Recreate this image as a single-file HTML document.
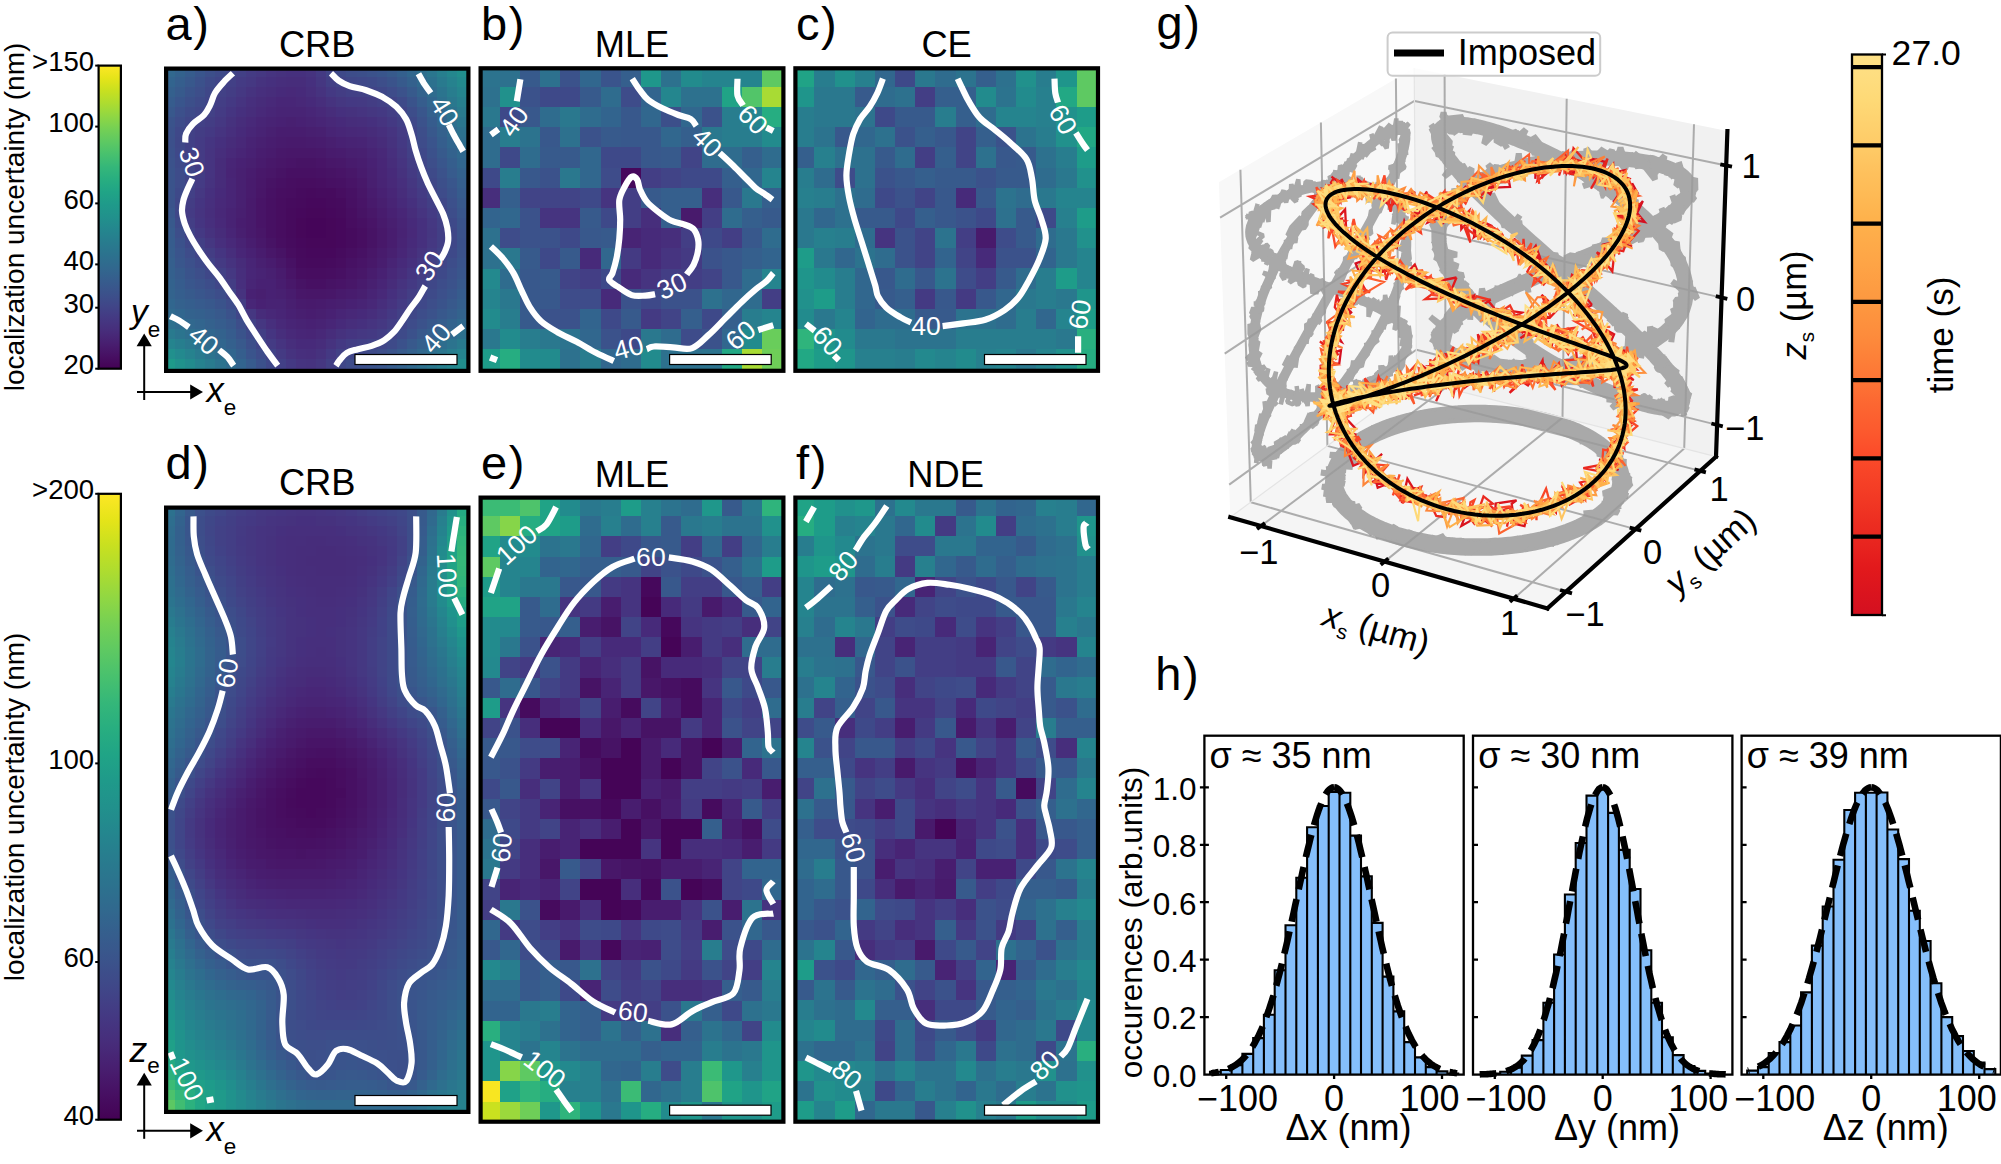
<!DOCTYPE html>
<html><head><meta charset="utf-8"><title>figure</title>
<style>
html,body{margin:0;padding:0;background:#fff;}
svg{display:block;font-family:"Liberation Sans", sans-serif;}
</style></head><body>
<svg width="2001" height="1164" viewBox="0 0 2001 1164">
<rect width="2001" height="1164" fill="#fff"/>
<defs>
<linearGradient id="gv" x1="0" y1="0" x2="0" y2="1"><stop offset="0%" stop-color="#fde725"/><stop offset="4.2%" stop-color="#e5e419"/><stop offset="8.3%" stop-color="#c8e020"/><stop offset="12.5%" stop-color="#addc30"/><stop offset="16.7%" stop-color="#90d743"/><stop offset="20.8%" stop-color="#75d054"/><stop offset="25%" stop-color="#5ec962"/><stop offset="29.2%" stop-color="#48c16e"/><stop offset="33.3%" stop-color="#35b779"/><stop offset="37.5%" stop-color="#28ae80"/><stop offset="41.7%" stop-color="#20a486"/><stop offset="45.8%" stop-color="#1f9a8a"/><stop offset="50%" stop-color="#21918c"/><stop offset="54.2%" stop-color="#24868e"/><stop offset="58.3%" stop-color="#287c8e"/><stop offset="62.5%" stop-color="#2c728e"/><stop offset="66.7%" stop-color="#31688e"/><stop offset="70.8%" stop-color="#365d8d"/><stop offset="75%" stop-color="#3b528b"/><stop offset="79.2%" stop-color="#404688"/><stop offset="83.3%" stop-color="#443983"/><stop offset="87.5%" stop-color="#472d7b"/><stop offset="91.7%" stop-color="#481f70"/><stop offset="95.8%" stop-color="#471063"/><stop offset="100%" stop-color="#440154"/></linearGradient>
<linearGradient id="gy" x1="0" y1="0" x2="0" y2="1"><stop offset="0%" stop-color="#fee187"/><stop offset="4.2%" stop-color="#fedd7f"/><stop offset="8.3%" stop-color="#fed976"/><stop offset="12.5%" stop-color="#fed16e"/><stop offset="16.7%" stop-color="#feca66"/><stop offset="20.8%" stop-color="#fec15d"/><stop offset="25%" stop-color="#feba55"/><stop offset="29.2%" stop-color="#feb24c"/><stop offset="33.3%" stop-color="#feab49"/><stop offset="37.5%" stop-color="#fea446"/><stop offset="41.7%" stop-color="#fd9c42"/><stop offset="45.8%" stop-color="#fd953f"/><stop offset="50%" stop-color="#fd8c3c"/><stop offset="54.2%" stop-color="#fd8038"/><stop offset="58.3%" stop-color="#fd7435"/><stop offset="62.5%" stop-color="#fc6631"/><stop offset="66.7%" stop-color="#fc5b2e"/><stop offset="70.8%" stop-color="#fc4d2a"/><stop offset="75%" stop-color="#f74327"/><stop offset="79.2%" stop-color="#f23924"/><stop offset="83.3%" stop-color="#ed2e21"/><stop offset="87.5%" stop-color="#e8241f"/><stop offset="91.7%" stop-color="#e2191c"/><stop offset="95.8%" stop-color="#db141e"/><stop offset="100%" stop-color="#d41020"/></linearGradient>
</defs>
<rect x="98.6" y="65.6" width="22.3" height="303.1" fill="url(#gv)" stroke="#000" stroke-width="2.2"/>
<path d="M95.2,368.7H98.6" stroke="#000" stroke-width="2"/>
<text x="94.2" y="374.1" font-size="27.6" text-anchor="end" fill="#000">20</text>
<path d="M95.2,307.7H98.6" stroke="#000" stroke-width="2"/>
<text x="94.2" y="313.1" font-size="27.6" text-anchor="end" fill="#000">30</text>
<path d="M95.2,264.4H98.6" stroke="#000" stroke-width="2"/>
<text x="94.2" y="269.8" font-size="27.6" text-anchor="end" fill="#000">40</text>
<path d="M95.2,203.4H98.6" stroke="#000" stroke-width="2"/>
<text x="94.2" y="208.8" font-size="27.6" text-anchor="end" fill="#000">60</text>
<path d="M95.2,126.6H98.6" stroke="#000" stroke-width="2"/>
<text x="94.2" y="132" font-size="27.6" text-anchor="end" fill="#000">100</text>
<path d="M95.2,65.6H98.6" stroke="#000" stroke-width="2"/>
<text x="94.2" y="71" font-size="27.6" text-anchor="end" fill="#000">&gt;150</text>
<rect x="98.6" y="493.8" width="22.3" height="625.9" fill="url(#gv)" stroke="#000" stroke-width="2.2"/>
<path d="M95.2,1119.7H98.6" stroke="#000" stroke-width="2"/>
<text x="94.2" y="1125.1" font-size="27.6" text-anchor="end" fill="#000">40</text>
<path d="M95.2,962H98.6" stroke="#000" stroke-width="2"/>
<text x="94.2" y="967.4" font-size="27.6" text-anchor="end" fill="#000">60</text>
<path d="M95.2,763.4H98.6" stroke="#000" stroke-width="2"/>
<text x="94.2" y="768.8" font-size="27.6" text-anchor="end" fill="#000">100</text>
<path d="M95.2,493.8H98.6" stroke="#000" stroke-width="2"/>
<text x="94.2" y="499.2" font-size="27.6" text-anchor="end" fill="#000">&gt;200</text>
<text x="0" y="0" font-size="28" text-anchor="middle" fill="#000" transform="translate(23.9,217) rotate(-90)">localization uncertainty (nm)</text>
<text x="0" y="0" font-size="28" text-anchor="middle" fill="#000" transform="translate(23.9,806.9) rotate(-90)">localization uncertainty (nm)</text>
<g class="hc" shape-rendering="crispEdges">
<g transform="translate(165,66.9)"><rect x="0" width="10.7" height="10.7" fill="#31688e"/><rect x="10.1" width="10.7" height="10.7" fill="#33628d"/><rect x="20.2" width="10.7" height="10.7" fill="#365c8d"/><rect x="30.2" width="10.7" height="10.7" fill="#39558c"/><rect x="40.3" width="10.7" height="10.7" fill="#3c4f8a"/><rect x="50.4" width="10.7" height="10.7" fill="#3e4a89"/><rect x="60.5" width="10.7" height="10.7" fill="#404588"/><rect x="70.5" width="10.7" height="10.7" fill="#424086"/><rect x="80.6" width="10.7" height="10.7" fill="#443b84"/><rect x="90.7" width="10.7" height="10.7" fill="#453882"/><rect x="100.8" width="10.7" height="10.7" fill="#463480"/><rect x="110.8" width="10.7" height="10.7" fill="#46327e"/><rect x="120.9" width="20.8" height="10.7" fill="#46307e"/><rect x="141.1" width="10.7" height="10.7" fill="#46337f"/><rect x="151.1" width="10.7" height="10.7" fill="#443a83"/><rect x="161.2" width="10.7" height="10.7" fill="#414487"/><rect x="171.3" width="10.7" height="10.7" fill="#3e4989"/><rect x="181.4" width="10.7" height="10.7" fill="#3d4d8a"/><rect x="191.5" width="10.7" height="10.7" fill="#3c4f8a"/><rect x="201.5" width="10.7" height="10.7" fill="#3b528b"/><rect x="211.6" width="10.7" height="10.7" fill="#39558c"/><rect x="221.7" width="10.7" height="10.7" fill="#375a8c"/><rect x="231.8" width="10.7" height="10.7" fill="#34608d"/><rect x="241.8" width="10.7" height="10.7" fill="#31678e"/><rect x="251.9" width="10.7" height="10.7" fill="#2e6f8e"/><rect x="262" width="10.7" height="10.7" fill="#2a768e"/><rect x="272.1" width="10.7" height="10.7" fill="#277f8e"/><rect x="282.1" width="10.7" height="10.7" fill="#24878e"/><rect x="292.2" width="10.7" height="10.7" fill="#218f8d"/></g>
<g transform="translate(165,77)"><rect x="0" width="10.7" height="10.7" fill="#32648e"/><rect x="10.1" width="10.7" height="10.7" fill="#355e8d"/><rect x="20.2" width="10.7" height="10.7" fill="#38588c"/><rect x="30.2" width="10.7" height="10.7" fill="#3b518b"/><rect x="40.3" width="10.7" height="10.7" fill="#3e4a89"/><rect x="50.4" width="10.7" height="10.7" fill="#404588"/><rect x="60.5" width="10.7" height="10.7" fill="#424086"/><rect x="70.5" width="10.7" height="10.7" fill="#443b84"/><rect x="80.6" width="10.7" height="10.7" fill="#453882"/><rect x="90.7" width="10.7" height="10.7" fill="#46337f"/><rect x="100.8" width="10.7" height="10.7" fill="#46307e"/><rect x="110.8" width="10.7" height="10.7" fill="#472e7c"/><rect x="120.9" width="20.8" height="10.7" fill="#472d7b"/><rect x="141.1" width="10.7" height="10.7" fill="#46307e"/><rect x="151.1" width="10.7" height="10.7" fill="#453781"/><rect x="161.2" width="10.7" height="10.7" fill="#423f85"/><rect x="171.3" width="10.7" height="10.7" fill="#414487"/><rect x="181.4" width="10.7" height="10.7" fill="#3f4788"/><rect x="191.5" width="10.7" height="10.7" fill="#3f4889"/><rect x="201.5" width="10.7" height="10.7" fill="#3e4a89"/><rect x="211.6" width="10.7" height="10.7" fill="#3d4e8a"/><rect x="221.7" width="10.7" height="10.7" fill="#3a538b"/><rect x="231.8" width="10.7" height="10.7" fill="#375a8c"/><rect x="241.8" width="10.7" height="10.7" fill="#34618d"/><rect x="251.9" width="10.7" height="10.7" fill="#30698e"/><rect x="262" width="10.7" height="10.7" fill="#2c718e"/><rect x="272.1" width="10.7" height="10.7" fill="#297a8e"/><rect x="282.1" width="10.7" height="10.7" fill="#26828e"/><rect x="292.2" width="10.7" height="10.7" fill="#238a8d"/></g>
<g transform="translate(165,87.1)"><rect x="0" width="10.7" height="10.7" fill="#34608d"/><rect x="10.1" width="10.7" height="10.7" fill="#375a8c"/><rect x="20.2" width="10.7" height="10.7" fill="#3a538b"/><rect x="30.2" width="10.7" height="10.7" fill="#3d4e8a"/><rect x="40.3" width="10.7" height="10.7" fill="#3f4788"/><rect x="50.4" width="10.7" height="10.7" fill="#424186"/><rect x="60.5" width="10.7" height="10.7" fill="#433d84"/><rect x="70.5" width="10.7" height="10.7" fill="#453882"/><rect x="80.6" width="10.7" height="10.7" fill="#46337f"/><rect x="90.7" width="10.7" height="10.7" fill="#472f7d"/><rect x="100.8" width="10.7" height="10.7" fill="#472d7b"/><rect x="110.8" width="10.7" height="10.7" fill="#472a7a"/><rect x="120.9" width="10.7" height="10.7" fill="#482979"/><rect x="131" width="10.7" height="10.7" fill="#472a7a"/><rect x="141.1" width="10.7" height="10.7" fill="#472e7c"/><rect x="151.1" width="10.7" height="10.7" fill="#46337f"/><rect x="161.2" width="10.7" height="10.7" fill="#443983"/><rect x="171.3" width="10.7" height="10.7" fill="#433d84"/><rect x="181.4" width="10.7" height="10.7" fill="#424086"/><rect x="191.5" width="10.7" height="10.7" fill="#424186"/><rect x="201.5" width="10.7" height="10.7" fill="#414487"/><rect x="211.6" width="10.7" height="10.7" fill="#3f4788"/><rect x="221.7" width="10.7" height="10.7" fill="#3e4c8a"/><rect x="231.8" width="10.7" height="10.7" fill="#3b528b"/><rect x="241.8" width="10.7" height="10.7" fill="#375a8c"/><rect x="251.9" width="10.7" height="10.7" fill="#33638d"/><rect x="262" width="10.7" height="10.7" fill="#2f6c8e"/><rect x="272.1" width="10.7" height="10.7" fill="#2b748e"/><rect x="282.1" width="10.7" height="10.7" fill="#287d8e"/><rect x="292.2" width="10.7" height="10.7" fill="#25858e"/></g>
<g transform="translate(165,97.1)"><rect x="0" width="10.7" height="10.7" fill="#365c8d"/><rect x="10.1" width="10.7" height="10.7" fill="#39558c"/><rect x="20.2" width="10.7" height="10.7" fill="#3c4f8a"/><rect x="30.2" width="10.7" height="10.7" fill="#3e4a89"/><rect x="40.3" width="10.7" height="10.7" fill="#404588"/><rect x="50.4" width="10.7" height="10.7" fill="#433e85"/><rect x="60.5" width="10.7" height="10.7" fill="#443983"/><rect x="70.5" width="10.7" height="10.7" fill="#463480"/><rect x="80.6" width="10.7" height="10.7" fill="#472f7d"/><rect x="90.7" width="10.7" height="10.7" fill="#472c7a"/><rect x="100.8" width="10.7" height="10.7" fill="#482979"/><rect x="110.8" width="20.8" height="10.7" fill="#482677"/><rect x="131" width="10.7" height="10.7" fill="#482878"/><rect x="141.1" width="10.7" height="10.7" fill="#472a7a"/><rect x="151.1" width="10.7" height="10.7" fill="#472e7c"/><rect x="161.2" width="10.7" height="10.7" fill="#46337f"/><rect x="171.3" width="10.7" height="10.7" fill="#453781"/><rect x="181.4" width="10.7" height="10.7" fill="#443983"/><rect x="191.5" width="10.7" height="10.7" fill="#443a83"/><rect x="201.5" width="10.7" height="10.7" fill="#433d84"/><rect x="211.6" width="10.7" height="10.7" fill="#424086"/><rect x="221.7" width="10.7" height="10.7" fill="#414487"/><rect x="231.8" width="10.7" height="10.7" fill="#3e4a89"/><rect x="241.8" width="10.7" height="10.7" fill="#3a538b"/><rect x="251.9" width="10.7" height="10.7" fill="#365d8d"/><rect x="262" width="10.7" height="10.7" fill="#31668e"/><rect x="272.1" width="10.7" height="10.7" fill="#2d708e"/><rect x="282.1" width="10.7" height="10.7" fill="#2a788e"/><rect x="292.2" width="10.7" height="10.7" fill="#27808e"/></g>
<g transform="translate(165,107.2)"><rect x="0" width="10.7" height="10.7" fill="#38588c"/><rect x="10.1" width="10.7" height="10.7" fill="#3c508b"/><rect x="20.2" width="10.7" height="10.7" fill="#3e4a89"/><rect x="30.2" width="10.7" height="10.7" fill="#404688"/><rect x="40.3" width="10.7" height="10.7" fill="#424186"/><rect x="50.4" width="10.7" height="10.7" fill="#443b84"/><rect x="60.5" width="10.7" height="10.7" fill="#453581"/><rect x="70.5" width="10.7" height="10.7" fill="#46307e"/><rect x="80.6" width="10.7" height="10.7" fill="#472d7b"/><rect x="90.7" width="10.7" height="10.7" fill="#482979"/><rect x="100.8" width="10.7" height="10.7" fill="#482677"/><rect x="110.8" width="30.8" height="10.7" fill="#482475"/><rect x="141.1" width="10.7" height="10.7" fill="#482677"/><rect x="151.1" width="10.7" height="10.7" fill="#482979"/><rect x="161.2" width="10.7" height="10.7" fill="#472d7b"/><rect x="171.3" width="10.7" height="10.7" fill="#46307e"/><rect x="181.4" width="10.7" height="10.7" fill="#46327e"/><rect x="191.5" width="10.7" height="10.7" fill="#463480"/><rect x="201.5" width="10.7" height="10.7" fill="#453781"/><rect x="211.6" width="10.7" height="10.7" fill="#443983"/><rect x="221.7" width="10.7" height="10.7" fill="#433e85"/><rect x="231.8" width="10.7" height="10.7" fill="#414487"/><rect x="241.8" width="10.7" height="10.7" fill="#3d4d8a"/><rect x="251.9" width="10.7" height="10.7" fill="#39568c"/><rect x="262" width="10.7" height="10.7" fill="#34618d"/><rect x="272.1" width="10.7" height="10.7" fill="#306a8e"/><rect x="282.1" width="10.7" height="10.7" fill="#2c728e"/><rect x="292.2" width="10.7" height="10.7" fill="#297b8e"/></g>
<g transform="translate(165,117.3)"><rect x="0" width="10.7" height="10.7" fill="#3a538b"/><rect x="10.1" width="10.7" height="10.7" fill="#3e4c8a"/><rect x="20.2" width="10.7" height="10.7" fill="#404688"/><rect x="30.2" width="10.7" height="10.7" fill="#424186"/><rect x="40.3" width="10.7" height="10.7" fill="#433d84"/><rect x="50.4" width="10.7" height="10.7" fill="#453882"/><rect x="60.5" width="10.7" height="10.7" fill="#46327e"/><rect x="70.5" width="10.7" height="10.7" fill="#472d7b"/><rect x="80.6" width="10.7" height="10.7" fill="#482979"/><rect x="90.7" width="10.7" height="10.7" fill="#482576"/><rect x="100.8" width="10.7" height="10.7" fill="#482374"/><rect x="110.8" width="10.7" height="10.7" fill="#482173"/><rect x="120.9" width="10.7" height="10.7" fill="#482071"/><rect x="131" width="10.7" height="10.7" fill="#482173"/><rect x="141.1" width="10.7" height="10.7" fill="#482374"/><rect x="151.1" width="10.7" height="10.7" fill="#482576"/><rect x="161.2" width="10.7" height="10.7" fill="#482878"/><rect x="171.3" width="10.7" height="10.7" fill="#472a7a"/><rect x="181.4" width="10.7" height="10.7" fill="#472d7b"/><rect x="191.5" width="10.7" height="10.7" fill="#472e7c"/><rect x="201.5" width="10.7" height="10.7" fill="#46307e"/><rect x="211.6" width="10.7" height="10.7" fill="#463480"/><rect x="221.7" width="10.7" height="10.7" fill="#443983"/><rect x="231.8" width="10.7" height="10.7" fill="#423f85"/><rect x="241.8" width="10.7" height="10.7" fill="#3f4889"/><rect x="251.9" width="10.7" height="10.7" fill="#3b528b"/><rect x="262" width="10.7" height="10.7" fill="#365c8d"/><rect x="272.1" width="10.7" height="10.7" fill="#31668e"/><rect x="282.1" width="10.7" height="10.7" fill="#2e6f8e"/><rect x="292.2" width="10.7" height="10.7" fill="#2a768e"/></g>
<g transform="translate(165,127.4)"><rect x="0" width="10.7" height="10.7" fill="#3b518b"/><rect x="10.1" width="10.7" height="10.7" fill="#3f4889"/><rect x="20.2" width="10.7" height="10.7" fill="#424186"/><rect x="30.2" width="10.7" height="10.7" fill="#433d84"/><rect x="40.3" width="10.7" height="10.7" fill="#443983"/><rect x="50.4" width="10.7" height="10.7" fill="#463480"/><rect x="60.5" width="10.7" height="10.7" fill="#472f7d"/><rect x="70.5" width="10.7" height="10.7" fill="#472a7a"/><rect x="80.6" width="10.7" height="10.7" fill="#482677"/><rect x="90.7" width="10.7" height="10.7" fill="#482374"/><rect x="100.8" width="10.7" height="10.7" fill="#482071"/><rect x="110.8" width="30.8" height="10.7" fill="#481d6f"/><rect x="141.1" width="10.7" height="10.7" fill="#481f70"/><rect x="151.1" width="10.7" height="10.7" fill="#482071"/><rect x="161.2" width="10.7" height="10.7" fill="#482475"/><rect x="171.3" width="10.7" height="10.7" fill="#482677"/><rect x="181.4" width="10.7" height="10.7" fill="#482878"/><rect x="191.5" width="10.7" height="10.7" fill="#482979"/><rect x="201.5" width="10.7" height="10.7" fill="#472c7a"/><rect x="211.6" width="10.7" height="10.7" fill="#472f7d"/><rect x="221.7" width="10.7" height="10.7" fill="#463480"/><rect x="231.8" width="10.7" height="10.7" fill="#443b84"/><rect x="241.8" width="10.7" height="10.7" fill="#404588"/><rect x="251.9" width="10.7" height="10.7" fill="#3d4e8a"/><rect x="262" width="10.7" height="10.7" fill="#38588c"/><rect x="272.1" width="10.7" height="10.7" fill="#34618d"/><rect x="282.1" width="10.7" height="10.7" fill="#306a8e"/><rect x="292.2" width="10.7" height="10.7" fill="#2c718e"/></g>
<g transform="translate(165,137.4)"><rect x="0" width="10.7" height="10.7" fill="#3c508b"/><rect x="10.1" width="10.7" height="10.7" fill="#3f4788"/><rect x="20.2" width="10.7" height="10.7" fill="#424086"/><rect x="30.2" width="10.7" height="10.7" fill="#443b84"/><rect x="40.3" width="10.7" height="10.7" fill="#453581"/><rect x="50.4" width="10.7" height="10.7" fill="#46307e"/><rect x="60.5" width="10.7" height="10.7" fill="#472c7a"/><rect x="70.5" width="10.7" height="10.7" fill="#482878"/><rect x="80.6" width="10.7" height="10.7" fill="#482374"/><rect x="90.7" width="10.7" height="10.7" fill="#482071"/><rect x="100.8" width="10.7" height="10.7" fill="#481d6f"/><rect x="110.8" width="10.7" height="10.7" fill="#481b6d"/><rect x="120.9" width="20.8" height="10.7" fill="#481a6c"/><rect x="141.1" width="10.7" height="10.7" fill="#481b6d"/><rect x="151.1" width="10.7" height="10.7" fill="#481c6e"/><rect x="161.2" width="10.7" height="10.7" fill="#481f70"/><rect x="171.3" width="10.7" height="10.7" fill="#482173"/><rect x="181.4" width="10.7" height="10.7" fill="#482374"/><rect x="191.5" width="10.7" height="10.7" fill="#482475"/><rect x="201.5" width="10.7" height="10.7" fill="#482878"/><rect x="211.6" width="10.7" height="10.7" fill="#472c7a"/><rect x="221.7" width="10.7" height="10.7" fill="#46327e"/><rect x="231.8" width="10.7" height="10.7" fill="#443983"/><rect x="241.8" width="10.7" height="10.7" fill="#414287"/><rect x="251.9" width="10.7" height="10.7" fill="#3e4c8a"/><rect x="262" width="10.7" height="10.7" fill="#3a548c"/><rect x="272.1" width="10.7" height="10.7" fill="#355e8d"/><rect x="282.1" width="10.7" height="10.7" fill="#31668e"/><rect x="292.2" width="10.7" height="10.7" fill="#2e6e8e"/></g>
<g transform="translate(165,147.5)"><rect x="0" width="10.7" height="10.7" fill="#3b518b"/><rect x="10.1" width="10.7" height="10.7" fill="#3f4889"/><rect x="20.2" width="10.7" height="10.7" fill="#424186"/><rect x="30.2" width="10.7" height="10.7" fill="#443b84"/><rect x="40.3" width="10.7" height="10.7" fill="#463480"/><rect x="50.4" width="10.7" height="10.7" fill="#472e7c"/><rect x="60.5" width="10.7" height="10.7" fill="#482979"/><rect x="70.5" width="10.7" height="10.7" fill="#482576"/><rect x="80.6" width="10.7" height="10.7" fill="#482173"/><rect x="90.7" width="10.7" height="10.7" fill="#481d6f"/><rect x="100.8" width="10.7" height="10.7" fill="#481b6d"/><rect x="110.8" width="10.7" height="10.7" fill="#48186a"/><rect x="120.9" width="30.8" height="10.7" fill="#481769"/><rect x="151.1" width="10.7" height="10.7" fill="#48186a"/><rect x="161.2" width="10.7" height="10.7" fill="#481b6d"/><rect x="171.3" width="10.7" height="10.7" fill="#481c6e"/><rect x="181.4" width="10.7" height="10.7" fill="#481f70"/><rect x="191.5" width="10.7" height="10.7" fill="#482071"/><rect x="201.5" width="10.7" height="10.7" fill="#482475"/><rect x="211.6" width="10.7" height="10.7" fill="#482878"/><rect x="221.7" width="10.7" height="10.7" fill="#472f7d"/><rect x="231.8" width="10.7" height="10.7" fill="#453781"/><rect x="241.8" width="10.7" height="10.7" fill="#424086"/><rect x="251.9" width="10.7" height="10.7" fill="#3f4889"/><rect x="262" width="10.7" height="10.7" fill="#3b518b"/><rect x="272.1" width="10.7" height="10.7" fill="#375a8c"/><rect x="282.1" width="10.7" height="10.7" fill="#33628d"/><rect x="292.2" width="10.7" height="10.7" fill="#30698e"/></g>
<g transform="translate(165,157.6)"><rect x="0" width="10.7" height="10.7" fill="#3b528b"/><rect x="10.1" width="10.7" height="10.7" fill="#3e4a89"/><rect x="20.2" width="10.7" height="10.7" fill="#414487"/><rect x="30.2" width="10.7" height="10.7" fill="#443b84"/><rect x="40.3" width="10.7" height="10.7" fill="#463480"/><rect x="50.4" width="10.7" height="10.7" fill="#472c7a"/><rect x="60.5" width="10.7" height="10.7" fill="#482576"/><rect x="70.5" width="10.7" height="10.7" fill="#482173"/><rect x="80.6" width="10.7" height="10.7" fill="#481f70"/><rect x="90.7" width="10.7" height="10.7" fill="#481b6d"/><rect x="100.8" width="10.7" height="10.7" fill="#48186a"/><rect x="110.8" width="10.7" height="10.7" fill="#481668"/><rect x="120.9" width="10.7" height="10.7" fill="#481467"/><rect x="131" width="20.8" height="10.7" fill="#471365"/><rect x="151.1" width="10.7" height="10.7" fill="#481467"/><rect x="161.2" width="10.7" height="10.7" fill="#481769"/><rect x="171.3" width="10.7" height="10.7" fill="#48186a"/><rect x="181.4" width="10.7" height="10.7" fill="#481b6d"/><rect x="191.5" width="10.7" height="10.7" fill="#481d6f"/><rect x="201.5" width="10.7" height="10.7" fill="#482173"/><rect x="211.6" width="10.7" height="10.7" fill="#482677"/><rect x="221.7" width="10.7" height="10.7" fill="#472d7b"/><rect x="231.8" width="10.7" height="10.7" fill="#463480"/><rect x="241.8" width="10.7" height="10.7" fill="#433d84"/><rect x="251.9" width="10.7" height="10.7" fill="#404688"/><rect x="262" width="10.7" height="10.7" fill="#3d4e8a"/><rect x="272.1" width="10.7" height="10.7" fill="#39568c"/><rect x="282.1" width="10.7" height="10.7" fill="#355e8d"/><rect x="292.2" width="10.7" height="10.7" fill="#31668e"/></g>
<g transform="translate(165,167.7)"><rect x="0" width="10.7" height="10.7" fill="#3a538b"/><rect x="10.1" width="10.7" height="10.7" fill="#3e4c8a"/><rect x="20.2" width="10.7" height="10.7" fill="#404588"/><rect x="30.2" width="10.7" height="10.7" fill="#433d84"/><rect x="40.3" width="10.7" height="10.7" fill="#463480"/><rect x="50.4" width="10.7" height="10.7" fill="#472c7a"/><rect x="60.5" width="10.7" height="10.7" fill="#482475"/><rect x="70.5" width="10.7" height="10.7" fill="#482071"/><rect x="80.6" width="10.7" height="10.7" fill="#481c6e"/><rect x="90.7" width="10.7" height="10.7" fill="#48186a"/><rect x="100.8" width="10.7" height="10.7" fill="#481668"/><rect x="110.8" width="10.7" height="10.7" fill="#471365"/><rect x="120.9" width="30.8" height="10.7" fill="#471063"/><rect x="151.1" width="10.7" height="10.7" fill="#471164"/><rect x="161.2" width="10.7" height="10.7" fill="#471365"/><rect x="171.3" width="10.7" height="10.7" fill="#481467"/><rect x="181.4" width="10.7" height="10.7" fill="#481769"/><rect x="191.5" width="10.7" height="10.7" fill="#481b6d"/><rect x="201.5" width="10.7" height="10.7" fill="#482071"/><rect x="211.6" width="10.7" height="10.7" fill="#482576"/><rect x="221.7" width="10.7" height="10.7" fill="#472a7a"/><rect x="231.8" width="10.7" height="10.7" fill="#46327e"/><rect x="241.8" width="10.7" height="10.7" fill="#443a83"/><rect x="251.9" width="10.7" height="10.7" fill="#414287"/><rect x="262" width="10.7" height="10.7" fill="#3e4a89"/><rect x="272.1" width="10.7" height="10.7" fill="#3b528b"/><rect x="282.1" width="10.7" height="10.7" fill="#375b8d"/><rect x="292.2" width="10.7" height="10.7" fill="#33628d"/></g>
<g transform="translate(165,177.7)"><rect x="0" width="10.7" height="10.7" fill="#3a538b"/><rect x="10.1" width="10.7" height="10.7" fill="#3e4c8a"/><rect x="20.2" width="10.7" height="10.7" fill="#414487"/><rect x="30.2" width="10.7" height="10.7" fill="#443b84"/><rect x="40.3" width="10.7" height="10.7" fill="#46337f"/><rect x="50.4" width="10.7" height="10.7" fill="#472c7a"/><rect x="60.5" width="10.7" height="10.7" fill="#482576"/><rect x="70.5" width="10.7" height="10.7" fill="#482071"/><rect x="80.6" width="10.7" height="10.7" fill="#481b6d"/><rect x="90.7" width="10.7" height="10.7" fill="#481769"/><rect x="100.8" width="10.7" height="10.7" fill="#471365"/><rect x="110.8" width="10.7" height="10.7" fill="#471063"/><rect x="120.9" width="10.7" height="10.7" fill="#470e61"/><rect x="131" width="20.8" height="10.7" fill="#470d60"/><rect x="151.1" width="10.7" height="10.7" fill="#470e61"/><rect x="161.2" width="10.7" height="10.7" fill="#471063"/><rect x="171.3" width="10.7" height="10.7" fill="#471164"/><rect x="181.4" width="10.7" height="10.7" fill="#481467"/><rect x="191.5" width="10.7" height="10.7" fill="#48186a"/><rect x="201.5" width="10.7" height="10.7" fill="#481f70"/><rect x="211.6" width="10.7" height="10.7" fill="#482475"/><rect x="221.7" width="10.7" height="10.7" fill="#482979"/><rect x="231.8" width="10.7" height="10.7" fill="#472f7d"/><rect x="241.8" width="10.7" height="10.7" fill="#453781"/><rect x="251.9" width="10.7" height="10.7" fill="#423f85"/><rect x="262" width="10.7" height="10.7" fill="#3f4788"/><rect x="272.1" width="10.7" height="10.7" fill="#3c4f8a"/><rect x="282.1" width="10.7" height="10.7" fill="#39568c"/><rect x="292.2" width="10.7" height="10.7" fill="#355f8d"/></g>
<g transform="translate(165,187.8)"><rect x="0" width="10.7" height="10.7" fill="#3a538b"/><rect x="10.1" width="10.7" height="10.7" fill="#3e4989"/><rect x="20.2" width="10.7" height="10.7" fill="#424086"/><rect x="30.2" width="10.7" height="10.7" fill="#453882"/><rect x="40.3" width="10.7" height="10.7" fill="#46307e"/><rect x="50.4" width="10.7" height="10.7" fill="#472a7a"/><rect x="60.5" width="10.7" height="10.7" fill="#482576"/><rect x="70.5" width="10.7" height="10.7" fill="#482071"/><rect x="80.6" width="10.7" height="10.7" fill="#481b6d"/><rect x="90.7" width="10.7" height="10.7" fill="#481668"/><rect x="100.8" width="10.7" height="10.7" fill="#471164"/><rect x="110.8" width="10.7" height="10.7" fill="#470e61"/><rect x="120.9" width="10.7" height="10.7" fill="#470d60"/><rect x="131" width="10.7" height="10.7" fill="#460b5e"/><rect x="141.1" width="10.7" height="10.7" fill="#460a5d"/><rect x="151.1" width="20.8" height="10.7" fill="#460b5e"/><rect x="171.3" width="10.7" height="10.7" fill="#470e61"/><rect x="181.4" width="10.7" height="10.7" fill="#471164"/><rect x="191.5" width="10.7" height="10.7" fill="#481668"/><rect x="201.5" width="10.7" height="10.7" fill="#481c6e"/><rect x="211.6" width="10.7" height="10.7" fill="#482173"/><rect x="221.7" width="10.7" height="10.7" fill="#482677"/><rect x="231.8" width="10.7" height="10.7" fill="#472d7b"/><rect x="241.8" width="10.7" height="10.7" fill="#463480"/><rect x="251.9" width="10.7" height="10.7" fill="#443b84"/><rect x="262" width="10.7" height="10.7" fill="#414487"/><rect x="272.1" width="10.7" height="10.7" fill="#3e4c8a"/><rect x="282.1" width="10.7" height="10.7" fill="#3a538b"/><rect x="292.2" width="10.7" height="10.7" fill="#365c8d"/></g>
<g transform="translate(165,197.9)"><rect x="0" width="10.7" height="10.7" fill="#3a538b"/><rect x="10.1" width="10.7" height="10.7" fill="#3f4788"/><rect x="20.2" width="10.7" height="10.7" fill="#433d84"/><rect x="30.2" width="10.7" height="10.7" fill="#453581"/><rect x="40.3" width="10.7" height="10.7" fill="#472f7d"/><rect x="50.4" width="10.7" height="10.7" fill="#482979"/><rect x="60.5" width="10.7" height="10.7" fill="#482576"/><rect x="70.5" width="10.7" height="10.7" fill="#482071"/><rect x="80.6" width="10.7" height="10.7" fill="#481a6c"/><rect x="90.7" width="10.7" height="10.7" fill="#481467"/><rect x="100.8" width="10.7" height="10.7" fill="#471063"/><rect x="110.8" width="10.7" height="10.7" fill="#470d60"/><rect x="120.9" width="10.7" height="10.7" fill="#460b5e"/><rect x="131" width="10.7" height="10.7" fill="#460a5d"/><rect x="141.1" width="20.8" height="10.7" fill="#46085c"/><rect x="161.2" width="10.7" height="10.7" fill="#460a5d"/><rect x="171.3" width="10.7" height="10.7" fill="#460b5e"/><rect x="181.4" width="10.7" height="10.7" fill="#471063"/><rect x="191.5" width="10.7" height="10.7" fill="#481467"/><rect x="201.5" width="10.7" height="10.7" fill="#481a6c"/><rect x="211.6" width="10.7" height="10.7" fill="#481f70"/><rect x="221.7" width="10.7" height="10.7" fill="#482475"/><rect x="231.8" width="10.7" height="10.7" fill="#472a7a"/><rect x="241.8" width="10.7" height="10.7" fill="#46307e"/><rect x="251.9" width="10.7" height="10.7" fill="#453882"/><rect x="262" width="10.7" height="10.7" fill="#423f85"/><rect x="272.1" width="10.7" height="10.7" fill="#3f4788"/><rect x="282.1" width="10.7" height="10.7" fill="#3c508b"/><rect x="292.2" width="10.7" height="10.7" fill="#38598c"/></g>
<g transform="translate(165,208)"><rect x="0" width="10.7" height="10.7" fill="#39568c"/><rect x="10.1" width="10.7" height="10.7" fill="#3f4788"/><rect x="20.2" width="10.7" height="10.7" fill="#443b84"/><rect x="30.2" width="10.7" height="10.7" fill="#463480"/><rect x="40.3" width="10.7" height="10.7" fill="#472e7c"/><rect x="50.4" width="10.7" height="10.7" fill="#482878"/><rect x="60.5" width="10.7" height="10.7" fill="#482374"/><rect x="70.5" width="10.7" height="10.7" fill="#481f70"/><rect x="80.6" width="10.7" height="10.7" fill="#481a6c"/><rect x="90.7" width="10.7" height="10.7" fill="#481467"/><rect x="100.8" width="10.7" height="10.7" fill="#471063"/><rect x="110.8" width="10.7" height="10.7" fill="#470d60"/><rect x="120.9" width="10.7" height="10.7" fill="#460a5d"/><rect x="131" width="10.7" height="10.7" fill="#46085c"/><rect x="141.1" width="20.8" height="10.7" fill="#46075a"/><rect x="161.2" width="10.7" height="10.7" fill="#46085c"/><rect x="171.3" width="10.7" height="10.7" fill="#460a5d"/><rect x="181.4" width="10.7" height="10.7" fill="#470e61"/><rect x="191.5" width="10.7" height="10.7" fill="#471365"/><rect x="201.5" width="10.7" height="10.7" fill="#481769"/><rect x="211.6" width="10.7" height="10.7" fill="#481c6e"/><rect x="221.7" width="10.7" height="10.7" fill="#482173"/><rect x="231.8" width="10.7" height="10.7" fill="#482677"/><rect x="241.8" width="10.7" height="10.7" fill="#472d7b"/><rect x="251.9" width="10.7" height="10.7" fill="#463480"/><rect x="262" width="10.7" height="10.7" fill="#443b84"/><rect x="272.1" width="10.7" height="10.7" fill="#414487"/><rect x="282.1" width="10.7" height="10.7" fill="#3d4d8a"/><rect x="292.2" width="10.7" height="10.7" fill="#39568c"/></g>
<g transform="translate(165,218)"><rect x="0" width="10.7" height="10.7" fill="#38598c"/><rect x="10.1" width="10.7" height="10.7" fill="#3e4a89"/><rect x="20.2" width="10.7" height="10.7" fill="#433e85"/><rect x="30.2" width="10.7" height="10.7" fill="#453581"/><rect x="40.3" width="10.7" height="10.7" fill="#472f7d"/><rect x="50.4" width="10.7" height="10.7" fill="#482979"/><rect x="60.5" width="10.7" height="10.7" fill="#482374"/><rect x="70.5" width="10.7" height="10.7" fill="#481d6f"/><rect x="80.6" width="10.7" height="10.7" fill="#481a6c"/><rect x="90.7" width="10.7" height="10.7" fill="#481467"/><rect x="100.8" width="10.7" height="10.7" fill="#471063"/><rect x="110.8" width="10.7" height="10.7" fill="#470d60"/><rect x="120.9" width="10.7" height="10.7" fill="#460a5d"/><rect x="131" width="10.7" height="10.7" fill="#46075a"/><rect x="141.1" width="20.8" height="10.7" fill="#450559"/><rect x="161.2" width="10.7" height="10.7" fill="#46075a"/><rect x="171.3" width="10.7" height="10.7" fill="#46085c"/><rect x="181.4" width="10.7" height="10.7" fill="#470d60"/><rect x="191.5" width="10.7" height="10.7" fill="#471063"/><rect x="201.5" width="10.7" height="10.7" fill="#481467"/><rect x="211.6" width="10.7" height="10.7" fill="#481a6c"/><rect x="221.7" width="10.7" height="10.7" fill="#481f70"/><rect x="231.8" width="10.7" height="10.7" fill="#482475"/><rect x="241.8" width="10.7" height="10.7" fill="#472a7a"/><rect x="251.9" width="10.7" height="10.7" fill="#46307e"/><rect x="262" width="10.7" height="10.7" fill="#453882"/><rect x="272.1" width="10.7" height="10.7" fill="#424086"/><rect x="282.1" width="10.7" height="10.7" fill="#3e4989"/><rect x="292.2" width="10.7" height="10.7" fill="#3a538b"/></g>
<g transform="translate(165,228.1)"><rect x="0" width="10.7" height="10.7" fill="#375b8d"/><rect x="10.1" width="10.7" height="10.7" fill="#3d4e8a"/><rect x="20.2" width="10.7" height="10.7" fill="#414287"/><rect x="30.2" width="10.7" height="10.7" fill="#443983"/><rect x="40.3" width="10.7" height="10.7" fill="#46327e"/><rect x="50.4" width="10.7" height="10.7" fill="#472c7a"/><rect x="60.5" width="10.7" height="10.7" fill="#482576"/><rect x="70.5" width="10.7" height="10.7" fill="#481f70"/><rect x="80.6" width="10.7" height="10.7" fill="#481a6c"/><rect x="90.7" width="10.7" height="10.7" fill="#481668"/><rect x="100.8" width="10.7" height="10.7" fill="#471063"/><rect x="110.8" width="10.7" height="10.7" fill="#470d60"/><rect x="120.9" width="10.7" height="10.7" fill="#460a5d"/><rect x="131" width="10.7" height="10.7" fill="#46075a"/><rect x="141.1" width="20.8" height="10.7" fill="#450559"/><rect x="161.2" width="10.7" height="10.7" fill="#46075a"/><rect x="171.3" width="10.7" height="10.7" fill="#46085c"/><rect x="181.4" width="10.7" height="10.7" fill="#460b5e"/><rect x="191.5" width="10.7" height="10.7" fill="#470e61"/><rect x="201.5" width="10.7" height="10.7" fill="#471365"/><rect x="211.6" width="10.7" height="10.7" fill="#48186a"/><rect x="221.7" width="10.7" height="10.7" fill="#481d6f"/><rect x="231.8" width="10.7" height="10.7" fill="#482374"/><rect x="241.8" width="10.7" height="10.7" fill="#482979"/><rect x="251.9" width="10.7" height="10.7" fill="#46307e"/><rect x="262" width="10.7" height="10.7" fill="#453781"/><rect x="272.1" width="10.7" height="10.7" fill="#423f85"/><rect x="282.1" width="10.7" height="10.7" fill="#3f4788"/><rect x="292.2" width="10.7" height="10.7" fill="#3b528b"/></g>
<g transform="translate(165,238.2)"><rect x="0" width="10.7" height="10.7" fill="#365c8d"/><rect x="10.1" width="10.7" height="10.7" fill="#3b518b"/><rect x="20.2" width="10.7" height="10.7" fill="#3f4788"/><rect x="30.2" width="10.7" height="10.7" fill="#423f85"/><rect x="40.3" width="10.7" height="10.7" fill="#453781"/><rect x="50.4" width="10.7" height="10.7" fill="#472f7d"/><rect x="60.5" width="10.7" height="10.7" fill="#482979"/><rect x="70.5" width="10.7" height="10.7" fill="#482374"/><rect x="80.6" width="10.7" height="10.7" fill="#481d6f"/><rect x="90.7" width="10.7" height="10.7" fill="#48186a"/><rect x="100.8" width="10.7" height="10.7" fill="#471365"/><rect x="110.8" width="10.7" height="10.7" fill="#470e61"/><rect x="120.9" width="10.7" height="10.7" fill="#460b5e"/><rect x="131" width="10.7" height="10.7" fill="#46085c"/><rect x="141.1" width="30.8" height="10.7" fill="#46075a"/><rect x="171.3" width="10.7" height="10.7" fill="#46085c"/><rect x="181.4" width="10.7" height="10.7" fill="#460b5e"/><rect x="191.5" width="10.7" height="10.7" fill="#470e61"/><rect x="201.5" width="10.7" height="10.7" fill="#471365"/><rect x="211.6" width="10.7" height="10.7" fill="#48186a"/><rect x="221.7" width="10.7" height="10.7" fill="#481d6f"/><rect x="231.8" width="10.7" height="10.7" fill="#482475"/><rect x="241.8" width="10.7" height="10.7" fill="#472a7a"/><rect x="251.9" width="10.7" height="10.7" fill="#46307e"/><rect x="262" width="10.7" height="10.7" fill="#453882"/><rect x="272.1" width="10.7" height="10.7" fill="#423f85"/><rect x="282.1" width="10.7" height="10.7" fill="#3f4788"/><rect x="292.2" width="10.7" height="10.7" fill="#3b518b"/></g>
<g transform="translate(165,248.3)"><rect x="0" width="10.7" height="10.7" fill="#365d8d"/><rect x="10.1" width="10.7" height="10.7" fill="#3a548c"/><rect x="20.2" width="10.7" height="10.7" fill="#3e4c8a"/><rect x="30.2" width="10.7" height="10.7" fill="#414487"/><rect x="40.3" width="10.7" height="10.7" fill="#433d84"/><rect x="50.4" width="10.7" height="10.7" fill="#453581"/><rect x="60.5" width="10.7" height="10.7" fill="#472e7c"/><rect x="70.5" width="10.7" height="10.7" fill="#482677"/><rect x="80.6" width="10.7" height="10.7" fill="#482173"/><rect x="90.7" width="10.7" height="10.7" fill="#481c6e"/><rect x="100.8" width="10.7" height="10.7" fill="#481769"/><rect x="110.8" width="10.7" height="10.7" fill="#471365"/><rect x="120.9" width="10.7" height="10.7" fill="#470d60"/><rect x="131" width="10.7" height="10.7" fill="#460a5d"/><rect x="141.1" width="30.8" height="10.7" fill="#46085c"/><rect x="171.3" width="10.7" height="10.7" fill="#460b5e"/><rect x="181.4" width="10.7" height="10.7" fill="#470e61"/><rect x="191.5" width="10.7" height="10.7" fill="#471164"/><rect x="201.5" width="10.7" height="10.7" fill="#481668"/><rect x="211.6" width="10.7" height="10.7" fill="#481b6d"/><rect x="221.7" width="10.7" height="10.7" fill="#482071"/><rect x="231.8" width="10.7" height="10.7" fill="#482677"/><rect x="241.8" width="10.7" height="10.7" fill="#472d7b"/><rect x="251.9" width="10.7" height="10.7" fill="#463480"/><rect x="262" width="10.7" height="10.7" fill="#443b84"/><rect x="272.1" width="10.7" height="10.7" fill="#414287"/><rect x="282.1" width="10.7" height="10.7" fill="#3e4989"/><rect x="292.2" width="10.7" height="10.7" fill="#3b528b"/></g>
<g transform="translate(165,258.4)"><rect x="0" width="10.7" height="10.7" fill="#355f8d"/><rect x="10.1" width="10.7" height="10.7" fill="#39568c"/><rect x="20.2" width="10.7" height="10.7" fill="#3c508b"/><rect x="30.2" width="10.7" height="10.7" fill="#3e4989"/><rect x="40.3" width="10.7" height="10.7" fill="#414287"/><rect x="50.4" width="10.7" height="10.7" fill="#443a83"/><rect x="60.5" width="10.7" height="10.7" fill="#46337f"/><rect x="70.5" width="10.7" height="10.7" fill="#472c7a"/><rect x="80.6" width="10.7" height="10.7" fill="#482576"/><rect x="90.7" width="10.7" height="10.7" fill="#482071"/><rect x="100.8" width="10.7" height="10.7" fill="#481c6e"/><rect x="110.8" width="10.7" height="10.7" fill="#481769"/><rect x="120.9" width="10.7" height="10.7" fill="#471164"/><rect x="131" width="10.7" height="10.7" fill="#460b5e"/><rect x="141.1" width="20.8" height="10.7" fill="#460a5d"/><rect x="161.2" width="10.7" height="10.7" fill="#460b5e"/><rect x="171.3" width="10.7" height="10.7" fill="#470d60"/><rect x="181.4" width="10.7" height="10.7" fill="#471164"/><rect x="191.5" width="10.7" height="10.7" fill="#481467"/><rect x="201.5" width="10.7" height="10.7" fill="#48186a"/><rect x="211.6" width="10.7" height="10.7" fill="#481d6f"/><rect x="221.7" width="10.7" height="10.7" fill="#482475"/><rect x="231.8" width="10.7" height="10.7" fill="#472a7a"/><rect x="241.8" width="10.7" height="10.7" fill="#46307e"/><rect x="251.9" width="10.7" height="10.7" fill="#453882"/><rect x="262" width="10.7" height="10.7" fill="#423f85"/><rect x="272.1" width="10.7" height="10.7" fill="#404688"/><rect x="282.1" width="10.7" height="10.7" fill="#3d4d8a"/><rect x="292.2" width="10.7" height="10.7" fill="#3a548c"/></g>
<g transform="translate(165,268.4)"><rect x="0" width="10.7" height="10.7" fill="#34608d"/><rect x="10.1" width="10.7" height="10.7" fill="#375a8c"/><rect x="20.2" width="10.7" height="10.7" fill="#3a538b"/><rect x="30.2" width="10.7" height="10.7" fill="#3d4e8a"/><rect x="40.3" width="10.7" height="10.7" fill="#3f4788"/><rect x="50.4" width="10.7" height="10.7" fill="#424086"/><rect x="60.5" width="10.7" height="10.7" fill="#453882"/><rect x="70.5" width="10.7" height="10.7" fill="#472e7c"/><rect x="80.6" width="10.7" height="10.7" fill="#482677"/><rect x="90.7" width="10.7" height="10.7" fill="#482374"/><rect x="100.8" width="10.7" height="10.7" fill="#482071"/><rect x="110.8" width="10.7" height="10.7" fill="#481b6d"/><rect x="120.9" width="10.7" height="10.7" fill="#481467"/><rect x="131" width="10.7" height="10.7" fill="#470e61"/><rect x="141.1" width="20.8" height="10.7" fill="#470d60"/><rect x="161.2" width="10.7" height="10.7" fill="#470e61"/><rect x="171.3" width="10.7" height="10.7" fill="#471063"/><rect x="181.4" width="10.7" height="10.7" fill="#481467"/><rect x="191.5" width="10.7" height="10.7" fill="#481769"/><rect x="201.5" width="10.7" height="10.7" fill="#481c6e"/><rect x="211.6" width="10.7" height="10.7" fill="#482173"/><rect x="221.7" width="10.7" height="10.7" fill="#482878"/><rect x="231.8" width="10.7" height="10.7" fill="#472e7c"/><rect x="241.8" width="10.7" height="10.7" fill="#453581"/><rect x="251.9" width="10.7" height="10.7" fill="#433d84"/><rect x="262" width="10.7" height="10.7" fill="#414287"/><rect x="272.1" width="10.7" height="10.7" fill="#3e4989"/><rect x="282.1" width="10.7" height="10.7" fill="#3c508b"/><rect x="292.2" width="10.7" height="10.7" fill="#39568c"/></g>
<g transform="translate(165,278.5)"><rect x="0" width="10.7" height="10.7" fill="#33628d"/><rect x="10.1" width="10.7" height="10.7" fill="#365c8d"/><rect x="20.2" width="10.7" height="10.7" fill="#39568c"/><rect x="30.2" width="10.7" height="10.7" fill="#3b528b"/><rect x="40.3" width="10.7" height="10.7" fill="#3d4d8a"/><rect x="50.4" width="10.7" height="10.7" fill="#404688"/><rect x="60.5" width="10.7" height="10.7" fill="#433d84"/><rect x="70.5" width="10.7" height="10.7" fill="#472f7d"/><rect x="80.6" width="10.7" height="10.7" fill="#482576"/><rect x="90.7" width="20.8" height="10.7" fill="#482173"/><rect x="110.8" width="10.7" height="10.7" fill="#481d6f"/><rect x="120.9" width="10.7" height="10.7" fill="#48186a"/><rect x="131" width="10.7" height="10.7" fill="#471365"/><rect x="141.1" width="20.8" height="10.7" fill="#471063"/><rect x="161.2" width="10.7" height="10.7" fill="#471365"/><rect x="171.3" width="10.7" height="10.7" fill="#481467"/><rect x="181.4" width="10.7" height="10.7" fill="#481769"/><rect x="191.5" width="10.7" height="10.7" fill="#481b6d"/><rect x="201.5" width="10.7" height="10.7" fill="#482071"/><rect x="211.6" width="10.7" height="10.7" fill="#482576"/><rect x="221.7" width="10.7" height="10.7" fill="#472c7a"/><rect x="231.8" width="10.7" height="10.7" fill="#46337f"/><rect x="241.8" width="10.7" height="10.7" fill="#443983"/><rect x="251.9" width="10.7" height="10.7" fill="#424086"/><rect x="262" width="10.7" height="10.7" fill="#3f4788"/><rect x="272.1" width="10.7" height="10.7" fill="#3d4d8a"/><rect x="282.1" width="10.7" height="10.7" fill="#3b528b"/><rect x="292.2" width="10.7" height="10.7" fill="#38598c"/></g>
<g transform="translate(165,288.6)"><rect x="0" width="10.7" height="10.7" fill="#33638d"/><rect x="10.1" width="10.7" height="10.7" fill="#355e8d"/><rect x="20.2" width="10.7" height="10.7" fill="#375a8c"/><rect x="30.2" width="10.7" height="10.7" fill="#39568c"/><rect x="40.3" width="10.7" height="10.7" fill="#3b528b"/><rect x="50.4" width="10.7" height="10.7" fill="#3d4d8a"/><rect x="60.5" width="10.7" height="10.7" fill="#414487"/><rect x="70.5" width="10.7" height="10.7" fill="#46337f"/><rect x="80.6" width="10.7" height="10.7" fill="#482173"/><rect x="90.7" width="10.7" height="10.7" fill="#481f70"/><rect x="100.8" width="10.7" height="10.7" fill="#482173"/><rect x="110.8" width="10.7" height="10.7" fill="#482071"/><rect x="120.9" width="10.7" height="10.7" fill="#481c6e"/><rect x="131" width="10.7" height="10.7" fill="#481769"/><rect x="141.1" width="20.8" height="10.7" fill="#481668"/><rect x="161.2" width="10.7" height="10.7" fill="#481769"/><rect x="171.3" width="10.7" height="10.7" fill="#481a6c"/><rect x="181.4" width="10.7" height="10.7" fill="#481c6e"/><rect x="191.5" width="10.7" height="10.7" fill="#481f70"/><rect x="201.5" width="10.7" height="10.7" fill="#482475"/><rect x="211.6" width="10.7" height="10.7" fill="#482979"/><rect x="221.7" width="10.7" height="10.7" fill="#46307e"/><rect x="231.8" width="10.7" height="10.7" fill="#453781"/><rect x="241.8" width="10.7" height="10.7" fill="#433e85"/><rect x="251.9" width="10.7" height="10.7" fill="#404588"/><rect x="262" width="10.7" height="10.7" fill="#3e4a89"/><rect x="272.1" width="10.7" height="10.7" fill="#3c508b"/><rect x="282.1" width="10.7" height="10.7" fill="#39558c"/><rect x="292.2" width="10.7" height="10.7" fill="#365c8d"/></g>
<g transform="translate(165,298.7)"><rect x="0" width="10.7" height="10.7" fill="#31668e"/><rect x="10.1" width="10.7" height="10.7" fill="#34618d"/><rect x="20.2" width="10.7" height="10.7" fill="#355e8d"/><rect x="30.2" width="10.7" height="10.7" fill="#375b8d"/><rect x="40.3" width="10.7" height="10.7" fill="#38588c"/><rect x="50.4" width="10.7" height="10.7" fill="#3a538b"/><rect x="60.5" width="10.7" height="10.7" fill="#3e4c8a"/><rect x="70.5" width="10.7" height="10.7" fill="#433d84"/><rect x="80.6" width="10.7" height="10.7" fill="#482677"/><rect x="90.7" width="10.7" height="10.7" fill="#482173"/><rect x="100.8" width="20.8" height="10.7" fill="#482374"/><rect x="120.9" width="10.7" height="10.7" fill="#481f70"/><rect x="131" width="10.7" height="10.7" fill="#481b6d"/><rect x="141.1" width="10.7" height="10.7" fill="#481a6c"/><rect x="151.1" width="10.7" height="10.7" fill="#481b6d"/><rect x="161.2" width="10.7" height="10.7" fill="#481d6f"/><rect x="171.3" width="10.7" height="10.7" fill="#481f70"/><rect x="181.4" width="10.7" height="10.7" fill="#482173"/><rect x="191.5" width="10.7" height="10.7" fill="#482475"/><rect x="201.5" width="10.7" height="10.7" fill="#482878"/><rect x="211.6" width="10.7" height="10.7" fill="#472e7c"/><rect x="221.7" width="10.7" height="10.7" fill="#463480"/><rect x="231.8" width="10.7" height="10.7" fill="#443b84"/><rect x="241.8" width="10.7" height="10.7" fill="#414287"/><rect x="251.9" width="10.7" height="10.7" fill="#3f4889"/><rect x="262" width="10.7" height="10.7" fill="#3d4e8a"/><rect x="272.1" width="10.7" height="10.7" fill="#3a538b"/><rect x="282.1" width="10.7" height="10.7" fill="#38598c"/><rect x="292.2" width="10.7" height="10.7" fill="#355f8d"/></g>
<g transform="translate(165,308.7)"><rect x="0" width="10.7" height="10.7" fill="#306a8e"/><rect x="10.1" width="10.7" height="10.7" fill="#31668e"/><rect x="20.2" width="10.7" height="10.7" fill="#33628d"/><rect x="30.2" width="10.7" height="10.7" fill="#34608d"/><rect x="40.3" width="10.7" height="10.7" fill="#365d8d"/><rect x="50.4" width="10.7" height="10.7" fill="#38598c"/><rect x="60.5" width="10.7" height="10.7" fill="#3b528b"/><rect x="70.5" width="10.7" height="10.7" fill="#404688"/><rect x="80.6" width="10.7" height="10.7" fill="#453781"/><rect x="90.7" width="10.7" height="10.7" fill="#472c7a"/><rect x="100.8" width="10.7" height="10.7" fill="#482878"/><rect x="110.8" width="10.7" height="10.7" fill="#482576"/><rect x="120.9" width="10.7" height="10.7" fill="#482173"/><rect x="131" width="10.7" height="10.7" fill="#481f70"/><rect x="141.1" width="10.7" height="10.7" fill="#481d6f"/><rect x="151.1" width="10.7" height="10.7" fill="#481f70"/><rect x="161.2" width="10.7" height="10.7" fill="#482173"/><rect x="171.3" width="10.7" height="10.7" fill="#482576"/><rect x="181.4" width="10.7" height="10.7" fill="#482878"/><rect x="191.5" width="10.7" height="10.7" fill="#472a7a"/><rect x="201.5" width="10.7" height="10.7" fill="#472e7c"/><rect x="211.6" width="10.7" height="10.7" fill="#46337f"/><rect x="221.7" width="10.7" height="10.7" fill="#443983"/><rect x="231.8" width="10.7" height="10.7" fill="#424086"/><rect x="241.8" width="10.7" height="10.7" fill="#3f4788"/><rect x="251.9" width="10.7" height="10.7" fill="#3d4d8a"/><rect x="262" width="10.7" height="10.7" fill="#3b528b"/><rect x="272.1" width="10.7" height="10.7" fill="#38588c"/><rect x="282.1" width="10.7" height="10.7" fill="#365d8d"/><rect x="292.2" width="10.7" height="10.7" fill="#33638d"/></g>
<g transform="translate(165,318.8)"><rect x="0" width="10.7" height="10.7" fill="#2d718e"/><rect x="10.1" width="10.7" height="10.7" fill="#2f6c8e"/><rect x="20.2" width="10.7" height="10.7" fill="#31688e"/><rect x="30.2" width="10.7" height="10.7" fill="#32658e"/><rect x="40.3" width="10.7" height="10.7" fill="#34618d"/><rect x="50.4" width="10.7" height="10.7" fill="#365d8d"/><rect x="60.5" width="10.7" height="10.7" fill="#38588c"/><rect x="70.5" width="10.7" height="10.7" fill="#3d4e8a"/><rect x="80.6" width="10.7" height="10.7" fill="#424186"/><rect x="90.7" width="10.7" height="10.7" fill="#453781"/><rect x="100.8" width="10.7" height="10.7" fill="#472f7d"/><rect x="110.8" width="10.7" height="10.7" fill="#482979"/><rect x="120.9" width="10.7" height="10.7" fill="#482576"/><rect x="131" width="10.7" height="10.7" fill="#482374"/><rect x="141.1" width="10.7" height="10.7" fill="#482173"/><rect x="151.1" width="10.7" height="10.7" fill="#482374"/><rect x="161.2" width="10.7" height="10.7" fill="#482677"/><rect x="171.3" width="10.7" height="10.7" fill="#472a7a"/><rect x="181.4" width="10.7" height="10.7" fill="#472e7c"/><rect x="191.5" width="10.7" height="10.7" fill="#46307e"/><rect x="201.5" width="10.7" height="10.7" fill="#463480"/><rect x="211.6" width="10.7" height="10.7" fill="#453882"/><rect x="221.7" width="10.7" height="10.7" fill="#433e85"/><rect x="231.8" width="10.7" height="10.7" fill="#404588"/><rect x="241.8" width="10.7" height="10.7" fill="#3e4c8a"/><rect x="251.9" width="10.7" height="10.7" fill="#3b528b"/><rect x="262" width="10.7" height="10.7" fill="#38588c"/><rect x="272.1" width="10.7" height="10.7" fill="#365d8d"/><rect x="282.1" width="10.7" height="10.7" fill="#33638d"/><rect x="292.2" width="10.7" height="10.7" fill="#30698e"/></g>
<g transform="translate(165,328.9)"><rect x="0" width="10.7" height="10.7" fill="#297a8e"/><rect x="10.1" width="10.7" height="10.7" fill="#2b748e"/><rect x="20.2" width="10.7" height="10.7" fill="#2e6f8e"/><rect x="30.2" width="10.7" height="10.7" fill="#2f6b8e"/><rect x="40.3" width="10.7" height="10.7" fill="#31668e"/><rect x="50.4" width="10.7" height="10.7" fill="#33628d"/><rect x="60.5" width="10.7" height="10.7" fill="#365c8d"/><rect x="70.5" width="10.7" height="10.7" fill="#3a538b"/><rect x="80.6" width="10.7" height="10.7" fill="#3e4989"/><rect x="90.7" width="10.7" height="10.7" fill="#423f85"/><rect x="100.8" width="10.7" height="10.7" fill="#453581"/><rect x="110.8" width="10.7" height="10.7" fill="#472e7c"/><rect x="120.9" width="10.7" height="10.7" fill="#482979"/><rect x="131" width="10.7" height="10.7" fill="#482677"/><rect x="141.1" width="10.7" height="10.7" fill="#482576"/><rect x="151.1" width="10.7" height="10.7" fill="#482878"/><rect x="161.2" width="10.7" height="10.7" fill="#472d7b"/><rect x="171.3" width="10.7" height="10.7" fill="#46327e"/><rect x="181.4" width="10.7" height="10.7" fill="#453581"/><rect x="191.5" width="10.7" height="10.7" fill="#453882"/><rect x="201.5" width="10.7" height="10.7" fill="#443a83"/><rect x="211.6" width="10.7" height="10.7" fill="#433e85"/><rect x="221.7" width="10.7" height="10.7" fill="#414487"/><rect x="231.8" width="10.7" height="10.7" fill="#3e4a89"/><rect x="241.8" width="10.7" height="10.7" fill="#3b518b"/><rect x="251.9" width="10.7" height="10.7" fill="#38598c"/><rect x="262" width="10.7" height="10.7" fill="#355f8d"/><rect x="272.1" width="10.7" height="10.7" fill="#32648e"/><rect x="282.1" width="10.7" height="10.7" fill="#306a8e"/><rect x="292.2" width="10.7" height="10.7" fill="#2d718e"/></g>
<g transform="translate(165,339)"><rect x="0" width="10.7" height="10.7" fill="#25848e"/><rect x="10.1" width="10.7" height="10.7" fill="#277e8e"/><rect x="20.2" width="10.7" height="10.7" fill="#2a788e"/><rect x="30.2" width="10.7" height="10.7" fill="#2c718e"/><rect x="40.3" width="10.7" height="10.7" fill="#2f6c8e"/><rect x="50.4" width="10.7" height="10.7" fill="#31668e"/><rect x="60.5" width="10.7" height="10.7" fill="#34608d"/><rect x="70.5" width="10.7" height="10.7" fill="#38598c"/><rect x="80.6" width="10.7" height="10.7" fill="#3c4f8a"/><rect x="90.7" width="10.7" height="10.7" fill="#404588"/><rect x="100.8" width="10.7" height="10.7" fill="#443b84"/><rect x="110.8" width="10.7" height="10.7" fill="#463480"/><rect x="120.9" width="10.7" height="10.7" fill="#472e7c"/><rect x="131" width="20.8" height="10.7" fill="#472a7a"/><rect x="151.1" width="10.7" height="10.7" fill="#472d7b"/><rect x="161.2" width="10.7" height="10.7" fill="#46337f"/><rect x="171.3" width="10.7" height="10.7" fill="#443983"/><rect x="181.4" width="10.7" height="10.7" fill="#433e85"/><rect x="191.5" width="10.7" height="10.7" fill="#424086"/><rect x="201.5" width="10.7" height="10.7" fill="#414287"/><rect x="211.6" width="10.7" height="10.7" fill="#404688"/><rect x="221.7" width="10.7" height="10.7" fill="#3e4a89"/><rect x="231.8" width="10.7" height="10.7" fill="#3b518b"/><rect x="241.8" width="10.7" height="10.7" fill="#38598c"/><rect x="251.9" width="10.7" height="10.7" fill="#34608d"/><rect x="262" width="10.7" height="10.7" fill="#31668e"/><rect x="272.1" width="10.7" height="10.7" fill="#2e6d8e"/><rect x="282.1" width="10.7" height="10.7" fill="#2c738e"/><rect x="292.2" width="10.7" height="10.7" fill="#297a8e"/></g>
<g transform="translate(165,349)"><rect x="0" width="10.7" height="10.7" fill="#21908d"/><rect x="10.1" width="10.7" height="10.7" fill="#23898e"/><rect x="20.2" width="10.7" height="10.7" fill="#26828e"/><rect x="30.2" width="10.7" height="10.7" fill="#297a8e"/><rect x="40.3" width="10.7" height="10.7" fill="#2c738e"/><rect x="50.4" width="10.7" height="10.7" fill="#2e6d8e"/><rect x="60.5" width="10.7" height="10.7" fill="#31668e"/><rect x="70.5" width="10.7" height="10.7" fill="#355e8d"/><rect x="80.6" width="10.7" height="10.7" fill="#3a548c"/><rect x="90.7" width="10.7" height="10.7" fill="#3e4c8a"/><rect x="100.8" width="10.7" height="10.7" fill="#414287"/><rect x="110.8" width="10.7" height="10.7" fill="#443a83"/><rect x="120.9" width="10.7" height="10.7" fill="#46337f"/><rect x="131" width="10.7" height="10.7" fill="#472f7d"/><rect x="141.1" width="10.7" height="10.7" fill="#472e7c"/><rect x="151.1" width="10.7" height="10.7" fill="#46327e"/><rect x="161.2" width="10.7" height="10.7" fill="#443983"/><rect x="171.3" width="10.7" height="10.7" fill="#424186"/><rect x="181.4" width="10.7" height="10.7" fill="#404688"/><rect x="191.5" width="10.7" height="10.7" fill="#3f4889"/><rect x="201.5" width="10.7" height="10.7" fill="#3e4a89"/><rect x="211.6" width="10.7" height="10.7" fill="#3d4e8a"/><rect x="221.7" width="10.7" height="10.7" fill="#3a538b"/><rect x="231.8" width="10.7" height="10.7" fill="#375a8c"/><rect x="241.8" width="10.7" height="10.7" fill="#34618d"/><rect x="251.9" width="10.7" height="10.7" fill="#31688e"/><rect x="262" width="10.7" height="10.7" fill="#2e6f8e"/><rect x="272.1" width="10.7" height="10.7" fill="#2b758e"/><rect x="282.1" width="10.7" height="10.7" fill="#287d8e"/><rect x="292.2" width="10.7" height="10.7" fill="#25848e"/></g>
<g transform="translate(165,359.1)"><rect x="0" width="10.7" height="10.7" fill="#1e9b8a"/><rect x="10.1" width="10.7" height="10.7" fill="#20928c"/><rect x="20.2" width="10.7" height="10.7" fill="#228b8d"/><rect x="30.2" width="10.7" height="10.7" fill="#26828e"/><rect x="40.3" width="10.7" height="10.7" fill="#297b8e"/><rect x="50.4" width="10.7" height="10.7" fill="#2c738e"/><rect x="60.5" width="10.7" height="10.7" fill="#2f6c8e"/><rect x="70.5" width="10.7" height="10.7" fill="#32648e"/><rect x="80.6" width="10.7" height="10.7" fill="#375b8d"/><rect x="90.7" width="10.7" height="10.7" fill="#3b518b"/><rect x="100.8" width="10.7" height="10.7" fill="#3f4889"/><rect x="110.8" width="10.7" height="10.7" fill="#424086"/><rect x="120.9" width="10.7" height="10.7" fill="#443983"/><rect x="131" width="10.7" height="10.7" fill="#463480"/><rect x="141.1" width="10.7" height="10.7" fill="#46337f"/><rect x="151.1" width="10.7" height="10.7" fill="#453781"/><rect x="161.2" width="10.7" height="10.7" fill="#423f85"/><rect x="171.3" width="10.7" height="10.7" fill="#3f4788"/><rect x="181.4" width="10.7" height="10.7" fill="#3e4c8a"/><rect x="191.5" width="10.7" height="10.7" fill="#3c508b"/><rect x="201.5" width="10.7" height="10.7" fill="#3a538b"/><rect x="211.6" width="10.7" height="10.7" fill="#39568c"/><rect x="221.7" width="10.7" height="10.7" fill="#365c8d"/><rect x="231.8" width="10.7" height="10.7" fill="#33628d"/><rect x="241.8" width="10.7" height="10.7" fill="#30698e"/><rect x="251.9" width="10.7" height="10.7" fill="#2d708e"/><rect x="262" width="10.7" height="10.7" fill="#2a778e"/><rect x="272.1" width="10.7" height="10.7" fill="#277f8e"/><rect x="282.1" width="10.7" height="10.7" fill="#24868e"/><rect x="292.2" width="10.7" height="10.7" fill="#218e8d"/></g>
</g>
<path d="M232.9,73.2C231.3,74.7 226.8,78.7 223.8,82C220.8,85.3 217.3,89.1 215,93C212.7,96.9 211.9,101.7 210,105.4C208.2,109 206.8,111.9 204,115C201.1,118.1 196,120.7 193,123.8C190,126.9 187.4,130.6 186.1,133.7C184.8,136.8 185.4,141 185.3,142.5M192.4,178.8C191.6,180.5 189,185.6 187.5,189.2C186,192.8 184.3,196.5 183.4,200.2C182.5,203.9 181.8,207.3 182,211.2C182.2,215.1 183.4,219.5 184.7,223.6C186.1,227.7 187.9,231.6 190.2,235.9C192.5,240.3 195.5,245.1 198.5,249.7C201.5,254.3 204.7,258.9 208.1,263.4C211.5,268 215.7,272.6 219.1,277.2C222.5,281.8 225.5,286.3 228.7,290.9C231.9,295.5 235.4,299.9 238.4,304.7C241.3,309.5 243.6,314.8 246.6,319.8C249.6,324.8 252.8,329.6 256.2,334.9C259.7,340.2 263.6,346.3 267.2,351.4C270.8,356.5 275.9,363.3 277.7,365.7M331,73.2C332.3,74.4 335.6,78.5 338.7,80.6C341.8,82.8 345.1,84.5 349.7,86.1C354.3,87.7 360.7,88.4 366.2,90.2C371.7,92.1 377.6,94.4 382.7,97.1C387.7,99.9 392.5,103.1 396.4,106.7C400.3,110.4 403.5,114.5 406,119.1C408.6,123.7 409.9,129 411.5,134.2C413.2,139.5 414.1,145.2 415.7,150.7C417.3,156.2 419.1,161.7 421.2,167.2C423.2,172.7 425.5,178.2 428,183.7C430.6,189.2 433.8,195.2 436.3,200.2C438.8,205.2 441.3,209.4 443.2,214C445,218.5 446.5,223.1 447.3,227.7C448.1,232.3 448.6,237.3 448.1,241.4C447.7,245.6 445.8,249.5 444.5,252.4C443.3,255.4 441.1,258.2 440.4,259.3M425.3,286C424.1,287.9 420.9,294 418.4,297.8C415.9,301.6 412.9,304.9 410.2,308.8C407.4,312.7 404.7,317.3 401.9,321.2C399.2,325.1 396.7,329 393.7,332.2C390.7,335.4 387.7,338.1 384.1,340.4C380.4,342.7 376,344.4 371.7,345.9C367.3,347.4 362.1,348.1 357.9,349.2C353.8,350.4 349.9,351 346.9,352.8C344,354.5 341.9,357.5 340.1,359.7C338.2,361.8 336.6,364.7 335.9,365.7M418.4,73.7C419.3,75.3 421.9,80.2 423.9,83.4C426,86.6 429.6,91.4 430.8,93M448.7,124.6C449.6,126.4 452.3,132.2 454.2,135.6C456,139 458.1,142.6 459.7,145.2C461.2,147.8 462.6,150.3 463.2,151.3M170.4,316.2C171.9,317 176.2,318.8 179.2,320.6C182.3,322.5 187.3,326.1 188.9,327.2M219.1,350C220.5,351.2 224.9,354.3 227.4,356.9C229.8,359.5 232.6,364.2 233.7,365.7M452,334.4 L463.2,326.1" fill="none" stroke="#fff" stroke-width="6.2" stroke-linecap="butt" stroke-linejoin="round"/>
<text font-size="26.6" fill="#fff" text-anchor="middle" transform="translate(192.4,161.7) rotate(72)" y="9.7">30</text>
<text font-size="26.6" fill="#fff" text-anchor="middle" transform="translate(428.9,265.6) rotate(-58)" y="9.7">30</text>
<text font-size="26.6" fill="#fff" text-anchor="middle" transform="translate(445.1,110.9) rotate(58)" y="9.7">40</text>
<text font-size="26.6" fill="#fff" text-anchor="middle" transform="translate(204,339.9) rotate(40)" y="9.7">40</text>
<text font-size="26.6" fill="#fff" text-anchor="middle" transform="translate(435.7,337.7) rotate(-50)" y="9.7">40</text>
<rect x="355" y="354.5" width="102" height="10" fill="#fff" stroke="#000" stroke-width="1.2"/>
<rect x="166.1" y="68.6" width="302.3" height="302.3" fill="none" stroke="#000" stroke-width="4.2"/>
<g class="hc" shape-rendering="crispEdges">
<g transform="translate(479.5,66.7)"><rect x="0" width="20.8" height="20.8" fill="#2c738e"/><rect x="20.2" width="20.8" height="20.8" fill="#2d718e"/><rect x="40.4" width="20.8" height="20.8" fill="#375a8c"/><rect x="60.6" width="20.8" height="20.8" fill="#2d718e"/><rect x="80.7" width="20.8" height="20.8" fill="#3b528b"/><rect x="100.9" width="20.8" height="20.8" fill="#31678e"/><rect x="121.1" width="20.8" height="20.8" fill="#3a548c"/><rect x="141.3" width="20.8" height="20.8" fill="#355f8d"/><rect x="161.5" width="20.8" height="20.8" fill="#1f978b"/><rect x="181.7" width="20.8" height="20.8" fill="#2d718e"/><rect x="201.9" width="20.8" height="20.8" fill="#228b8d"/><rect x="222.1" width="61.2" height="20.8" fill="#25848e"/><rect x="282.6" width="20.8" height="20.8" fill="#5ec962"/></g>
<g transform="translate(479.5,86.8)"><rect x="0" width="20.8" height="20.8" fill="#2d718e"/><rect x="20.2" width="20.8" height="20.8" fill="#21918c"/><rect x="40.4" width="20.8" height="20.8" fill="#3b528b"/><rect x="60.6" width="41" height="20.8" fill="#3e4989"/><rect x="100.9" width="20.8" height="20.8" fill="#375a8c"/><rect x="121.1" width="20.8" height="20.8" fill="#2f6c8e"/><rect x="141.3" width="20.8" height="20.8" fill="#3e4c8a"/><rect x="161.5" width="20.8" height="20.8" fill="#32648e"/><rect x="181.7" width="20.8" height="20.8" fill="#24868e"/><rect x="201.9" width="41" height="20.8" fill="#2d718e"/><rect x="242.2" width="20.8" height="20.8" fill="#20a386"/><rect x="262.4" width="20.8" height="20.8" fill="#52c569"/><rect x="282.6" width="20.8" height="20.8" fill="#a8db34"/></g>
<g transform="translate(479.5,107)"><rect x="0" width="20.8" height="20.8" fill="#2a788e"/><rect x="20.2" width="20.8" height="20.8" fill="#3e4989"/><rect x="40.4" width="20.8" height="20.8" fill="#38588c"/><rect x="60.6" width="20.8" height="20.8" fill="#2f6c8e"/><rect x="80.7" width="20.8" height="20.8" fill="#2a788e"/><rect x="100.9" width="20.8" height="20.8" fill="#2f6c8e"/><rect x="121.1" width="20.8" height="20.8" fill="#32648e"/><rect x="141.3" width="20.8" height="20.8" fill="#38588c"/><rect x="161.5" width="20.8" height="20.8" fill="#31678e"/><rect x="181.7" width="20.8" height="20.8" fill="#3c4f8a"/><rect x="201.9" width="20.8" height="20.8" fill="#31678e"/><rect x="222.1" width="20.8" height="20.8" fill="#3b528b"/><rect x="242.2" width="20.8" height="20.8" fill="#287d8e"/><rect x="262.4" width="20.8" height="20.8" fill="#25848e"/><rect x="282.6" width="20.8" height="20.8" fill="#26ad81"/></g>
<g transform="translate(479.5,127.2)"><rect x="0" width="20.8" height="20.8" fill="#2f6c8e"/><rect x="20.2" width="20.8" height="20.8" fill="#287d8e"/><rect x="40.4" width="20.8" height="20.8" fill="#2c738e"/><rect x="60.6" width="20.8" height="20.8" fill="#38588c"/><rect x="80.7" width="20.8" height="20.8" fill="#2d718e"/><rect x="100.9" width="20.8" height="20.8" fill="#3b528b"/><rect x="121.1" width="20.8" height="20.8" fill="#375a8c"/><rect x="141.3" width="41" height="20.8" fill="#38588c"/><rect x="181.7" width="20.8" height="20.8" fill="#31678e"/><rect x="201.9" width="20.8" height="20.8" fill="#355f8d"/><rect x="222.1" width="20.8" height="20.8" fill="#2a788e"/><rect x="242.2" width="41" height="20.8" fill="#287d8e"/><rect x="282.6" width="20.8" height="20.8" fill="#228b8d"/></g>
<g transform="translate(479.5,147.4)"><rect x="0" width="20.8" height="20.8" fill="#2f6c8e"/><rect x="20.2" width="20.8" height="20.8" fill="#3e4989"/><rect x="40.4" width="20.8" height="20.8" fill="#2f6c8e"/><rect x="60.6" width="41" height="20.8" fill="#375a8c"/><rect x="100.9" width="20.8" height="20.8" fill="#31678e"/><rect x="121.1" width="41" height="20.8" fill="#3e4989"/><rect x="161.5" width="20.8" height="20.8" fill="#38588c"/><rect x="181.7" width="20.8" height="20.8" fill="#375a8c"/><rect x="201.9" width="20.8" height="20.8" fill="#414487"/><rect x="222.1" width="41" height="20.8" fill="#2f6c8e"/><rect x="262.4" width="20.8" height="20.8" fill="#355f8d"/><rect x="282.6" width="20.8" height="20.8" fill="#2f6c8e"/></g>
<g transform="translate(479.5,167.6)"><rect x="0" width="20.8" height="20.8" fill="#3e4989"/><rect x="20.2" width="20.8" height="20.8" fill="#287d8e"/><rect x="40.4" width="20.8" height="20.8" fill="#38588c"/><rect x="60.6" width="20.8" height="20.8" fill="#3b528b"/><rect x="80.7" width="20.8" height="20.8" fill="#2a788e"/><rect x="100.9" width="20.8" height="20.8" fill="#31678e"/><rect x="121.1" width="20.8" height="20.8" fill="#3e4c8a"/><rect x="141.3" width="20.8" height="20.8" fill="#46085c"/><rect x="161.5" width="20.8" height="20.8" fill="#433e85"/><rect x="181.7" width="20.8" height="20.8" fill="#414487"/><rect x="201.9" width="41" height="20.8" fill="#3e4989"/><rect x="242.2" width="20.8" height="20.8" fill="#355f8d"/><rect x="262.4" width="20.8" height="20.8" fill="#31678e"/><rect x="282.6" width="20.8" height="20.8" fill="#25848e"/></g>
<g transform="translate(479.5,187.8)"><rect x="0" width="20.8" height="20.8" fill="#472e7c"/><rect x="20.2" width="20.8" height="20.8" fill="#355f8d"/><rect x="40.4" width="61.2" height="20.8" fill="#414487"/><rect x="100.9" width="20.8" height="20.8" fill="#3e4989"/><rect x="121.1" width="20.8" height="20.8" fill="#463480"/><rect x="141.3" width="20.8" height="20.8" fill="#433e85"/><rect x="161.5" width="20.8" height="20.8" fill="#375a8c"/><rect x="181.7" width="41" height="20.8" fill="#355f8d"/><rect x="222.1" width="20.8" height="20.8" fill="#472e7c"/><rect x="242.2" width="20.8" height="20.8" fill="#38588c"/><rect x="262.4" width="20.8" height="20.8" fill="#2a788e"/><rect x="282.6" width="20.8" height="20.8" fill="#355f8d"/></g>
<g transform="translate(479.5,208)"><rect x="0" width="20.8" height="20.8" fill="#32648e"/><rect x="20.2" width="20.8" height="20.8" fill="#31678e"/><rect x="40.4" width="20.8" height="20.8" fill="#3b528b"/><rect x="60.6" width="41" height="20.8" fill="#463480"/><rect x="100.9" width="20.8" height="20.8" fill="#375a8c"/><rect x="121.1" width="20.8" height="20.8" fill="#3e4989"/><rect x="141.3" width="20.8" height="20.8" fill="#433e85"/><rect x="161.5" width="20.8" height="20.8" fill="#472e7c"/><rect x="181.7" width="20.8" height="20.8" fill="#355f8d"/><rect x="201.9" width="20.8" height="20.8" fill="#481a6c"/><rect x="222.1" width="20.8" height="20.8" fill="#433e85"/><rect x="242.2" width="20.8" height="20.8" fill="#2f6c8e"/><rect x="262.4" width="20.8" height="20.8" fill="#355f8d"/><rect x="282.6" width="20.8" height="20.8" fill="#375a8c"/></g>
<g transform="translate(479.5,228.1)"><rect x="0" width="20.8" height="20.8" fill="#2d718e"/><rect x="20.2" width="20.8" height="20.8" fill="#3e4c8a"/><rect x="40.4" width="41" height="20.8" fill="#3b528b"/><rect x="80.7" width="20.8" height="20.8" fill="#3e4989"/><rect x="100.9" width="20.8" height="20.8" fill="#38588c"/><rect x="121.1" width="20.8" height="20.8" fill="#375a8c"/><rect x="141.3" width="20.8" height="20.8" fill="#482475"/><rect x="161.5" width="20.8" height="20.8" fill="#472a7a"/><rect x="181.7" width="20.8" height="20.8" fill="#472e7c"/><rect x="201.9" width="20.8" height="20.8" fill="#433e85"/><rect x="222.1" width="20.8" height="20.8" fill="#3e4989"/><rect x="242.2" width="20.8" height="20.8" fill="#433e85"/><rect x="262.4" width="20.8" height="20.8" fill="#38588c"/><rect x="282.6" width="20.8" height="20.8" fill="#2f6c8e"/></g>
<g transform="translate(479.5,248.3)"><rect x="0" width="20.8" height="20.8" fill="#2d718e"/><rect x="20.2" width="20.8" height="20.8" fill="#2a788e"/><rect x="40.4" width="20.8" height="20.8" fill="#375a8c"/><rect x="60.6" width="20.8" height="20.8" fill="#3e4989"/><rect x="80.7" width="20.8" height="20.8" fill="#375a8c"/><rect x="100.9" width="20.8" height="20.8" fill="#472a7a"/><rect x="121.1" width="20.8" height="20.8" fill="#31678e"/><rect x="141.3" width="20.8" height="20.8" fill="#443a83"/><rect x="161.5" width="20.8" height="20.8" fill="#472a7a"/><rect x="181.7" width="20.8" height="20.8" fill="#463480"/><rect x="201.9" width="20.8" height="20.8" fill="#443a83"/><rect x="222.1" width="20.8" height="20.8" fill="#3b528b"/><rect x="242.2" width="20.8" height="20.8" fill="#38588c"/><rect x="262.4" width="20.8" height="20.8" fill="#355f8d"/><rect x="282.6" width="20.8" height="20.8" fill="#32648e"/></g>
<g transform="translate(479.5,268.5)"><rect x="0" width="20.8" height="20.8" fill="#23898e"/><rect x="20.2" width="20.8" height="20.8" fill="#2f6c8e"/><rect x="40.4" width="20.8" height="20.8" fill="#38588c"/><rect x="60.6" width="20.8" height="20.8" fill="#375a8c"/><rect x="80.7" width="20.8" height="20.8" fill="#414487"/><rect x="100.9" width="20.8" height="20.8" fill="#433e85"/><rect x="121.1" width="20.8" height="20.8" fill="#3e4989"/><rect x="141.3" width="20.8" height="20.8" fill="#472a7a"/><rect x="161.5" width="20.8" height="20.8" fill="#463480"/><rect x="181.7" width="41" height="20.8" fill="#433e85"/><rect x="222.1" width="20.8" height="20.8" fill="#414487"/><rect x="242.2" width="20.8" height="20.8" fill="#38588c"/><rect x="262.4" width="20.8" height="20.8" fill="#2f6c8e"/><rect x="282.6" width="20.8" height="20.8" fill="#25848e"/></g>
<g transform="translate(479.5,288.7)"><rect x="0" width="20.8" height="20.8" fill="#25848e"/><rect x="20.2" width="20.8" height="20.8" fill="#2a788e"/><rect x="40.4" width="41" height="20.8" fill="#38588c"/><rect x="80.7" width="41" height="20.8" fill="#3e4c8a"/><rect x="121.1" width="20.8" height="20.8" fill="#472a7a"/><rect x="141.3" width="20.8" height="20.8" fill="#3b528b"/><rect x="161.5" width="20.8" height="20.8" fill="#3e4989"/><rect x="181.7" width="41" height="20.8" fill="#3b528b"/><rect x="222.1" width="20.8" height="20.8" fill="#2d718e"/><rect x="242.2" width="20.8" height="20.8" fill="#31678e"/><rect x="262.4" width="20.8" height="20.8" fill="#2f6c8e"/><rect x="282.6" width="20.8" height="20.8" fill="#433e85"/></g>
<g transform="translate(479.5,308.9)"><rect x="0" width="20.8" height="20.8" fill="#228b8d"/><rect x="20.2" width="20.8" height="20.8" fill="#287d8e"/><rect x="40.4" width="20.8" height="20.8" fill="#375a8c"/><rect x="60.6" width="41" height="20.8" fill="#3b528b"/><rect x="100.9" width="20.8" height="20.8" fill="#32648e"/><rect x="121.1" width="20.8" height="20.8" fill="#3e4989"/><rect x="141.3" width="20.8" height="20.8" fill="#375a8c"/><rect x="161.5" width="20.8" height="20.8" fill="#443a83"/><rect x="181.7" width="20.8" height="20.8" fill="#414487"/><rect x="201.9" width="20.8" height="20.8" fill="#355f8d"/><rect x="222.1" width="20.8" height="20.8" fill="#3e4989"/><rect x="242.2" width="20.8" height="20.8" fill="#355f8d"/><rect x="262.4" width="20.8" height="20.8" fill="#287d8e"/><rect x="282.6" width="20.8" height="20.8" fill="#25848e"/></g>
<g transform="translate(479.5,329.1)"><rect x="0" width="20.8" height="20.8" fill="#2a788e"/><rect x="20.2" width="20.8" height="20.8" fill="#228b8d"/><rect x="40.4" width="20.8" height="20.8" fill="#287d8e"/><rect x="60.6" width="20.8" height="20.8" fill="#2a788e"/><rect x="80.7" width="20.8" height="20.8" fill="#2c738e"/><rect x="100.9" width="20.8" height="20.8" fill="#31678e"/><rect x="121.1" width="20.8" height="20.8" fill="#3b528b"/><rect x="141.3" width="20.8" height="20.8" fill="#3e4989"/><rect x="161.5" width="20.8" height="20.8" fill="#2a788e"/><rect x="181.7" width="20.8" height="20.8" fill="#2f6c8e"/><rect x="201.9" width="20.8" height="20.8" fill="#3e4c8a"/><rect x="222.1" width="20.8" height="20.8" fill="#3b528b"/><rect x="242.2" width="20.8" height="20.8" fill="#31678e"/><rect x="262.4" width="20.8" height="20.8" fill="#228b8d"/><rect x="282.6" width="20.8" height="20.8" fill="#69cd5b"/></g>
<g transform="translate(479.5,349.3)"><rect x="0" width="20.8" height="20.8" fill="#1e9c89"/><rect x="20.2" width="20.8" height="20.8" fill="#26ad81"/><rect x="40.4" width="41" height="20.8" fill="#228b8d"/><rect x="80.7" width="20.8" height="20.8" fill="#2d718e"/><rect x="100.9" width="20.8" height="20.8" fill="#287d8e"/><rect x="121.1" width="20.8" height="20.8" fill="#31678e"/><rect x="141.3" width="20.8" height="20.8" fill="#2f6c8e"/><rect x="161.5" width="20.8" height="20.8" fill="#228b8d"/><rect x="181.7" width="41" height="20.8" fill="#2d718e"/><rect x="222.1" width="20.8" height="20.8" fill="#2c738e"/><rect x="242.2" width="20.8" height="20.8" fill="#22a884"/><rect x="262.4" width="20.8" height="20.8" fill="#a8db34"/><rect x="282.6" width="20.8" height="20.8" fill="#6ece58"/></g>
</g>
<path d="M520.4,79.2 L516.8,101.2M490.9,134.8 L498.4,129.3M632.3,78.7C633.5,80.6 637.3,86.7 639.9,90.2C642.6,93.8 644.5,96.9 648.2,99.9C651.9,102.8 656.9,105.6 661.9,108.1C667,110.6 673.6,113.2 678.4,115C683.2,116.8 687.8,117.3 690.8,119.1C693.8,120.9 695.4,124.8 696.3,126M719.7,152.9C722,155.1 729.1,161.6 733.4,165.8C737.8,170.1 742.1,174.5 745.8,178.2C749.5,181.9 752.4,185.3 755.4,187.8C758.4,190.4 760.8,191.4 763.7,193.3C766.5,195.3 771,198.6 772.5,199.7M737.5,78.7C737.5,81.5 736.6,91.3 737.5,95.7C738.5,100.2 742.1,103.8 743,105.4M766.4,127.4 L773.3,130.9M655.1,294.2C653.5,294.5 649.3,295.5 645.4,295.6C641.6,295.7 636.3,296.5 631.7,295.1C627.1,293.6 621.7,289.3 618,286.8C614.2,284.3 610.1,282.2 609.2,279.9C608.2,277.6 611.2,276.7 612.5,273.1C613.7,269.4 615.4,263.7 616.6,257.9C617.7,252.2 618.7,245.1 619.3,238.7C619.9,232.3 620.2,225.9 620.2,219.5C620.2,213 618.6,205.7 619.3,200.2C620.1,194.7 622.8,190.4 624.8,186.5C626.9,182.6 629.6,178 631.7,176.8C633.8,175.7 635.8,177.5 637.2,179.6C638.6,181.6 638.3,185.5 639.9,189.2C641.6,192.9 643.6,197.7 646.8,201.6C650,205.5 655.1,209.4 659.2,212.6C663.3,215.8 667.4,218.9 671.6,220.8C675.7,222.8 680.3,223 683.9,224.4C687.6,225.8 691.2,226.5 693.6,229.1C695.9,231.7 697.5,236.2 698.2,240.1C698.9,244 698.5,248.3 697.7,252.4C696.9,256.6 695.4,261.1 693.6,264.8C691.7,268.5 687.8,272.8 686.7,274.4M490.9,246.4C492.9,248.3 498.7,253.5 502.5,257.9C506.2,262.4 510.3,267.6 513.5,273.1C516.7,278.6 519,285.2 521.7,290.9C524.5,296.7 526.8,302.4 530,307.4C533.2,312.5 536.4,317 541,321.2C545.6,325.3 551.5,328.7 557.5,332.2C563.4,335.6 570.3,338.4 576.7,341.8C583.1,345.2 589.8,349.6 596,352.8C602.1,356 610.9,359.7 613.8,361M646.8,349.2C648,348.8 649.3,346.8 653.7,346.5C658,346.1 666.5,347 672.9,347.3C679.4,347.6 686.2,350.2 692.2,348.1C698.1,346 703.2,339.9 708.7,334.9C714.2,330 719.7,323.9 725.2,318.4C730.7,312.9 736.6,306.7 741.7,301.9C746.7,297.1 751.3,293 755.4,289.6C759.5,286.1 763.4,284.1 766.4,281.3C769.4,278.6 772.1,274.4 773.3,273.1M758.2,330 L773.3,325.3M490.1,357.5 L497,360.2" fill="none" stroke="#fff" stroke-width="6.2" stroke-linecap="butt" stroke-linejoin="round"/>
<text font-size="26.6" fill="#fff" text-anchor="middle" transform="translate(513.5,121) rotate(-55)" y="9.7">40</text>
<text font-size="26.6" fill="#fff" text-anchor="middle" transform="translate(707.3,141.9) rotate(45)" y="9.7">40</text>
<text font-size="26.6" fill="#fff" text-anchor="middle" transform="translate(753.2,119.1) rotate(45)" y="9.7">60</text>
<text font-size="26.6" fill="#fff" text-anchor="middle" transform="translate(671.6,285.4) rotate(-25)" y="9.7">30</text>
<text font-size="26.6" fill="#fff" text-anchor="middle" transform="translate(628.4,347.3) rotate(-15)" y="9.7">40</text>
<text font-size="26.6" fill="#fff" text-anchor="middle" transform="translate(740.3,334.9) rotate(-40)" y="9.7">60</text>
<rect x="669.6" y="354.5" width="101.6" height="10" fill="#fff" stroke="#000" stroke-width="1.2"/>
<rect x="480.6" y="68.3" width="302.8" height="302.5" fill="none" stroke="#000" stroke-width="4.2"/>
<g class="hc" shape-rendering="crispEdges">
<g transform="translate(794.2,66.7)"><rect x="0" width="20.8" height="20.8" fill="#20a386"/><rect x="20.2" width="20.8" height="20.8" fill="#287d8e"/><rect x="40.3" width="20.8" height="20.8" fill="#21918c"/><rect x="60.5" width="20.8" height="20.8" fill="#27808e"/><rect x="80.7" width="20.8" height="20.8" fill="#31678e"/><rect x="100.9" width="20.8" height="20.8" fill="#3e4989"/><rect x="121" width="20.8" height="20.8" fill="#2a788e"/><rect x="141.2" width="20.8" height="20.8" fill="#2f6c8e"/><rect x="161.4" width="20.8" height="20.8" fill="#2c738e"/><rect x="181.5" width="20.8" height="20.8" fill="#355f8d"/><rect x="201.7" width="20.8" height="20.8" fill="#2d718e"/><rect x="221.9" width="20.8" height="20.8" fill="#21918c"/><rect x="242" width="20.8" height="20.8" fill="#287d8e"/><rect x="262.2" width="20.8" height="20.8" fill="#1f958b"/><rect x="282.4" width="20.8" height="20.8" fill="#5ec962"/></g>
<g transform="translate(794.2,86.8)"><rect x="0" width="20.8" height="20.8" fill="#1f958b"/><rect x="20.2" width="40.9" height="20.8" fill="#2a788e"/><rect x="60.5" width="20.8" height="20.8" fill="#375a8c"/><rect x="80.7" width="20.8" height="20.8" fill="#2f6c8e"/><rect x="100.9" width="20.8" height="20.8" fill="#2d718e"/><rect x="121" width="20.8" height="20.8" fill="#433e85"/><rect x="141.2" width="40.9" height="20.8" fill="#355f8d"/><rect x="181.5" width="20.8" height="20.8" fill="#228b8d"/><rect x="201.7" width="20.8" height="20.8" fill="#2c738e"/><rect x="221.9" width="20.8" height="20.8" fill="#228b8d"/><rect x="242" width="20.8" height="20.8" fill="#27808e"/><rect x="262.2" width="20.8" height="20.8" fill="#22a884"/><rect x="282.4" width="20.8" height="20.8" fill="#5ec962"/></g>
<g transform="translate(794.2,107)"><rect x="0" width="20.8" height="20.8" fill="#287d8e"/><rect x="20.2" width="40.9" height="20.8" fill="#2a788e"/><rect x="60.5" width="20.8" height="20.8" fill="#2c738e"/><rect x="80.7" width="20.8" height="20.8" fill="#3e4989"/><rect x="100.9" width="40.9" height="20.8" fill="#375a8c"/><rect x="141.2" width="20.8" height="20.8" fill="#287d8e"/><rect x="161.4" width="20.8" height="20.8" fill="#355f8d"/><rect x="181.5" width="20.8" height="20.8" fill="#2f6c8e"/><rect x="201.7" width="40.9" height="20.8" fill="#25848e"/><rect x="242" width="20.8" height="20.8" fill="#27808e"/><rect x="262.2" width="20.8" height="20.8" fill="#21918c"/><rect x="282.4" width="20.8" height="20.8" fill="#1e9c89"/></g>
<g transform="translate(794.2,127.2)"><rect x="0" width="20.8" height="20.8" fill="#287d8e"/><rect x="20.2" width="20.8" height="20.8" fill="#2c738e"/><rect x="40.3" width="20.8" height="20.8" fill="#38588c"/><rect x="60.5" width="20.8" height="20.8" fill="#31678e"/><rect x="80.7" width="20.8" height="20.8" fill="#2d718e"/><rect x="100.9" width="20.8" height="20.8" fill="#3b528b"/><rect x="121" width="20.8" height="20.8" fill="#355f8d"/><rect x="141.2" width="20.8" height="20.8" fill="#38588c"/><rect x="161.4" width="20.8" height="20.8" fill="#414487"/><rect x="181.5" width="20.8" height="20.8" fill="#355f8d"/><rect x="201.7" width="20.8" height="20.8" fill="#3b528b"/><rect x="221.9" width="20.8" height="20.8" fill="#2c738e"/><rect x="242" width="20.8" height="20.8" fill="#287d8e"/><rect x="262.2" width="20.8" height="20.8" fill="#21918c"/><rect x="282.4" width="20.8" height="20.8" fill="#22a884"/></g>
<g transform="translate(794.2,147.3)"><rect x="0" width="20.8" height="20.8" fill="#355f8d"/><rect x="20.2" width="20.8" height="20.8" fill="#27808e"/><rect x="40.3" width="40.9" height="20.8" fill="#2d718e"/><rect x="80.7" width="20.8" height="20.8" fill="#375a8c"/><rect x="100.9" width="20.8" height="20.8" fill="#2f6c8e"/><rect x="121" width="20.8" height="20.8" fill="#433e85"/><rect x="141.2" width="20.8" height="20.8" fill="#355f8d"/><rect x="161.4" width="20.8" height="20.8" fill="#414487"/><rect x="181.5" width="20.8" height="20.8" fill="#2d718e"/><rect x="201.7" width="20.8" height="20.8" fill="#38588c"/><rect x="221.9" width="20.8" height="20.8" fill="#375a8c"/><rect x="242" width="20.8" height="20.8" fill="#2d718e"/><rect x="262.2" width="20.8" height="20.8" fill="#287d8e"/><rect x="282.4" width="20.8" height="20.8" fill="#1e9c89"/></g>
<g transform="translate(794.2,167.5)"><rect x="0" width="20.8" height="20.8" fill="#287d8e"/><rect x="20.2" width="20.8" height="20.8" fill="#2f6c8e"/><rect x="40.3" width="20.8" height="20.8" fill="#3e4c8a"/><rect x="60.5" width="20.8" height="20.8" fill="#2d718e"/><rect x="80.7" width="20.8" height="20.8" fill="#3b528b"/><rect x="100.9" width="20.8" height="20.8" fill="#38588c"/><rect x="121" width="20.8" height="20.8" fill="#355f8d"/><rect x="141.2" width="40.9" height="20.8" fill="#375a8c"/><rect x="181.5" width="20.8" height="20.8" fill="#3b528b"/><rect x="201.7" width="40.9" height="20.8" fill="#375a8c"/><rect x="242" width="20.8" height="20.8" fill="#2f6c8e"/><rect x="262.2" width="20.8" height="20.8" fill="#2a788e"/><rect x="282.4" width="20.8" height="20.8" fill="#21918c"/></g>
<g transform="translate(794.2,187.7)"><rect x="0" width="20.8" height="20.8" fill="#27808e"/><rect x="20.2" width="20.8" height="20.8" fill="#287d8e"/><rect x="40.3" width="20.8" height="20.8" fill="#2d718e"/><rect x="60.5" width="20.8" height="20.8" fill="#2f6c8e"/><rect x="80.7" width="20.8" height="20.8" fill="#3e4989"/><rect x="100.9" width="20.8" height="20.8" fill="#3b528b"/><rect x="121" width="20.8" height="20.8" fill="#414487"/><rect x="141.2" width="20.8" height="20.8" fill="#38588c"/><rect x="161.4" width="20.8" height="20.8" fill="#472a7a"/><rect x="181.5" width="20.8" height="20.8" fill="#38588c"/><rect x="201.7" width="20.8" height="20.8" fill="#2c738e"/><rect x="221.9" width="20.8" height="20.8" fill="#2f6c8e"/><rect x="242" width="20.8" height="20.8" fill="#2a788e"/><rect x="262.2" width="40.9" height="20.8" fill="#25848e"/></g>
<g transform="translate(794.2,207.8)"><rect x="0" width="20.8" height="20.8" fill="#2a788e"/><rect x="20.2" width="20.8" height="20.8" fill="#31678e"/><rect x="40.3" width="20.8" height="20.8" fill="#2d718e"/><rect x="60.5" width="40.9" height="20.8" fill="#375a8c"/><rect x="100.9" width="20.8" height="20.8" fill="#3e4989"/><rect x="121" width="20.8" height="20.8" fill="#355f8d"/><rect x="141.2" width="20.8" height="20.8" fill="#38588c"/><rect x="161.4" width="20.8" height="20.8" fill="#3b528b"/><rect x="181.5" width="20.8" height="20.8" fill="#3e4989"/><rect x="201.7" width="20.8" height="20.8" fill="#2d718e"/><rect x="221.9" width="20.8" height="20.8" fill="#375a8c"/><rect x="242" width="20.8" height="20.8" fill="#3e4989"/><rect x="262.2" width="20.8" height="20.8" fill="#27808e"/><rect x="282.4" width="20.8" height="20.8" fill="#1e9c89"/></g>
<g transform="translate(794.2,228)"><rect x="0" width="20.8" height="20.8" fill="#2a788e"/><rect x="20.2" width="20.8" height="20.8" fill="#27808e"/><rect x="40.3" width="20.8" height="20.8" fill="#287d8e"/><rect x="60.5" width="20.8" height="20.8" fill="#2f6c8e"/><rect x="80.7" width="20.8" height="20.8" fill="#463480"/><rect x="100.9" width="20.8" height="20.8" fill="#3b528b"/><rect x="121" width="20.8" height="20.8" fill="#414487"/><rect x="141.2" width="20.8" height="20.8" fill="#2c738e"/><rect x="161.4" width="20.8" height="20.8" fill="#433e85"/><rect x="181.5" width="20.8" height="20.8" fill="#481a6c"/><rect x="201.7" width="20.8" height="20.8" fill="#3e4c8a"/><rect x="221.9" width="20.8" height="20.8" fill="#375a8c"/><rect x="242" width="20.8" height="20.8" fill="#2f6c8e"/><rect x="262.2" width="20.8" height="20.8" fill="#2a788e"/><rect x="282.4" width="20.8" height="20.8" fill="#21918c"/></g>
<g transform="translate(794.2,248.2)"><rect x="0" width="20.8" height="20.8" fill="#1e9c89"/><rect x="20.2" width="20.8" height="20.8" fill="#2a788e"/><rect x="40.3" width="20.8" height="20.8" fill="#31678e"/><rect x="60.5" width="20.8" height="20.8" fill="#2c738e"/><rect x="80.7" width="20.8" height="20.8" fill="#2f6c8e"/><rect x="100.9" width="20.8" height="20.8" fill="#3b528b"/><rect x="121" width="20.8" height="20.8" fill="#414487"/><rect x="141.2" width="20.8" height="20.8" fill="#32648e"/><rect x="161.4" width="20.8" height="20.8" fill="#414487"/><rect x="181.5" width="20.8" height="20.8" fill="#472a7a"/><rect x="201.7" width="40.9" height="20.8" fill="#3b528b"/><rect x="242" width="20.8" height="20.8" fill="#32648e"/><rect x="262.2" width="20.8" height="20.8" fill="#2a788e"/><rect x="282.4" width="20.8" height="20.8" fill="#25848e"/></g>
<g transform="translate(794.2,268.4)"><rect x="0" width="20.8" height="20.8" fill="#1f958b"/><rect x="20.2" width="20.8" height="20.8" fill="#228b8d"/><rect x="40.3" width="20.8" height="20.8" fill="#287d8e"/><rect x="60.5" width="20.8" height="20.8" fill="#31678e"/><rect x="80.7" width="20.8" height="20.8" fill="#38588c"/><rect x="100.9" width="20.8" height="20.8" fill="#2f6c8e"/><rect x="121" width="20.8" height="20.8" fill="#38588c"/><rect x="141.2" width="20.8" height="20.8" fill="#2c738e"/><rect x="161.4" width="20.8" height="20.8" fill="#3e4c8a"/><rect x="181.5" width="20.8" height="20.8" fill="#433e85"/><rect x="201.7" width="20.8" height="20.8" fill="#375a8c"/><rect x="221.9" width="20.8" height="20.8" fill="#2f6c8e"/><rect x="242" width="20.8" height="20.8" fill="#287d8e"/><rect x="262.2" width="20.8" height="20.8" fill="#1e9c89"/><rect x="282.4" width="20.8" height="20.8" fill="#25848e"/></g>
<g transform="translate(794.2,288.5)"><rect x="0" width="20.8" height="20.8" fill="#21918c"/><rect x="20.2" width="20.8" height="20.8" fill="#1e9c89"/><rect x="40.3" width="20.8" height="20.8" fill="#287d8e"/><rect x="60.5" width="20.8" height="20.8" fill="#31678e"/><rect x="80.7" width="20.8" height="20.8" fill="#375a8c"/><rect x="100.9" width="20.8" height="20.8" fill="#355f8d"/><rect x="121" width="20.8" height="20.8" fill="#443a83"/><rect x="141.2" width="20.8" height="20.8" fill="#38588c"/><rect x="161.4" width="20.8" height="20.8" fill="#443a83"/><rect x="181.5" width="20.8" height="20.8" fill="#38588c"/><rect x="201.7" width="20.8" height="20.8" fill="#31678e"/><rect x="221.9" width="20.8" height="20.8" fill="#2a788e"/><rect x="242" width="20.8" height="20.8" fill="#287d8e"/><rect x="262.2" width="20.8" height="20.8" fill="#2a788e"/><rect x="282.4" width="20.8" height="20.8" fill="#1f958b"/></g>
<g transform="translate(794.2,308.7)"><rect x="0" width="20.8" height="20.8" fill="#228b8d"/><rect x="20.2" width="20.8" height="20.8" fill="#2a788e"/><rect x="40.3" width="20.8" height="20.8" fill="#25848e"/><rect x="60.5" width="20.8" height="20.8" fill="#32648e"/><rect x="80.7" width="40.9" height="20.8" fill="#2f6c8e"/><rect x="121" width="40.9" height="20.8" fill="#375a8c"/><rect x="161.4" width="20.8" height="20.8" fill="#2c738e"/><rect x="181.5" width="20.8" height="20.8" fill="#2d718e"/><rect x="201.7" width="20.8" height="20.8" fill="#2f6c8e"/><rect x="221.9" width="20.8" height="20.8" fill="#287d8e"/><rect x="242" width="20.8" height="20.8" fill="#31678e"/><rect x="262.2" width="20.8" height="20.8" fill="#25848e"/><rect x="282.4" width="20.8" height="20.8" fill="#1e9c89"/></g>
<g transform="translate(794.2,328.9)"><rect x="0" width="20.8" height="20.8" fill="#2fb47c"/><rect x="20.2" width="20.8" height="20.8" fill="#1f958b"/><rect x="40.3" width="20.8" height="20.8" fill="#228b8d"/><rect x="60.5" width="40.9" height="20.8" fill="#2a788e"/><rect x="100.9" width="61.1" height="20.8" fill="#2c738e"/><rect x="161.4" width="101.5" height="20.8" fill="#287d8e"/><rect x="262.2" width="20.8" height="20.8" fill="#2a788e"/><rect x="282.4" width="20.8" height="20.8" fill="#29af7f"/></g>
<g transform="translate(794.2,349)"><rect x="0" width="20.8" height="20.8" fill="#22a884"/><rect x="20.2" width="20.8" height="20.8" fill="#1e9c89"/><rect x="40.3" width="20.8" height="20.8" fill="#1f958b"/><rect x="60.5" width="40.9" height="20.8" fill="#27808e"/><rect x="100.9" width="20.8" height="20.8" fill="#287d8e"/><rect x="121" width="20.8" height="20.8" fill="#23898e"/><rect x="141.2" width="20.8" height="20.8" fill="#25848e"/><rect x="161.4" width="20.8" height="20.8" fill="#228b8d"/><rect x="181.5" width="20.8" height="20.8" fill="#27808e"/><rect x="201.7" width="20.8" height="20.8" fill="#25848e"/><rect x="221.9" width="20.8" height="20.8" fill="#2a788e"/><rect x="242" width="20.8" height="20.8" fill="#25848e"/><rect x="262.2" width="20.8" height="20.8" fill="#21918c"/><rect x="282.4" width="20.8" height="20.8" fill="#26ad81"/></g>
</g>
<path d="M911,322.5C909.1,321.6 904.1,319.6 900,317C895.8,314.5 889.9,310.9 886.2,307.4C882.6,304 879.8,300.1 878,296.4C876.1,292.8 876.8,290.9 875.2,285.4C873.6,279.9 870.6,270.8 868.4,263.4C866.1,256.1 863.8,248.8 861.5,241.4C859.2,234.1 856.7,226.8 854.6,219.5C852.5,212.1 850.5,204.8 849.1,197.5C847.7,190.1 846.4,182.8 846.4,175.5C846.4,168.1 848,160.3 849.1,153.5C850.3,146.6 851.4,140 853.2,134.2C855.1,128.5 857.4,123.7 860.1,119.1C862.9,114.5 866.8,111.1 869.7,106.7C872.6,102.4 875.2,97.7 877.4,93C879.6,88.3 882,81.1 882.9,78.7M957.7,78.7C958.4,80.2 960,83.7 961.8,87.5C963.7,91.2 965.7,96.2 968.7,101.2C971.7,106.3 975.6,113.2 979.7,117.7C983.8,122.3 988.4,124.6 993.4,128.7C998.5,132.9 1004.4,137.4 1009.9,142.5C1015.4,147.5 1022.8,153 1026.4,159C1030.1,164.9 1030.5,171.3 1031.9,178.2C1033.3,185.1 1033.1,193.3 1034.7,200.2C1036.3,207.1 1039.7,213 1041.5,219.5C1043.4,225.9 1046.1,231.8 1045.7,238.7C1045.2,245.6 1041.5,253.8 1038.8,260.7C1036,267.6 1032.6,273.7 1029.2,279.9C1025.7,286.1 1022.3,292.8 1018.2,297.8C1014.1,302.8 1009.9,306.5 1004.4,310.2C998.9,313.8 992.1,317.6 985.2,319.8C978.3,322 970.3,322.3 963.2,323.4C956.1,324.4 946,325.7 942.6,326.1M1054.5,78.7C1054.6,81.1 1054.7,89 1055.3,93C1055.9,97 1057.6,101 1058,102.6M1075.9,132.9C1076.9,134.5 1080,139.6 1082,142.5C1083.9,145.4 1086.5,148.9 1087.5,150.2M1078.1,336.3 L1078.1,352.8M805.9,323.9 L814.7,330.8M834,355.5 L838.9,360.2" fill="none" stroke="#fff" stroke-width="6.2" stroke-linecap="butt" stroke-linejoin="round"/>
<text font-size="26.6" fill="#fff" text-anchor="middle" transform="translate(926.1,325.3) rotate(0)" y="9.7">40</text>
<text font-size="26.6" fill="#fff" text-anchor="middle" transform="translate(1063.5,119.1) rotate(60)" y="9.7">60</text>
<text font-size="26.6" fill="#fff" text-anchor="middle" transform="translate(1079.2,314.3) rotate(-80)" y="9.7">60</text>
<text font-size="26.6" fill="#fff" text-anchor="middle" transform="translate(827.9,340.4) rotate(48)" y="9.7">60</text>
<rect x="984.5" y="354.5" width="101.5" height="10" fill="#fff" stroke="#000" stroke-width="1.2"/>
<rect x="795.4" y="68.3" width="302.6" height="302.5" fill="none" stroke="#000" stroke-width="4.2"/>
<g class="hc" shape-rendering="crispEdges">
<g transform="translate(165,505.9)"><rect x="0" width="10.7" height="10.7" fill="#2c718e"/><rect x="10.1" width="10.7" height="10.7" fill="#32658e"/><rect x="20.2" width="10.7" height="10.7" fill="#38598c"/><rect x="30.2" width="10.7" height="10.7" fill="#3c508b"/><rect x="40.3" width="10.7" height="10.7" fill="#3e4a89"/><rect x="50.4" width="10.7" height="10.7" fill="#404688"/><rect x="60.5" width="10.7" height="10.7" fill="#424186"/><rect x="70.5" width="10.7" height="10.7" fill="#433e85"/><rect x="80.6" width="10.7" height="10.7" fill="#443b84"/><rect x="90.7" width="10.7" height="10.7" fill="#453882"/><rect x="100.8" width="10.7" height="10.7" fill="#453781"/><rect x="110.8" width="10.7" height="10.7" fill="#453581"/><rect x="120.9" width="10.7" height="10.7" fill="#463480"/><rect x="131" width="20.8" height="10.7" fill="#46337f"/><rect x="151.1" width="10.7" height="10.7" fill="#463480"/><rect x="161.2" width="10.7" height="10.7" fill="#453581"/><rect x="171.3" width="10.7" height="10.7" fill="#453781"/><rect x="181.4" width="10.7" height="10.7" fill="#443983"/><rect x="191.5" width="10.7" height="10.7" fill="#433d84"/><rect x="201.5" width="10.7" height="10.7" fill="#424086"/><rect x="211.6" width="10.7" height="10.7" fill="#414287"/><rect x="221.7" width="10.7" height="10.7" fill="#404588"/><rect x="231.8" width="10.7" height="10.7" fill="#3f4889"/><rect x="241.8" width="10.7" height="10.7" fill="#3c4f8a"/><rect x="251.9" width="10.7" height="10.7" fill="#375a8c"/><rect x="262" width="10.7" height="10.7" fill="#31688e"/><rect x="272.1" width="10.7" height="10.7" fill="#297b8e"/><rect x="282.1" width="10.7" height="10.7" fill="#20928c"/><rect x="292.2" width="10.7" height="10.7" fill="#24aa83"/></g>
<g transform="translate(165,516)"><rect x="0" width="10.7" height="10.7" fill="#2e6e8e"/><rect x="10.1" width="10.7" height="10.7" fill="#33628d"/><rect x="20.2" width="10.7" height="10.7" fill="#39558c"/><rect x="30.2" width="10.7" height="10.7" fill="#3d4d8a"/><rect x="40.3" width="10.7" height="10.7" fill="#3f4788"/><rect x="50.4" width="10.7" height="10.7" fill="#414287"/><rect x="60.5" width="10.7" height="10.7" fill="#423f85"/><rect x="70.5" width="10.7" height="10.7" fill="#443b84"/><rect x="80.6" width="10.7" height="10.7" fill="#443983"/><rect x="90.7" width="10.7" height="10.7" fill="#453781"/><rect x="100.8" width="10.7" height="10.7" fill="#463480"/><rect x="110.8" width="10.7" height="10.7" fill="#46337f"/><rect x="120.9" width="10.7" height="10.7" fill="#46327e"/><rect x="131" width="20.8" height="10.7" fill="#46307e"/><rect x="151.1" width="20.8" height="10.7" fill="#46327e"/><rect x="171.3" width="10.7" height="10.7" fill="#463480"/><rect x="181.4" width="10.7" height="10.7" fill="#453581"/><rect x="191.5" width="10.7" height="10.7" fill="#453882"/><rect x="201.5" width="10.7" height="10.7" fill="#443b84"/><rect x="211.6" width="10.7" height="10.7" fill="#433e85"/><rect x="221.7" width="10.7" height="10.7" fill="#424186"/><rect x="231.8" width="10.7" height="10.7" fill="#404688"/><rect x="241.8" width="10.7" height="10.7" fill="#3d4e8a"/><rect x="251.9" width="10.7" height="10.7" fill="#375a8c"/><rect x="262" width="10.7" height="10.7" fill="#306a8e"/><rect x="272.1" width="10.7" height="10.7" fill="#27808e"/><rect x="282.1" width="10.7" height="10.7" fill="#1f978b"/><rect x="292.2" width="10.7" height="10.7" fill="#28ae80"/></g>
<g transform="translate(165,526.1)"><rect x="0" width="10.7" height="10.7" fill="#2f6c8e"/><rect x="10.1" width="10.7" height="10.7" fill="#34608d"/><rect x="20.2" width="10.7" height="10.7" fill="#39558c"/><rect x="30.2" width="10.7" height="10.7" fill="#3d4d8a"/><rect x="40.3" width="10.7" height="10.7" fill="#404688"/><rect x="50.4" width="10.7" height="10.7" fill="#424186"/><rect x="60.5" width="10.7" height="10.7" fill="#433e85"/><rect x="70.5" width="10.7" height="10.7" fill="#443a83"/><rect x="80.6" width="10.7" height="10.7" fill="#453781"/><rect x="90.7" width="10.7" height="10.7" fill="#463480"/><rect x="100.8" width="10.7" height="10.7" fill="#46337f"/><rect x="110.8" width="10.7" height="10.7" fill="#46307e"/><rect x="120.9" width="51" height="10.7" fill="#472f7d"/><rect x="171.3" width="10.7" height="10.7" fill="#46307e"/><rect x="181.4" width="10.7" height="10.7" fill="#46337f"/><rect x="191.5" width="10.7" height="10.7" fill="#463480"/><rect x="201.5" width="10.7" height="10.7" fill="#453781"/><rect x="211.6" width="10.7" height="10.7" fill="#443983"/><rect x="221.7" width="10.7" height="10.7" fill="#433d84"/><rect x="231.8" width="10.7" height="10.7" fill="#414487"/><rect x="241.8" width="10.7" height="10.7" fill="#3d4d8a"/><rect x="251.9" width="10.7" height="10.7" fill="#375b8d"/><rect x="262" width="10.7" height="10.7" fill="#2e6e8e"/><rect x="272.1" width="10.7" height="10.7" fill="#25838e"/><rect x="282.1" width="10.7" height="10.7" fill="#1e9b8a"/><rect x="292.2" width="10.7" height="10.7" fill="#2db27d"/></g>
<g transform="translate(165,536.1)"><rect x="0" width="10.7" height="10.7" fill="#2f6b8e"/><rect x="10.1" width="10.7" height="10.7" fill="#34608d"/><rect x="20.2" width="10.7" height="10.7" fill="#39568c"/><rect x="30.2" width="10.7" height="10.7" fill="#3d4e8a"/><rect x="40.3" width="10.7" height="10.7" fill="#3f4788"/><rect x="50.4" width="10.7" height="10.7" fill="#424186"/><rect x="60.5" width="10.7" height="10.7" fill="#433e85"/><rect x="70.5" width="10.7" height="10.7" fill="#443983"/><rect x="80.6" width="10.7" height="10.7" fill="#453781"/><rect x="90.7" width="10.7" height="10.7" fill="#463480"/><rect x="100.8" width="10.7" height="10.7" fill="#46327e"/><rect x="110.8" width="10.7" height="10.7" fill="#472f7d"/><rect x="120.9" width="20.8" height="10.7" fill="#472e7c"/><rect x="141.1" width="20.8" height="10.7" fill="#472d7b"/><rect x="161.2" width="20.8" height="10.7" fill="#472e7c"/><rect x="181.4" width="10.7" height="10.7" fill="#472f7d"/><rect x="191.5" width="10.7" height="10.7" fill="#46327e"/><rect x="201.5" width="10.7" height="10.7" fill="#46337f"/><rect x="211.6" width="10.7" height="10.7" fill="#453781"/><rect x="221.7" width="10.7" height="10.7" fill="#443a83"/><rect x="231.8" width="10.7" height="10.7" fill="#424186"/><rect x="241.8" width="10.7" height="10.7" fill="#3d4d8a"/><rect x="251.9" width="10.7" height="10.7" fill="#365d8d"/><rect x="262" width="10.7" height="10.7" fill="#2d718e"/><rect x="272.1" width="10.7" height="10.7" fill="#24878e"/><rect x="282.1" width="10.7" height="10.7" fill="#1f9f88"/><rect x="292.2" width="10.7" height="10.7" fill="#31b57b"/></g>
<g transform="translate(165,546.2)"><rect x="0" width="10.7" height="10.7" fill="#2f6b8e"/><rect x="10.1" width="10.7" height="10.7" fill="#34618d"/><rect x="20.2" width="10.7" height="10.7" fill="#38588c"/><rect x="30.2" width="10.7" height="10.7" fill="#3c4f8a"/><rect x="40.3" width="10.7" height="10.7" fill="#3f4889"/><rect x="50.4" width="10.7" height="10.7" fill="#414287"/><rect x="60.5" width="10.7" height="10.7" fill="#433e85"/><rect x="70.5" width="10.7" height="10.7" fill="#443a83"/><rect x="80.6" width="10.7" height="10.7" fill="#453781"/><rect x="90.7" width="10.7" height="10.7" fill="#463480"/><rect x="100.8" width="10.7" height="10.7" fill="#46327e"/><rect x="110.8" width="10.7" height="10.7" fill="#472f7d"/><rect x="120.9" width="10.7" height="10.7" fill="#472e7c"/><rect x="131" width="20.8" height="10.7" fill="#472d7b"/><rect x="151.1" width="20.8" height="10.7" fill="#472c7a"/><rect x="171.3" width="10.7" height="10.7" fill="#472d7b"/><rect x="181.4" width="10.7" height="10.7" fill="#472e7c"/><rect x="191.5" width="10.7" height="10.7" fill="#472f7d"/><rect x="201.5" width="10.7" height="10.7" fill="#46327e"/><rect x="211.6" width="10.7" height="10.7" fill="#463480"/><rect x="221.7" width="10.7" height="10.7" fill="#443983"/><rect x="231.8" width="10.7" height="10.7" fill="#424186"/><rect x="241.8" width="10.7" height="10.7" fill="#3d4d8a"/><rect x="251.9" width="10.7" height="10.7" fill="#355e8d"/><rect x="262" width="10.7" height="10.7" fill="#2c738e"/><rect x="272.1" width="10.7" height="10.7" fill="#228b8d"/><rect x="282.1" width="10.7" height="10.7" fill="#1fa287"/><rect x="292.2" width="10.7" height="10.7" fill="#34b679"/></g>
<g transform="translate(165,556.3)"><rect x="0" width="10.7" height="10.7" fill="#2f6c8e"/><rect x="10.1" width="10.7" height="10.7" fill="#33638d"/><rect x="20.2" width="10.7" height="10.7" fill="#375a8c"/><rect x="30.2" width="10.7" height="10.7" fill="#3b528b"/><rect x="40.3" width="10.7" height="10.7" fill="#3e4a89"/><rect x="50.4" width="10.7" height="10.7" fill="#404588"/><rect x="60.5" width="10.7" height="10.7" fill="#424086"/><rect x="70.5" width="10.7" height="10.7" fill="#443b84"/><rect x="80.6" width="10.7" height="10.7" fill="#453882"/><rect x="90.7" width="10.7" height="10.7" fill="#463480"/><rect x="100.8" width="10.7" height="10.7" fill="#46327e"/><rect x="110.8" width="10.7" height="10.7" fill="#472f7d"/><rect x="120.9" width="10.7" height="10.7" fill="#472e7c"/><rect x="131" width="10.7" height="10.7" fill="#472d7b"/><rect x="141.1" width="40.9" height="10.7" fill="#472c7a"/><rect x="181.4" width="10.7" height="10.7" fill="#472d7b"/><rect x="191.5" width="10.7" height="10.7" fill="#472e7c"/><rect x="201.5" width="10.7" height="10.7" fill="#46307e"/><rect x="211.6" width="10.7" height="10.7" fill="#463480"/><rect x="221.7" width="10.7" height="10.7" fill="#443a83"/><rect x="231.8" width="10.7" height="10.7" fill="#414487"/><rect x="241.8" width="10.7" height="10.7" fill="#3c508b"/><rect x="251.9" width="10.7" height="10.7" fill="#33628d"/><rect x="262" width="10.7" height="10.7" fill="#2a768e"/><rect x="272.1" width="10.7" height="10.7" fill="#228d8d"/><rect x="282.1" width="10.7" height="10.7" fill="#20a386"/><rect x="292.2" width="10.7" height="10.7" fill="#35b779"/></g>
<g transform="translate(165,566.4)"><rect x="0" width="10.7" height="10.7" fill="#2e6e8e"/><rect x="10.1" width="10.7" height="10.7" fill="#32658e"/><rect x="20.2" width="10.7" height="10.7" fill="#365d8d"/><rect x="30.2" width="10.7" height="10.7" fill="#3a548c"/><rect x="40.3" width="10.7" height="10.7" fill="#3d4e8a"/><rect x="50.4" width="10.7" height="10.7" fill="#3f4788"/><rect x="60.5" width="10.7" height="10.7" fill="#414287"/><rect x="70.5" width="10.7" height="10.7" fill="#433d84"/><rect x="80.6" width="10.7" height="10.7" fill="#443983"/><rect x="90.7" width="10.7" height="10.7" fill="#453581"/><rect x="100.8" width="10.7" height="10.7" fill="#46337f"/><rect x="110.8" width="10.7" height="10.7" fill="#46307e"/><rect x="120.9" width="10.7" height="10.7" fill="#472e7c"/><rect x="131" width="20.8" height="10.7" fill="#472d7b"/><rect x="151.1" width="30.8" height="10.7" fill="#472c7a"/><rect x="181.4" width="10.7" height="10.7" fill="#472d7b"/><rect x="191.5" width="10.7" height="10.7" fill="#472f7d"/><rect x="201.5" width="10.7" height="10.7" fill="#46327e"/><rect x="211.6" width="10.7" height="10.7" fill="#453781"/><rect x="221.7" width="10.7" height="10.7" fill="#433d84"/><rect x="231.8" width="10.7" height="10.7" fill="#3f4788"/><rect x="241.8" width="10.7" height="10.7" fill="#3a548c"/><rect x="251.9" width="10.7" height="10.7" fill="#31668e"/><rect x="262" width="10.7" height="10.7" fill="#29798e"/><rect x="272.1" width="10.7" height="10.7" fill="#218f8d"/><rect x="282.1" width="10.7" height="10.7" fill="#20a386"/><rect x="292.2" width="10.7" height="10.7" fill="#34b679"/></g>
<g transform="translate(165,576.4)"><rect x="0" width="10.7" height="10.7" fill="#2d708e"/><rect x="10.1" width="10.7" height="10.7" fill="#31678e"/><rect x="20.2" width="10.7" height="10.7" fill="#355f8d"/><rect x="30.2" width="10.7" height="10.7" fill="#38588c"/><rect x="40.3" width="10.7" height="10.7" fill="#3b518b"/><rect x="50.4" width="10.7" height="10.7" fill="#3e4a89"/><rect x="60.5" width="10.7" height="10.7" fill="#404588"/><rect x="70.5" width="10.7" height="10.7" fill="#423f85"/><rect x="80.6" width="10.7" height="10.7" fill="#443b84"/><rect x="90.7" width="10.7" height="10.7" fill="#453781"/><rect x="100.8" width="10.7" height="10.7" fill="#463480"/><rect x="110.8" width="10.7" height="10.7" fill="#46327e"/><rect x="120.9" width="10.7" height="10.7" fill="#472f7d"/><rect x="131" width="10.7" height="10.7" fill="#472e7c"/><rect x="141.1" width="40.9" height="10.7" fill="#472d7b"/><rect x="181.4" width="10.7" height="10.7" fill="#472e7c"/><rect x="191.5" width="10.7" height="10.7" fill="#46307e"/><rect x="201.5" width="10.7" height="10.7" fill="#463480"/><rect x="211.6" width="10.7" height="10.7" fill="#443983"/><rect x="221.7" width="10.7" height="10.7" fill="#424086"/><rect x="231.8" width="10.7" height="10.7" fill="#3e4a89"/><rect x="241.8" width="10.7" height="10.7" fill="#38598c"/><rect x="251.9" width="10.7" height="10.7" fill="#30698e"/><rect x="262" width="10.7" height="10.7" fill="#297b8e"/><rect x="272.1" width="10.7" height="10.7" fill="#218f8d"/><rect x="282.1" width="10.7" height="10.7" fill="#1fa287"/><rect x="292.2" width="10.7" height="10.7" fill="#31b57b"/></g>
<g transform="translate(165,586.5)"><rect x="0" width="10.7" height="10.7" fill="#2c718e"/><rect x="10.1" width="10.7" height="10.7" fill="#306a8e"/><rect x="20.2" width="10.7" height="10.7" fill="#33628d"/><rect x="30.2" width="10.7" height="10.7" fill="#375b8d"/><rect x="40.3" width="10.7" height="10.7" fill="#3a538b"/><rect x="50.4" width="10.7" height="10.7" fill="#3d4d8a"/><rect x="60.5" width="10.7" height="10.7" fill="#3f4788"/><rect x="70.5" width="10.7" height="10.7" fill="#424186"/><rect x="80.6" width="10.7" height="10.7" fill="#433d84"/><rect x="90.7" width="10.7" height="10.7" fill="#443983"/><rect x="100.8" width="10.7" height="10.7" fill="#453581"/><rect x="110.8" width="10.7" height="10.7" fill="#46337f"/><rect x="120.9" width="10.7" height="10.7" fill="#46307e"/><rect x="131" width="10.7" height="10.7" fill="#472f7d"/><rect x="141.1" width="10.7" height="10.7" fill="#472e7c"/><rect x="151.1" width="20.8" height="10.7" fill="#472d7b"/><rect x="171.3" width="10.7" height="10.7" fill="#472e7c"/><rect x="181.4" width="10.7" height="10.7" fill="#472f7d"/><rect x="191.5" width="10.7" height="10.7" fill="#46327e"/><rect x="201.5" width="10.7" height="10.7" fill="#453781"/><rect x="211.6" width="10.7" height="10.7" fill="#433d84"/><rect x="221.7" width="10.7" height="10.7" fill="#404588"/><rect x="231.8" width="10.7" height="10.7" fill="#3c4f8a"/><rect x="241.8" width="10.7" height="10.7" fill="#365c8d"/><rect x="251.9" width="10.7" height="10.7" fill="#2f6b8e"/><rect x="262" width="10.7" height="10.7" fill="#287c8e"/><rect x="272.1" width="10.7" height="10.7" fill="#218e8d"/><rect x="282.1" width="10.7" height="10.7" fill="#1fa088"/><rect x="292.2" width="10.7" height="10.7" fill="#2ab07f"/></g>
<g transform="translate(165,596.6)"><rect x="0" width="10.7" height="10.7" fill="#2b748e"/><rect x="10.1" width="10.7" height="10.7" fill="#2e6d8e"/><rect x="20.2" width="10.7" height="10.7" fill="#31668e"/><rect x="30.2" width="10.7" height="10.7" fill="#355e8d"/><rect x="40.3" width="10.7" height="10.7" fill="#39568c"/><rect x="50.4" width="10.7" height="10.7" fill="#3c508b"/><rect x="60.5" width="10.7" height="10.7" fill="#3e4989"/><rect x="70.5" width="10.7" height="10.7" fill="#414487"/><rect x="80.6" width="10.7" height="10.7" fill="#423f85"/><rect x="90.7" width="10.7" height="10.7" fill="#443b84"/><rect x="100.8" width="10.7" height="10.7" fill="#453781"/><rect x="110.8" width="10.7" height="10.7" fill="#463480"/><rect x="120.9" width="10.7" height="10.7" fill="#46327e"/><rect x="131" width="10.7" height="10.7" fill="#46307e"/><rect x="141.1" width="10.7" height="10.7" fill="#472f7d"/><rect x="151.1" width="20.8" height="10.7" fill="#472e7c"/><rect x="171.3" width="10.7" height="10.7" fill="#472f7d"/><rect x="181.4" width="10.7" height="10.7" fill="#46307e"/><rect x="191.5" width="10.7" height="10.7" fill="#463480"/><rect x="201.5" width="10.7" height="10.7" fill="#453882"/><rect x="211.6" width="10.7" height="10.7" fill="#423f85"/><rect x="221.7" width="10.7" height="10.7" fill="#3f4788"/><rect x="231.8" width="10.7" height="10.7" fill="#3b528b"/><rect x="241.8" width="10.7" height="10.7" fill="#355e8d"/><rect x="251.9" width="10.7" height="10.7" fill="#2f6c8e"/><rect x="262" width="10.7" height="10.7" fill="#297b8e"/><rect x="272.1" width="10.7" height="10.7" fill="#228b8d"/><rect x="282.1" width="10.7" height="10.7" fill="#1e9b8a"/><rect x="292.2" width="10.7" height="10.7" fill="#25ab82"/></g>
<g transform="translate(165,606.7)"><rect x="0" width="10.7" height="10.7" fill="#2a788e"/><rect x="10.1" width="10.7" height="10.7" fill="#2d718e"/><rect x="20.2" width="10.7" height="10.7" fill="#30698e"/><rect x="30.2" width="10.7" height="10.7" fill="#33628d"/><rect x="40.3" width="10.7" height="10.7" fill="#375a8c"/><rect x="50.4" width="10.7" height="10.7" fill="#3a538b"/><rect x="60.5" width="10.7" height="10.7" fill="#3d4d8a"/><rect x="70.5" width="10.7" height="10.7" fill="#3f4788"/><rect x="80.6" width="10.7" height="10.7" fill="#424186"/><rect x="90.7" width="10.7" height="10.7" fill="#433d84"/><rect x="100.8" width="10.7" height="10.7" fill="#443983"/><rect x="110.8" width="10.7" height="10.7" fill="#453581"/><rect x="120.9" width="10.7" height="10.7" fill="#46337f"/><rect x="131" width="10.7" height="10.7" fill="#46307e"/><rect x="141.1" width="30.8" height="10.7" fill="#472f7d"/><rect x="171.3" width="10.7" height="10.7" fill="#46307e"/><rect x="181.4" width="10.7" height="10.7" fill="#46327e"/><rect x="191.5" width="10.7" height="10.7" fill="#453581"/><rect x="201.5" width="10.7" height="10.7" fill="#443a83"/><rect x="211.6" width="10.7" height="10.7" fill="#424186"/><rect x="221.7" width="10.7" height="10.7" fill="#3e4989"/><rect x="231.8" width="10.7" height="10.7" fill="#3a538b"/><rect x="241.8" width="10.7" height="10.7" fill="#355f8d"/><rect x="251.9" width="10.7" height="10.7" fill="#2f6b8e"/><rect x="262" width="10.7" height="10.7" fill="#2a788e"/><rect x="272.1" width="10.7" height="10.7" fill="#24868e"/><rect x="282.1" width="10.7" height="10.7" fill="#1f948c"/><rect x="292.2" width="10.7" height="10.7" fill="#20a386"/></g>
<g transform="translate(165,616.7)"><rect x="0" width="10.7" height="10.7" fill="#287c8e"/><rect x="10.1" width="10.7" height="10.7" fill="#2b748e"/><rect x="20.2" width="10.7" height="10.7" fill="#2e6d8e"/><rect x="30.2" width="10.7" height="10.7" fill="#32658e"/><rect x="40.3" width="10.7" height="10.7" fill="#365d8d"/><rect x="50.4" width="10.7" height="10.7" fill="#39568c"/><rect x="60.5" width="10.7" height="10.7" fill="#3c4f8a"/><rect x="70.5" width="10.7" height="10.7" fill="#3e4989"/><rect x="80.6" width="10.7" height="10.7" fill="#414487"/><rect x="90.7" width="10.7" height="10.7" fill="#433e85"/><rect x="100.8" width="10.7" height="10.7" fill="#443a83"/><rect x="110.8" width="10.7" height="10.7" fill="#453781"/><rect x="120.9" width="10.7" height="10.7" fill="#46337f"/><rect x="131" width="10.7" height="10.7" fill="#46327e"/><rect x="141.1" width="10.7" height="10.7" fill="#46307e"/><rect x="151.1" width="20.8" height="10.7" fill="#472f7d"/><rect x="171.3" width="10.7" height="10.7" fill="#46307e"/><rect x="181.4" width="10.7" height="10.7" fill="#46337f"/><rect x="191.5" width="10.7" height="10.7" fill="#453781"/><rect x="201.5" width="10.7" height="10.7" fill="#443b84"/><rect x="211.6" width="10.7" height="10.7" fill="#414287"/><rect x="221.7" width="10.7" height="10.7" fill="#3e4a89"/><rect x="231.8" width="10.7" height="10.7" fill="#3a538b"/><rect x="241.8" width="10.7" height="10.7" fill="#355e8d"/><rect x="251.9" width="10.7" height="10.7" fill="#306a8e"/><rect x="262" width="10.7" height="10.7" fill="#2b758e"/><rect x="272.1" width="10.7" height="10.7" fill="#26828e"/><rect x="282.1" width="10.7" height="10.7" fill="#21908d"/><rect x="292.2" width="10.7" height="10.7" fill="#1f9e89"/></g>
<g transform="translate(165,626.8)"><rect x="0" width="10.7" height="10.7" fill="#27808e"/><rect x="10.1" width="10.7" height="10.7" fill="#2a788e"/><rect x="20.2" width="10.7" height="10.7" fill="#2d708e"/><rect x="30.2" width="10.7" height="10.7" fill="#31688e"/><rect x="40.3" width="10.7" height="10.7" fill="#34608d"/><rect x="50.4" width="10.7" height="10.7" fill="#38598c"/><rect x="60.5" width="10.7" height="10.7" fill="#3b518b"/><rect x="70.5" width="10.7" height="10.7" fill="#3e4a89"/><rect x="80.6" width="10.7" height="10.7" fill="#404588"/><rect x="90.7" width="10.7" height="10.7" fill="#423f85"/><rect x="100.8" width="10.7" height="10.7" fill="#443a83"/><rect x="110.8" width="10.7" height="10.7" fill="#453781"/><rect x="120.9" width="10.7" height="10.7" fill="#46337f"/><rect x="131" width="10.7" height="10.7" fill="#46327e"/><rect x="141.1" width="10.7" height="10.7" fill="#46307e"/><rect x="151.1" width="10.7" height="10.7" fill="#472f7d"/><rect x="161.2" width="10.7" height="10.7" fill="#46307e"/><rect x="171.3" width="10.7" height="10.7" fill="#46327e"/><rect x="181.4" width="10.7" height="10.7" fill="#463480"/><rect x="191.5" width="10.7" height="10.7" fill="#453882"/><rect x="201.5" width="10.7" height="10.7" fill="#433d84"/><rect x="211.6" width="10.7" height="10.7" fill="#414287"/><rect x="221.7" width="10.7" height="10.7" fill="#3e4a89"/><rect x="231.8" width="10.7" height="10.7" fill="#3a538b"/><rect x="241.8" width="10.7" height="10.7" fill="#365d8d"/><rect x="251.9" width="10.7" height="10.7" fill="#31688e"/><rect x="262" width="10.7" height="10.7" fill="#2c728e"/><rect x="272.1" width="10.7" height="10.7" fill="#277f8e"/><rect x="282.1" width="10.7" height="10.7" fill="#228b8d"/><rect x="292.2" width="10.7" height="10.7" fill="#1f988b"/></g>
<g transform="translate(165,636.9)"><rect x="0" width="10.7" height="10.7" fill="#25838e"/><rect x="10.1" width="10.7" height="10.7" fill="#297b8e"/><rect x="20.2" width="10.7" height="10.7" fill="#2c728e"/><rect x="30.2" width="10.7" height="10.7" fill="#306a8e"/><rect x="40.3" width="10.7" height="10.7" fill="#33628d"/><rect x="50.4" width="10.7" height="10.7" fill="#375b8d"/><rect x="60.5" width="10.7" height="10.7" fill="#3a538b"/><rect x="70.5" width="10.7" height="10.7" fill="#3d4d8a"/><rect x="80.6" width="10.7" height="10.7" fill="#404688"/><rect x="90.7" width="10.7" height="10.7" fill="#424086"/><rect x="100.8" width="10.7" height="10.7" fill="#443b84"/><rect x="110.8" width="10.7" height="10.7" fill="#453781"/><rect x="120.9" width="10.7" height="10.7" fill="#46337f"/><rect x="131" width="10.7" height="10.7" fill="#46307e"/><rect x="141.1" width="30.8" height="10.7" fill="#472f7d"/><rect x="171.3" width="10.7" height="10.7" fill="#46327e"/><rect x="181.4" width="10.7" height="10.7" fill="#463480"/><rect x="191.5" width="10.7" height="10.7" fill="#453882"/><rect x="201.5" width="10.7" height="10.7" fill="#433e85"/><rect x="211.6" width="10.7" height="10.7" fill="#414487"/><rect x="221.7" width="10.7" height="10.7" fill="#3e4a89"/><rect x="231.8" width="10.7" height="10.7" fill="#3b528b"/><rect x="241.8" width="10.7" height="10.7" fill="#365c8d"/><rect x="251.9" width="10.7" height="10.7" fill="#31668e"/><rect x="262" width="10.7" height="10.7" fill="#2d718e"/><rect x="272.1" width="10.7" height="10.7" fill="#297b8e"/><rect x="282.1" width="10.7" height="10.7" fill="#24868e"/><rect x="292.2" width="10.7" height="10.7" fill="#20928c"/></g>
<g transform="translate(165,647)"><rect x="0" width="10.7" height="10.7" fill="#25858e"/><rect x="10.1" width="10.7" height="10.7" fill="#287d8e"/><rect x="20.2" width="10.7" height="10.7" fill="#2b748e"/><rect x="30.2" width="10.7" height="10.7" fill="#2f6c8e"/><rect x="40.3" width="10.7" height="10.7" fill="#33638d"/><rect x="50.4" width="10.7" height="10.7" fill="#365c8d"/><rect x="60.5" width="10.7" height="10.7" fill="#3a548c"/><rect x="70.5" width="10.7" height="10.7" fill="#3d4d8a"/><rect x="80.6" width="10.7" height="10.7" fill="#404688"/><rect x="90.7" width="10.7" height="10.7" fill="#424086"/><rect x="100.8" width="10.7" height="10.7" fill="#443a83"/><rect x="110.8" width="10.7" height="10.7" fill="#453781"/><rect x="120.9" width="10.7" height="10.7" fill="#46337f"/><rect x="131" width="10.7" height="10.7" fill="#46307e"/><rect x="141.1" width="10.7" height="10.7" fill="#472f7d"/><rect x="151.1" width="10.7" height="10.7" fill="#472e7c"/><rect x="161.2" width="10.7" height="10.7" fill="#472f7d"/><rect x="171.3" width="10.7" height="10.7" fill="#46327e"/><rect x="181.4" width="10.7" height="10.7" fill="#463480"/><rect x="191.5" width="10.7" height="10.7" fill="#453882"/><rect x="201.5" width="10.7" height="10.7" fill="#433e85"/><rect x="211.6" width="10.7" height="10.7" fill="#414487"/><rect x="221.7" width="10.7" height="10.7" fill="#3e4a89"/><rect x="231.8" width="10.7" height="10.7" fill="#3b528b"/><rect x="241.8" width="10.7" height="10.7" fill="#375b8d"/><rect x="251.9" width="10.7" height="10.7" fill="#32648e"/><rect x="262" width="10.7" height="10.7" fill="#2e6e8e"/><rect x="272.1" width="10.7" height="10.7" fill="#2a778e"/><rect x="282.1" width="10.7" height="10.7" fill="#26828e"/><rect x="292.2" width="10.7" height="10.7" fill="#218e8d"/></g>
<g transform="translate(165,657)"><rect x="0" width="10.7" height="10.7" fill="#24868e"/><rect x="10.1" width="10.7" height="10.7" fill="#277e8e"/><rect x="20.2" width="10.7" height="10.7" fill="#2b748e"/><rect x="30.2" width="10.7" height="10.7" fill="#2f6c8e"/><rect x="40.3" width="10.7" height="10.7" fill="#33638d"/><rect x="50.4" width="10.7" height="10.7" fill="#375b8d"/><rect x="60.5" width="10.7" height="10.7" fill="#3a538b"/><rect x="70.5" width="10.7" height="10.7" fill="#3e4c8a"/><rect x="80.6" width="10.7" height="10.7" fill="#404588"/><rect x="90.7" width="10.7" height="10.7" fill="#423f85"/><rect x="100.8" width="10.7" height="10.7" fill="#443983"/><rect x="110.8" width="10.7" height="10.7" fill="#453581"/><rect x="120.9" width="10.7" height="10.7" fill="#46327e"/><rect x="131" width="10.7" height="10.7" fill="#472f7d"/><rect x="141.1" width="30.8" height="10.7" fill="#472e7c"/><rect x="171.3" width="10.7" height="10.7" fill="#46307e"/><rect x="181.4" width="10.7" height="10.7" fill="#463480"/><rect x="191.5" width="10.7" height="10.7" fill="#453882"/><rect x="201.5" width="10.7" height="10.7" fill="#433e85"/><rect x="211.6" width="10.7" height="10.7" fill="#414487"/><rect x="221.7" width="10.7" height="10.7" fill="#3e4a89"/><rect x="231.8" width="10.7" height="10.7" fill="#3b528b"/><rect x="241.8" width="10.7" height="10.7" fill="#375b8d"/><rect x="251.9" width="10.7" height="10.7" fill="#33638d"/><rect x="262" width="10.7" height="10.7" fill="#2f6c8e"/><rect x="272.1" width="10.7" height="10.7" fill="#2b748e"/><rect x="282.1" width="10.7" height="10.7" fill="#277f8e"/><rect x="292.2" width="10.7" height="10.7" fill="#23898e"/></g>
<g transform="translate(165,667.1)"><rect x="0" width="10.7" height="10.7" fill="#25848e"/><rect x="10.1" width="10.7" height="10.7" fill="#287c8e"/><rect x="20.2" width="10.7" height="10.7" fill="#2c738e"/><rect x="30.2" width="10.7" height="10.7" fill="#306a8e"/><rect x="40.3" width="10.7" height="10.7" fill="#33628d"/><rect x="50.4" width="10.7" height="10.7" fill="#38598c"/><rect x="60.5" width="10.7" height="10.7" fill="#3b518b"/><rect x="70.5" width="10.7" height="10.7" fill="#3e4989"/><rect x="80.6" width="10.7" height="10.7" fill="#414487"/><rect x="90.7" width="10.7" height="10.7" fill="#433d84"/><rect x="100.8" width="10.7" height="10.7" fill="#453882"/><rect x="110.8" width="10.7" height="10.7" fill="#46337f"/><rect x="120.9" width="10.7" height="10.7" fill="#472f7d"/><rect x="131" width="10.7" height="10.7" fill="#472d7b"/><rect x="141.1" width="20.8" height="10.7" fill="#472c7a"/><rect x="161.2" width="10.7" height="10.7" fill="#472d7b"/><rect x="171.3" width="10.7" height="10.7" fill="#472f7d"/><rect x="181.4" width="10.7" height="10.7" fill="#46337f"/><rect x="191.5" width="10.7" height="10.7" fill="#453882"/><rect x="201.5" width="10.7" height="10.7" fill="#433d84"/><rect x="211.6" width="10.7" height="10.7" fill="#414487"/><rect x="221.7" width="10.7" height="10.7" fill="#3e4a89"/><rect x="231.8" width="10.7" height="10.7" fill="#3b528b"/><rect x="241.8" width="10.7" height="10.7" fill="#375a8c"/><rect x="251.9" width="10.7" height="10.7" fill="#34618d"/><rect x="262" width="10.7" height="10.7" fill="#30698e"/><rect x="272.1" width="10.7" height="10.7" fill="#2c718e"/><rect x="282.1" width="10.7" height="10.7" fill="#297b8e"/><rect x="292.2" width="10.7" height="10.7" fill="#25858e"/></g>
<g transform="translate(165,677.2)"><rect x="0" width="10.7" height="10.7" fill="#26828e"/><rect x="10.1" width="10.7" height="10.7" fill="#29798e"/><rect x="20.2" width="10.7" height="10.7" fill="#2d718e"/><rect x="30.2" width="10.7" height="10.7" fill="#31688e"/><rect x="40.3" width="10.7" height="10.7" fill="#355f8d"/><rect x="50.4" width="10.7" height="10.7" fill="#39568c"/><rect x="60.5" width="10.7" height="10.7" fill="#3c4f8a"/><rect x="70.5" width="10.7" height="10.7" fill="#3f4788"/><rect x="80.6" width="10.7" height="10.7" fill="#424186"/><rect x="90.7" width="10.7" height="10.7" fill="#443a83"/><rect x="100.8" width="10.7" height="10.7" fill="#453581"/><rect x="110.8" width="10.7" height="10.7" fill="#46307e"/><rect x="120.9" width="10.7" height="10.7" fill="#472d7b"/><rect x="131" width="10.7" height="10.7" fill="#472c7a"/><rect x="141.1" width="20.8" height="10.7" fill="#482979"/><rect x="161.2" width="10.7" height="10.7" fill="#472a7a"/><rect x="171.3" width="10.7" height="10.7" fill="#472d7b"/><rect x="181.4" width="10.7" height="10.7" fill="#46307e"/><rect x="191.5" width="10.7" height="10.7" fill="#453581"/><rect x="201.5" width="10.7" height="10.7" fill="#443b84"/><rect x="211.6" width="10.7" height="10.7" fill="#414287"/><rect x="221.7" width="10.7" height="10.7" fill="#3e4a89"/><rect x="231.8" width="10.7" height="10.7" fill="#3b518b"/><rect x="241.8" width="10.7" height="10.7" fill="#38598c"/><rect x="251.9" width="10.7" height="10.7" fill="#355f8d"/><rect x="262" width="10.7" height="10.7" fill="#31668e"/><rect x="272.1" width="10.7" height="10.7" fill="#2e6f8e"/><rect x="282.1" width="10.7" height="10.7" fill="#2a778e"/><rect x="292.2" width="10.7" height="10.7" fill="#26828e"/></g>
<g transform="translate(165,687.3)"><rect x="0" width="10.7" height="10.7" fill="#277e8e"/><rect x="10.1" width="10.7" height="10.7" fill="#2a768e"/><rect x="20.2" width="10.7" height="10.7" fill="#2e6e8e"/><rect x="30.2" width="10.7" height="10.7" fill="#32658e"/><rect x="40.3" width="10.7" height="10.7" fill="#365d8d"/><rect x="50.4" width="10.7" height="10.7" fill="#3a538b"/><rect x="60.5" width="10.7" height="10.7" fill="#3e4c8a"/><rect x="70.5" width="10.7" height="10.7" fill="#404588"/><rect x="80.6" width="10.7" height="10.7" fill="#433e85"/><rect x="90.7" width="10.7" height="10.7" fill="#453882"/><rect x="100.8" width="10.7" height="10.7" fill="#46337f"/><rect x="110.8" width="10.7" height="10.7" fill="#472e7c"/><rect x="120.9" width="10.7" height="10.7" fill="#472a7a"/><rect x="131" width="10.7" height="10.7" fill="#482878"/><rect x="141.1" width="20.8" height="10.7" fill="#482677"/><rect x="161.2" width="10.7" height="10.7" fill="#482878"/><rect x="171.3" width="10.7" height="10.7" fill="#472a7a"/><rect x="181.4" width="10.7" height="10.7" fill="#472e7c"/><rect x="191.5" width="10.7" height="10.7" fill="#46337f"/><rect x="201.5" width="10.7" height="10.7" fill="#443983"/><rect x="211.6" width="10.7" height="10.7" fill="#424086"/><rect x="221.7" width="10.7" height="10.7" fill="#3f4889"/><rect x="231.8" width="10.7" height="10.7" fill="#3c4f8a"/><rect x="241.8" width="10.7" height="10.7" fill="#39558c"/><rect x="251.9" width="10.7" height="10.7" fill="#365c8d"/><rect x="262" width="10.7" height="10.7" fill="#33628d"/><rect x="272.1" width="10.7" height="10.7" fill="#306a8e"/><rect x="282.1" width="10.7" height="10.7" fill="#2c738e"/><rect x="292.2" width="10.7" height="10.7" fill="#277f8e"/></g>
<g transform="translate(165,697.4)"><rect x="0" width="10.7" height="10.7" fill="#297a8e"/><rect x="10.1" width="10.7" height="10.7" fill="#2c728e"/><rect x="20.2" width="10.7" height="10.7" fill="#2f6b8e"/><rect x="30.2" width="10.7" height="10.7" fill="#33638d"/><rect x="40.3" width="10.7" height="10.7" fill="#375a8c"/><rect x="50.4" width="10.7" height="10.7" fill="#3b518b"/><rect x="60.5" width="10.7" height="10.7" fill="#3e4989"/><rect x="70.5" width="10.7" height="10.7" fill="#414287"/><rect x="80.6" width="10.7" height="10.7" fill="#443b84"/><rect x="90.7" width="10.7" height="10.7" fill="#453581"/><rect x="100.8" width="10.7" height="10.7" fill="#472f7d"/><rect x="110.8" width="10.7" height="10.7" fill="#472c7a"/><rect x="120.9" width="10.7" height="10.7" fill="#482878"/><rect x="131" width="10.7" height="10.7" fill="#482576"/><rect x="141.1" width="20.8" height="10.7" fill="#482475"/><rect x="161.2" width="10.7" height="10.7" fill="#482576"/><rect x="171.3" width="10.7" height="10.7" fill="#482677"/><rect x="181.4" width="10.7" height="10.7" fill="#472a7a"/><rect x="191.5" width="10.7" height="10.7" fill="#472f7d"/><rect x="201.5" width="10.7" height="10.7" fill="#453581"/><rect x="211.6" width="10.7" height="10.7" fill="#433d84"/><rect x="221.7" width="10.7" height="10.7" fill="#414487"/><rect x="231.8" width="10.7" height="10.7" fill="#3e4c8a"/><rect x="241.8" width="10.7" height="10.7" fill="#3b518b"/><rect x="251.9" width="10.7" height="10.7" fill="#39568c"/><rect x="262" width="10.7" height="10.7" fill="#365d8d"/><rect x="272.1" width="10.7" height="10.7" fill="#31668e"/><rect x="282.1" width="10.7" height="10.7" fill="#2d708e"/><rect x="292.2" width="10.7" height="10.7" fill="#297b8e"/></g>
<g transform="translate(165,707.4)"><rect x="0" width="10.7" height="10.7" fill="#2a768e"/><rect x="10.1" width="10.7" height="10.7" fill="#2e6f8e"/><rect x="20.2" width="10.7" height="10.7" fill="#31678e"/><rect x="30.2" width="10.7" height="10.7" fill="#34608d"/><rect x="40.3" width="10.7" height="10.7" fill="#38588c"/><rect x="50.4" width="10.7" height="10.7" fill="#3c4f8a"/><rect x="60.5" width="10.7" height="10.7" fill="#3f4788"/><rect x="70.5" width="10.7" height="10.7" fill="#423f85"/><rect x="80.6" width="10.7" height="10.7" fill="#453882"/><rect x="90.7" width="10.7" height="10.7" fill="#46327e"/><rect x="100.8" width="10.7" height="10.7" fill="#472d7b"/><rect x="110.8" width="10.7" height="10.7" fill="#482878"/><rect x="120.9" width="10.7" height="10.7" fill="#482475"/><rect x="131" width="10.7" height="10.7" fill="#482173"/><rect x="141.1" width="20.8" height="10.7" fill="#482071"/><rect x="161.2" width="10.7" height="10.7" fill="#482173"/><rect x="171.3" width="10.7" height="10.7" fill="#482374"/><rect x="181.4" width="10.7" height="10.7" fill="#482677"/><rect x="191.5" width="10.7" height="10.7" fill="#472c7a"/><rect x="201.5" width="10.7" height="10.7" fill="#46327e"/><rect x="211.6" width="10.7" height="10.7" fill="#453882"/><rect x="221.7" width="10.7" height="10.7" fill="#423f85"/><rect x="231.8" width="10.7" height="10.7" fill="#404588"/><rect x="241.8" width="10.7" height="10.7" fill="#3e4c8a"/><rect x="251.9" width="10.7" height="10.7" fill="#3c508b"/><rect x="262" width="10.7" height="10.7" fill="#39568c"/><rect x="272.1" width="10.7" height="10.7" fill="#34608d"/><rect x="282.1" width="10.7" height="10.7" fill="#2f6c8e"/><rect x="292.2" width="10.7" height="10.7" fill="#2a778e"/></g>
<g transform="translate(165,717.5)"><rect x="0" width="10.7" height="10.7" fill="#2c738e"/><rect x="10.1" width="10.7" height="10.7" fill="#2f6c8e"/><rect x="20.2" width="10.7" height="10.7" fill="#32648e"/><rect x="30.2" width="10.7" height="10.7" fill="#365d8d"/><rect x="40.3" width="10.7" height="10.7" fill="#3a548c"/><rect x="50.4" width="10.7" height="10.7" fill="#3d4d8a"/><rect x="60.5" width="10.7" height="10.7" fill="#414487"/><rect x="70.5" width="10.7" height="10.7" fill="#433d84"/><rect x="80.6" width="10.7" height="10.7" fill="#453581"/><rect x="90.7" width="10.7" height="10.7" fill="#472e7c"/><rect x="100.8" width="10.7" height="10.7" fill="#482979"/><rect x="110.8" width="10.7" height="10.7" fill="#482475"/><rect x="120.9" width="10.7" height="10.7" fill="#482071"/><rect x="131" width="10.7" height="10.7" fill="#481d6f"/><rect x="141.1" width="30.8" height="10.7" fill="#481c6e"/><rect x="171.3" width="10.7" height="10.7" fill="#481f70"/><rect x="181.4" width="10.7" height="10.7" fill="#482374"/><rect x="191.5" width="10.7" height="10.7" fill="#482677"/><rect x="201.5" width="10.7" height="10.7" fill="#472d7b"/><rect x="211.6" width="10.7" height="10.7" fill="#46337f"/><rect x="221.7" width="10.7" height="10.7" fill="#443983"/><rect x="231.8" width="10.7" height="10.7" fill="#423f85"/><rect x="241.8" width="10.7" height="10.7" fill="#404588"/><rect x="251.9" width="10.7" height="10.7" fill="#3e4a89"/><rect x="262" width="10.7" height="10.7" fill="#3b518b"/><rect x="272.1" width="10.7" height="10.7" fill="#365c8d"/><rect x="282.1" width="10.7" height="10.7" fill="#31678e"/><rect x="292.2" width="10.7" height="10.7" fill="#2c728e"/></g>
<g transform="translate(165,727.6)"><rect x="0" width="10.7" height="10.7" fill="#2d718e"/><rect x="10.1" width="10.7" height="10.7" fill="#30698e"/><rect x="20.2" width="10.7" height="10.7" fill="#34618d"/><rect x="30.2" width="10.7" height="10.7" fill="#38598c"/><rect x="40.3" width="10.7" height="10.7" fill="#3b518b"/><rect x="50.4" width="10.7" height="10.7" fill="#3f4889"/><rect x="60.5" width="10.7" height="10.7" fill="#424086"/><rect x="70.5" width="10.7" height="10.7" fill="#443983"/><rect x="80.6" width="10.7" height="10.7" fill="#46327e"/><rect x="90.7" width="10.7" height="10.7" fill="#472c7a"/><rect x="100.8" width="10.7" height="10.7" fill="#482576"/><rect x="110.8" width="10.7" height="10.7" fill="#482071"/><rect x="120.9" width="10.7" height="10.7" fill="#481c6e"/><rect x="131" width="10.7" height="10.7" fill="#481a6c"/><rect x="141.1" width="30.8" height="10.7" fill="#48186a"/><rect x="171.3" width="10.7" height="10.7" fill="#481b6d"/><rect x="181.4" width="10.7" height="10.7" fill="#481d6f"/><rect x="191.5" width="10.7" height="10.7" fill="#482374"/><rect x="201.5" width="10.7" height="10.7" fill="#482878"/><rect x="211.6" width="10.7" height="10.7" fill="#472d7b"/><rect x="221.7" width="10.7" height="10.7" fill="#46337f"/><rect x="231.8" width="10.7" height="10.7" fill="#443983"/><rect x="241.8" width="10.7" height="10.7" fill="#423f85"/><rect x="251.9" width="10.7" height="10.7" fill="#404688"/><rect x="262" width="10.7" height="10.7" fill="#3d4e8a"/><rect x="272.1" width="10.7" height="10.7" fill="#38588c"/><rect x="282.1" width="10.7" height="10.7" fill="#33638d"/><rect x="292.2" width="10.7" height="10.7" fill="#2e6f8e"/></g>
<g transform="translate(165,737.7)"><rect x="0" width="10.7" height="10.7" fill="#2e6e8e"/><rect x="10.1" width="10.7" height="10.7" fill="#31668e"/><rect x="20.2" width="10.7" height="10.7" fill="#355e8d"/><rect x="30.2" width="10.7" height="10.7" fill="#39558c"/><rect x="40.3" width="10.7" height="10.7" fill="#3d4d8a"/><rect x="50.4" width="10.7" height="10.7" fill="#404588"/><rect x="60.5" width="10.7" height="10.7" fill="#433d84"/><rect x="70.5" width="10.7" height="10.7" fill="#463480"/><rect x="80.6" width="10.7" height="10.7" fill="#472e7c"/><rect x="90.7" width="10.7" height="10.7" fill="#482677"/><rect x="100.8" width="10.7" height="10.7" fill="#482173"/><rect x="110.8" width="10.7" height="10.7" fill="#481d6f"/><rect x="120.9" width="10.7" height="10.7" fill="#481a6c"/><rect x="131" width="10.7" height="10.7" fill="#481769"/><rect x="141.1" width="30.8" height="10.7" fill="#481467"/><rect x="171.3" width="10.7" height="10.7" fill="#481668"/><rect x="181.4" width="10.7" height="10.7" fill="#481a6c"/><rect x="191.5" width="10.7" height="10.7" fill="#481d6f"/><rect x="201.5" width="10.7" height="10.7" fill="#482374"/><rect x="211.6" width="10.7" height="10.7" fill="#482979"/><rect x="221.7" width="10.7" height="10.7" fill="#472e7c"/><rect x="231.8" width="10.7" height="10.7" fill="#463480"/><rect x="241.8" width="10.7" height="10.7" fill="#443b84"/><rect x="251.9" width="10.7" height="10.7" fill="#414287"/><rect x="262" width="10.7" height="10.7" fill="#3e4a89"/><rect x="272.1" width="10.7" height="10.7" fill="#3a548c"/><rect x="282.1" width="10.7" height="10.7" fill="#355f8d"/><rect x="292.2" width="10.7" height="10.7" fill="#306a8e"/></g>
<g transform="translate(165,747.7)"><rect x="0" width="10.7" height="10.7" fill="#2f6b8e"/><rect x="10.1" width="10.7" height="10.7" fill="#33628d"/><rect x="20.2" width="10.7" height="10.7" fill="#375a8c"/><rect x="30.2" width="10.7" height="10.7" fill="#3b518b"/><rect x="40.3" width="10.7" height="10.7" fill="#3f4889"/><rect x="50.4" width="10.7" height="10.7" fill="#424086"/><rect x="60.5" width="10.7" height="10.7" fill="#453882"/><rect x="70.5" width="10.7" height="10.7" fill="#46307e"/><rect x="80.6" width="10.7" height="10.7" fill="#482979"/><rect x="90.7" width="10.7" height="10.7" fill="#482374"/><rect x="100.8" width="10.7" height="10.7" fill="#481d6f"/><rect x="110.8" width="10.7" height="10.7" fill="#481a6c"/><rect x="120.9" width="10.7" height="10.7" fill="#481668"/><rect x="131" width="10.7" height="10.7" fill="#471365"/><rect x="141.1" width="10.7" height="10.7" fill="#471164"/><rect x="151.1" width="20.8" height="10.7" fill="#471063"/><rect x="171.3" width="10.7" height="10.7" fill="#471365"/><rect x="181.4" width="10.7" height="10.7" fill="#481668"/><rect x="191.5" width="10.7" height="10.7" fill="#481a6c"/><rect x="201.5" width="10.7" height="10.7" fill="#481f70"/><rect x="211.6" width="10.7" height="10.7" fill="#482475"/><rect x="221.7" width="10.7" height="10.7" fill="#472a7a"/><rect x="231.8" width="10.7" height="10.7" fill="#46327e"/><rect x="241.8" width="10.7" height="10.7" fill="#453882"/><rect x="251.9" width="10.7" height="10.7" fill="#424086"/><rect x="262" width="10.7" height="10.7" fill="#3f4889"/><rect x="272.1" width="10.7" height="10.7" fill="#3b528b"/><rect x="282.1" width="10.7" height="10.7" fill="#365c8d"/><rect x="292.2" width="10.7" height="10.7" fill="#31678e"/></g>
<g transform="translate(165,757.8)"><rect x="0" width="10.7" height="10.7" fill="#31678e"/><rect x="10.1" width="10.7" height="10.7" fill="#355e8d"/><rect x="20.2" width="10.7" height="10.7" fill="#3a548c"/><rect x="30.2" width="10.7" height="10.7" fill="#3e4c8a"/><rect x="40.3" width="10.7" height="10.7" fill="#414487"/><rect x="50.4" width="10.7" height="10.7" fill="#443b84"/><rect x="60.5" width="10.7" height="10.7" fill="#46337f"/><rect x="70.5" width="10.7" height="10.7" fill="#472c7a"/><rect x="80.6" width="10.7" height="10.7" fill="#482576"/><rect x="90.7" width="10.7" height="10.7" fill="#481f70"/><rect x="100.8" width="10.7" height="10.7" fill="#481b6d"/><rect x="110.8" width="10.7" height="10.7" fill="#481668"/><rect x="120.9" width="10.7" height="10.7" fill="#471365"/><rect x="131" width="10.7" height="10.7" fill="#471063"/><rect x="141.1" width="30.8" height="10.7" fill="#470d60"/><rect x="171.3" width="10.7" height="10.7" fill="#471063"/><rect x="181.4" width="10.7" height="10.7" fill="#471365"/><rect x="191.5" width="10.7" height="10.7" fill="#481769"/><rect x="201.5" width="10.7" height="10.7" fill="#481c6e"/><rect x="211.6" width="10.7" height="10.7" fill="#482173"/><rect x="221.7" width="10.7" height="10.7" fill="#482878"/><rect x="231.8" width="10.7" height="10.7" fill="#472e7c"/><rect x="241.8" width="10.7" height="10.7" fill="#453581"/><rect x="251.9" width="10.7" height="10.7" fill="#433e85"/><rect x="262" width="10.7" height="10.7" fill="#404688"/><rect x="272.1" width="10.7" height="10.7" fill="#3c4f8a"/><rect x="282.1" width="10.7" height="10.7" fill="#38598c"/><rect x="292.2" width="10.7" height="10.7" fill="#33638d"/></g>
<g transform="translate(165,767.9)"><rect x="0" width="10.7" height="10.7" fill="#32648e"/><rect x="10.1" width="10.7" height="10.7" fill="#375a8c"/><rect x="20.2" width="10.7" height="10.7" fill="#3c508b"/><rect x="30.2" width="10.7" height="10.7" fill="#404688"/><rect x="40.3" width="10.7" height="10.7" fill="#433e85"/><rect x="50.4" width="10.7" height="10.7" fill="#453581"/><rect x="60.5" width="10.7" height="10.7" fill="#472e7c"/><rect x="70.5" width="10.7" height="10.7" fill="#482878"/><rect x="80.6" width="10.7" height="10.7" fill="#482173"/><rect x="90.7" width="10.7" height="10.7" fill="#481c6e"/><rect x="100.8" width="10.7" height="10.7" fill="#481769"/><rect x="110.8" width="10.7" height="10.7" fill="#471365"/><rect x="120.9" width="10.7" height="10.7" fill="#471063"/><rect x="131" width="10.7" height="10.7" fill="#470d60"/><rect x="141.1" width="10.7" height="10.7" fill="#460b5e"/><rect x="151.1" width="10.7" height="10.7" fill="#460a5d"/><rect x="161.2" width="10.7" height="10.7" fill="#460b5e"/><rect x="171.3" width="10.7" height="10.7" fill="#470d60"/><rect x="181.4" width="10.7" height="10.7" fill="#471063"/><rect x="191.5" width="10.7" height="10.7" fill="#481668"/><rect x="201.5" width="10.7" height="10.7" fill="#481a6c"/><rect x="211.6" width="10.7" height="10.7" fill="#482071"/><rect x="221.7" width="10.7" height="10.7" fill="#482677"/><rect x="231.8" width="10.7" height="10.7" fill="#472d7b"/><rect x="241.8" width="10.7" height="10.7" fill="#463480"/><rect x="251.9" width="10.7" height="10.7" fill="#443b84"/><rect x="262" width="10.7" height="10.7" fill="#404588"/><rect x="272.1" width="10.7" height="10.7" fill="#3d4e8a"/><rect x="282.1" width="10.7" height="10.7" fill="#39568c"/><rect x="292.2" width="10.7" height="10.7" fill="#34618d"/></g>
<g transform="translate(165,778)"><rect x="0" width="10.7" height="10.7" fill="#34608d"/><rect x="10.1" width="10.7" height="10.7" fill="#3a548c"/><rect x="20.2" width="10.7" height="10.7" fill="#3e4989"/><rect x="30.2" width="10.7" height="10.7" fill="#424086"/><rect x="40.3" width="10.7" height="10.7" fill="#453882"/><rect x="50.4" width="10.7" height="10.7" fill="#46307e"/><rect x="60.5" width="10.7" height="10.7" fill="#472a7a"/><rect x="70.5" width="10.7" height="10.7" fill="#482475"/><rect x="80.6" width="10.7" height="10.7" fill="#481d6f"/><rect x="90.7" width="10.7" height="10.7" fill="#48186a"/><rect x="100.8" width="10.7" height="10.7" fill="#481467"/><rect x="110.8" width="10.7" height="10.7" fill="#471063"/><rect x="120.9" width="10.7" height="10.7" fill="#470d60"/><rect x="131" width="10.7" height="10.7" fill="#460a5d"/><rect x="141.1" width="20.8" height="10.7" fill="#46085c"/><rect x="161.2" width="10.7" height="10.7" fill="#460a5d"/><rect x="171.3" width="10.7" height="10.7" fill="#470d60"/><rect x="181.4" width="10.7" height="10.7" fill="#471063"/><rect x="191.5" width="10.7" height="10.7" fill="#481467"/><rect x="201.5" width="10.7" height="10.7" fill="#481a6c"/><rect x="211.6" width="10.7" height="10.7" fill="#481f70"/><rect x="221.7" width="10.7" height="10.7" fill="#482576"/><rect x="231.8" width="10.7" height="10.7" fill="#472c7a"/><rect x="241.8" width="10.7" height="10.7" fill="#46337f"/><rect x="251.9" width="10.7" height="10.7" fill="#443b84"/><rect x="262" width="10.7" height="10.7" fill="#414487"/><rect x="272.1" width="10.7" height="10.7" fill="#3e4c8a"/><rect x="282.1" width="10.7" height="10.7" fill="#39558c"/><rect x="292.2" width="10.7" height="10.7" fill="#355f8d"/></g>
<g transform="translate(165,788)"><rect x="0" width="10.7" height="10.7" fill="#365d8d"/><rect x="10.1" width="10.7" height="10.7" fill="#3c4f8a"/><rect x="20.2" width="10.7" height="10.7" fill="#404588"/><rect x="30.2" width="10.7" height="10.7" fill="#443b84"/><rect x="40.3" width="10.7" height="10.7" fill="#46337f"/><rect x="50.4" width="10.7" height="10.7" fill="#472d7b"/><rect x="60.5" width="10.7" height="10.7" fill="#482576"/><rect x="70.5" width="10.7" height="10.7" fill="#482071"/><rect x="80.6" width="10.7" height="10.7" fill="#481b6d"/><rect x="90.7" width="10.7" height="10.7" fill="#481668"/><rect x="100.8" width="10.7" height="10.7" fill="#471164"/><rect x="110.8" width="10.7" height="10.7" fill="#470e61"/><rect x="120.9" width="10.7" height="10.7" fill="#460b5e"/><rect x="131" width="30.8" height="10.7" fill="#46085c"/><rect x="161.2" width="10.7" height="10.7" fill="#460a5d"/><rect x="171.3" width="10.7" height="10.7" fill="#460b5e"/><rect x="181.4" width="10.7" height="10.7" fill="#471063"/><rect x="191.5" width="10.7" height="10.7" fill="#481467"/><rect x="201.5" width="10.7" height="10.7" fill="#481a6c"/><rect x="211.6" width="10.7" height="10.7" fill="#481f70"/><rect x="221.7" width="10.7" height="10.7" fill="#482576"/><rect x="231.8" width="10.7" height="10.7" fill="#472c7a"/><rect x="241.8" width="10.7" height="10.7" fill="#46337f"/><rect x="251.9" width="10.7" height="10.7" fill="#443b84"/><rect x="262" width="10.7" height="10.7" fill="#414487"/><rect x="272.1" width="10.7" height="10.7" fill="#3e4c8a"/><rect x="282.1" width="10.7" height="10.7" fill="#3a548c"/><rect x="292.2" width="10.7" height="10.7" fill="#365d8d"/></g>
<g transform="translate(165,798.1)"><rect x="0" width="10.7" height="10.7" fill="#38588c"/><rect x="10.1" width="10.7" height="10.7" fill="#3e4a89"/><rect x="20.2" width="10.7" height="10.7" fill="#424086"/><rect x="30.2" width="10.7" height="10.7" fill="#453781"/><rect x="40.3" width="10.7" height="10.7" fill="#472f7d"/><rect x="50.4" width="10.7" height="10.7" fill="#482979"/><rect x="60.5" width="10.7" height="10.7" fill="#482374"/><rect x="70.5" width="10.7" height="10.7" fill="#481d6f"/><rect x="80.6" width="10.7" height="10.7" fill="#48186a"/><rect x="90.7" width="10.7" height="10.7" fill="#481467"/><rect x="100.8" width="10.7" height="10.7" fill="#471063"/><rect x="110.8" width="10.7" height="10.7" fill="#470d60"/><rect x="120.9" width="10.7" height="10.7" fill="#460a5d"/><rect x="131" width="30.8" height="10.7" fill="#46085c"/><rect x="161.2" width="10.7" height="10.7" fill="#460a5d"/><rect x="171.3" width="10.7" height="10.7" fill="#470d60"/><rect x="181.4" width="10.7" height="10.7" fill="#471063"/><rect x="191.5" width="10.7" height="10.7" fill="#481467"/><rect x="201.5" width="10.7" height="10.7" fill="#481a6c"/><rect x="211.6" width="10.7" height="10.7" fill="#481f70"/><rect x="221.7" width="10.7" height="10.7" fill="#482576"/><rect x="231.8" width="10.7" height="10.7" fill="#472d7b"/><rect x="241.8" width="10.7" height="10.7" fill="#463480"/><rect x="251.9" width="10.7" height="10.7" fill="#443b84"/><rect x="262" width="10.7" height="10.7" fill="#414487"/><rect x="272.1" width="10.7" height="10.7" fill="#3e4c8a"/><rect x="282.1" width="10.7" height="10.7" fill="#3a548c"/><rect x="292.2" width="10.7" height="10.7" fill="#365c8d"/></g>
<g transform="translate(165,808.2)"><rect x="0" width="10.7" height="10.7" fill="#3b528b"/><rect x="10.1" width="10.7" height="10.7" fill="#3f4788"/><rect x="20.2" width="10.7" height="10.7" fill="#433d84"/><rect x="30.2" width="10.7" height="10.7" fill="#463480"/><rect x="40.3" width="10.7" height="10.7" fill="#472d7b"/><rect x="50.4" width="10.7" height="10.7" fill="#482677"/><rect x="60.5" width="10.7" height="10.7" fill="#482071"/><rect x="70.5" width="10.7" height="10.7" fill="#481b6d"/><rect x="80.6" width="10.7" height="10.7" fill="#481769"/><rect x="90.7" width="10.7" height="10.7" fill="#471365"/><rect x="100.8" width="10.7" height="10.7" fill="#471063"/><rect x="110.8" width="10.7" height="10.7" fill="#470d60"/><rect x="120.9" width="10.7" height="10.7" fill="#460b5e"/><rect x="131" width="10.7" height="10.7" fill="#460a5d"/><rect x="141.1" width="10.7" height="10.7" fill="#46085c"/><rect x="151.1" width="10.7" height="10.7" fill="#460a5d"/><rect x="161.2" width="10.7" height="10.7" fill="#460b5e"/><rect x="171.3" width="10.7" height="10.7" fill="#470e61"/><rect x="181.4" width="10.7" height="10.7" fill="#471164"/><rect x="191.5" width="10.7" height="10.7" fill="#481668"/><rect x="201.5" width="10.7" height="10.7" fill="#481b6d"/><rect x="211.6" width="10.7" height="10.7" fill="#482071"/><rect x="221.7" width="10.7" height="10.7" fill="#482677"/><rect x="231.8" width="10.7" height="10.7" fill="#472d7b"/><rect x="241.8" width="10.7" height="10.7" fill="#463480"/><rect x="251.9" width="10.7" height="10.7" fill="#433d84"/><rect x="262" width="10.7" height="10.7" fill="#404588"/><rect x="272.1" width="10.7" height="10.7" fill="#3d4d8a"/><rect x="282.1" width="10.7" height="10.7" fill="#3a548c"/><rect x="292.2" width="10.7" height="10.7" fill="#365c8d"/></g>
<g transform="translate(165,818.3)"><rect x="0" width="10.7" height="10.7" fill="#3c508b"/><rect x="10.1" width="10.7" height="10.7" fill="#404588"/><rect x="20.2" width="10.7" height="10.7" fill="#443a83"/><rect x="30.2" width="10.7" height="10.7" fill="#46327e"/><rect x="40.3" width="10.7" height="10.7" fill="#472a7a"/><rect x="50.4" width="10.7" height="10.7" fill="#482475"/><rect x="60.5" width="10.7" height="10.7" fill="#481f70"/><rect x="70.5" width="10.7" height="10.7" fill="#481b6d"/><rect x="80.6" width="10.7" height="10.7" fill="#481769"/><rect x="90.7" width="10.7" height="10.7" fill="#471365"/><rect x="100.8" width="10.7" height="10.7" fill="#471063"/><rect x="110.8" width="10.7" height="10.7" fill="#470e61"/><rect x="120.9" width="10.7" height="10.7" fill="#470d60"/><rect x="131" width="30.8" height="10.7" fill="#460b5e"/><rect x="161.2" width="10.7" height="10.7" fill="#470d60"/><rect x="171.3" width="10.7" height="10.7" fill="#471063"/><rect x="181.4" width="10.7" height="10.7" fill="#471365"/><rect x="191.5" width="10.7" height="10.7" fill="#481769"/><rect x="201.5" width="10.7" height="10.7" fill="#481c6e"/><rect x="211.6" width="10.7" height="10.7" fill="#482173"/><rect x="221.7" width="10.7" height="10.7" fill="#482878"/><rect x="231.8" width="10.7" height="10.7" fill="#472e7c"/><rect x="241.8" width="10.7" height="10.7" fill="#453581"/><rect x="251.9" width="10.7" height="10.7" fill="#433e85"/><rect x="262" width="10.7" height="10.7" fill="#404588"/><rect x="272.1" width="10.7" height="10.7" fill="#3d4d8a"/><rect x="282.1" width="10.7" height="10.7" fill="#3a548c"/><rect x="292.2" width="10.7" height="10.7" fill="#365c8d"/></g>
<g transform="translate(165,828.4)"><rect x="0" width="10.7" height="10.7" fill="#3c508b"/><rect x="10.1" width="10.7" height="10.7" fill="#404588"/><rect x="20.2" width="10.7" height="10.7" fill="#443a83"/><rect x="30.2" width="10.7" height="10.7" fill="#46327e"/><rect x="40.3" width="10.7" height="10.7" fill="#472a7a"/><rect x="50.4" width="10.7" height="10.7" fill="#482475"/><rect x="60.5" width="10.7" height="10.7" fill="#481f70"/><rect x="70.5" width="10.7" height="10.7" fill="#481b6d"/><rect x="80.6" width="10.7" height="10.7" fill="#481769"/><rect x="90.7" width="10.7" height="10.7" fill="#481467"/><rect x="100.8" width="10.7" height="10.7" fill="#471164"/><rect x="110.8" width="10.7" height="10.7" fill="#471063"/><rect x="120.9" width="20.8" height="10.7" fill="#470e61"/><rect x="141.1" width="10.7" height="10.7" fill="#470d60"/><rect x="151.1" width="10.7" height="10.7" fill="#470e61"/><rect x="161.2" width="10.7" height="10.7" fill="#471063"/><rect x="171.3" width="10.7" height="10.7" fill="#471365"/><rect x="181.4" width="10.7" height="10.7" fill="#481668"/><rect x="191.5" width="10.7" height="10.7" fill="#481a6c"/><rect x="201.5" width="10.7" height="10.7" fill="#481d6f"/><rect x="211.6" width="10.7" height="10.7" fill="#482374"/><rect x="221.7" width="10.7" height="10.7" fill="#482979"/><rect x="231.8" width="10.7" height="10.7" fill="#472f7d"/><rect x="241.8" width="10.7" height="10.7" fill="#453781"/><rect x="251.9" width="10.7" height="10.7" fill="#433e85"/><rect x="262" width="10.7" height="10.7" fill="#404688"/><rect x="272.1" width="10.7" height="10.7" fill="#3d4e8a"/><rect x="282.1" width="10.7" height="10.7" fill="#3a548c"/><rect x="292.2" width="10.7" height="10.7" fill="#375b8d"/></g>
<g transform="translate(165,838.4)"><rect x="0" width="10.7" height="10.7" fill="#3c508b"/><rect x="10.1" width="10.7" height="10.7" fill="#404588"/><rect x="20.2" width="10.7" height="10.7" fill="#443b84"/><rect x="30.2" width="10.7" height="10.7" fill="#46337f"/><rect x="40.3" width="10.7" height="10.7" fill="#472c7a"/><rect x="50.4" width="10.7" height="10.7" fill="#482576"/><rect x="60.5" width="10.7" height="10.7" fill="#482071"/><rect x="70.5" width="10.7" height="10.7" fill="#481b6d"/><rect x="80.6" width="10.7" height="10.7" fill="#48186a"/><rect x="90.7" width="10.7" height="10.7" fill="#481668"/><rect x="100.8" width="10.7" height="10.7" fill="#471365"/><rect x="110.8" width="20.8" height="10.7" fill="#471164"/><rect x="131" width="20.8" height="10.7" fill="#471063"/><rect x="151.1" width="10.7" height="10.7" fill="#471164"/><rect x="161.2" width="10.7" height="10.7" fill="#471365"/><rect x="171.3" width="10.7" height="10.7" fill="#481467"/><rect x="181.4" width="10.7" height="10.7" fill="#48186a"/><rect x="191.5" width="10.7" height="10.7" fill="#481c6e"/><rect x="201.5" width="10.7" height="10.7" fill="#482071"/><rect x="211.6" width="10.7" height="10.7" fill="#482576"/><rect x="221.7" width="10.7" height="10.7" fill="#472a7a"/><rect x="231.8" width="10.7" height="10.7" fill="#46327e"/><rect x="241.8" width="10.7" height="10.7" fill="#453882"/><rect x="251.9" width="10.7" height="10.7" fill="#423f85"/><rect x="262" width="10.7" height="10.7" fill="#404688"/><rect x="272.1" width="10.7" height="10.7" fill="#3d4e8a"/><rect x="282.1" width="10.7" height="10.7" fill="#3a548c"/><rect x="292.2" width="10.7" height="10.7" fill="#375b8d"/></g>
<g transform="translate(165,848.5)"><rect x="0" width="10.7" height="10.7" fill="#3b528b"/><rect x="10.1" width="10.7" height="10.7" fill="#3f4889"/><rect x="20.2" width="10.7" height="10.7" fill="#433e85"/><rect x="30.2" width="10.7" height="10.7" fill="#453581"/><rect x="40.3" width="10.7" height="10.7" fill="#472e7c"/><rect x="50.4" width="10.7" height="10.7" fill="#482878"/><rect x="60.5" width="10.7" height="10.7" fill="#482173"/><rect x="70.5" width="10.7" height="10.7" fill="#481d6f"/><rect x="80.6" width="10.7" height="10.7" fill="#481a6c"/><rect x="90.7" width="10.7" height="10.7" fill="#481769"/><rect x="100.8" width="10.7" height="10.7" fill="#481668"/><rect x="110.8" width="20.8" height="10.7" fill="#481467"/><rect x="131" width="10.7" height="10.7" fill="#471365"/><rect x="141.1" width="20.8" height="10.7" fill="#481467"/><rect x="161.2" width="10.7" height="10.7" fill="#481668"/><rect x="171.3" width="10.7" height="10.7" fill="#48186a"/><rect x="181.4" width="10.7" height="10.7" fill="#481b6d"/><rect x="191.5" width="10.7" height="10.7" fill="#481d6f"/><rect x="201.5" width="10.7" height="10.7" fill="#482374"/><rect x="211.6" width="10.7" height="10.7" fill="#482878"/><rect x="221.7" width="10.7" height="10.7" fill="#472d7b"/><rect x="231.8" width="10.7" height="10.7" fill="#46337f"/><rect x="241.8" width="10.7" height="10.7" fill="#443983"/><rect x="251.9" width="10.7" height="10.7" fill="#424086"/><rect x="262" width="10.7" height="10.7" fill="#3f4788"/><rect x="272.1" width="10.7" height="10.7" fill="#3d4e8a"/><rect x="282.1" width="10.7" height="10.7" fill="#3a548c"/><rect x="292.2" width="10.7" height="10.7" fill="#375b8d"/></g>
<g transform="translate(165,858.6)"><rect x="0" width="10.7" height="10.7" fill="#39568c"/><rect x="10.1" width="10.7" height="10.7" fill="#3e4c8a"/><rect x="20.2" width="10.7" height="10.7" fill="#424186"/><rect x="30.2" width="10.7" height="10.7" fill="#443983"/><rect x="40.3" width="10.7" height="10.7" fill="#46307e"/><rect x="50.4" width="10.7" height="10.7" fill="#472a7a"/><rect x="60.5" width="10.7" height="10.7" fill="#482475"/><rect x="70.5" width="10.7" height="10.7" fill="#482071"/><rect x="80.6" width="10.7" height="10.7" fill="#481c6e"/><rect x="90.7" width="10.7" height="10.7" fill="#481b6d"/><rect x="100.8" width="10.7" height="10.7" fill="#48186a"/><rect x="110.8" width="40.9" height="10.7" fill="#481769"/><rect x="151.1" width="10.7" height="10.7" fill="#48186a"/><rect x="161.2" width="10.7" height="10.7" fill="#481a6c"/><rect x="171.3" width="10.7" height="10.7" fill="#481b6d"/><rect x="181.4" width="10.7" height="10.7" fill="#481d6f"/><rect x="191.5" width="10.7" height="10.7" fill="#482173"/><rect x="201.5" width="10.7" height="10.7" fill="#482576"/><rect x="211.6" width="10.7" height="10.7" fill="#482979"/><rect x="221.7" width="10.7" height="10.7" fill="#472e7c"/><rect x="231.8" width="10.7" height="10.7" fill="#463480"/><rect x="241.8" width="10.7" height="10.7" fill="#443a83"/><rect x="251.9" width="10.7" height="10.7" fill="#424086"/><rect x="262" width="10.7" height="10.7" fill="#3f4788"/><rect x="272.1" width="10.7" height="10.7" fill="#3d4e8a"/><rect x="282.1" width="10.7" height="10.7" fill="#3a548c"/><rect x="292.2" width="10.7" height="10.7" fill="#375b8d"/></g>
<g transform="translate(165,868.7)"><rect x="0" width="10.7" height="10.7" fill="#365d8d"/><rect x="10.1" width="10.7" height="10.7" fill="#3b518b"/><rect x="20.2" width="10.7" height="10.7" fill="#404688"/><rect x="30.2" width="10.7" height="10.7" fill="#433d84"/><rect x="40.3" width="10.7" height="10.7" fill="#463480"/><rect x="50.4" width="10.7" height="10.7" fill="#472d7b"/><rect x="60.5" width="10.7" height="10.7" fill="#482878"/><rect x="70.5" width="10.7" height="10.7" fill="#482475"/><rect x="80.6" width="10.7" height="10.7" fill="#482071"/><rect x="90.7" width="10.7" height="10.7" fill="#481d6f"/><rect x="100.8" width="10.7" height="10.7" fill="#481c6e"/><rect x="110.8" width="51" height="10.7" fill="#481b6d"/><rect x="161.2" width="10.7" height="10.7" fill="#481c6e"/><rect x="171.3" width="10.7" height="10.7" fill="#481f70"/><rect x="181.4" width="10.7" height="10.7" fill="#482071"/><rect x="191.5" width="10.7" height="10.7" fill="#482475"/><rect x="201.5" width="10.7" height="10.7" fill="#482878"/><rect x="211.6" width="10.7" height="10.7" fill="#472c7a"/><rect x="221.7" width="10.7" height="10.7" fill="#46307e"/><rect x="231.8" width="10.7" height="10.7" fill="#453581"/><rect x="241.8" width="10.7" height="10.7" fill="#443b84"/><rect x="251.9" width="10.7" height="10.7" fill="#424186"/><rect x="262" width="10.7" height="10.7" fill="#3f4788"/><rect x="272.1" width="10.7" height="10.7" fill="#3d4e8a"/><rect x="282.1" width="10.7" height="10.7" fill="#3a548c"/><rect x="292.2" width="10.7" height="10.7" fill="#375b8d"/></g>
<g transform="translate(165,878.7)"><rect x="0" width="10.7" height="10.7" fill="#33628d"/><rect x="10.1" width="10.7" height="10.7" fill="#39568c"/><rect x="20.2" width="10.7" height="10.7" fill="#3e4a89"/><rect x="30.2" width="10.7" height="10.7" fill="#424186"/><rect x="40.3" width="10.7" height="10.7" fill="#453882"/><rect x="50.4" width="10.7" height="10.7" fill="#46307e"/><rect x="60.5" width="10.7" height="10.7" fill="#472c7a"/><rect x="70.5" width="10.7" height="10.7" fill="#482878"/><rect x="80.6" width="10.7" height="10.7" fill="#482475"/><rect x="90.7" width="10.7" height="10.7" fill="#482173"/><rect x="100.8" width="10.7" height="10.7" fill="#482071"/><rect x="110.8" width="51" height="10.7" fill="#481f70"/><rect x="161.2" width="10.7" height="10.7" fill="#482071"/><rect x="171.3" width="10.7" height="10.7" fill="#482173"/><rect x="181.4" width="10.7" height="10.7" fill="#482475"/><rect x="191.5" width="10.7" height="10.7" fill="#482677"/><rect x="201.5" width="10.7" height="10.7" fill="#472a7a"/><rect x="211.6" width="10.7" height="10.7" fill="#472e7c"/><rect x="221.7" width="10.7" height="10.7" fill="#46327e"/><rect x="231.8" width="10.7" height="10.7" fill="#453781"/><rect x="241.8" width="10.7" height="10.7" fill="#433d84"/><rect x="251.9" width="10.7" height="10.7" fill="#414287"/><rect x="262" width="10.7" height="10.7" fill="#3f4889"/><rect x="272.1" width="10.7" height="10.7" fill="#3d4e8a"/><rect x="282.1" width="10.7" height="10.7" fill="#3a548c"/><rect x="292.2" width="10.7" height="10.7" fill="#375b8d"/></g>
<g transform="translate(165,888.8)"><rect x="0" width="10.7" height="10.7" fill="#31668e"/><rect x="10.1" width="10.7" height="10.7" fill="#375b8d"/><rect x="20.2" width="10.7" height="10.7" fill="#3c4f8a"/><rect x="30.2" width="10.7" height="10.7" fill="#404588"/><rect x="40.3" width="10.7" height="10.7" fill="#433d84"/><rect x="50.4" width="10.7" height="10.7" fill="#453581"/><rect x="60.5" width="10.7" height="10.7" fill="#472f7d"/><rect x="70.5" width="10.7" height="10.7" fill="#472c7a"/><rect x="80.6" width="10.7" height="10.7" fill="#482878"/><rect x="90.7" width="10.7" height="10.7" fill="#482677"/><rect x="100.8" width="10.7" height="10.7" fill="#482576"/><rect x="110.8" width="10.7" height="10.7" fill="#482475"/><rect x="120.9" width="40.9" height="10.7" fill="#482374"/><rect x="161.2" width="10.7" height="10.7" fill="#482475"/><rect x="171.3" width="10.7" height="10.7" fill="#482576"/><rect x="181.4" width="10.7" height="10.7" fill="#482677"/><rect x="191.5" width="10.7" height="10.7" fill="#482979"/><rect x="201.5" width="10.7" height="10.7" fill="#472d7b"/><rect x="211.6" width="10.7" height="10.7" fill="#46307e"/><rect x="221.7" width="10.7" height="10.7" fill="#463480"/><rect x="231.8" width="10.7" height="10.7" fill="#443983"/><rect x="241.8" width="10.7" height="10.7" fill="#433e85"/><rect x="251.9" width="10.7" height="10.7" fill="#414287"/><rect x="262" width="10.7" height="10.7" fill="#3f4889"/><rect x="272.1" width="10.7" height="10.7" fill="#3d4e8a"/><rect x="282.1" width="10.7" height="10.7" fill="#3a548c"/><rect x="292.2" width="10.7" height="10.7" fill="#375b8d"/></g>
<g transform="translate(165,898.9)"><rect x="0" width="10.7" height="10.7" fill="#306a8e"/><rect x="10.1" width="10.7" height="10.7" fill="#355f8d"/><rect x="20.2" width="10.7" height="10.7" fill="#3a538b"/><rect x="30.2" width="10.7" height="10.7" fill="#3f4889"/><rect x="40.3" width="10.7" height="10.7" fill="#424086"/><rect x="50.4" width="10.7" height="10.7" fill="#443983"/><rect x="60.5" width="10.7" height="10.7" fill="#463480"/><rect x="70.5" width="10.7" height="10.7" fill="#472f7d"/><rect x="80.6" width="10.7" height="10.7" fill="#472d7b"/><rect x="90.7" width="10.7" height="10.7" fill="#472c7a"/><rect x="100.8" width="10.7" height="10.7" fill="#472a7a"/><rect x="110.8" width="10.7" height="10.7" fill="#482979"/><rect x="120.9" width="51" height="10.7" fill="#482878"/><rect x="171.3" width="10.7" height="10.7" fill="#482979"/><rect x="181.4" width="10.7" height="10.7" fill="#472a7a"/><rect x="191.5" width="10.7" height="10.7" fill="#472d7b"/><rect x="201.5" width="10.7" height="10.7" fill="#472f7d"/><rect x="211.6" width="10.7" height="10.7" fill="#46337f"/><rect x="221.7" width="10.7" height="10.7" fill="#453781"/><rect x="231.8" width="10.7" height="10.7" fill="#443a83"/><rect x="241.8" width="10.7" height="10.7" fill="#423f85"/><rect x="251.9" width="10.7" height="10.7" fill="#414487"/><rect x="262" width="10.7" height="10.7" fill="#3e4989"/><rect x="272.1" width="10.7" height="10.7" fill="#3c4f8a"/><rect x="282.1" width="10.7" height="10.7" fill="#3a548c"/><rect x="292.2" width="10.7" height="10.7" fill="#375b8d"/></g>
<g transform="translate(165,909)"><rect x="0" width="10.7" height="10.7" fill="#2e6e8e"/><rect x="10.1" width="10.7" height="10.7" fill="#33628d"/><rect x="20.2" width="10.7" height="10.7" fill="#39568c"/><rect x="30.2" width="10.7" height="10.7" fill="#3d4d8a"/><rect x="40.3" width="10.7" height="10.7" fill="#414487"/><rect x="50.4" width="10.7" height="10.7" fill="#433d84"/><rect x="60.5" width="10.7" height="10.7" fill="#453882"/><rect x="70.5" width="10.7" height="10.7" fill="#453581"/><rect x="80.6" width="10.7" height="10.7" fill="#46337f"/><rect x="90.7" width="10.7" height="10.7" fill="#46307e"/><rect x="100.8" width="10.7" height="10.7" fill="#472f7d"/><rect x="110.8" width="20.8" height="10.7" fill="#472e7c"/><rect x="131" width="10.7" height="10.7" fill="#472d7b"/><rect x="141.1" width="30.8" height="10.7" fill="#472c7a"/><rect x="171.3" width="10.7" height="10.7" fill="#472d7b"/><rect x="181.4" width="10.7" height="10.7" fill="#472e7c"/><rect x="191.5" width="10.7" height="10.7" fill="#472f7d"/><rect x="201.5" width="10.7" height="10.7" fill="#46327e"/><rect x="211.6" width="10.7" height="10.7" fill="#453581"/><rect x="221.7" width="10.7" height="10.7" fill="#443983"/><rect x="231.8" width="10.7" height="10.7" fill="#433d84"/><rect x="241.8" width="10.7" height="10.7" fill="#424186"/><rect x="251.9" width="10.7" height="10.7" fill="#404588"/><rect x="262" width="10.7" height="10.7" fill="#3e4a89"/><rect x="272.1" width="10.7" height="10.7" fill="#3c4f8a"/><rect x="282.1" width="10.7" height="10.7" fill="#39558c"/><rect x="292.2" width="10.7" height="10.7" fill="#365c8d"/></g>
<g transform="translate(165,919)"><rect x="0" width="10.7" height="10.7" fill="#2c718e"/><rect x="10.1" width="10.7" height="10.7" fill="#31668e"/><rect x="20.2" width="10.7" height="10.7" fill="#375b8d"/><rect x="30.2" width="10.7" height="10.7" fill="#3c508b"/><rect x="40.3" width="10.7" height="10.7" fill="#3f4889"/><rect x="50.4" width="10.7" height="10.7" fill="#424186"/><rect x="60.5" width="10.7" height="10.7" fill="#433e85"/><rect x="70.5" width="10.7" height="10.7" fill="#443a83"/><rect x="80.6" width="10.7" height="10.7" fill="#453882"/><rect x="90.7" width="10.7" height="10.7" fill="#453781"/><rect x="100.8" width="10.7" height="10.7" fill="#453581"/><rect x="110.8" width="10.7" height="10.7" fill="#463480"/><rect x="120.9" width="10.7" height="10.7" fill="#46337f"/><rect x="131" width="10.7" height="10.7" fill="#46327e"/><rect x="141.1" width="10.7" height="10.7" fill="#46307e"/><rect x="151.1" width="30.8" height="10.7" fill="#472f7d"/><rect x="181.4" width="10.7" height="10.7" fill="#46307e"/><rect x="191.5" width="10.7" height="10.7" fill="#46337f"/><rect x="201.5" width="10.7" height="10.7" fill="#453581"/><rect x="211.6" width="10.7" height="10.7" fill="#453882"/><rect x="221.7" width="10.7" height="10.7" fill="#443b84"/><rect x="231.8" width="10.7" height="10.7" fill="#423f85"/><rect x="241.8" width="10.7" height="10.7" fill="#414287"/><rect x="251.9" width="10.7" height="10.7" fill="#3f4788"/><rect x="262" width="10.7" height="10.7" fill="#3e4c8a"/><rect x="272.1" width="10.7" height="10.7" fill="#3c508b"/><rect x="282.1" width="10.7" height="10.7" fill="#39558c"/><rect x="292.2" width="10.7" height="10.7" fill="#365c8d"/></g>
<g transform="translate(165,929.1)"><rect x="0" width="10.7" height="10.7" fill="#2a768e"/><rect x="10.1" width="10.7" height="10.7" fill="#2f6b8e"/><rect x="20.2" width="10.7" height="10.7" fill="#355f8d"/><rect x="30.2" width="10.7" height="10.7" fill="#39558c"/><rect x="40.3" width="10.7" height="10.7" fill="#3d4d8a"/><rect x="50.4" width="10.7" height="10.7" fill="#3f4788"/><rect x="60.5" width="10.7" height="10.7" fill="#414287"/><rect x="70.5" width="10.7" height="10.7" fill="#424086"/><rect x="80.6" width="10.7" height="10.7" fill="#433e85"/><rect x="90.7" width="10.7" height="10.7" fill="#433d84"/><rect x="100.8" width="10.7" height="10.7" fill="#443b84"/><rect x="110.8" width="10.7" height="10.7" fill="#443a83"/><rect x="120.9" width="10.7" height="10.7" fill="#443983"/><rect x="131" width="10.7" height="10.7" fill="#453781"/><rect x="141.1" width="10.7" height="10.7" fill="#453581"/><rect x="151.1" width="10.7" height="10.7" fill="#463480"/><rect x="161.2" width="20.8" height="10.7" fill="#46337f"/><rect x="181.4" width="10.7" height="10.7" fill="#463480"/><rect x="191.5" width="10.7" height="10.7" fill="#453581"/><rect x="201.5" width="10.7" height="10.7" fill="#453882"/><rect x="211.6" width="10.7" height="10.7" fill="#443a83"/><rect x="221.7" width="10.7" height="10.7" fill="#433e85"/><rect x="231.8" width="10.7" height="10.7" fill="#424186"/><rect x="241.8" width="10.7" height="10.7" fill="#404588"/><rect x="251.9" width="10.7" height="10.7" fill="#3f4889"/><rect x="262" width="10.7" height="10.7" fill="#3d4d8a"/><rect x="272.1" width="10.7" height="10.7" fill="#3b518b"/><rect x="282.1" width="10.7" height="10.7" fill="#39568c"/><rect x="292.2" width="10.7" height="10.7" fill="#365c8d"/></g>
<g transform="translate(165,939.2)"><rect x="0" width="10.7" height="10.7" fill="#297a8e"/><rect x="10.1" width="10.7" height="10.7" fill="#2d708e"/><rect x="20.2" width="10.7" height="10.7" fill="#32658e"/><rect x="30.2" width="10.7" height="10.7" fill="#375b8d"/><rect x="40.3" width="10.7" height="10.7" fill="#3a538b"/><rect x="50.4" width="10.7" height="10.7" fill="#3d4d8a"/><rect x="60.5" width="10.7" height="10.7" fill="#3e4989"/><rect x="70.5" width="10.7" height="10.7" fill="#404688"/><rect x="80.6" width="10.7" height="10.7" fill="#404588"/><rect x="90.7" width="10.7" height="10.7" fill="#414487"/><rect x="100.8" width="10.7" height="10.7" fill="#414287"/><rect x="110.8" width="10.7" height="10.7" fill="#424186"/><rect x="120.9" width="10.7" height="10.7" fill="#423f85"/><rect x="131" width="10.7" height="10.7" fill="#443b84"/><rect x="141.1" width="10.7" height="10.7" fill="#443983"/><rect x="151.1" width="10.7" height="10.7" fill="#453882"/><rect x="161.2" width="10.7" height="10.7" fill="#453781"/><rect x="171.3" width="10.7" height="10.7" fill="#453581"/><rect x="181.4" width="10.7" height="10.7" fill="#453781"/><rect x="191.5" width="10.7" height="10.7" fill="#453882"/><rect x="201.5" width="10.7" height="10.7" fill="#443a83"/><rect x="211.6" width="10.7" height="10.7" fill="#433e85"/><rect x="221.7" width="10.7" height="10.7" fill="#424086"/><rect x="231.8" width="10.7" height="10.7" fill="#414487"/><rect x="241.8" width="10.7" height="10.7" fill="#3f4788"/><rect x="251.9" width="10.7" height="10.7" fill="#3e4a89"/><rect x="262" width="10.7" height="10.7" fill="#3d4e8a"/><rect x="272.1" width="10.7" height="10.7" fill="#3b528b"/><rect x="282.1" width="10.7" height="10.7" fill="#38588c"/><rect x="292.2" width="10.7" height="10.7" fill="#365d8d"/></g>
<g transform="translate(165,949.3)"><rect x="0" width="10.7" height="10.7" fill="#277e8e"/><rect x="10.1" width="10.7" height="10.7" fill="#2c738e"/><rect x="20.2" width="10.7" height="10.7" fill="#306a8e"/><rect x="30.2" width="10.7" height="10.7" fill="#34618d"/><rect x="40.3" width="10.7" height="10.7" fill="#375a8c"/><rect x="50.4" width="10.7" height="10.7" fill="#3a538b"/><rect x="60.5" width="10.7" height="10.7" fill="#3c508b"/><rect x="70.5" width="10.7" height="10.7" fill="#3e4c8a"/><rect x="80.6" width="20.8" height="10.7" fill="#3e4a89"/><rect x="100.8" width="10.7" height="10.7" fill="#3e4989"/><rect x="110.8" width="10.7" height="10.7" fill="#3f4788"/><rect x="120.9" width="10.7" height="10.7" fill="#414487"/><rect x="131" width="10.7" height="10.7" fill="#424086"/><rect x="141.1" width="10.7" height="10.7" fill="#433d84"/><rect x="151.1" width="10.7" height="10.7" fill="#443a83"/><rect x="161.2" width="10.7" height="10.7" fill="#443983"/><rect x="171.3" width="10.7" height="10.7" fill="#453882"/><rect x="181.4" width="10.7" height="10.7" fill="#443983"/><rect x="191.5" width="10.7" height="10.7" fill="#443a83"/><rect x="201.5" width="10.7" height="10.7" fill="#433d84"/><rect x="211.6" width="10.7" height="10.7" fill="#424086"/><rect x="221.7" width="10.7" height="10.7" fill="#414487"/><rect x="231.8" width="10.7" height="10.7" fill="#3f4788"/><rect x="241.8" width="10.7" height="10.7" fill="#3e4a89"/><rect x="251.9" width="10.7" height="10.7" fill="#3d4d8a"/><rect x="262" width="10.7" height="10.7" fill="#3c508b"/><rect x="272.1" width="10.7" height="10.7" fill="#3a548c"/><rect x="282.1" width="10.7" height="10.7" fill="#38598c"/><rect x="292.2" width="10.7" height="10.7" fill="#355e8d"/></g>
<g transform="translate(165,959.3)"><rect x="0" width="10.7" height="10.7" fill="#26828e"/><rect x="10.1" width="10.7" height="10.7" fill="#2a788e"/><rect x="20.2" width="10.7" height="10.7" fill="#2e6f8e"/><rect x="30.2" width="10.7" height="10.7" fill="#31678e"/><rect x="40.3" width="10.7" height="10.7" fill="#34608d"/><rect x="50.4" width="10.7" height="10.7" fill="#375b8d"/><rect x="60.5" width="10.7" height="10.7" fill="#39558c"/><rect x="70.5" width="10.7" height="10.7" fill="#3b518b"/><rect x="80.6" width="30.8" height="10.7" fill="#3c508b"/><rect x="110.8" width="10.7" height="10.7" fill="#3d4d8a"/><rect x="120.9" width="10.7" height="10.7" fill="#3f4889"/><rect x="131" width="10.7" height="10.7" fill="#414487"/><rect x="141.1" width="10.7" height="10.7" fill="#424086"/><rect x="151.1" width="10.7" height="10.7" fill="#433d84"/><rect x="161.2" width="10.7" height="10.7" fill="#443b84"/><rect x="171.3" width="20.8" height="10.7" fill="#443a83"/><rect x="191.5" width="10.7" height="10.7" fill="#433d84"/><rect x="201.5" width="10.7" height="10.7" fill="#423f85"/><rect x="211.6" width="10.7" height="10.7" fill="#414287"/><rect x="221.7" width="10.7" height="10.7" fill="#404688"/><rect x="231.8" width="10.7" height="10.7" fill="#3e4a89"/><rect x="241.8" width="10.7" height="10.7" fill="#3d4d8a"/><rect x="251.9" width="10.7" height="10.7" fill="#3c508b"/><rect x="262" width="10.7" height="10.7" fill="#3b528b"/><rect x="272.1" width="10.7" height="10.7" fill="#39558c"/><rect x="282.1" width="10.7" height="10.7" fill="#375a8c"/><rect x="292.2" width="10.7" height="10.7" fill="#355f8d"/></g>
<g transform="translate(165,969.4)"><rect x="0" width="10.7" height="10.7" fill="#25858e"/><rect x="10.1" width="10.7" height="10.7" fill="#287c8e"/><rect x="20.2" width="10.7" height="10.7" fill="#2c738e"/><rect x="30.2" width="10.7" height="10.7" fill="#2e6d8e"/><rect x="40.3" width="10.7" height="10.7" fill="#31668e"/><rect x="50.4" width="10.7" height="10.7" fill="#34618d"/><rect x="60.5" width="10.7" height="10.7" fill="#365d8d"/><rect x="70.5" width="10.7" height="10.7" fill="#38598c"/><rect x="80.6" width="20.8" height="10.7" fill="#39558c"/><rect x="100.8" width="10.7" height="10.7" fill="#3a548c"/><rect x="110.8" width="10.7" height="10.7" fill="#3c508b"/><rect x="120.9" width="10.7" height="10.7" fill="#3e4c8a"/><rect x="131" width="10.7" height="10.7" fill="#3f4788"/><rect x="141.1" width="10.7" height="10.7" fill="#414287"/><rect x="151.1" width="10.7" height="10.7" fill="#423f85"/><rect x="161.2" width="10.7" height="10.7" fill="#433d84"/><rect x="171.3" width="10.7" height="10.7" fill="#443b84"/><rect x="181.4" width="10.7" height="10.7" fill="#433d84"/><rect x="191.5" width="10.7" height="10.7" fill="#433e85"/><rect x="201.5" width="10.7" height="10.7" fill="#424186"/><rect x="211.6" width="10.7" height="10.7" fill="#404588"/><rect x="221.7" width="10.7" height="10.7" fill="#3e4989"/><rect x="231.8" width="10.7" height="10.7" fill="#3d4d8a"/><rect x="241.8" width="10.7" height="10.7" fill="#3c508b"/><rect x="251.9" width="10.7" height="10.7" fill="#3a538b"/><rect x="262" width="10.7" height="10.7" fill="#39558c"/><rect x="272.1" width="10.7" height="10.7" fill="#38588c"/><rect x="282.1" width="10.7" height="10.7" fill="#365c8d"/><rect x="292.2" width="10.7" height="10.7" fill="#34608d"/></g>
<g transform="translate(165,979.5)"><rect x="0" width="10.7" height="10.7" fill="#23898e"/><rect x="10.1" width="10.7" height="10.7" fill="#27808e"/><rect x="20.2" width="10.7" height="10.7" fill="#2a788e"/><rect x="30.2" width="10.7" height="10.7" fill="#2c718e"/><rect x="40.3" width="10.7" height="10.7" fill="#2f6c8e"/><rect x="50.4" width="10.7" height="10.7" fill="#31678e"/><rect x="60.5" width="10.7" height="10.7" fill="#33638d"/><rect x="70.5" width="10.7" height="10.7" fill="#34608d"/><rect x="80.6" width="10.7" height="10.7" fill="#355e8d"/><rect x="90.7" width="10.7" height="10.7" fill="#375b8d"/><rect x="100.8" width="10.7" height="10.7" fill="#38588c"/><rect x="110.8" width="10.7" height="10.7" fill="#3b528b"/><rect x="120.9" width="10.7" height="10.7" fill="#3d4d8a"/><rect x="131" width="10.7" height="10.7" fill="#3f4889"/><rect x="141.1" width="10.7" height="10.7" fill="#414487"/><rect x="151.1" width="10.7" height="10.7" fill="#424086"/><rect x="161.2" width="10.7" height="10.7" fill="#433e85"/><rect x="171.3" width="10.7" height="10.7" fill="#433d84"/><rect x="181.4" width="10.7" height="10.7" fill="#433e85"/><rect x="191.5" width="10.7" height="10.7" fill="#423f85"/><rect x="201.5" width="10.7" height="10.7" fill="#414287"/><rect x="211.6" width="10.7" height="10.7" fill="#3f4788"/><rect x="221.7" width="10.7" height="10.7" fill="#3e4c8a"/><rect x="231.8" width="10.7" height="10.7" fill="#3c508b"/><rect x="241.8" width="10.7" height="10.7" fill="#3a538b"/><rect x="251.9" width="10.7" height="10.7" fill="#39558c"/><rect x="262" width="10.7" height="10.7" fill="#38588c"/><rect x="272.1" width="10.7" height="10.7" fill="#375b8d"/><rect x="282.1" width="10.7" height="10.7" fill="#355e8d"/><rect x="292.2" width="10.7" height="10.7" fill="#33628d"/></g>
<g transform="translate(165,989.6)"><rect x="0" width="10.7" height="10.7" fill="#228d8d"/><rect x="10.1" width="10.7" height="10.7" fill="#25838e"/><rect x="20.2" width="10.7" height="10.7" fill="#287c8e"/><rect x="30.2" width="10.7" height="10.7" fill="#2a768e"/><rect x="40.3" width="10.7" height="10.7" fill="#2d718e"/><rect x="50.4" width="10.7" height="10.7" fill="#2e6d8e"/><rect x="60.5" width="10.7" height="10.7" fill="#30698e"/><rect x="70.5" width="10.7" height="10.7" fill="#31678e"/><rect x="80.6" width="10.7" height="10.7" fill="#32648e"/><rect x="90.7" width="10.7" height="10.7" fill="#355f8d"/><rect x="100.8" width="10.7" height="10.7" fill="#375a8c"/><rect x="110.8" width="10.7" height="10.7" fill="#3a538b"/><rect x="120.9" width="10.7" height="10.7" fill="#3d4e8a"/><rect x="131" width="10.7" height="10.7" fill="#3e4989"/><rect x="141.1" width="10.7" height="10.7" fill="#404688"/><rect x="151.1" width="10.7" height="10.7" fill="#414287"/><rect x="161.2" width="10.7" height="10.7" fill="#424086"/><rect x="171.3" width="10.7" height="10.7" fill="#433e85"/><rect x="181.4" width="10.7" height="10.7" fill="#423f85"/><rect x="191.5" width="10.7" height="10.7" fill="#424186"/><rect x="201.5" width="10.7" height="10.7" fill="#414487"/><rect x="211.6" width="10.7" height="10.7" fill="#3f4889"/><rect x="221.7" width="10.7" height="10.7" fill="#3d4d8a"/><rect x="231.8" width="10.7" height="10.7" fill="#3b518b"/><rect x="241.8" width="10.7" height="10.7" fill="#3a548c"/><rect x="251.9" width="10.7" height="10.7" fill="#39568c"/><rect x="262" width="10.7" height="10.7" fill="#375a8c"/><rect x="272.1" width="10.7" height="10.7" fill="#365d8d"/><rect x="282.1" width="10.7" height="10.7" fill="#34608d"/><rect x="292.2" width="10.7" height="10.7" fill="#32648e"/></g>
<g transform="translate(165,999.7)"><rect x="0" width="10.7" height="10.7" fill="#21918c"/><rect x="10.1" width="10.7" height="10.7" fill="#24878e"/><rect x="20.2" width="10.7" height="10.7" fill="#27808e"/><rect x="30.2" width="10.7" height="10.7" fill="#297a8e"/><rect x="40.3" width="10.7" height="10.7" fill="#2b748e"/><rect x="50.4" width="10.7" height="10.7" fill="#2d718e"/><rect x="60.5" width="10.7" height="10.7" fill="#2e6e8e"/><rect x="70.5" width="10.7" height="10.7" fill="#2f6b8e"/><rect x="80.6" width="10.7" height="10.7" fill="#31678e"/><rect x="90.7" width="10.7" height="10.7" fill="#33628d"/><rect x="100.8" width="10.7" height="10.7" fill="#375b8d"/><rect x="110.8" width="10.7" height="10.7" fill="#3a548c"/><rect x="120.9" width="10.7" height="10.7" fill="#3c4f8a"/><rect x="131" width="10.7" height="10.7" fill="#3e4a89"/><rect x="141.1" width="10.7" height="10.7" fill="#3f4788"/><rect x="151.1" width="10.7" height="10.7" fill="#414487"/><rect x="161.2" width="10.7" height="10.7" fill="#414287"/><rect x="171.3" width="20.8" height="10.7" fill="#424186"/><rect x="191.5" width="10.7" height="10.7" fill="#414287"/><rect x="201.5" width="10.7" height="10.7" fill="#404688"/><rect x="211.6" width="10.7" height="10.7" fill="#3e4989"/><rect x="221.7" width="10.7" height="10.7" fill="#3d4e8a"/><rect x="231.8" width="10.7" height="10.7" fill="#3b518b"/><rect x="241.8" width="10.7" height="10.7" fill="#3a548c"/><rect x="251.9" width="10.7" height="10.7" fill="#38588c"/><rect x="262" width="10.7" height="10.7" fill="#375b8d"/><rect x="272.1" width="10.7" height="10.7" fill="#355e8d"/><rect x="282.1" width="10.7" height="10.7" fill="#33628d"/><rect x="292.2" width="10.7" height="10.7" fill="#31668e"/></g>
<g transform="translate(165,1009.7)"><rect x="0" width="10.7" height="10.7" fill="#1f948c"/><rect x="10.1" width="10.7" height="10.7" fill="#228b8d"/><rect x="20.2" width="10.7" height="10.7" fill="#25838e"/><rect x="30.2" width="10.7" height="10.7" fill="#287d8e"/><rect x="40.3" width="10.7" height="10.7" fill="#2a788e"/><rect x="50.4" width="10.7" height="10.7" fill="#2b748e"/><rect x="60.5" width="10.7" height="10.7" fill="#2d718e"/><rect x="70.5" width="10.7" height="10.7" fill="#2e6d8e"/><rect x="80.6" width="10.7" height="10.7" fill="#31688e"/><rect x="90.7" width="10.7" height="10.7" fill="#33628d"/><rect x="100.8" width="10.7" height="10.7" fill="#375b8d"/><rect x="110.8" width="10.7" height="10.7" fill="#3a538b"/><rect x="120.9" width="10.7" height="10.7" fill="#3d4e8a"/><rect x="131" width="10.7" height="10.7" fill="#3e4a89"/><rect x="141.1" width="10.7" height="10.7" fill="#3f4889"/><rect x="151.1" width="10.7" height="10.7" fill="#404688"/><rect x="161.2" width="30.8" height="10.7" fill="#404588"/><rect x="191.5" width="10.7" height="10.7" fill="#404688"/><rect x="201.5" width="10.7" height="10.7" fill="#3f4889"/><rect x="211.6" width="10.7" height="10.7" fill="#3e4a89"/><rect x="221.7" width="10.7" height="10.7" fill="#3d4e8a"/><rect x="231.8" width="10.7" height="10.7" fill="#3b518b"/><rect x="241.8" width="10.7" height="10.7" fill="#3a548c"/><rect x="251.9" width="10.7" height="10.7" fill="#38598c"/><rect x="262" width="10.7" height="10.7" fill="#365c8d"/><rect x="272.1" width="10.7" height="10.7" fill="#34608d"/><rect x="282.1" width="10.7" height="10.7" fill="#32658e"/><rect x="292.2" width="10.7" height="10.7" fill="#306a8e"/></g>
<g transform="translate(165,1019.8)"><rect x="0" width="10.7" height="10.7" fill="#1f988b"/><rect x="10.1" width="10.7" height="10.7" fill="#218f8d"/><rect x="20.2" width="10.7" height="10.7" fill="#24868e"/><rect x="30.2" width="10.7" height="10.7" fill="#26818e"/><rect x="40.3" width="10.7" height="10.7" fill="#297b8e"/><rect x="50.4" width="10.7" height="10.7" fill="#2a778e"/><rect x="60.5" width="10.7" height="10.7" fill="#2c728e"/><rect x="70.5" width="10.7" height="10.7" fill="#2e6e8e"/><rect x="80.6" width="10.7" height="10.7" fill="#30698e"/><rect x="90.7" width="10.7" height="10.7" fill="#33628d"/><rect x="100.8" width="10.7" height="10.7" fill="#375a8c"/><rect x="110.8" width="10.7" height="10.7" fill="#3a538b"/><rect x="120.9" width="10.7" height="10.7" fill="#3d4e8a"/><rect x="131" width="10.7" height="10.7" fill="#3e4c8a"/><rect x="141.1" width="10.7" height="10.7" fill="#3e4989"/><rect x="151.1" width="40.9" height="10.7" fill="#3f4889"/><rect x="191.5" width="10.7" height="10.7" fill="#3e4989"/><rect x="201.5" width="10.7" height="10.7" fill="#3e4a89"/><rect x="211.6" width="10.7" height="10.7" fill="#3e4c8a"/><rect x="221.7" width="10.7" height="10.7" fill="#3d4e8a"/><rect x="231.8" width="10.7" height="10.7" fill="#3b518b"/><rect x="241.8" width="10.7" height="10.7" fill="#3a548c"/><rect x="251.9" width="10.7" height="10.7" fill="#38598c"/><rect x="262" width="10.7" height="10.7" fill="#365d8d"/><rect x="272.1" width="10.7" height="10.7" fill="#33628d"/><rect x="282.1" width="10.7" height="10.7" fill="#31678e"/><rect x="292.2" width="10.7" height="10.7" fill="#2e6d8e"/></g>
<g transform="translate(165,1029.9)"><rect x="0" width="10.7" height="10.7" fill="#1e9c89"/><rect x="10.1" width="10.7" height="10.7" fill="#20928c"/><rect x="20.2" width="10.7" height="10.7" fill="#23898e"/><rect x="30.2" width="10.7" height="10.7" fill="#25838e"/><rect x="40.3" width="10.7" height="10.7" fill="#277f8e"/><rect x="50.4" width="10.7" height="10.7" fill="#297a8e"/><rect x="60.5" width="10.7" height="10.7" fill="#2b758e"/><rect x="70.5" width="10.7" height="10.7" fill="#2d708e"/><rect x="80.6" width="10.7" height="10.7" fill="#306a8e"/><rect x="90.7" width="10.7" height="10.7" fill="#33628d"/><rect x="100.8" width="10.7" height="10.7" fill="#375b8d"/><rect x="110.8" width="10.7" height="10.7" fill="#3a538b"/><rect x="120.9" width="10.7" height="10.7" fill="#3c4f8a"/><rect x="131" width="10.7" height="10.7" fill="#3d4d8a"/><rect x="141.1" width="20.8" height="10.7" fill="#3e4c8a"/><rect x="161.2" width="61.1" height="10.7" fill="#3d4d8a"/><rect x="221.7" width="10.7" height="10.7" fill="#3d4e8a"/><rect x="231.8" width="10.7" height="10.7" fill="#3c508b"/><rect x="241.8" width="10.7" height="10.7" fill="#3a538b"/><rect x="251.9" width="10.7" height="10.7" fill="#38588c"/><rect x="262" width="10.7" height="10.7" fill="#355e8d"/><rect x="272.1" width="10.7" height="10.7" fill="#33638d"/><rect x="282.1" width="10.7" height="10.7" fill="#306a8e"/><rect x="292.2" width="10.7" height="10.7" fill="#2d708e"/></g>
<g transform="translate(165,1040)"><rect x="0" width="10.7" height="10.7" fill="#1fa088"/><rect x="10.1" width="10.7" height="10.7" fill="#1f948c"/><rect x="20.2" width="10.7" height="10.7" fill="#228d8d"/><rect x="30.2" width="10.7" height="10.7" fill="#24878e"/><rect x="40.3" width="10.7" height="10.7" fill="#26828e"/><rect x="50.4" width="10.7" height="10.7" fill="#277e8e"/><rect x="60.5" width="10.7" height="10.7" fill="#2a788e"/><rect x="70.5" width="10.7" height="10.7" fill="#2c728e"/><rect x="80.6" width="10.7" height="10.7" fill="#2f6c8e"/><rect x="90.7" width="10.7" height="10.7" fill="#32648e"/><rect x="100.8" width="10.7" height="10.7" fill="#365c8d"/><rect x="110.8" width="10.7" height="10.7" fill="#39558c"/><rect x="120.9" width="10.7" height="10.7" fill="#3b518b"/><rect x="131" width="10.7" height="10.7" fill="#3c4f8a"/><rect x="141.1" width="20.8" height="10.7" fill="#3d4e8a"/><rect x="161.2" width="10.7" height="10.7" fill="#3c508b"/><rect x="171.3" width="10.7" height="10.7" fill="#3b518b"/><rect x="181.4" width="20.8" height="10.7" fill="#3c508b"/><rect x="201.5" width="10.7" height="10.7" fill="#3c4f8a"/><rect x="211.6" width="10.7" height="10.7" fill="#3d4e8a"/><rect x="221.7" width="10.7" height="10.7" fill="#3c4f8a"/><rect x="231.8" width="10.7" height="10.7" fill="#3c508b"/><rect x="241.8" width="10.7" height="10.7" fill="#3a538b"/><rect x="251.9" width="10.7" height="10.7" fill="#38588c"/><rect x="262" width="10.7" height="10.7" fill="#355e8d"/><rect x="272.1" width="10.7" height="10.7" fill="#32658e"/><rect x="282.1" width="10.7" height="10.7" fill="#2f6c8e"/><rect x="292.2" width="10.7" height="10.7" fill="#2c728e"/></g>
<g transform="translate(165,1050)"><rect x="0" width="10.7" height="10.7" fill="#20a386"/><rect x="10.1" width="10.7" height="10.7" fill="#1f988b"/><rect x="20.2" width="10.7" height="10.7" fill="#21918c"/><rect x="30.2" width="10.7" height="10.7" fill="#228c8d"/><rect x="40.3" width="10.7" height="10.7" fill="#24878e"/><rect x="50.4" width="10.7" height="10.7" fill="#26828e"/><rect x="60.5" width="10.7" height="10.7" fill="#287d8e"/><rect x="70.5" width="10.7" height="10.7" fill="#2a768e"/><rect x="80.6" width="10.7" height="10.7" fill="#2e6f8e"/><rect x="90.7" width="10.7" height="10.7" fill="#31678e"/><rect x="100.8" width="10.7" height="10.7" fill="#34608d"/><rect x="110.8" width="10.7" height="10.7" fill="#38598c"/><rect x="120.9" width="10.7" height="10.7" fill="#3a548c"/><rect x="131" width="10.7" height="10.7" fill="#3b518b"/><rect x="141.1" width="10.7" height="10.7" fill="#3c4f8a"/><rect x="151.1" width="10.7" height="10.7" fill="#3c508b"/><rect x="161.2" width="10.7" height="10.7" fill="#3b528b"/><rect x="171.3" width="20.8" height="10.7" fill="#3a538b"/><rect x="191.5" width="10.7" height="10.7" fill="#3b528b"/><rect x="201.5" width="10.7" height="10.7" fill="#3b518b"/><rect x="211.6" width="10.7" height="10.7" fill="#3c508b"/><rect x="221.7" width="20.8" height="10.7" fill="#3c4f8a"/><rect x="241.8" width="10.7" height="10.7" fill="#3b528b"/><rect x="251.9" width="10.7" height="10.7" fill="#38588c"/><rect x="262" width="10.7" height="10.7" fill="#355f8d"/><rect x="272.1" width="10.7" height="10.7" fill="#31668e"/><rect x="282.1" width="10.7" height="10.7" fill="#2e6e8e"/><rect x="292.2" width="10.7" height="10.7" fill="#2b758e"/></g>
<g transform="translate(165,1060.1)"><rect x="0" width="10.7" height="10.7" fill="#24aa83"/><rect x="10.1" width="10.7" height="10.7" fill="#1f9f88"/><rect x="20.2" width="10.7" height="10.7" fill="#1f978b"/><rect x="30.2" width="10.7" height="10.7" fill="#20928c"/><rect x="40.3" width="10.7" height="10.7" fill="#228d8d"/><rect x="50.4" width="10.7" height="10.7" fill="#23888e"/><rect x="60.5" width="10.7" height="10.7" fill="#26828e"/><rect x="70.5" width="10.7" height="10.7" fill="#297b8e"/><rect x="80.6" width="10.7" height="10.7" fill="#2c738e"/><rect x="90.7" width="10.7" height="10.7" fill="#2f6c8e"/><rect x="100.8" width="10.7" height="10.7" fill="#32648e"/><rect x="110.8" width="10.7" height="10.7" fill="#355e8d"/><rect x="120.9" width="10.7" height="10.7" fill="#38588c"/><rect x="131" width="10.7" height="10.7" fill="#3a538b"/><rect x="141.1" width="20.8" height="10.7" fill="#3b518b"/><rect x="161.2" width="10.7" height="10.7" fill="#3a538b"/><rect x="171.3" width="10.7" height="10.7" fill="#3a548c"/><rect x="181.4" width="10.7" height="10.7" fill="#39558c"/><rect x="191.5" width="10.7" height="10.7" fill="#3a548c"/><rect x="201.5" width="10.7" height="10.7" fill="#3a538b"/><rect x="211.6" width="10.7" height="10.7" fill="#3b528b"/><rect x="221.7" width="10.7" height="10.7" fill="#3c508b"/><rect x="231.8" width="10.7" height="10.7" fill="#3c4f8a"/><rect x="241.8" width="10.7" height="10.7" fill="#3b528b"/><rect x="251.9" width="10.7" height="10.7" fill="#38598c"/><rect x="262" width="10.7" height="10.7" fill="#34608d"/><rect x="272.1" width="10.7" height="10.7" fill="#31688e"/><rect x="282.1" width="10.7" height="10.7" fill="#2d708e"/><rect x="292.2" width="10.7" height="10.7" fill="#2a768e"/></g>
<g transform="translate(165,1070.2)"><rect x="0" width="10.7" height="10.7" fill="#2db27d"/><rect x="10.1" width="10.7" height="10.7" fill="#22a785"/><rect x="20.2" width="10.7" height="10.7" fill="#1f9f88"/><rect x="30.2" width="10.7" height="10.7" fill="#1f998a"/><rect x="40.3" width="10.7" height="10.7" fill="#1f948c"/><rect x="50.4" width="10.7" height="10.7" fill="#218f8d"/><rect x="60.5" width="10.7" height="10.7" fill="#23888e"/><rect x="70.5" width="10.7" height="10.7" fill="#26818e"/><rect x="80.6" width="10.7" height="10.7" fill="#2a788e"/><rect x="90.7" width="10.7" height="10.7" fill="#2d718e"/><rect x="100.8" width="10.7" height="10.7" fill="#306a8e"/><rect x="110.8" width="10.7" height="10.7" fill="#33638d"/><rect x="120.9" width="10.7" height="10.7" fill="#365d8d"/><rect x="131" width="10.7" height="10.7" fill="#38588c"/><rect x="141.1" width="20.8" height="10.7" fill="#3a538b"/><rect x="161.2" width="10.7" height="10.7" fill="#39558c"/><rect x="171.3" width="10.7" height="10.7" fill="#38588c"/><rect x="181.4" width="10.7" height="10.7" fill="#38598c"/><rect x="191.5" width="10.7" height="10.7" fill="#38588c"/><rect x="201.5" width="10.7" height="10.7" fill="#39568c"/><rect x="211.6" width="10.7" height="10.7" fill="#3a548c"/><rect x="221.7" width="10.7" height="10.7" fill="#3b518b"/><rect x="231.8" width="10.7" height="10.7" fill="#3c508b"/><rect x="241.8" width="10.7" height="10.7" fill="#3a538b"/><rect x="251.9" width="10.7" height="10.7" fill="#375b8d"/><rect x="262" width="10.7" height="10.7" fill="#33638d"/><rect x="272.1" width="10.7" height="10.7" fill="#2f6c8e"/><rect x="282.1" width="10.7" height="10.7" fill="#2c728e"/><rect x="292.2" width="10.7" height="10.7" fill="#2a788e"/></g>
<g transform="translate(165,1080.3)"><rect x="0" width="10.7" height="10.7" fill="#3bbb75"/><rect x="10.1" width="10.7" height="10.7" fill="#2ab07f"/><rect x="20.2" width="10.7" height="10.7" fill="#22a785"/><rect x="30.2" width="10.7" height="10.7" fill="#1fa088"/><rect x="40.3" width="10.7" height="10.7" fill="#1e9b8a"/><rect x="50.4" width="10.7" height="10.7" fill="#1f958b"/><rect x="60.5" width="10.7" height="10.7" fill="#218e8d"/><rect x="70.5" width="10.7" height="10.7" fill="#25858e"/><rect x="80.6" width="10.7" height="10.7" fill="#277e8e"/><rect x="90.7" width="10.7" height="10.7" fill="#2a768e"/><rect x="100.8" width="10.7" height="10.7" fill="#2e6f8e"/><rect x="110.8" width="10.7" height="10.7" fill="#30698e"/><rect x="120.9" width="10.7" height="10.7" fill="#33638d"/><rect x="131" width="10.7" height="10.7" fill="#355e8d"/><rect x="141.1" width="10.7" height="10.7" fill="#375b8d"/><rect x="151.1" width="10.7" height="10.7" fill="#375a8c"/><rect x="161.2" width="10.7" height="10.7" fill="#375b8d"/><rect x="171.3" width="10.7" height="10.7" fill="#365c8d"/><rect x="181.4" width="20.8" height="10.7" fill="#365d8d"/><rect x="201.5" width="10.7" height="10.7" fill="#365c8d"/><rect x="211.6" width="10.7" height="10.7" fill="#375a8c"/><rect x="221.7" width="10.7" height="10.7" fill="#39568c"/><rect x="231.8" width="10.7" height="10.7" fill="#39558c"/><rect x="241.8" width="10.7" height="10.7" fill="#38598c"/><rect x="251.9" width="10.7" height="10.7" fill="#34618d"/><rect x="262" width="10.7" height="10.7" fill="#30698e"/><rect x="272.1" width="10.7" height="10.7" fill="#2d708e"/><rect x="282.1" width="10.7" height="10.7" fill="#2a768e"/><rect x="292.2" width="10.7" height="10.7" fill="#297b8e"/></g>
<g transform="translate(165,1090.3)"><rect x="0" width="10.7" height="10.7" fill="#4cc26c"/><rect x="10.1" width="10.7" height="10.7" fill="#35b779"/><rect x="20.2" width="10.7" height="10.7" fill="#26ad81"/><rect x="30.2" width="10.7" height="10.7" fill="#20a486"/><rect x="40.3" width="10.7" height="10.7" fill="#1fa088"/><rect x="50.4" width="10.7" height="10.7" fill="#1f9a8a"/><rect x="60.5" width="10.7" height="10.7" fill="#20928c"/><rect x="70.5" width="10.7" height="10.7" fill="#238a8d"/><rect x="80.6" width="10.7" height="10.7" fill="#26828e"/><rect x="90.7" width="10.7" height="10.7" fill="#297b8e"/><rect x="100.8" width="10.7" height="10.7" fill="#2b758e"/><rect x="110.8" width="10.7" height="10.7" fill="#2e6f8e"/><rect x="120.9" width="10.7" height="10.7" fill="#306a8e"/><rect x="131" width="10.7" height="10.7" fill="#32658e"/><rect x="141.1" width="10.7" height="10.7" fill="#33638d"/><rect x="151.1" width="20.8" height="10.7" fill="#33628d"/><rect x="171.3" width="30.8" height="10.7" fill="#33638d"/><rect x="201.5" width="10.7" height="10.7" fill="#33628d"/><rect x="211.6" width="10.7" height="10.7" fill="#34618d"/><rect x="221.7" width="20.8" height="10.7" fill="#355f8d"/><rect x="241.8" width="10.7" height="10.7" fill="#33638d"/><rect x="251.9" width="10.7" height="10.7" fill="#30698e"/><rect x="262" width="10.7" height="10.7" fill="#2d718e"/><rect x="272.1" width="10.7" height="10.7" fill="#2a768e"/><rect x="282.1" width="10.7" height="10.7" fill="#297b8e"/><rect x="292.2" width="10.7" height="10.7" fill="#277f8e"/></g>
<g transform="translate(165,1100.4)"><rect x="0" width="10.7" height="10.7" fill="#5cc863"/><rect x="10.1" width="10.7" height="10.7" fill="#40bd72"/><rect x="20.2" width="10.7" height="10.7" fill="#2cb17e"/><rect x="30.2" width="10.7" height="10.7" fill="#22a785"/><rect x="40.3" width="10.7" height="10.7" fill="#1fa088"/><rect x="50.4" width="10.7" height="10.7" fill="#1f9a8a"/><rect x="60.5" width="10.7" height="10.7" fill="#20938c"/><rect x="70.5" width="10.7" height="10.7" fill="#228d8d"/><rect x="80.6" width="10.7" height="10.7" fill="#24878e"/><rect x="90.7" width="10.7" height="10.7" fill="#26818e"/><rect x="100.8" width="10.7" height="10.7" fill="#297b8e"/><rect x="110.8" width="10.7" height="10.7" fill="#2b758e"/><rect x="120.9" width="10.7" height="10.7" fill="#2d718e"/><rect x="131" width="10.7" height="10.7" fill="#2e6d8e"/><rect x="141.1" width="10.7" height="10.7" fill="#2f6b8e"/><rect x="151.1" width="71.1" height="10.7" fill="#306a8e"/><rect x="221.7" width="10.7" height="10.7" fill="#30698e"/><rect x="231.8" width="10.7" height="10.7" fill="#306a8e"/><rect x="241.8" width="10.7" height="10.7" fill="#2e6d8e"/><rect x="251.9" width="10.7" height="10.7" fill="#2c728e"/><rect x="262" width="10.7" height="10.7" fill="#29798e"/><rect x="272.1" width="10.7" height="10.7" fill="#277e8e"/><rect x="282.1" width="10.7" height="10.7" fill="#26818e"/><rect x="292.2" width="10.7" height="10.7" fill="#26828e"/></g>
</g>
<path d="M193.5,516.4C193.6,519.7 193.2,530 193.8,536.2C194.4,542.5 195.2,547.7 197.1,554.1C199,560.5 202.4,567.6 205.4,574.7C208.3,581.8 211.8,589.4 215,596.7C218.2,604 221.9,612.1 224.6,618.7C227.3,625.4 229.6,630.6 230.9,636.6C232.3,642.5 232.5,651.5 232.9,654.5M222.7,690.7C221.9,693.9 219.9,702.7 217.7,709.4C215.5,716.2 212.7,724.1 209.5,731.4C206.3,738.8 202.2,746.5 198.5,753.4C194.8,760.3 190.9,766.2 187.5,772.7C184.1,779.1 180.6,785.7 177.9,791.9C175.1,798.1 172.1,806.8 171,809.8M416.2,516.4C416.1,522.5 416.9,542.6 415.7,552.7C414.4,562.9 410.9,570.1 408.8,577.5C406.7,584.8 404.7,590.8 403.3,596.7C401.9,602.7 400.9,604.5 400.5,613.2C400.2,621.9 401.1,638.9 401.4,649C401.6,659 401.4,666.8 401.9,673.7C402.5,680.6 402.4,684.9 404.7,690.2C407,695.5 412.2,701.9 415.7,705.3C419.1,708.7 422.1,707.4 425.3,710.8C428.5,714.2 432.4,720.2 434.9,725.9C437.4,731.7 438.6,738.5 440.4,745.2C442.2,751.8 444.3,757.8 445.9,765.8C447.5,773.8 449.3,788.7 450,793.3M456.9,517C456.4,519.7 455.1,527.8 454.2,533.5C453.2,539.2 451.9,548.4 451.4,551.4M454.2,598.1 L462.4,614.6M171,855.9C172.4,858.8 176.7,868 179.2,873.7C181.8,879.5 183.8,884.3 186.1,890.2C188.4,896.2 190.9,903.5 193,909.5C195.1,915.4 195.3,920 198.5,926C201.7,931.9 206.7,939.7 212.2,945.2C217.7,950.7 225.5,954.9 231.5,959C237.4,963 242,968 248,969.4C253.9,970.8 262.2,965.7 267.2,967.2C272.3,968.7 275.5,973.6 278.2,978.2C281,982.8 283,987.4 283.7,994.7C284.4,1002 282.1,1013.9 282.3,1022.2C282.6,1030.4 282.6,1038.9 285.1,1044.2C287.6,1049.4 293.6,1049.7 297.5,1053.8C301.4,1057.9 305.2,1065.5 308.5,1068.9C311.7,1072.4 313.5,1075.1 316.7,1074.4C319.9,1073.7 324.5,1068.7 327.7,1064.8C330.9,1060.9 332.7,1053.7 335.9,1051C339.2,1048.4 342.8,1048.4 346.9,1049.1C351.1,1049.8 355.6,1052.8 360.7,1055.2C365.7,1057.6 372.6,1060.4 377.2,1063.4C381.8,1066.4 385,1070.2 388.2,1073C391.4,1075.9 393.4,1079.1 396.4,1080.5C399.4,1081.8 403.5,1084.1 406,1081.3C408.6,1078.4 410.9,1069.6 411.5,1063.4C412.2,1057.2 411.1,1051 410.2,1044.2C409.3,1037.3 407.1,1029.1 406,1022.2C405,1015.3 403.7,1009.4 404.1,1002.9C404.6,996.5 406,988.7 408.8,983.7C411.6,978.7 417.3,975.9 421.2,972.7C425.1,969.5 429,968.6 432.2,964.5C435.4,960.3 438.1,954.4 440.4,948C442.7,941.5 444.5,934.7 445.9,926C447.3,917.3 448.1,906.7 448.7,895.7C449.2,884.7 449.2,871.4 449.2,860C449.2,848.5 448.8,832.5 448.7,827M170.4,1052.4 L173.2,1059.3M206.7,1100.5 L213.6,1099.2" fill="none" stroke="#fff" stroke-width="6.2" stroke-linecap="butt" stroke-linejoin="round"/>
<text font-size="26.6" fill="#fff" text-anchor="middle" transform="translate(226.5,673.1) rotate(-80)" y="9.7">60</text>
<text font-size="26.6" fill="#fff" text-anchor="middle" transform="translate(445.2,807.5) rotate(-88)" y="9.7">60</text>
<text font-size="26.6" fill="#fff" text-anchor="middle" transform="translate(447.6,575.5) rotate(87)" y="9.7">100</text>
<text font-size="26.6" fill="#fff" text-anchor="middle" transform="translate(187.5,1078.8) rotate(64)" y="9.7">100</text>
<rect x="355" y="1095.5" width="102" height="10" fill="#fff" stroke="#000" stroke-width="1.2"/>
<rect x="166.1" y="507.6" width="302.3" height="604.3" fill="none" stroke="#000" stroke-width="4.2"/>
<g class="hc" shape-rendering="crispEdges">
<g transform="translate(479.5,495.9)"><rect x="0" width="41" height="20.8" fill="#3bbb75"/><rect x="40.4" width="20.8" height="20.8" fill="#4ec36b"/><rect x="60.6" width="20.8" height="20.8" fill="#20a386"/><rect x="80.7" width="20.8" height="20.8" fill="#228b8d"/><rect x="100.9" width="20.8" height="20.8" fill="#2a788e"/><rect x="121.1" width="20.8" height="20.8" fill="#287d8e"/><rect x="141.3" width="20.8" height="20.8" fill="#1e9c89"/><rect x="161.5" width="20.8" height="20.8" fill="#27808e"/><rect x="181.7" width="20.8" height="20.8" fill="#2c738e"/><rect x="201.9" width="20.8" height="20.8" fill="#2f6c8e"/><rect x="222.1" width="20.8" height="20.8" fill="#1f978b"/><rect x="242.2" width="20.8" height="20.8" fill="#375a8c"/><rect x="262.4" width="20.8" height="20.8" fill="#2a788e"/><rect x="282.6" width="20.8" height="20.8" fill="#2fb47c"/></g>
<g transform="translate(479.5,516.1)"><rect x="0" width="20.8" height="20.8" fill="#5ec962"/><rect x="20.2" width="20.8" height="20.8" fill="#86d549"/><rect x="40.4" width="20.8" height="20.8" fill="#26ad81"/><rect x="60.6" width="20.8" height="20.8" fill="#20a386"/><rect x="80.7" width="20.8" height="20.8" fill="#1e9c89"/><rect x="100.9" width="20.8" height="20.8" fill="#2f6c8e"/><rect x="121.1" width="20.8" height="20.8" fill="#27808e"/><rect x="141.3" width="20.8" height="20.8" fill="#2f6c8e"/><rect x="161.5" width="20.8" height="20.8" fill="#27808e"/><rect x="181.7" width="20.8" height="20.8" fill="#375a8c"/><rect x="201.9" width="20.8" height="20.8" fill="#2a788e"/><rect x="222.1" width="20.8" height="20.8" fill="#287d8e"/><rect x="242.2" width="41" height="20.8" fill="#2c738e"/><rect x="282.6" width="20.8" height="20.8" fill="#21918c"/></g>
<g transform="translate(479.5,536.3)"><rect x="0" width="20.8" height="20.8" fill="#20a386"/><rect x="20.2" width="41" height="20.8" fill="#228b8d"/><rect x="60.6" width="20.8" height="20.8" fill="#2c738e"/><rect x="80.7" width="20.8" height="20.8" fill="#2a788e"/><rect x="100.9" width="20.8" height="20.8" fill="#31678e"/><rect x="121.1" width="20.8" height="20.8" fill="#433e85"/><rect x="141.3" width="20.8" height="20.8" fill="#3e4989"/><rect x="161.5" width="20.8" height="20.8" fill="#38588c"/><rect x="181.7" width="20.8" height="20.8" fill="#375a8c"/><rect x="201.9" width="20.8" height="20.8" fill="#433e85"/><rect x="222.1" width="20.8" height="20.8" fill="#31678e"/><rect x="242.2" width="20.8" height="20.8" fill="#433e85"/><rect x="262.4" width="20.8" height="20.8" fill="#31678e"/><rect x="282.6" width="20.8" height="20.8" fill="#287d8e"/></g>
<g transform="translate(479.5,556.5)"><rect x="0" width="20.8" height="20.8" fill="#5ec962"/><rect x="20.2" width="41" height="20.8" fill="#25848e"/><rect x="60.6" width="20.8" height="20.8" fill="#32648e"/><rect x="80.7" width="20.8" height="20.8" fill="#31678e"/><rect x="100.9" width="41" height="20.8" fill="#355f8d"/><rect x="141.3" width="20.8" height="20.8" fill="#375a8c"/><rect x="161.5" width="20.8" height="20.8" fill="#414487"/><rect x="181.7" width="20.8" height="20.8" fill="#3b528b"/><rect x="201.9" width="20.8" height="20.8" fill="#3e4989"/><rect x="222.1" width="20.8" height="20.8" fill="#3b528b"/><rect x="242.2" width="20.8" height="20.8" fill="#355f8d"/><rect x="262.4" width="20.8" height="20.8" fill="#2c738e"/><rect x="282.6" width="20.8" height="20.8" fill="#1e9c89"/></g>
<g transform="translate(479.5,576.6)"><rect x="0" width="20.8" height="20.8" fill="#1e9c89"/><rect x="20.2" width="20.8" height="20.8" fill="#25848e"/><rect x="40.4" width="41" height="20.8" fill="#2a788e"/><rect x="80.7" width="41" height="20.8" fill="#38588c"/><rect x="121.1" width="20.8" height="20.8" fill="#443a83"/><rect x="141.3" width="20.8" height="20.8" fill="#463480"/><rect x="161.5" width="20.8" height="20.8" fill="#46085c"/><rect x="181.7" width="20.8" height="20.8" fill="#38588c"/><rect x="201.9" width="41" height="20.8" fill="#433e85"/><rect x="242.2" width="20.8" height="20.8" fill="#38588c"/><rect x="262.4" width="20.8" height="20.8" fill="#355f8d"/><rect x="282.6" width="20.8" height="20.8" fill="#433e85"/></g>
<g transform="translate(479.5,596.8)"><rect x="0" width="41" height="20.8" fill="#20a386"/><rect x="40.4" width="20.8" height="20.8" fill="#375a8c"/><rect x="60.6" width="20.8" height="20.8" fill="#2f6c8e"/><rect x="80.7" width="20.8" height="20.8" fill="#463480"/><rect x="100.9" width="20.8" height="20.8" fill="#443a83"/><rect x="121.1" width="20.8" height="20.8" fill="#481d6f"/><rect x="141.3" width="20.8" height="20.8" fill="#463480"/><rect x="161.5" width="20.8" height="20.8" fill="#450457"/><rect x="181.7" width="20.8" height="20.8" fill="#472a7a"/><rect x="201.9" width="20.8" height="20.8" fill="#443a83"/><rect x="222.1" width="20.8" height="20.8" fill="#481a6c"/><rect x="242.2" width="20.8" height="20.8" fill="#472a7a"/><rect x="262.4" width="20.8" height="20.8" fill="#375a8c"/><rect x="282.6" width="20.8" height="20.8" fill="#32648e"/></g>
<g transform="translate(479.5,617)"><rect x="0" width="20.8" height="20.8" fill="#228b8d"/><rect x="20.2" width="20.8" height="20.8" fill="#23898e"/><rect x="40.4" width="20.8" height="20.8" fill="#375a8c"/><rect x="60.6" width="20.8" height="20.8" fill="#38588c"/><rect x="80.7" width="20.8" height="20.8" fill="#355f8d"/><rect x="100.9" width="20.8" height="20.8" fill="#481d6f"/><rect x="121.1" width="20.8" height="20.8" fill="#471365"/><rect x="141.3" width="20.8" height="20.8" fill="#414487"/><rect x="161.5" width="20.8" height="20.8" fill="#472a7a"/><rect x="181.7" width="20.8" height="20.8" fill="#46085c"/><rect x="201.9" width="20.8" height="20.8" fill="#463480"/><rect x="222.1" width="20.8" height="20.8" fill="#443a83"/><rect x="242.2" width="20.8" height="20.8" fill="#433e85"/><rect x="262.4" width="20.8" height="20.8" fill="#472e7c"/><rect x="282.6" width="20.8" height="20.8" fill="#414487"/></g>
<g transform="translate(479.5,637.2)"><rect x="0" width="20.8" height="20.8" fill="#228b8d"/><rect x="20.2" width="20.8" height="20.8" fill="#2a788e"/><rect x="40.4" width="20.8" height="20.8" fill="#3b528b"/><rect x="60.6" width="20.8" height="20.8" fill="#482475"/><rect x="80.7" width="20.8" height="20.8" fill="#472a7a"/><rect x="100.9" width="20.8" height="20.8" fill="#433e85"/><rect x="121.1" width="41" height="20.8" fill="#472a7a"/><rect x="161.5" width="20.8" height="20.8" fill="#433e85"/><rect x="181.7" width="20.8" height="20.8" fill="#450457"/><rect x="201.9" width="20.8" height="20.8" fill="#481d6f"/><rect x="222.1" width="20.8" height="20.8" fill="#443a83"/><rect x="242.2" width="20.8" height="20.8" fill="#472e7c"/><rect x="262.4" width="41" height="20.8" fill="#2f6c8e"/></g>
<g transform="translate(479.5,657.4)"><rect x="0" width="20.8" height="20.8" fill="#23898e"/><rect x="20.2" width="20.8" height="20.8" fill="#414487"/><rect x="40.4" width="20.8" height="20.8" fill="#443a83"/><rect x="60.6" width="20.8" height="20.8" fill="#3b528b"/><rect x="80.7" width="20.8" height="20.8" fill="#443a83"/><rect x="100.9" width="20.8" height="20.8" fill="#482475"/><rect x="121.1" width="20.8" height="20.8" fill="#472e7c"/><rect x="141.3" width="20.8" height="20.8" fill="#443a83"/><rect x="161.5" width="20.8" height="20.8" fill="#471365"/><rect x="181.7" width="41" height="20.8" fill="#472a7a"/><rect x="222.1" width="20.8" height="20.8" fill="#472e7c"/><rect x="242.2" width="41" height="20.8" fill="#414487"/><rect x="282.6" width="20.8" height="20.8" fill="#287d8e"/></g>
<g transform="translate(479.5,677.6)"><rect x="0" width="20.8" height="20.8" fill="#38588c"/><rect x="20.2" width="20.8" height="20.8" fill="#2f6c8e"/><rect x="40.4" width="20.8" height="20.8" fill="#38588c"/><rect x="60.6" width="20.8" height="20.8" fill="#414487"/><rect x="80.7" width="20.8" height="20.8" fill="#443a83"/><rect x="100.9" width="20.8" height="20.8" fill="#471365"/><rect x="121.1" width="20.8" height="20.8" fill="#482475"/><rect x="141.3" width="20.8" height="20.8" fill="#443a83"/><rect x="161.5" width="20.8" height="20.8" fill="#481769"/><rect x="181.7" width="20.8" height="20.8" fill="#471063"/><rect x="201.9" width="20.8" height="20.8" fill="#460b5e"/><rect x="222.1" width="20.8" height="20.8" fill="#463480"/><rect x="242.2" width="20.8" height="20.8" fill="#38588c"/><rect x="262.4" width="20.8" height="20.8" fill="#3e4989"/><rect x="282.6" width="20.8" height="20.8" fill="#38588c"/></g>
<g transform="translate(479.5,697.8)"><rect x="0" width="20.8" height="20.8" fill="#1e9c89"/><rect x="20.2" width="20.8" height="20.8" fill="#463480"/><rect x="40.4" width="20.8" height="20.8" fill="#460b5e"/><rect x="60.6" width="20.8" height="20.8" fill="#482475"/><rect x="80.7" width="20.8" height="20.8" fill="#472e7c"/><rect x="100.9" width="20.8" height="20.8" fill="#414487"/><rect x="121.1" width="20.8" height="20.8" fill="#481d6f"/><rect x="141.3" width="20.8" height="20.8" fill="#460b5e"/><rect x="161.5" width="20.8" height="20.8" fill="#414487"/><rect x="181.7" width="20.8" height="20.8" fill="#481d6f"/><rect x="201.9" width="20.8" height="20.8" fill="#460b5e"/><rect x="222.1" width="20.8" height="20.8" fill="#482475"/><rect x="242.2" width="20.8" height="20.8" fill="#3e4989"/><rect x="262.4" width="20.8" height="20.8" fill="#433e85"/><rect x="282.6" width="20.8" height="20.8" fill="#2f6c8e"/></g>
<g transform="translate(479.5,718)"><rect x="0" width="20.8" height="20.8" fill="#414487"/><rect x="20.2" width="20.8" height="20.8" fill="#3b528b"/><rect x="40.4" width="20.8" height="20.8" fill="#472e7c"/><rect x="60.6" width="41" height="20.8" fill="#450457"/><rect x="100.9" width="20.8" height="20.8" fill="#472a7a"/><rect x="121.1" width="20.8" height="20.8" fill="#481769"/><rect x="141.3" width="20.8" height="20.8" fill="#482475"/><rect x="161.5" width="41" height="20.8" fill="#471365"/><rect x="201.9" width="20.8" height="20.8" fill="#443a83"/><rect x="222.1" width="20.8" height="20.8" fill="#482475"/><rect x="242.2" width="20.8" height="20.8" fill="#3b528b"/><rect x="262.4" width="41" height="20.8" fill="#414487"/></g>
<g transform="translate(479.5,738.1)"><rect x="0" width="20.8" height="20.8" fill="#375a8c"/><rect x="20.2" width="20.8" height="20.8" fill="#38588c"/><rect x="40.4" width="41" height="20.8" fill="#3e4c8a"/><rect x="80.7" width="20.8" height="20.8" fill="#482475"/><rect x="100.9" width="20.8" height="20.8" fill="#460b5e"/><rect x="121.1" width="20.8" height="20.8" fill="#471365"/><rect x="141.3" width="20.8" height="20.8" fill="#450457"/><rect x="161.5" width="20.8" height="20.8" fill="#481a6c"/><rect x="181.7" width="20.8" height="20.8" fill="#472a7a"/><rect x="201.9" width="20.8" height="20.8" fill="#471365"/><rect x="222.1" width="20.8" height="20.8" fill="#450457"/><rect x="242.2" width="20.8" height="20.8" fill="#481d6f"/><rect x="262.4" width="20.8" height="20.8" fill="#32648e"/><rect x="282.6" width="20.8" height="20.8" fill="#2c738e"/></g>
<g transform="translate(479.5,758.3)"><rect x="0" width="20.8" height="20.8" fill="#38588c"/><rect x="20.2" width="20.8" height="20.8" fill="#3b528b"/><rect x="40.4" width="20.8" height="20.8" fill="#443a83"/><rect x="60.6" width="41" height="20.8" fill="#481d6f"/><rect x="100.9" width="20.8" height="20.8" fill="#471365"/><rect x="121.1" width="41" height="20.8" fill="#450457"/><rect x="161.5" width="20.8" height="20.8" fill="#481a6c"/><rect x="181.7" width="20.8" height="20.8" fill="#450457"/><rect x="201.9" width="20.8" height="20.8" fill="#471365"/><rect x="222.1" width="20.8" height="20.8" fill="#414487"/><rect x="242.2" width="20.8" height="20.8" fill="#3b528b"/><rect x="262.4" width="20.8" height="20.8" fill="#472a7a"/><rect x="282.6" width="20.8" height="20.8" fill="#38588c"/></g>
<g transform="translate(479.5,778.5)"><rect x="0" width="20.8" height="20.8" fill="#3e4989"/><rect x="20.2" width="20.8" height="20.8" fill="#38588c"/><rect x="40.4" width="20.8" height="20.8" fill="#472e7c"/><rect x="60.6" width="20.8" height="20.8" fill="#414487"/><rect x="80.7" width="20.8" height="20.8" fill="#481d6f"/><rect x="100.9" width="20.8" height="20.8" fill="#463480"/><rect x="121.1" width="41" height="20.8" fill="#450457"/><rect x="161.5" width="20.8" height="20.8" fill="#482173"/><rect x="181.7" width="20.8" height="20.8" fill="#481a6c"/><rect x="201.9" width="41" height="20.8" fill="#433e85"/><rect x="242.2" width="20.8" height="20.8" fill="#443a83"/><rect x="262.4" width="20.8" height="20.8" fill="#433e85"/><rect x="282.6" width="20.8" height="20.8" fill="#481d6f"/></g>
<g transform="translate(479.5,798.7)"><rect x="0" width="20.8" height="20.8" fill="#38588c"/><rect x="20.2" width="20.8" height="20.8" fill="#414487"/><rect x="40.4" width="20.8" height="20.8" fill="#443a83"/><rect x="60.6" width="20.8" height="20.8" fill="#482475"/><rect x="80.7" width="41" height="20.8" fill="#471063"/><rect x="121.1" width="20.8" height="20.8" fill="#46085c"/><rect x="141.3" width="20.8" height="20.8" fill="#481d6f"/><rect x="161.5" width="20.8" height="20.8" fill="#471063"/><rect x="181.7" width="20.8" height="20.8" fill="#481d6f"/><rect x="201.9" width="20.8" height="20.8" fill="#443a83"/><rect x="222.1" width="20.8" height="20.8" fill="#460b5e"/><rect x="242.2" width="20.8" height="20.8" fill="#482475"/><rect x="262.4" width="20.8" height="20.8" fill="#375a8c"/><rect x="282.6" width="20.8" height="20.8" fill="#433e85"/></g>
<g transform="translate(479.5,818.9)"><rect x="0" width="20.8" height="20.8" fill="#2f6c8e"/><rect x="20.2" width="20.8" height="20.8" fill="#3e4989"/><rect x="40.4" width="20.8" height="20.8" fill="#443a83"/><rect x="60.6" width="20.8" height="20.8" fill="#414487"/><rect x="80.7" width="20.8" height="20.8" fill="#482475"/><rect x="100.9" width="20.8" height="20.8" fill="#472e7c"/><rect x="121.1" width="20.8" height="20.8" fill="#481d6f"/><rect x="141.3" width="20.8" height="20.8" fill="#450457"/><rect x="161.5" width="20.8" height="20.8" fill="#481769"/><rect x="181.7" width="41" height="20.8" fill="#450457"/><rect x="222.1" width="20.8" height="20.8" fill="#355f8d"/><rect x="242.2" width="20.8" height="20.8" fill="#481d6f"/><rect x="262.4" width="20.8" height="20.8" fill="#471063"/><rect x="282.6" width="20.8" height="20.8" fill="#3e4c8a"/></g>
<g transform="translate(479.5,839.1)"><rect x="0" width="20.8" height="20.8" fill="#2c738e"/><rect x="20.2" width="20.8" height="20.8" fill="#414487"/><rect x="40.4" width="20.8" height="20.8" fill="#472e7c"/><rect x="60.6" width="20.8" height="20.8" fill="#481d6f"/><rect x="80.7" width="20.8" height="20.8" fill="#482475"/><rect x="100.9" width="61.2" height="20.8" fill="#450457"/><rect x="161.5" width="20.8" height="20.8" fill="#463480"/><rect x="181.7" width="20.8" height="20.8" fill="#450457"/><rect x="201.9" width="41" height="20.8" fill="#472e7c"/><rect x="242.2" width="20.8" height="20.8" fill="#472a7a"/><rect x="262.4" width="20.8" height="20.8" fill="#481d6f"/><rect x="282.6" width="20.8" height="20.8" fill="#443a83"/></g>
<g transform="translate(479.5,859.3)"><rect x="0" width="20.8" height="20.8" fill="#2a788e"/><rect x="20.2" width="20.8" height="20.8" fill="#443a83"/><rect x="40.4" width="20.8" height="20.8" fill="#472e7c"/><rect x="60.6" width="20.8" height="20.8" fill="#481769"/><rect x="80.7" width="20.8" height="20.8" fill="#375a8c"/><rect x="100.9" width="20.8" height="20.8" fill="#414487"/><rect x="121.1" width="20.8" height="20.8" fill="#481769"/><rect x="141.3" width="20.8" height="20.8" fill="#471365"/><rect x="161.5" width="20.8" height="20.8" fill="#471063"/><rect x="181.7" width="41" height="20.8" fill="#481d6f"/><rect x="222.1" width="20.8" height="20.8" fill="#482475"/><rect x="242.2" width="20.8" height="20.8" fill="#414487"/><rect x="262.4" width="41" height="20.8" fill="#32648e"/></g>
<g transform="translate(479.5,879.4)"><rect x="0" width="20.8" height="20.8" fill="#414487"/><rect x="20.2" width="20.8" height="20.8" fill="#482475"/><rect x="40.4" width="20.8" height="20.8" fill="#472a7a"/><rect x="60.6" width="20.8" height="20.8" fill="#482475"/><rect x="80.7" width="20.8" height="20.8" fill="#414487"/><rect x="100.9" width="41" height="20.8" fill="#450457"/><rect x="141.3" width="20.8" height="20.8" fill="#472e7c"/><rect x="161.5" width="20.8" height="20.8" fill="#46085c"/><rect x="181.7" width="20.8" height="20.8" fill="#3b528b"/><rect x="201.9" width="20.8" height="20.8" fill="#450457"/><rect x="222.1" width="20.8" height="20.8" fill="#460b5e"/><rect x="242.2" width="20.8" height="20.8" fill="#414487"/><rect x="262.4" width="20.8" height="20.8" fill="#3e4989"/><rect x="282.6" width="20.8" height="20.8" fill="#31678e"/></g>
<g transform="translate(479.5,899.6)"><rect x="0" width="20.8" height="20.8" fill="#433e85"/><rect x="20.2" width="20.8" height="20.8" fill="#2a788e"/><rect x="40.4" width="20.8" height="20.8" fill="#3b528b"/><rect x="60.6" width="20.8" height="20.8" fill="#460b5e"/><rect x="80.7" width="20.8" height="20.8" fill="#481a6c"/><rect x="100.9" width="20.8" height="20.8" fill="#472e7c"/><rect x="121.1" width="20.8" height="20.8" fill="#450457"/><rect x="141.3" width="20.8" height="20.8" fill="#46085c"/><rect x="161.5" width="41" height="20.8" fill="#481d6f"/><rect x="201.9" width="20.8" height="20.8" fill="#463480"/><rect x="222.1" width="20.8" height="20.8" fill="#3b528b"/><rect x="242.2" width="20.8" height="20.8" fill="#481d6f"/><rect x="262.4" width="20.8" height="20.8" fill="#2c738e"/><rect x="282.6" width="20.8" height="20.8" fill="#463480"/></g>
<g transform="translate(479.5,919.8)"><rect x="0" width="20.8" height="20.8" fill="#31678e"/><rect x="20.2" width="20.8" height="20.8" fill="#443a83"/><rect x="40.4" width="20.8" height="20.8" fill="#3e4c8a"/><rect x="60.6" width="20.8" height="20.8" fill="#433e85"/><rect x="80.7" width="20.8" height="20.8" fill="#463480"/><rect x="100.9" width="20.8" height="20.8" fill="#3e4c8a"/><rect x="121.1" width="20.8" height="20.8" fill="#3e4989"/><rect x="141.3" width="20.8" height="20.8" fill="#463480"/><rect x="161.5" width="20.8" height="20.8" fill="#3e4989"/><rect x="181.7" width="20.8" height="20.8" fill="#3e4c8a"/><rect x="201.9" width="20.8" height="20.8" fill="#443a83"/><rect x="222.1" width="20.8" height="20.8" fill="#481d6f"/><rect x="242.2" width="20.8" height="20.8" fill="#3b528b"/><rect x="262.4" width="20.8" height="20.8" fill="#31678e"/><rect x="282.6" width="20.8" height="20.8" fill="#38588c"/></g>
<g transform="translate(479.5,940)"><rect x="0" width="20.8" height="20.8" fill="#38588c"/><rect x="20.2" width="20.8" height="20.8" fill="#31678e"/><rect x="40.4" width="20.8" height="20.8" fill="#3e4c8a"/><rect x="60.6" width="20.8" height="20.8" fill="#3e4989"/><rect x="80.7" width="20.8" height="20.8" fill="#481a6c"/><rect x="100.9" width="20.8" height="20.8" fill="#463480"/><rect x="121.1" width="20.8" height="20.8" fill="#46085c"/><rect x="141.3" width="20.8" height="20.8" fill="#482475"/><rect x="161.5" width="20.8" height="20.8" fill="#482173"/><rect x="181.7" width="20.8" height="20.8" fill="#3e4c8a"/><rect x="201.9" width="20.8" height="20.8" fill="#433e85"/><rect x="222.1" width="20.8" height="20.8" fill="#287d8e"/><rect x="242.2" width="20.8" height="20.8" fill="#3e4c8a"/><rect x="262.4" width="20.8" height="20.8" fill="#3e4989"/><rect x="282.6" width="20.8" height="20.8" fill="#2f6c8e"/></g>
<g transform="translate(479.5,960.2)"><rect x="0" width="20.8" height="20.8" fill="#23898e"/><rect x="20.2" width="20.8" height="20.8" fill="#287d8e"/><rect x="40.4" width="20.8" height="20.8" fill="#38588c"/><rect x="60.6" width="20.8" height="20.8" fill="#355f8d"/><rect x="80.7" width="20.8" height="20.8" fill="#38588c"/><rect x="100.9" width="20.8" height="20.8" fill="#2d718e"/><rect x="121.1" width="20.8" height="20.8" fill="#414487"/><rect x="141.3" width="20.8" height="20.8" fill="#443a83"/><rect x="161.5" width="20.8" height="20.8" fill="#3b528b"/><rect x="181.7" width="20.8" height="20.8" fill="#3e4989"/><rect x="201.9" width="20.8" height="20.8" fill="#443a83"/><rect x="222.1" width="20.8" height="20.8" fill="#3b528b"/><rect x="242.2" width="20.8" height="20.8" fill="#414487"/><rect x="262.4" width="20.8" height="20.8" fill="#433e85"/><rect x="282.6" width="20.8" height="20.8" fill="#25848e"/></g>
<g transform="translate(479.5,980.4)"><rect x="0" width="41" height="20.8" fill="#2f6c8e"/><rect x="40.4" width="20.8" height="20.8" fill="#375a8c"/><rect x="60.6" width="20.8" height="20.8" fill="#355f8d"/><rect x="80.7" width="20.8" height="20.8" fill="#3e4989"/><rect x="100.9" width="20.8" height="20.8" fill="#482475"/><rect x="121.1" width="20.8" height="20.8" fill="#3e4c8a"/><rect x="141.3" width="20.8" height="20.8" fill="#433e85"/><rect x="161.5" width="20.8" height="20.8" fill="#414487"/><rect x="181.7" width="41" height="20.8" fill="#472e7c"/><rect x="222.1" width="20.8" height="20.8" fill="#463480"/><rect x="242.2" width="20.8" height="20.8" fill="#355f8d"/><rect x="262.4" width="20.8" height="20.8" fill="#375a8c"/><rect x="282.6" width="20.8" height="20.8" fill="#287d8e"/></g>
<g transform="translate(479.5,1000.6)"><rect x="0" width="41" height="20.8" fill="#32648e"/><rect x="40.4" width="20.8" height="20.8" fill="#2a788e"/><rect x="60.6" width="20.8" height="20.8" fill="#287d8e"/><rect x="80.7" width="20.8" height="20.8" fill="#32648e"/><rect x="100.9" width="20.8" height="20.8" fill="#355f8d"/><rect x="121.1" width="20.8" height="20.8" fill="#443a83"/><rect x="141.3" width="41" height="20.8" fill="#433e85"/><rect x="181.7" width="20.8" height="20.8" fill="#3b528b"/><rect x="201.9" width="20.8" height="20.8" fill="#2a788e"/><rect x="222.1" width="20.8" height="20.8" fill="#355f8d"/><rect x="242.2" width="20.8" height="20.8" fill="#3e4989"/><rect x="262.4" width="20.8" height="20.8" fill="#2d718e"/><rect x="282.6" width="20.8" height="20.8" fill="#2a788e"/></g>
<g transform="translate(479.5,1020.8)"><rect x="0" width="20.8" height="20.8" fill="#29af7f"/><rect x="20.2" width="20.8" height="20.8" fill="#25848e"/><rect x="40.4" width="20.8" height="20.8" fill="#287d8e"/><rect x="60.6" width="20.8" height="20.8" fill="#2d718e"/><rect x="80.7" width="20.8" height="20.8" fill="#32648e"/><rect x="100.9" width="20.8" height="20.8" fill="#355f8d"/><rect x="121.1" width="20.8" height="20.8" fill="#2c738e"/><rect x="141.3" width="20.8" height="20.8" fill="#355f8d"/><rect x="161.5" width="20.8" height="20.8" fill="#2d718e"/><rect x="181.7" width="20.8" height="20.8" fill="#472e7c"/><rect x="201.9" width="20.8" height="20.8" fill="#355f8d"/><rect x="222.1" width="20.8" height="20.8" fill="#2c738e"/><rect x="242.2" width="20.8" height="20.8" fill="#31678e"/><rect x="262.4" width="20.8" height="20.8" fill="#414487"/><rect x="282.6" width="20.8" height="20.8" fill="#228b8d"/></g>
<g transform="translate(479.5,1040.9)"><rect x="0" width="20.8" height="20.8" fill="#1f958b"/><rect x="20.2" width="20.8" height="20.8" fill="#25848e"/><rect x="40.4" width="20.8" height="20.8" fill="#2c738e"/><rect x="60.6" width="20.8" height="20.8" fill="#25848e"/><rect x="80.7" width="20.8" height="20.8" fill="#2c738e"/><rect x="100.9" width="61.2" height="20.8" fill="#2f6c8e"/><rect x="161.5" width="20.8" height="20.8" fill="#355f8d"/><rect x="181.7" width="41" height="20.8" fill="#32648e"/><rect x="222.1" width="20.8" height="20.8" fill="#287d8e"/><rect x="242.2" width="20.8" height="20.8" fill="#2c738e"/><rect x="262.4" width="20.8" height="20.8" fill="#2a788e"/><rect x="282.6" width="20.8" height="20.8" fill="#1f958b"/></g>
<g transform="translate(479.5,1061.1)"><rect x="0" width="20.8" height="20.8" fill="#1f958b"/><rect x="20.2" width="20.8" height="20.8" fill="#86d549"/><rect x="40.4" width="20.8" height="20.8" fill="#5ec962"/><rect x="60.6" width="20.8" height="20.8" fill="#1f958b"/><rect x="80.7" width="20.8" height="20.8" fill="#23898e"/><rect x="100.9" width="20.8" height="20.8" fill="#27808e"/><rect x="121.1" width="20.8" height="20.8" fill="#31678e"/><rect x="141.3" width="20.8" height="20.8" fill="#32648e"/><rect x="161.5" width="20.8" height="20.8" fill="#287d8e"/><rect x="181.7" width="20.8" height="20.8" fill="#3e4c8a"/><rect x="201.9" width="20.8" height="20.8" fill="#287d8e"/><rect x="222.1" width="20.8" height="20.8" fill="#3bbb75"/><rect x="242.2" width="20.8" height="20.8" fill="#1f978b"/><rect x="262.4" width="20.8" height="20.8" fill="#27808e"/><rect x="282.6" width="20.8" height="20.8" fill="#1f958b"/></g>
<g transform="translate(479.5,1081.3)"><rect x="0" width="20.8" height="20.8" fill="#f8e621"/><rect x="20.2" width="20.8" height="20.8" fill="#1fa188"/><rect x="40.4" width="20.8" height="20.8" fill="#2fb47c"/><rect x="60.6" width="20.8" height="20.8" fill="#26ad81"/><rect x="80.7" width="41" height="20.8" fill="#27808e"/><rect x="121.1" width="20.8" height="20.8" fill="#2d718e"/><rect x="141.3" width="20.8" height="20.8" fill="#3bbb75"/><rect x="161.5" width="20.8" height="20.8" fill="#31678e"/><rect x="181.7" width="20.8" height="20.8" fill="#2d718e"/><rect x="201.9" width="20.8" height="20.8" fill="#287d8e"/><rect x="222.1" width="20.8" height="20.8" fill="#4ec36b"/><rect x="242.2" width="20.8" height="20.8" fill="#20a386"/><rect x="262.4" width="20.8" height="20.8" fill="#1f958b"/><rect x="282.6" width="20.8" height="20.8" fill="#20a386"/></g>
<g transform="translate(479.5,1101.5)"><rect x="0" width="20.8" height="20.8" fill="#cae11f"/><rect x="20.2" width="20.8" height="20.8" fill="#9bd93c"/><rect x="40.4" width="20.8" height="20.8" fill="#6ece58"/><rect x="60.6" width="20.8" height="20.8" fill="#1f978b"/><rect x="80.7" width="20.8" height="20.8" fill="#2fb47c"/><rect x="100.9" width="20.8" height="20.8" fill="#1f958b"/><rect x="121.1" width="20.8" height="20.8" fill="#2a788e"/><rect x="141.3" width="20.8" height="20.8" fill="#1f958b"/><rect x="161.5" width="20.8" height="20.8" fill="#26ad81"/><rect x="181.7" width="20.8" height="20.8" fill="#228b8d"/><rect x="201.9" width="20.8" height="20.8" fill="#1f958b"/><rect x="222.1" width="20.8" height="20.8" fill="#2a788e"/><rect x="242.2" width="20.8" height="20.8" fill="#1f958b"/><rect x="262.4" width="20.8" height="20.8" fill="#21918c"/><rect x="282.6" width="20.8" height="20.8" fill="#1e9c89"/></g>
</g>
<path d="M556.1,507C554.5,509.9 549.7,520.3 546.5,524.4C543.3,528.4 538.5,530.1 536.9,531.2M499.2,568.4 L490.9,593.1M490.9,757.2C492.9,753.5 498.7,742.6 502.5,734.7C506.2,726.8 509.4,718.6 513.5,709.9C517.6,701.2 522.7,691.6 527.2,682.4C531.8,673.3 535.9,664.1 541,654.9C546,645.8 552,636.2 557.5,627.5C563,618.8 568,610.3 574,602.7C579.9,595.2 586.8,588.1 593.2,582.1C599.6,576.1 605.6,570.9 612.5,567C619.3,563.1 630.8,560.1 634.5,558.7M668.8,557.4C672.7,558 685.1,559.4 692.2,561.5C699.3,563.5 705,565.6 711.4,569.7C717.8,573.8 724.9,581.2 730.7,586.2C736.4,591.3 741.2,596.3 745.8,600C750.4,603.6 755.1,603.6 758.2,608.2C761.2,612.8 764.7,621 764.2,627.5C763.8,633.9 757.6,639.8 755.4,646.7C753.3,653.6 750.8,661.8 751.3,668.7C751.7,675.6 755.9,681.3 758.2,687.9C760.5,694.6 763.4,701.2 765,708.6C766.6,715.9 767.2,725.5 767.8,731.9C768.4,738.3 767.7,743.6 768.6,747C769.5,750.5 772.5,751.6 773.3,752.5M491.5,809.1C492.4,811.2 495.4,817.6 497,821.5C498.6,825.4 500.4,830.7 501.1,832.5M497.5,867.7 L491.5,886.9M773.3,881.4C772.1,882.9 766.4,886.5 766.4,890.2C766.4,894 772.1,901.7 773.3,904M490.9,909.5C494.2,911.8 504.2,916.8 510.7,923.2C517.2,929.6 523.6,940.6 530,948C536.4,955.3 542.4,961.2 549.2,967.2C556.1,973.2 563.9,978 571.2,983.7C578.6,989.4 585.9,996.8 593.2,1001.6C600.5,1006.4 611.5,1010.7 615.2,1012.6M648.2,1020.8C652.1,1021.4 664.2,1026 671.6,1024.4C678.9,1022.8 685.5,1014.9 692.2,1011.2C698.8,1007.5 704.6,1005.4 711.4,1002.4C718.3,999.4 728.7,998.7 733.4,993.3C738.1,987.9 738.3,977.5 739.5,969.9C740.6,962.4 738.1,956.7 740.3,948C742.5,939.2 747.2,923.4 752.7,917.7C758.2,912 769.8,914.3 773.3,913.6M490.9,1044.2C493.8,1045.3 502.9,1048.8 508,1051C513.1,1053.2 519.4,1056.3 521.7,1057.4M556.1,1089.5C557.5,1091.5 561.7,1097.7 564.3,1101.4C567,1105 570.5,1109.8 571.8,1111.5" fill="none" stroke="#fff" stroke-width="6.2" stroke-linecap="butt" stroke-linejoin="round"/>
<text font-size="26.6" fill="#fff" text-anchor="middle" transform="translate(516.2,544.4) rotate(-42)" y="9.7">100</text>
<text font-size="26.6" fill="#fff" text-anchor="middle" transform="translate(650.9,556) rotate(0)" y="9.7">60</text>
<text font-size="26.6" fill="#fff" text-anchor="middle" transform="translate(501.1,847.6) rotate(-85)" y="9.7">60</text>
<text font-size="26.6" fill="#fff" text-anchor="middle" transform="translate(633.1,1011.2) rotate(8)" y="9.7">60</text>
<text font-size="26.6" fill="#fff" text-anchor="middle" transform="translate(545.1,1068.9) rotate(38)" y="9.7">100</text>
<rect x="669.6" y="1105.2" width="101.4" height="10" fill="#fff" stroke="#000" stroke-width="1.2"/>
<rect x="480.6" y="497.6" width="302.8" height="624.1" fill="none" stroke="#000" stroke-width="4.2"/>
<g class="hc" shape-rendering="crispEdges">
<g transform="translate(794.2,495.9)"><rect x="0" width="20.8" height="20.8" fill="#20a386"/><rect x="20.2" width="20.8" height="20.8" fill="#1e9c89"/><rect x="40.3" width="20.8" height="20.8" fill="#21918c"/><rect x="60.5" width="20.8" height="20.8" fill="#1f978b"/><rect x="80.7" width="20.8" height="20.8" fill="#2d718e"/><rect x="100.9" width="20.8" height="20.8" fill="#23898e"/><rect x="121" width="40.9" height="20.8" fill="#2a788e"/><rect x="161.4" width="20.8" height="20.8" fill="#375a8c"/><rect x="181.5" width="20.8" height="20.8" fill="#2c738e"/><rect x="201.7" width="20.8" height="20.8" fill="#32648e"/><rect x="221.9" width="20.8" height="20.8" fill="#31678e"/><rect x="242" width="20.8" height="20.8" fill="#27808e"/><rect x="262.2" width="20.8" height="20.8" fill="#287d8e"/><rect x="282.4" width="20.8" height="20.8" fill="#31678e"/></g>
<g transform="translate(794.2,516.1)"><rect x="0" width="20.8" height="20.8" fill="#26ad81"/><rect x="20.2" width="20.8" height="20.8" fill="#1e9c89"/><rect x="40.3" width="20.8" height="20.8" fill="#27808e"/><rect x="60.5" width="20.8" height="20.8" fill="#25848e"/><rect x="80.7" width="20.8" height="20.8" fill="#2a788e"/><rect x="100.9" width="20.8" height="20.8" fill="#31678e"/><rect x="121" width="20.8" height="20.8" fill="#228b8d"/><rect x="141.2" width="20.8" height="20.8" fill="#443a83"/><rect x="161.4" width="20.8" height="20.8" fill="#2c738e"/><rect x="181.5" width="20.8" height="20.8" fill="#228b8d"/><rect x="201.7" width="20.8" height="20.8" fill="#433e85"/><rect x="221.9" width="20.8" height="20.8" fill="#2f6c8e"/><rect x="242" width="20.8" height="20.8" fill="#2d718e"/><rect x="262.2" width="20.8" height="20.8" fill="#287d8e"/><rect x="282.4" width="20.8" height="20.8" fill="#1f958b"/></g>
<g transform="translate(794.2,536.2)"><rect x="0" width="20.8" height="20.8" fill="#287d8e"/><rect x="20.2" width="20.8" height="20.8" fill="#1f958b"/><rect x="40.3" width="20.8" height="20.8" fill="#23898e"/><rect x="60.5" width="20.8" height="20.8" fill="#2c738e"/><rect x="80.7" width="20.8" height="20.8" fill="#2a788e"/><rect x="100.9" width="40.9" height="20.8" fill="#3e4c8a"/><rect x="141.2" width="40.9" height="20.8" fill="#2a788e"/><rect x="181.5" width="40.9" height="20.8" fill="#32648e"/><rect x="221.9" width="20.8" height="20.8" fill="#375a8c"/><rect x="242" width="20.8" height="20.8" fill="#2f6c8e"/><rect x="262.2" width="20.8" height="20.8" fill="#2d718e"/><rect x="282.4" width="20.8" height="20.8" fill="#21918c"/></g>
<g transform="translate(794.2,556.4)"><rect x="0" width="20.8" height="20.8" fill="#1f958b"/><rect x="20.2" width="20.8" height="20.8" fill="#1e9c89"/><rect x="40.3" width="20.8" height="20.8" fill="#1f958b"/><rect x="60.5" width="20.8" height="20.8" fill="#2f6c8e"/><rect x="80.7" width="20.8" height="20.8" fill="#287d8e"/><rect x="100.9" width="20.8" height="20.8" fill="#443a83"/><rect x="121" width="20.8" height="20.8" fill="#27808e"/><rect x="141.2" width="20.8" height="20.8" fill="#31678e"/><rect x="161.4" width="20.8" height="20.8" fill="#375a8c"/><rect x="181.5" width="20.8" height="20.8" fill="#2f6c8e"/><rect x="201.7" width="20.8" height="20.8" fill="#355f8d"/><rect x="221.9" width="20.8" height="20.8" fill="#2f6c8e"/><rect x="242" width="20.8" height="20.8" fill="#2d718e"/><rect x="262.2" width="20.8" height="20.8" fill="#2c738e"/><rect x="282.4" width="20.8" height="20.8" fill="#287d8e"/></g>
<g transform="translate(794.2,576.6)"><rect x="0" width="20.8" height="20.8" fill="#25848e"/><rect x="20.2" width="20.8" height="20.8" fill="#2f6c8e"/><rect x="40.3" width="20.8" height="20.8" fill="#2d718e"/><rect x="60.5" width="20.8" height="20.8" fill="#38588c"/><rect x="80.7" width="20.8" height="20.8" fill="#375a8c"/><rect x="100.9" width="20.8" height="20.8" fill="#31678e"/><rect x="121" width="20.8" height="20.8" fill="#482475"/><rect x="141.2" width="20.8" height="20.8" fill="#414487"/><rect x="161.4" width="20.8" height="20.8" fill="#3b528b"/><rect x="181.5" width="20.8" height="20.8" fill="#3e4989"/><rect x="201.7" width="20.8" height="20.8" fill="#38588c"/><rect x="221.9" width="20.8" height="20.8" fill="#414487"/><rect x="242" width="20.8" height="20.8" fill="#375a8c"/><rect x="262.2" width="20.8" height="20.8" fill="#2c738e"/><rect x="282.4" width="20.8" height="20.8" fill="#287d8e"/></g>
<g transform="translate(794.2,596.8)"><rect x="0" width="20.8" height="20.8" fill="#25848e"/><rect x="20.2" width="40.9" height="20.8" fill="#2c738e"/><rect x="60.5" width="20.8" height="20.8" fill="#355f8d"/><rect x="80.7" width="20.8" height="20.8" fill="#3b528b"/><rect x="100.9" width="20.8" height="20.8" fill="#472a7a"/><rect x="121" width="20.8" height="20.8" fill="#414487"/><rect x="141.2" width="20.8" height="20.8" fill="#3e4c8a"/><rect x="161.4" width="40.9" height="20.8" fill="#3e4989"/><rect x="201.7" width="20.8" height="20.8" fill="#375a8c"/><rect x="221.9" width="40.9" height="20.8" fill="#38588c"/><rect x="262.2" width="20.8" height="20.8" fill="#2a788e"/><rect x="282.4" width="20.8" height="20.8" fill="#25848e"/></g>
<g transform="translate(794.2,616.9)"><rect x="0" width="20.8" height="20.8" fill="#27808e"/><rect x="20.2" width="20.8" height="20.8" fill="#2f6c8e"/><rect x="40.3" width="20.8" height="20.8" fill="#25848e"/><rect x="60.5" width="20.8" height="20.8" fill="#2a788e"/><rect x="80.7" width="20.8" height="20.8" fill="#433e85"/><rect x="100.9" width="20.8" height="20.8" fill="#3e4c8a"/><rect x="121" width="20.8" height="20.8" fill="#3e4989"/><rect x="141.2" width="20.8" height="20.8" fill="#472a7a"/><rect x="161.4" width="20.8" height="20.8" fill="#3e4c8a"/><rect x="181.5" width="20.8" height="20.8" fill="#463480"/><rect x="201.7" width="20.8" height="20.8" fill="#433e85"/><rect x="221.9" width="40.9" height="20.8" fill="#38588c"/><rect x="262.2" width="20.8" height="20.8" fill="#27808e"/><rect x="282.4" width="20.8" height="20.8" fill="#2a788e"/></g>
<g transform="translate(794.2,637.1)"><rect x="0" width="40.9" height="20.8" fill="#2d718e"/><rect x="40.3" width="20.8" height="20.8" fill="#472e7c"/><rect x="60.5" width="20.8" height="20.8" fill="#31678e"/><rect x="80.7" width="20.8" height="20.8" fill="#414487"/><rect x="100.9" width="20.8" height="20.8" fill="#482475"/><rect x="121" width="40.9" height="20.8" fill="#433e85"/><rect x="161.4" width="20.8" height="20.8" fill="#443a83"/><rect x="181.5" width="20.8" height="20.8" fill="#482475"/><rect x="201.7" width="20.8" height="20.8" fill="#414487"/><rect x="221.9" width="20.8" height="20.8" fill="#3e4c8a"/><rect x="242" width="20.8" height="20.8" fill="#443a83"/><rect x="262.2" width="20.8" height="20.8" fill="#463480"/><rect x="282.4" width="20.8" height="20.8" fill="#25848e"/></g>
<g transform="translate(794.2,657.3)"><rect x="0" width="20.8" height="20.8" fill="#287d8e"/><rect x="20.2" width="20.8" height="20.8" fill="#2c738e"/><rect x="40.3" width="20.8" height="20.8" fill="#2d718e"/><rect x="60.5" width="20.8" height="20.8" fill="#38588c"/><rect x="80.7" width="20.8" height="20.8" fill="#414487"/><rect x="100.9" width="20.8" height="20.8" fill="#3b528b"/><rect x="121" width="40.9" height="20.8" fill="#433e85"/><rect x="161.4" width="40.9" height="20.8" fill="#443a83"/><rect x="201.7" width="20.8" height="20.8" fill="#38588c"/><rect x="221.9" width="20.8" height="20.8" fill="#414487"/><rect x="242" width="20.8" height="20.8" fill="#2f6c8e"/><rect x="262.2" width="20.8" height="20.8" fill="#32648e"/><rect x="282.4" width="20.8" height="20.8" fill="#2f6c8e"/></g>
<g transform="translate(794.2,677.4)"><rect x="0" width="20.8" height="20.8" fill="#2d718e"/><rect x="20.2" width="20.8" height="20.8" fill="#25848e"/><rect x="40.3" width="20.8" height="20.8" fill="#32648e"/><rect x="60.5" width="20.8" height="20.8" fill="#3b528b"/><rect x="80.7" width="20.8" height="20.8" fill="#3e4c8a"/><rect x="100.9" width="20.8" height="20.8" fill="#472e7c"/><rect x="121" width="20.8" height="20.8" fill="#414487"/><rect x="141.2" width="20.8" height="20.8" fill="#3e4989"/><rect x="161.4" width="20.8" height="20.8" fill="#3e4c8a"/><rect x="181.5" width="20.8" height="20.8" fill="#472a7a"/><rect x="201.7" width="20.8" height="20.8" fill="#443a83"/><rect x="221.9" width="20.8" height="20.8" fill="#414487"/><rect x="242" width="20.8" height="20.8" fill="#375a8c"/><rect x="262.2" width="20.8" height="20.8" fill="#2a788e"/><rect x="282.4" width="20.8" height="20.8" fill="#287d8e"/></g>
<g transform="translate(794.2,697.6)"><rect x="0" width="20.8" height="20.8" fill="#287d8e"/><rect x="20.2" width="20.8" height="20.8" fill="#414487"/><rect x="40.3" width="20.8" height="20.8" fill="#355f8d"/><rect x="60.5" width="20.8" height="20.8" fill="#414487"/><rect x="80.7" width="20.8" height="20.8" fill="#38588c"/><rect x="100.9" width="40.9" height="20.8" fill="#463480"/><rect x="141.2" width="20.8" height="20.8" fill="#414487"/><rect x="161.4" width="20.8" height="20.8" fill="#472a7a"/><rect x="181.5" width="20.8" height="20.8" fill="#3e4989"/><rect x="201.7" width="20.8" height="20.8" fill="#414487"/><rect x="221.9" width="20.8" height="20.8" fill="#433e85"/><rect x="242" width="20.8" height="20.8" fill="#375a8c"/><rect x="262.2" width="20.8" height="20.8" fill="#3b528b"/><rect x="282.4" width="20.8" height="20.8" fill="#2f6c8e"/></g>
<g transform="translate(794.2,717.8)"><rect x="0" width="20.8" height="20.8" fill="#3e4c8a"/><rect x="20.2" width="20.8" height="20.8" fill="#375a8c"/><rect x="40.3" width="20.8" height="20.8" fill="#472e7c"/><rect x="60.5" width="20.8" height="20.8" fill="#3e4989"/><rect x="80.7" width="20.8" height="20.8" fill="#433e85"/><rect x="100.9" width="20.8" height="20.8" fill="#481d6f"/><rect x="121" width="20.8" height="20.8" fill="#443a83"/><rect x="141.2" width="20.8" height="20.8" fill="#38588c"/><rect x="161.4" width="20.8" height="20.8" fill="#481a6c"/><rect x="181.5" width="20.8" height="20.8" fill="#463480"/><rect x="201.7" width="20.8" height="20.8" fill="#481d6f"/><rect x="221.9" width="20.8" height="20.8" fill="#414487"/><rect x="242" width="20.8" height="20.8" fill="#287d8e"/><rect x="262.2" width="40.9" height="20.8" fill="#355f8d"/></g>
<g transform="translate(794.2,737.9)"><rect x="0" width="20.8" height="20.8" fill="#25848e"/><rect x="20.2" width="20.8" height="20.8" fill="#3b528b"/><rect x="40.3" width="20.8" height="20.8" fill="#414487"/><rect x="60.5" width="40.9" height="20.8" fill="#38588c"/><rect x="100.9" width="20.8" height="20.8" fill="#433e85"/><rect x="121" width="20.8" height="20.8" fill="#3e4989"/><rect x="141.2" width="20.8" height="20.8" fill="#463480"/><rect x="161.4" width="20.8" height="20.8" fill="#38588c"/><rect x="181.5" width="20.8" height="20.8" fill="#414487"/><rect x="201.7" width="20.8" height="20.8" fill="#463480"/><rect x="221.9" width="20.8" height="20.8" fill="#375a8c"/><rect x="242" width="20.8" height="20.8" fill="#3e4c8a"/><rect x="262.2" width="20.8" height="20.8" fill="#472e7c"/><rect x="282.4" width="20.8" height="20.8" fill="#25848e"/></g>
<g transform="translate(794.2,758.1)"><rect x="0" width="40.9" height="20.8" fill="#355f8d"/><rect x="40.3" width="20.8" height="20.8" fill="#3e4989"/><rect x="60.5" width="20.8" height="20.8" fill="#463480"/><rect x="80.7" width="20.8" height="20.8" fill="#433e85"/><rect x="100.9" width="20.8" height="20.8" fill="#481a6c"/><rect x="121" width="20.8" height="20.8" fill="#463480"/><rect x="141.2" width="20.8" height="20.8" fill="#443a83"/><rect x="161.4" width="20.8" height="20.8" fill="#471063"/><rect x="181.5" width="20.8" height="20.8" fill="#482475"/><rect x="201.7" width="20.8" height="20.8" fill="#463480"/><rect x="221.9" width="20.8" height="20.8" fill="#3e4989"/><rect x="242" width="20.8" height="20.8" fill="#375a8c"/><rect x="262.2" width="20.8" height="20.8" fill="#38588c"/><rect x="282.4" width="20.8" height="20.8" fill="#2a788e"/></g>
<g transform="translate(794.2,778.3)"><rect x="0" width="20.8" height="20.8" fill="#414487"/><rect x="20.2" width="20.8" height="20.8" fill="#2d718e"/><rect x="40.3" width="20.8" height="20.8" fill="#375a8c"/><rect x="60.5" width="20.8" height="20.8" fill="#414487"/><rect x="80.7" width="20.8" height="20.8" fill="#3e4c8a"/><rect x="100.9" width="20.8" height="20.8" fill="#443a83"/><rect x="121" width="20.8" height="20.8" fill="#472e7c"/><rect x="141.2" width="20.8" height="20.8" fill="#414487"/><rect x="161.4" width="20.8" height="20.8" fill="#3e4c8a"/><rect x="181.5" width="20.8" height="20.8" fill="#463480"/><rect x="201.7" width="20.8" height="20.8" fill="#375a8c"/><rect x="221.9" width="20.8" height="20.8" fill="#460b5e"/><rect x="242" width="20.8" height="20.8" fill="#414487"/><rect x="262.2" width="20.8" height="20.8" fill="#2f6c8e"/><rect x="282.4" width="20.8" height="20.8" fill="#25848e"/></g>
<g transform="translate(794.2,798.5)"><rect x="0" width="20.8" height="20.8" fill="#2d718e"/><rect x="20.2" width="20.8" height="20.8" fill="#375a8c"/><rect x="40.3" width="20.8" height="20.8" fill="#38588c"/><rect x="60.5" width="20.8" height="20.8" fill="#463480"/><rect x="80.7" width="20.8" height="20.8" fill="#481d6f"/><rect x="100.9" width="20.8" height="20.8" fill="#3e4989"/><rect x="121" width="20.8" height="20.8" fill="#463480"/><rect x="141.2" width="20.8" height="20.8" fill="#472e7c"/><rect x="161.4" width="20.8" height="20.8" fill="#443a83"/><rect x="181.5" width="20.8" height="20.8" fill="#463480"/><rect x="201.7" width="20.8" height="20.8" fill="#472a7a"/><rect x="221.9" width="20.8" height="20.8" fill="#3b528b"/><rect x="242" width="20.8" height="20.8" fill="#355f8d"/><rect x="262.2" width="20.8" height="20.8" fill="#2d718e"/><rect x="282.4" width="20.8" height="20.8" fill="#31678e"/></g>
<g transform="translate(794.2,818.6)"><rect x="0" width="20.8" height="20.8" fill="#355f8d"/><rect x="20.2" width="40.9" height="20.8" fill="#3e4c8a"/><rect x="60.5" width="20.8" height="20.8" fill="#3e4989"/><rect x="80.7" width="20.8" height="20.8" fill="#433e85"/><rect x="100.9" width="20.8" height="20.8" fill="#3e4989"/><rect x="121" width="20.8" height="20.8" fill="#481a6c"/><rect x="141.2" width="20.8" height="20.8" fill="#450457"/><rect x="161.4" width="20.8" height="20.8" fill="#482475"/><rect x="181.5" width="20.8" height="20.8" fill="#463480"/><rect x="201.7" width="20.8" height="20.8" fill="#3b528b"/><rect x="221.9" width="20.8" height="20.8" fill="#472e7c"/><rect x="242" width="40.9" height="20.8" fill="#38588c"/><rect x="282.4" width="20.8" height="20.8" fill="#355f8d"/></g>
<g transform="translate(794.2,838.8)"><rect x="0" width="40.9" height="20.8" fill="#31678e"/><rect x="40.3" width="40.9" height="20.8" fill="#3b528b"/><rect x="80.7" width="20.8" height="20.8" fill="#472e7c"/><rect x="100.9" width="20.8" height="20.8" fill="#482475"/><rect x="121" width="40.9" height="20.8" fill="#463480"/><rect x="161.4" width="20.8" height="20.8" fill="#482173"/><rect x="181.5" width="20.8" height="20.8" fill="#3e4989"/><rect x="201.7" width="20.8" height="20.8" fill="#3e4c8a"/><rect x="221.9" width="20.8" height="20.8" fill="#472e7c"/><rect x="242" width="20.8" height="20.8" fill="#3e4989"/><rect x="262.2" width="20.8" height="20.8" fill="#3e4c8a"/><rect x="282.4" width="20.8" height="20.8" fill="#355f8d"/></g>
<g transform="translate(794.2,859)"><rect x="0" width="20.8" height="20.8" fill="#2f6c8e"/><rect x="20.2" width="20.8" height="20.8" fill="#287d8e"/><rect x="40.3" width="20.8" height="20.8" fill="#38588c"/><rect x="60.5" width="20.8" height="20.8" fill="#3b528b"/><rect x="80.7" width="20.8" height="20.8" fill="#481d6f"/><rect x="100.9" width="20.8" height="20.8" fill="#463480"/><rect x="121" width="20.8" height="20.8" fill="#472e7c"/><rect x="141.2" width="20.8" height="20.8" fill="#481d6f"/><rect x="161.4" width="20.8" height="20.8" fill="#414487"/><rect x="181.5" width="40.9" height="20.8" fill="#482173"/><rect x="221.9" width="20.8" height="20.8" fill="#3e4989"/><rect x="242" width="20.8" height="20.8" fill="#38588c"/><rect x="262.2" width="20.8" height="20.8" fill="#2c738e"/><rect x="282.4" width="20.8" height="20.8" fill="#25848e"/></g>
<g transform="translate(794.2,879.1)"><rect x="0" width="20.8" height="20.8" fill="#32648e"/><rect x="20.2" width="20.8" height="20.8" fill="#2f6c8e"/><rect x="40.3" width="20.8" height="20.8" fill="#38588c"/><rect x="60.5" width="20.8" height="20.8" fill="#3e4989"/><rect x="80.7" width="20.8" height="20.8" fill="#472e7c"/><rect x="100.9" width="20.8" height="20.8" fill="#481a6c"/><rect x="121" width="20.8" height="20.8" fill="#482475"/><rect x="141.2" width="20.8" height="20.8" fill="#481a6c"/><rect x="161.4" width="20.8" height="20.8" fill="#375a8c"/><rect x="181.5" width="20.8" height="20.8" fill="#433e85"/><rect x="201.7" width="20.8" height="20.8" fill="#3e4989"/><rect x="221.9" width="40.9" height="20.8" fill="#355f8d"/><rect x="262.2" width="20.8" height="20.8" fill="#375a8c"/><rect x="282.4" width="20.8" height="20.8" fill="#287d8e"/></g>
<g transform="translate(794.2,899.3)"><rect x="0" width="20.8" height="20.8" fill="#32648e"/><rect x="20.2" width="20.8" height="20.8" fill="#38588c"/><rect x="40.3" width="20.8" height="20.8" fill="#3b528b"/><rect x="60.5" width="20.8" height="20.8" fill="#32648e"/><rect x="80.7" width="20.8" height="20.8" fill="#3e4c8a"/><rect x="100.9" width="20.8" height="20.8" fill="#3e4989"/><rect x="121" width="20.8" height="20.8" fill="#463480"/><rect x="141.2" width="20.8" height="20.8" fill="#433e85"/><rect x="161.4" width="20.8" height="20.8" fill="#472e7c"/><rect x="181.5" width="20.8" height="20.8" fill="#3b528b"/><rect x="201.7" width="20.8" height="20.8" fill="#3e4c8a"/><rect x="221.9" width="20.8" height="20.8" fill="#32648e"/><rect x="242" width="20.8" height="20.8" fill="#2d718e"/><rect x="262.2" width="20.8" height="20.8" fill="#27808e"/><rect x="282.4" width="20.8" height="20.8" fill="#23898e"/></g>
<g transform="translate(794.2,919.5)"><rect x="0" width="20.8" height="20.8" fill="#38588c"/><rect x="20.2" width="20.8" height="20.8" fill="#3b528b"/><rect x="40.3" width="20.8" height="20.8" fill="#32648e"/><rect x="60.5" width="20.8" height="20.8" fill="#443a83"/><rect x="80.7" width="20.8" height="20.8" fill="#414487"/><rect x="100.9" width="20.8" height="20.8" fill="#472e7c"/><rect x="121" width="20.8" height="20.8" fill="#463480"/><rect x="141.2" width="20.8" height="20.8" fill="#355f8d"/><rect x="161.4" width="20.8" height="20.8" fill="#443a83"/><rect x="181.5" width="20.8" height="20.8" fill="#3b528b"/><rect x="201.7" width="20.8" height="20.8" fill="#443a83"/><rect x="221.9" width="20.8" height="20.8" fill="#414487"/><rect x="242" width="20.8" height="20.8" fill="#2d718e"/><rect x="262.2" width="20.8" height="20.8" fill="#355f8d"/><rect x="282.4" width="20.8" height="20.8" fill="#287d8e"/></g>
<g transform="translate(794.2,939.6)"><rect x="0" width="20.8" height="20.8" fill="#2c738e"/><rect x="20.2" width="20.8" height="20.8" fill="#25848e"/><rect x="40.3" width="20.8" height="20.8" fill="#38588c"/><rect x="60.5" width="20.8" height="20.8" fill="#472e7c"/><rect x="80.7" width="20.8" height="20.8" fill="#443a83"/><rect x="100.9" width="20.8" height="20.8" fill="#433e85"/><rect x="121" width="20.8" height="20.8" fill="#481a6c"/><rect x="141.2" width="20.8" height="20.8" fill="#3e4989"/><rect x="161.4" width="20.8" height="20.8" fill="#375a8c"/><rect x="181.5" width="20.8" height="20.8" fill="#414487"/><rect x="201.7" width="20.8" height="20.8" fill="#2d718e"/><rect x="221.9" width="20.8" height="20.8" fill="#32648e"/><rect x="242" width="20.8" height="20.8" fill="#3b528b"/><rect x="262.2" width="20.8" height="20.8" fill="#2d718e"/><rect x="282.4" width="20.8" height="20.8" fill="#287d8e"/></g>
<g transform="translate(794.2,959.8)"><rect x="0" width="20.8" height="20.8" fill="#1e9c89"/><rect x="20.2" width="20.8" height="20.8" fill="#3b528b"/><rect x="40.3" width="20.8" height="20.8" fill="#3e4989"/><rect x="60.5" width="20.8" height="20.8" fill="#31678e"/><rect x="80.7" width="20.8" height="20.8" fill="#355f8d"/><rect x="100.9" width="20.8" height="20.8" fill="#2f6c8e"/><rect x="121" width="20.8" height="20.8" fill="#375a8c"/><rect x="141.2" width="20.8" height="20.8" fill="#482475"/><rect x="161.4" width="20.8" height="20.8" fill="#433e85"/><rect x="181.5" width="20.8" height="20.8" fill="#32648e"/><rect x="201.7" width="20.8" height="20.8" fill="#482475"/><rect x="221.9" width="20.8" height="20.8" fill="#375a8c"/><rect x="242" width="20.8" height="20.8" fill="#2f6c8e"/><rect x="262.2" width="20.8" height="20.8" fill="#287d8e"/><rect x="282.4" width="20.8" height="20.8" fill="#23898e"/></g>
<g transform="translate(794.2,980)"><rect x="0" width="20.8" height="20.8" fill="#375a8c"/><rect x="20.2" width="20.8" height="20.8" fill="#2c738e"/><rect x="40.3" width="20.8" height="20.8" fill="#375a8c"/><rect x="60.5" width="20.8" height="20.8" fill="#2c738e"/><rect x="80.7" width="20.8" height="20.8" fill="#2f6c8e"/><rect x="100.9" width="20.8" height="20.8" fill="#3b528b"/><rect x="121" width="20.8" height="20.8" fill="#414487"/><rect x="141.2" width="20.8" height="20.8" fill="#3b528b"/><rect x="161.4" width="20.8" height="20.8" fill="#463480"/><rect x="181.5" width="20.8" height="20.8" fill="#38588c"/><rect x="201.7" width="20.8" height="20.8" fill="#355f8d"/><rect x="221.9" width="20.8" height="20.8" fill="#32648e"/><rect x="242" width="20.8" height="20.8" fill="#2a788e"/><rect x="262.2" width="20.8" height="20.8" fill="#2d718e"/><rect x="282.4" width="20.8" height="20.8" fill="#25848e"/></g>
<g transform="translate(794.2,1000.2)"><rect x="0" width="20.8" height="20.8" fill="#287d8e"/><rect x="20.2" width="20.8" height="20.8" fill="#2d718e"/><rect x="40.3" width="20.8" height="20.8" fill="#2f6c8e"/><rect x="60.5" width="20.8" height="20.8" fill="#23898e"/><rect x="80.7" width="40.9" height="20.8" fill="#355f8d"/><rect x="121" width="20.8" height="20.8" fill="#472e7c"/><rect x="141.2" width="40.9" height="20.8" fill="#3e4989"/><rect x="181.5" width="20.8" height="20.8" fill="#375a8c"/><rect x="201.7" width="20.8" height="20.8" fill="#32648e"/><rect x="221.9" width="20.8" height="20.8" fill="#355f8d"/><rect x="242" width="20.8" height="20.8" fill="#2c738e"/><rect x="262.2" width="20.8" height="20.8" fill="#287d8e"/><rect x="282.4" width="20.8" height="20.8" fill="#23898e"/></g>
<g transform="translate(794.2,1020.3)"><rect x="0" width="20.8" height="20.8" fill="#25848e"/><rect x="20.2" width="20.8" height="20.8" fill="#228b8d"/><rect x="40.3" width="40.9" height="20.8" fill="#2f6c8e"/><rect x="80.7" width="20.8" height="20.8" fill="#3e4989"/><rect x="100.9" width="20.8" height="20.8" fill="#2f6c8e"/><rect x="121" width="20.8" height="20.8" fill="#3e4989"/><rect x="141.2" width="20.8" height="20.8" fill="#375a8c"/><rect x="161.4" width="20.8" height="20.8" fill="#3e4c8a"/><rect x="181.5" width="20.8" height="20.8" fill="#443a83"/><rect x="201.7" width="20.8" height="20.8" fill="#31678e"/><rect x="221.9" width="20.8" height="20.8" fill="#2f6c8e"/><rect x="242" width="20.8" height="20.8" fill="#2a788e"/><rect x="262.2" width="20.8" height="20.8" fill="#3e4989"/><rect x="282.4" width="20.8" height="20.8" fill="#23898e"/></g>
<g transform="translate(794.2,1040.5)"><rect x="0" width="20.8" height="20.8" fill="#2d718e"/><rect x="20.2" width="40.9" height="20.8" fill="#31678e"/><rect x="60.5" width="20.8" height="20.8" fill="#2c738e"/><rect x="80.7" width="20.8" height="20.8" fill="#414487"/><rect x="100.9" width="20.8" height="20.8" fill="#2f6c8e"/><rect x="121" width="20.8" height="20.8" fill="#3e4c8a"/><rect x="141.2" width="20.8" height="20.8" fill="#31678e"/><rect x="161.4" width="20.8" height="20.8" fill="#2a788e"/><rect x="181.5" width="20.8" height="20.8" fill="#3e4989"/><rect x="201.7" width="20.8" height="20.8" fill="#2d718e"/><rect x="221.9" width="20.8" height="20.8" fill="#2f6c8e"/><rect x="242" width="20.8" height="20.8" fill="#3e4989"/><rect x="262.2" width="20.8" height="20.8" fill="#2c738e"/><rect x="282.4" width="20.8" height="20.8" fill="#29af7f"/></g>
<g transform="translate(794.2,1060.7)"><rect x="0" width="20.8" height="20.8" fill="#1f958b"/><rect x="20.2" width="40.9" height="20.8" fill="#23898e"/><rect x="60.5" width="20.8" height="20.8" fill="#25848e"/><rect x="80.7" width="20.8" height="20.8" fill="#2c738e"/><rect x="100.9" width="20.8" height="20.8" fill="#25848e"/><rect x="121" width="40.9" height="20.8" fill="#2c738e"/><rect x="161.4" width="20.8" height="20.8" fill="#23898e"/><rect x="181.5" width="20.8" height="20.8" fill="#2d718e"/><rect x="201.7" width="20.8" height="20.8" fill="#287d8e"/><rect x="221.9" width="20.8" height="20.8" fill="#2a788e"/><rect x="242" width="20.8" height="20.8" fill="#21918c"/><rect x="262.2" width="20.8" height="20.8" fill="#2d718e"/><rect x="282.4" width="20.8" height="20.8" fill="#21918c"/></g>
<g transform="translate(794.2,1080.8)"><rect x="0" width="20.8" height="20.8" fill="#2c738e"/><rect x="20.2" width="20.8" height="20.8" fill="#21918c"/><rect x="40.3" width="20.8" height="20.8" fill="#228b8d"/><rect x="60.5" width="20.8" height="20.8" fill="#27808e"/><rect x="80.7" width="20.8" height="20.8" fill="#3e4989"/><rect x="100.9" width="20.8" height="20.8" fill="#32648e"/><rect x="121" width="20.8" height="20.8" fill="#287d8e"/><rect x="141.2" width="20.8" height="20.8" fill="#2c738e"/><rect x="161.4" width="20.8" height="20.8" fill="#32648e"/><rect x="181.5" width="20.8" height="20.8" fill="#2a788e"/><rect x="201.7" width="20.8" height="20.8" fill="#2f6c8e"/><rect x="221.9" width="20.8" height="20.8" fill="#287d8e"/><rect x="242" width="20.8" height="20.8" fill="#2c738e"/><rect x="262.2" width="20.8" height="20.8" fill="#21918c"/><rect x="282.4" width="20.8" height="20.8" fill="#1f958b"/></g>
<g transform="translate(794.2,1101)"><rect x="0" width="20.8" height="20.8" fill="#1e9c89"/><rect x="20.2" width="20.8" height="20.8" fill="#25848e"/><rect x="40.3" width="20.8" height="20.8" fill="#1e9c89"/><rect x="60.5" width="20.8" height="20.8" fill="#31678e"/><rect x="80.7" width="40.9" height="20.8" fill="#2a788e"/><rect x="121" width="20.8" height="20.8" fill="#38588c"/><rect x="141.2" width="20.8" height="20.8" fill="#27808e"/><rect x="161.4" width="20.8" height="20.8" fill="#21918c"/><rect x="181.5" width="20.8" height="20.8" fill="#27808e"/><rect x="201.7" width="20.8" height="20.8" fill="#2a788e"/><rect x="221.9" width="20.8" height="20.8" fill="#1e9c89"/><rect x="242" width="40.9" height="20.8" fill="#228b8d"/><rect x="282.4" width="20.8" height="20.8" fill="#1e9c89"/></g>
</g>
<path d="M814.2,507 L805.9,521.6M886.8,505.9C884.8,508.8 879,517.9 875.2,523C871.5,528.1 867.5,532.2 864.2,536.7C860.9,541.3 856.9,548.2 855.4,550.5M831.2,586.2C828.9,588.3 821.7,595 817.5,598.6C813.3,602.2 807.9,606.2 805.9,607.7M1086.9,523C1086.4,523.7 1083.8,523.4 1083.6,527.1C1083.4,530.8 1084.8,541.3 1085.5,545C1086.3,548.6 1087.8,548.4 1088.3,549.1M846.4,832.5C845.7,830.7 843.2,826.1 842.2,821.5C841.2,816.9 840.8,809.8 840.3,805C839.9,800.2 840,798.2 839.5,792.4C839,786.6 838,777.7 837.3,770.4C836.6,763.1 835.4,755.5 835.4,748.4C835.4,741.3 834.3,734.7 837.3,727.8C840.3,720.9 849,713.8 853.2,707.2C857.5,700.5 860.8,693.9 862.9,687.9C864.9,682 864.5,676.9 865.6,671.4C866.7,665.9 867.7,661.4 869.7,654.9C871.8,648.5 875.2,640.3 878,633C880.7,625.6 883.2,616.5 886.2,611C889.2,605.5 892.2,603.6 895.8,600C899.5,596.3 902.9,591.8 908.2,589C913.5,586.1 920.6,583.6 927.5,582.9C934.3,582.2 942.6,583.9 949.5,584.8C956.3,585.8 961.8,586.8 968.7,588.4C975.6,590 984.3,592.1 990.7,594.5C997.1,596.8 1002.1,599.5 1007.2,602.7C1012.2,605.9 1017.3,610 1020.9,613.7C1024.6,617.4 1026.7,620.6 1029.2,624.7C1031.7,628.8 1034.3,634.6 1036,638.5C1037.8,642.3 1039.2,643.5 1039.6,648.1C1040.1,652.7 1039.2,659.3 1038.8,665.9C1038.4,672.6 1037.4,680.6 1037.4,687.9C1037.4,695.3 1038.3,703.5 1038.8,709.9C1039.3,716.3 1039.3,720.9 1040.2,726.4C1041.1,731.9 1042.9,736 1044.3,742.9C1045.7,749.8 1048,759.9 1048.4,767.7C1048.9,775.5 1047.7,783.4 1047,789.7C1046.4,795.9 1044.5,801.1 1044.3,805C1044.1,808.9 1044.8,809.1 1045.7,813.2C1046.6,817.4 1048.9,824 1049.8,829.7C1050.7,835.5 1053.2,841.7 1051.2,847.6C1049.1,853.6 1042.5,858.8 1037.4,865.5C1032.4,872.1 1025.1,879.7 1020.9,887.5C1016.8,895.3 1014.7,904.9 1012.7,912.2C1010.6,919.5 1010.4,925.5 1008.6,931.5C1006.7,937.4 1003.1,941.5 1001.7,948C1000.3,954.4 1001.9,962.6 1000.3,969.9C998.7,977.3 995,985.1 992.1,991.9C989.1,998.8 986.8,1006.1 982.4,1011.2C978.1,1016.2 971.9,1019.8 965.9,1022.2C960,1024.6 953.3,1025.3 946.7,1025.5C940.1,1025.7 931.6,1026.4 926.1,1023.6C920.6,1020.7 916.9,1014.2 913.7,1008.4C910.5,1002.7 911,995.6 906.8,989.2C902.7,982.8 895.6,974.5 889,969.9C882.3,965.4 872.2,965.4 867,961.7C861.7,958 859.6,953.9 857.4,948C855.2,942 854.4,934.7 853.8,926C853.2,917.3 853.8,905.6 853.8,895.7C853.8,885.9 853.8,871.7 853.8,866.9M805.9,1057.4C808.1,1058.5 814.7,1061.8 818.9,1064C823.1,1066.1 829.2,1069.2 831.2,1070.3M856,1090.9 L861.5,1110.7M1003.1,1105.2C1006,1102.8 1015.4,1094.9 1020.9,1090.9C1026.4,1086.9 1033.5,1082.9 1036,1081.3M1060.8,1056.5C1061.9,1055.2 1065.1,1053.1 1067.7,1048.3C1070.2,1043.5 1072.6,1035.9 1075.9,1027.7C1079.2,1019.4 1085.5,1003.6 1087.5,998.8" fill="none" stroke="#fff" stroke-width="6.2" stroke-linecap="butt" stroke-linejoin="round"/>
<text font-size="26.6" fill="#fff" text-anchor="middle" transform="translate(842.8,565.6) rotate(-50)" y="9.7">80</text>
<text font-size="26.6" fill="#fff" text-anchor="middle" transform="translate(853.8,847.6) rotate(75)" y="9.7">60</text>
<text font-size="26.6" fill="#fff" text-anchor="middle" transform="translate(847.2,1074.4) rotate(40)" y="9.7">80</text>
<text font-size="26.6" fill="#fff" text-anchor="middle" transform="translate(1044.3,1064.8) rotate(-45)" y="9.7">80</text>
<rect x="984.5" y="1105.2" width="101.5" height="10" fill="#fff" stroke="#000" stroke-width="1.2"/>
<rect x="795.4" y="497.6" width="302.6" height="624.1" fill="none" stroke="#000" stroke-width="4.2"/>
<text x="317.2" y="57" font-size="36.3" text-anchor="middle" fill="#000">CRB</text>
<text x="632" y="57" font-size="36.3" text-anchor="middle" fill="#000">MLE</text>
<text x="946.6" y="57" font-size="36.3" text-anchor="middle" fill="#000">CE</text>
<text x="317.2" y="495" font-size="36.3" text-anchor="middle" fill="#000">CRB</text>
<text x="632" y="487" font-size="36.3" text-anchor="middle" fill="#000">MLE</text>
<text x="945.6" y="487" font-size="36.3" text-anchor="middle" fill="#000">NDE</text>
<text x="165.5" y="40" font-size="47" text-anchor="start" fill="#000" letter-spacing="1.6">a)</text>
<text x="481" y="39.5" font-size="47" text-anchor="start" fill="#000" letter-spacing="1.6">b)</text>
<text x="796" y="39.5" font-size="47" text-anchor="start" fill="#000" letter-spacing="1.6">c)</text>
<text x="165.5" y="478.8" font-size="47" text-anchor="start" fill="#000" letter-spacing="1.6">d)</text>
<text x="481" y="479" font-size="47" text-anchor="start" fill="#000" letter-spacing="1.6">e)</text>
<text x="796" y="479" font-size="47" text-anchor="start" fill="#000" letter-spacing="1.6">f)</text>
<text x="1156.5" y="39" font-size="47" text-anchor="start" fill="#000" letter-spacing="1.6">g)</text>
<text x="1155.2" y="690.4" font-size="47" text-anchor="start" fill="#000" letter-spacing="1.6">h)</text>
<path d="M144.2,400V342.5" stroke="#000" stroke-width="2" fill="none"/>
<path d="M144.2,333.5l-7.6,12.8h15.2z" fill="#000"/>
<path d="M137,392H194" stroke="#000" stroke-width="2" fill="none"/>
<path d="M203,392l-12.8,-7.6v15.2z" fill="#000"/>
<text x="131" y="323" font-size="33.5" font-style="italic">y<tspan font-size="22.5" dy="14" font-style="normal">e</tspan></text>
<text x="206.5" y="402.2" font-size="34.5" font-style="italic">x<tspan font-size="22.5" dy="12.5" font-style="normal">e</tspan></text>
<path d="M144.2,1138.8V1081.8" stroke="#000" stroke-width="2" fill="none"/>
<path d="M144.2,1072.8l-7.6,12.8h15.2z" fill="#000"/>
<path d="M137,1130.8H194" stroke="#000" stroke-width="2" fill="none"/>
<path d="M203,1130.8l-12.8,-7.6v15.2z" fill="#000"/>
<text x="129.5" y="1061.5" font-size="35.5" font-style="italic">z<tspan font-size="22.5" dy="11.5" font-style="normal">e</tspan></text>
<text x="206.5" y="1141.2" font-size="34.5" font-style="italic">x<tspan font-size="22.5" dy="12.5" font-style="normal">e</tspan></text>
<polygon points="1230.3,517.2 1416.5,380.3 1414.2,67.9 1218.9,182.2" fill="#f8f8f8"/>
<polygon points="1416.5,380.3 1716,456.7 1727.4,131.1 1414.2,67.9" fill="#f1f1f1"/>
<polygon points="1230.3,517.2 1547.5,608.4 1716,456.7 1416.5,380.3" fill="#f5f5f5"/>
<path d="M1604.4,511.7l3-2.7 2.6-2.8 2.4-2.8 2.1-2.9 1.8-3 1.6-2.9 1.2-3 1-3 0.6-3 0.4-3 0-3 -0.2-3 -0.5-3 -0.8-3 -1.1-2.9 -1.4-2.9 -1.6-2.9 -1.9-2.8 -2.2-2.8 -2.4-2.8 -2.7-2.7 -3-2.6 -3.1-2.5 -3.4-2.5 -3.7-2.4 -3.8-2.3 -4.1-2.3 -4.3-2.1 -4.4-2.1 -4.6-2 -4.9-1.8 -4.9-1.8 -5.2-1.7 -5.2-1.5 -5.5-1.5 -5.5-1.3 -5.6-1.2 -5.8-1.1 -5.8-1 -6-0.9 -6-0.7 -6-0.7 -6.1-0.5 -6.2-0.3 -6.2-0.3 -6.2-0.1 -6.2,0 -6.2,0.1 -6.1,0.2 -6.2,0.4 -6.1,0.5 -6.1,0.6 -6,0.7 -5.9,0.9 -5.8,0.9 -5.8,1.1 -5.6,1.2 -5.6,1.3 -5.4,1.5 -5.3,1.5 -5.1,1.7 -5,1.7 -4.8,1.9 -4.7,1.9 -4.4,2.1 -4.3,2.1 -4.1,2.2 -3.9,2.3 -3.6,2.4 -3.4,2.5 -3.2,2.5 -3,2.6 -2.7,2.7 -2.4,2.7 -2.2,2.8 -2,2.8 -1.6,2.9 -1.4,2.9 -1.1,3 -0.8,2.9 -0.6,3 -0.2,3 0,3 0.3,3 0.6,3 1,3 1.2,3 1.5,2.9 1.7,3 2.1,2.9 2.4,2.8 2.6,2.8 2.9,2.7 3.2,2.7 3.5,2.7 3.7,2.5 4,2.5 4.2,2.3 4.5,2.3 4.6,2.2 5,2.1 5.1,2 5.3,1.9 5.5,1.8 5.7,1.6 5.8,1.5 6,1.4 6.1,1.3 6.3,1.1 6.4,1 6.4,0.9 6.6,0.7 6.6,0.6 6.7,0.4 6.7,0.3 6.7,0.1 6.7,0 6.7-0.1 6.7-0.4 6.7-0.4 6.6-0.6 6.5-0.7 6.5-0.9 6.3-1 6.3-1.2 6.1-1.3 5.9-1.4 5.8-1.5 5.7-1.7 5.5-1.8 5.2-1.9 5.1-2 4.9-2.1 4.6-2.2 4.4-2.3 4.2-2.4 3.9-2.5 3.7-2.6 3.4-2.6 3.1-2.7 2.9-2.7 2.6-2.8 2.3-2.9 2-2.9 1.7-2.9 1.4-3 1.2-3 0.8-3 0.6-3 0.2-3 0-3 -0.3-3 -0.7-3 -0.9-2.9 -1.1-3 -1.5-2.9 -1.7-2.9 -2-2.8 -2.3-2.8 -2.5-2.7 -2.8-2.6 -3-2.6 -3.2-2.6 -3.5-2.4 -3.7-2.4 -4-2.3 -4.1-2.2 -4.3-2.1 -4.5-2.1 -4.7-1.9 -4.9-1.8 -5-1.8 -5.2-1.6 -5.3-1.5 -5.5-1.4 -5.6-1.3 -5.6-1.2 -5.8-1.1 -5.9-0.9 -6-0.8 -6-0.7 -6.1-0.6 -6.1-0.5 -6.1-0.3 -6.2-0.3 -6.2,0 -6.2,0 -6.2,0.1 -6.2,0.3 -6.1,0.4 -6.1,0.6 -6.1,0.6 -5.9,0.8 -5.9,0.9 -5.9,1 -5.7,1.1 -5.6,1.3 -5.5,1.3 -5.4,1.5 -5.2,1.6 -5.1,1.6 -4.9,1.8 -4.8,1.9 -4.6,2 -4.4,2.1 -4.2,2.1 -4,2.3 -3.8,2.3 -3.6,2.4 -3.3,2.5 -3.1,2.6 -2.9,2.6 -2.6,2.7 -2.4,2.8 -2.1,2.8 -1.8,2.8 -1.6,2.9 -1.3,2.9 -1,2.9 -0.8,3 -0.4,3 -0.2,3 0.2,3 0.4,3 0.7,3 1,3 1.3,3 1.6,2.9 1.9,2.9 2.2,2.9 2.4,2.8 2.8,2.8 3,2.8 3.3,2.6 3.5,2.6 3.8,2.5 4.1,2.5 4.3,2.3 4.5,2.3 4.8,2.1 4.9,2.1 5.2,2 5.4,1.8 5.6,1.7 5.7,1.6 5.9,1.5 6,1.4 6.2,1.2 6.3,1.1 6.4,0.9 6.5,0.8 6.6,0.7 6.6,0.5 6.7,0.4 6.7,0.2 6.7,0.1 6.8,0 6.7-0.2 6.7-0.4 6.6-0.5 6.6-0.6 6.5-0.8 6.4-0.9 6.3-1.1 6.2-1.2 6.1-1.3 5.9-1.5 5.7-1.6 5.6-1.7 5.4-1.8 5.2-1.9 5.1-2.1 4.7-2.1 4.6-2.3 4.3-2.3 4.1-2.4 3.9-2.5 3.5-2.6 3.4-2.7 3-2.7 2.8-2.8 2.5-2.8 2.2-2.9 1.9-2.9 1.6-2.9 1.3-3 1.1-3 0.7-3 0.5-3 0.1-3 -0.1-3 -0.4-3 -0.7-3 -1-2.9 -1.3-3 -1.5-2.8 -1.9-2.9 -2-2.8 -2.4-2.8 -2.6-2.7 -2.9-2.6 -3.1-2.6 -3.3-2.5 -3.5-2.4 -3.8-2.4 -4-2.2 -4.2-2.2 -4.4-2.1 -4.6-2 -4.7-1.9 -5-1.8 -5-1.7 -5.3-1.6 -5.3-1.5 -5.5-1.4 -5.6-1.2 -5.8-1.2 -5.8-1 -5.9-0.9 -6-0.8 -6-0.7 -6.1-0.5 -6.1-0.4 -6.2-0.3 -6.2-0.2 -6.2,0 -6.2,0 -6.2,0.2 -6.1,0.3 -6.2,0.5 -6,0.6 -6.1,0.7 -5.9,0.8 -5.9,0.9 -5.8,1 -5.7,1.2 -5.6,1.3 -5.4,1.4 -5.3,1.5 -5.2,1.6 -5.1,1.7 -4.8,1.8 -4.7,2 -4.6,2 -4.3,2.1 -4.2,2.2 -3.9,2.3 -3.7,2.3 -3.5,2.5 -3.3,2.5 -3,2.6 -2.8,2.6 -2.5,2.7 -2.3,2.8 -2,2.8 -1.8,2.9 -1.5,2.8 -1.2,3 -0.9,2.9 -0.6,3 -0.4,3 -0.1,3 0.3,3 0.5,3 0.8,3 1.1,3 1.4,3 1.7,2.9 2,2.9 2.3,2.9 2.5,2.8 2.8,2.7 3.1,2.7 3.4,2.7 3.6,2.6 3.9,2.4 4.2,2.5 4.3,2.3 4.7,2.2 4.8,2.1 5,2.1 5.3,1.9 5.4,1.8 5.7,1.7 5.7,1.5 6,1.5 6.1,1.3 6.2,1.2 6.3,1 6.5,0.9 6.5,0.8 6.6,0.6 6.6,0.5 6.7,0.3 6.7,0.2 6.8,0 6.7-0.1 6.7-0.2 6.7-0.4 6.6-0.6 6.6-0.7 6.4-0.8 6.4-1 6.3-1.1 6.1-1.2 6.1-1.4 5.8-1.5 5.7-1.6 5.6-1.8 5.3-1.8 5.1-2 5-2.1 4.7-2.2 4.5-2.2 4.2-2.4 4-2.5 3.8-2.5 3.5-2.6 3.2-2.7Z" fill="none" stroke="#a9a9a9" stroke-width="17.5" stroke-linejoin="round"/>
<path d="M1601.2,514.7l11.2-2.9 2-2.5 -7.8-2.2 -1.6,2.4 0.9-2 5.9,0.3 -0.1-3.2 6.5-1.7 -16.4,0.8 19.3,0.5 -10.8,0.7 6.3-1.7 -6.7,1.5 -0.2-1.4 7.1-2.1 -1,2.4 0.1-5.6 -2.7,2.3 5.7-1 -6.9-2.3 -3.1-1 10,0.6 -2.1-3.9 -0.5-6.3 -4.8,9.3 5.4-3.4 -4.1-0.6 -2.8,0.4 9.9-1.3 1.4,2.6 -2.9-3.7 1-4 -2.4,7.2 7-4.9 -4-2.4 0.7,3.1 5.8-3.1 -5.9-1.9 -4.2,0 8.8-2.6 -6.2,4.3 8.3-3.7 -12.6-1.8 0.9,1.7 1.2-2.8 -4.4-1.4 10.9-0.9 -3.6,4.4 -2.7-4.9 8.7,2.3 2-5.5 -7.2,4.5 3.9-5.4 -4.3,5.5 -5.4-7.6 7.3,2.5 0.9-1.7 -13.2-1.3 6.1,4.2 -1.9-2.3 10.8-5.2 -8.2,0.1 -1,1.9 5.3-3.8 -9.5,1.1 6.1,1 -4.6-0.6 7.8-4.7 -3.1-3.4 -0.1,6.9 0.3-3.8 -2.4-2.9 5.7-2 -8.2,8.9 7.7-5.1 -14.1-5.5 5.3,6.3 1.9-4.9 -3.5-0.9 -3.4-2.7 6.3,4.4 -9.4-5.4 5,3.4 5.3-2.2 -14.3-3.1 3.7,1.9 -7.5,0.2 13.1-4.8 3.5,1.8 0.9,0.4 -20.8-1.9 5.2,0.1 9.3-3.1 0.9,2.1 -9.5,1.2 -3.9-3.6 3.9,0.3 -3-0.3 -3.4,0.7 1.9-5.4 2.4,1.9 -3.1,0.8 -5.8,1.6 0.7-2.6 -4.2-2.8 4.5-1.4 3.5,3.7 -3.7-4.9 -8.6-0.1 8.9,4.2 -9.2,2.5 9.5-1.9 -10.7-2.2 -0.2-3.6 -4.2-2.6 13.3,0.6 1,3.5 -18.4-2 7.8-7 -0.6,4.7 -8.5-0.9 1.2,0.1 -4,1.5 5.7-3.6 2.1,1 -3-3.9 1.5,1.5 -7.5-1.5 2.8-0.4 -15.3-0.2 1.3,0.7 9.3,1.3 -10,0.3 6.3-1.2 -1.9-0.1 4.3-1.4 -5,0.3 -4.9,3.5 -1.6-5.3 -0.6-3.6 -9,5.7 2.2-2.1 -2.3-2.5 -2,2.8 2.3-1.2 1.5-1.1 -7.1,1.6 -4.2-5 6.6,1.4 -4,3.2 5.2-1.8 -1.1-2.8 -9.5,0.8 -0.3-1.5 10.6,2.3 -8.8,0 5.9-1.3 -1.6,1.2 -17.1-0.9 7.2-1.7 -0.3-0.8 -1.2,0 -5,2.5 -0.3-2.6 0.6-1.9 -11.2,0.1 6.3-0.5 -3.6-1 -1,3.3 -2.3-2.1 0.8,2.8 2.5-2.4 -6.4,1.5 -2.5,0.7 -1.2-1.3 -3.9-0.6 0.7-0.7 -2.7-0.6 -1.7,3.9 -1.9-1.4 3.3-1.3 -9.2-2.3 6.8,3 -2.3-6.5 -5.1,2.8 -2.1,2.7 -1.1-1.9 3.5-0.2 -7.5,0.9 -8.7,3.4 3.9-3.2 7.3,2.4 -1.8-5.2 -16.1,6.1 11.5-5 -12.1,1.6 15,1.6 -18.2-1.2 7.9,1.3 1.1-1.6 -12.3-0.1 8.1,0.2 -1.4,2.9 -4.5,0.2 -1.9-0.5 0.6,1.4 -3.8-1.4 2.8-2.4 -9.5,4.3 0.4,1.9 -4-4.6 9.9-1.1 -8.4-0.1 -3.3-0.9 4.4,1.9 -0.8,5.3 -2.4-2.2 -14.4,3.8 8.6-2.3 -3.2-3.3 -5.4,4.7 -1.8,1.4 -9.5-3.8 12.6,0.1 -4.1-2.8 3.5-2 -7.5,1.6 -8.9,5.7 -1,2.4 12.1-2.4 4.3-0.5 -15,3.5 6-0.5 -6.8-1.3 -6.9-2.3 6.6,2.9 1.6-0.6 -3.6-1.6 -0.7,3 1.5-0.6 -4.2-3.5 -11.3,5.3 3.8,1.8 2.7-2.5 1.5-2.3 0,5 4.2-0.5 -13.7,0.7 6.5-0.6 -4.1,3.6 1.1-2.3 -0.5,1.3 -7.1-1.1 5.9-0.2 3.4,2.5 -10.4,2.3 -3.3-3.9 -2.7,6.7 8.5-3.9 -0.4-3.8 -10.6,3.7 7.6,2.8 -13.8-1.7 8.2,1 -6.5,2.3 -3.1-2.9 6.6,5 -5.1-0.1 -5.8-2.2 5.8,2.9 -9.6,2.6 2.8-8.4 -1,5.6 -1.7,5.2 7.8-4.4 -5.8,2.2 -0.8,0 2.2,0.1 -7.9,2.9 -0.4,6.1 2.2-6 0.7,0.1 2.1-0.6 -12,2.2 1.9,0.1 10.3,1.8 -7.6,0.7 -3.2-0.2 3.2,0.4 -7.5,2.1 9.2-3.5 -11.2,4.5 5.8-0.2 -9.4-0.7 10.5,4.7 -5.1-3.9 -3.8-1.4 6.2,1.3 -3.5,2.2 -1.1,3.3 -2.6-3.3 -0.1,6.9 16.9,1.4 -19.8-5.8 6.3,2.5 -7.7,3.3 0.7,2 -0.5-7.8 -3.4,5.7 3.3,4.8 -1.4-0.7 9.9,0.2 -7.1-4.3 0.2,4.1 14.4,1.5 -18.4-1.6 -0.2,0.1 4.7,0.7 -3.9,3.4 5.3,0.4 -5.1,1.3 -4.6,0.2 7.3-0.7 6.1,6.5 -3.5-2.7 -19.6-2.2 12.9,2.4 -4.4,0.8 10.5-0.8 -6.1,1.8 8.8,3.2 -0.1-3.5 -12.4,9.8 1.8-3.7 -5.3,3.8 9-4.3 5.2,1 -2.6-0.6 -4.7,0.5 4,4.9 2.5-5.8 -4.9,3.3 -4.4,1.1 -1.2,2.8 4-2.5 -11.4,0 16.6,5.2 0-1.1 -3-0.3 2.8,4.4 3.3-4.2 -6,5.3 -12.2-2.5 13.8,0.5 3.1,2 4.9,2.2 0.1,2 -0.2-0.7 -12.3-1.2 -6.9,1.8 18.8-0.9 -6.6,3.7 6.7,0.2 -1.6-2.6 0.1,2.6 0.5-7 -2.2,11.6 -1.5-1.7 6.3-0.1 4.5-1.8 -6.2,3.3 -0.7,3.7 6.3-5.1 -1.6,6 1.6-1.2 -0.9-2.8 -3.7,3.8 11.5,3.1 -4.7-3.6 3.7,3.5 -0.5-1.1 -6.7,2.1 2.3-1.4 2,3.8 0.2,1.8 11.4-5.9 -10.8,1.1 5.1,0.4 -2,5.2 10.9,0.8 -16.7-3.9 9.8,6.6 2.1-4.8 1.8,4.5 -1.6-1.6 1.2,4.4 13.1-3.3 -4.8-0.4 0.4,1.5 -2.7,3.2 -2.8-1.6 11.6-1.6 -6.2,2.8 0-1.3 4.2,1.7 -3.1,3 12.7-3.9 -11.8,7 5.1-4.8 9.1,3.6 -4.9,3.3 7.7-3.4 -1.1-0.7 -3.1,0.6 -2.5,1.9 5.4-2.1 8.5,0.6 -4.8,1.3 -1.6-4.8 5.4,4.1 -5-1.1 10.1,1.1 -10.2,3.1 1.5,0 10.3-0.1 0.6,0.2 -3-3.7 11.2,4.1 5.1,4.3 -14.6-4.3 14.8,5.5 -9.9-2.6 2.1,0.8 6.5-2.2 -7.8,1.7 14.1,3.5 -0.7-1.8 -5.8,0.2 4.4,0.2 -9.2,3 13.6-3.8 5.5,3.3 -9-4.1 7.8,1.4 -1.8,5.9 16.9-8 -2.9,5.5 -6.5-2.1 -4.8,4.1 13.3-3.6 -2.5-0.4 -0.2,1.9 9.5,0.6 7.1-1.3 -9,1.9 -1.9,0.7 10.9-3.7 -12.2-0.7 8.9,3.4 3.5-6.6 11.6,9.1 -6.8-1.2 0.2-1.7 -1.6,1.2 -7.2-4.3 16,4.3 3.7,3 -7.9-3.8 9.5,0.6 2-0.1 -8.1-3.3 13.4,2.7 2.2,1.7 -2.8-2 -2,1.6 5.9,0.7 -5.5-5.8 1.2,8.6 12.1-3.9 -1.6-9 -1.2,13.6 3.9-9.1 -14.3,4.9 16.1-2.2 0.9-4 7.1,1.8 -11.3,3.3 10.7,3.5 -6.8-2.1 12.1-3.5 -5.6,1.1 3.9-0.7 9.1,1.2 -2.4-1.7 -0.9-1.3 -3.3-0.4 8.1,6.7 7.4-7.5 -13.9,7.6 14.3-8.2 -8.9,2.2 2.7-1.2 1.6,0.7 7.2,0.9 2.2-1.1 -3.9-1 6.3,3.3 6.6-4.5 -4.9,2.1 10.3-3.5 -8.3,1.3 0.9,1.1 7-2.1 0.3-2 0.7,4.6 -6.3-4.3 17.9-0.7 -14.7,2.1 4.6,0 -1.5-4.1 6.9,5.1 1.3,3.1 2.5-2.4 5.4-5.1 -8.9-4 4.7,0.6 2.3,0.4 -4.8,2.4 15.4-2 -1.8-2.6 -4.3,3.2 7.7-3.4 -8.5,0.6 2.8-1.7 1.8-0.8 2.9,5.2 7.8-7.1 -3.4,4.8 5.3-1.6 -10.9-2.7 7.1-1.6 4.3,0.4 -6.7-1.5 8.3-2.5 5.3,3.7 -0.1,1 -5.1,4.7 2.7-7.4 -0.2-0.9 5.5,2.3 -5.6-2.5 7.8-2.8 6.5-0.3 -4.6-4.5 -2,0.7 -0.8,4 6-1.9 -3.5,2.6 4.4-5.4 1.8,0.6 -11.2-1.2 5.4-0.8 5.1,0.9 -5-1.2 3.6-5.3 5.6-4.2 -3.4,4.5 4.7-0.3 -5.3,0.2 5.2,1.9 13.3-4.2 -13.7,2.4 8.9-0.6 -5-0.8 -4.1-3.9 3,1.7 -1.1-2.9 4,5.3 -5.3-5.5 15.1-0.8 -8.5,3.4 -10.3-4.6 17.9-1.5 1.7,2.2 -8.6-4.9 0.6,8.2 -6.4-9 6.2,4.7 -8.5-2.8 14.3-1.9 -8-5 -9.8,3.8 14.8,2 10,0.5 -11.6-5.1 3.8,3.4 5.4-8.9 -5.6,2.1 2.2,2.3 4.4,0.8 -6-9.9 7.9,1.6 -7.2,4.5 -5.8-4.5 15.7,1 -4.1,4.6 -11.5-5.4 16.6-1.5 -12.3,1.4 -0.3-1.5 5.2,3.1 -4.3-3.4 3.7-3.6 1.8,3.7 -2.3,0 -0.3-2.6 -4.6-8.2 -4.7,2.3 10.1,3.8 -7.6-4.5 5.3-0.1 -6.4-1.5 -0.8,4.2 -0.1-6.2 11.3,3.6 -9.5-5.9 -1.4,4.7 5-5.6 2.2,4 -14.7-1.3 12.8-5.2 -5.5,2.8 5-1.7 -2,0.3 -1.6-4.2 2.7,0.1 -3.1-1.5 2.2,1.1 -8.4,3.3 -3.1-1.2 6.7-3.7 -1.6,2 11.1-1.3 -13.3-3.2 -0.8,3.3 5.3-0.1 -16.3-4.5 1.4-0.8 3.4-1.3 6.1-1.2 12,0.9 -15,1.6 3.8-0.6 -2.1-6.4 -12-1.8 -1.6,0.8 7.7,8.2 -1.3-4.2 -4.5-4.6 7.9,3.5 -6.3-8.6 6.3,6.1 1-0.6 -13.7-0.4 -2.3-1.1 8.5,0.8 -9.2-2.8 8.4,0.8 -8.4-4 7.4,1.9 -2.3-2.8 -8.7,3.4 0.7-4.1 3.9,0.6 -7-5.5 1.7,4.8 -0.3-1.8 0.9,2.9 -6.4-5.1 11.6,2.8 -12.2-0.7 -4.2-1.8 10.7,1.5 1.5-1.4 -13.1,0.8 0.6-5.2 -0.1,2.9 1-5.5 -0.6,0.7 2.5,5.2 -6.7-1.3 4.9-6.6 -4.6,3.2 -3.1-0.7 0.3,2.4 -0.4-0.9 -4.4-3.6 0.3,0.5 5.2,4.8 -4.9-6.5 -6,0.7 5.2,4.5 -5.4-6.3 -8.8,0.6 8.5-0.3 -11.2,0.5 2.6-1.6 -2.6,4.3 1.5-4.7 -8.5,2.6 3.5-3.3 -8,4.8 11.9-3.1 -7.5-3.9 -1.3,0.4 11.3,1.1 -17.7,1.2 13.4-3 -2-0.5 -14.3,3.4 -5.8-2.4 7,1.4 0.8-1.1 0.3-0.3 -11.6,3.8 10.6-4.8 -2.7,1.6 -13.5-1.4 13.6-1.2 -9.8,0.9 -1.1-3.8 -1.9,1.2 5.7,3.8 -1.7-3.9 -13.9-2.4 3.2,4.3 -5.1,1.7 0.9-2.2 -0.2-2.7 -7.5,0.5 13-1.4 -12.6,0.8 0.7,0.7 -2-0.8 -5.1,2.2 6.4,0.1 -4.3,0.6 -10,1.9 -1.3-1.4 6.5-4.2 1.6,3.7 -4.2-1.5 -4.4,2.6 -1.7-2.3 2.1-2.5 -1.2,1.8 -11.6-1 17.8-0.1 -15.4,0.4 -1.3,0.8 10-0.7 -13.1,4.2 3.3-4.4 -8.2,2.5 -4.8-1.6 6,1.8 4.6-0.4 -10.2-2.1 8.3,2.2 -12-2.4 3-1.7 4.3,0.9 -6,1.4 1.5,0.8 -10.2,0.7 -4.5,1.2 -0.8-3.9 -0.1,2 1.1-1.3 -9.6,4.9 16.9-6.4 -15.3,6.5 -3.7-3.6 19.4,3.2 -21.1,1.1 -1.1-1.8 5.3,5.7 -0.3-0.9 -12.3-1.3 2.3-4 1,0.4 5.9,3.8 -3.5-4.3 -3.1-0.5 -1.7,3.8 3.2,2 -12.2-2.4 2.3,1.7 -1.1-4 10.7,6.1 -4.3,1.1 -4.7-0.8 -3.9-2.3 -0.4,3 -10.9-4 7.6,3.6 -4.5-4 -1.7,0.8 -5.3,5.9 3.4-1.6 4.7-0.3 -3.7,2.8 0.2-2.5 -7.5,0 6.1,1.7 -6.2,0.8 5.1,1.2 -9.3-2.3 -13.9,2.3 9.7,1.9 9.4,3.5 -1.2-6.5 -7.5,2.3 3.5,1.6 -3.2,0.4 -3.1,1.8 -5.7-0.2 5.4-1.9 -3.7,3 0.5-4.1 -6.6,2.6 3.8,2.1 1.6,2.1 -2-0.1 -1.3,0.1 2.8-2.3 9.7,1.3 -19.6,4.7 5.9-1.3 4.1,0.7 -13.1,1.6 0.7,0.3 2.7,1.1 -3.2,5.1 1.3-6.9 -2.5,2 -2.1,0.4 -5.8-1.2 9.3,2.9 -1.2-4.9 -12.4,3.1 7.4,1.1 -10.9,1.5 4.5-0.2 1.8,3 -4.2-0.7 5.6,4.4 -11.1-2.4 9.9,0.1 1.3,0.4 2.3,2.3 -5.8,2.2 -0.9-2 -8.8,6.1 8-6.3 1.8,3.9 -7.2-1.9 6.7,0.2 -7.3,3.1 4.5-1.6 -6.3,2.8 12.2,1.5 -14.7-0.6 5.2,0.4 2.7-1.6 -4.6,5.3 -0.9,0.4 0.2,0.1 3.6,0.1 -4.3-6.9 -2.8,9 -9.4,2.2 9.5-0.4 -8.7,1 3.4-1.1 5.1,0.6 3.3,4.4 -3-0.8 -4.6,2.8 10-2.1 -12.5-0.1 -0.1-4.3 6.8,2.8 -4.7,4.7 7.7,1.5 4.8,0.9 -12.8-4.7 9.5,10.1 0.4-3.6 2.1-4 -7.2,4.2 9.6,2.5 -10.5-1.6 -5.5,2.5 8.4-2.8 -8.1,0.3 7.6,3.1 -0.8-1.1 2.2,1.2 -7,6.2 0.6-5.8 7.4,5.7 -7.7-3.5 6,4.8 -10.7-1.9 13.5-0.7 -7.3,1.3 3.2,2.3 -2.6-0.1 -5.2-1.8 4.6,2.2 -0.9,7 6.8-1.7 -6.8-3.1 0.3-2.1 7.4,0.9 -2.9,6.3 6.5-5.7 -5.3,4.3 8.7,1.8 -1.7,3 -0.6,0.6 -1.1-5.6 0.5,5.4 -0.3,0.1 -1.2-3.4 12.1,2.3 -11.5,6.5 1.7-2.8 9.4,2.6 2.8-3.9 2.9-0.6 -4.5,6.4 -0.2-0.8 -6.5-2.8 5.4,1.1 2.8,5.4 -3.6-3.9 0.1,4.9 -3,5.2 8.9-0.8 4.6-2.9 0.7-1.1 -12,5.8 7,1 4-3.6 -11.1,6.8 18.3-5.9 -1.5-1.4 -15.3,7.6 20-4.9 -8.2,0.7 9.1-1.8 -11.2,0.4 6.2,3.5 -1.9-1.3 3.2-1.2 -5,0.9 18.5,5.9 -13,0.9 8.1-3.1 3.8,2.6 0.7-4.9 -1,5.3 -7.2-1.7 6.6,3.6 2.2-3.2 2.8,3.7 -1.5,1.1 0.6-6.4 -0.3-0.5 -1,6.3 7.5,3.9 5.7-4.6 -4,4.7 0.5-10.5 -9.6,6 13.5,0.6 -3.4,5.7 3.6-2.7 8.7-0.9 -2.7,1.2 -5.7,1.2 10.8-5.7 1.4,5.4 -1.5,2.4 -0.2,0.9 12.8,2.6 -5.4-6.4 -2.5,5.5 -1.3-2.9 2,3 11-3.1 -2,3.5 1-2.9 3.2,1.6 -3,2.4 -3.7-5 -4-2 20.9,11.9 -0.1-5.7 5.2-7.1 -16.2,6.5 6.2-1.3 8.1,7.9 -12.2-9 9.8,5.6 10.6-1.2 -3.8,1 1.4,3.4 3.7-5.9 9.5,6.2 -15.9-2.4 3-2.7 6.2,4.5 10.5-1.5 -6.3-0.7 5.8,2.2 -2.7-4.2 -6.4,3.5 19.2-1.6 -5.4,6.8 11-7.9 -11,0.6 -2.7,0.2 0.3,1 9.3-1.6 3.5,2.6 1.2-0.1 -3.9-5.1 5.2,5.3 1.3-0.7 3.8-1.4 2.8-1.6 -2.4,2.4 6.1,0.2 -0.7-0.4 3.9-1.5 -0.6-2.9 0.3,6.7 1.3-2.6 -7.1-2.8 15,1.8 0.6-3.1 3.1,4.7 -2.7-2.1 4.3-2.1 -3.1,5.5 1.8-1.5 0.5-1.4 -3.4-2.9 18.7,3.9 -15.8-2.9 13-3.7 -0.2,6.5 1.6-1.7 5.7-2.9 1.7,0.7 1.8,2.1 -1.8-2.3 14.5,2 -18.4-3.4 8.8-0.2 -5.1,2.4 3.2-2.7 0.9,4.5 8.7-0.5 -9-2.5 7.6-5.6 3.6,5.2 2.6-2.2 4.8,4.1 -1-3.2 -2.4-1.2 -2.6,0.2 8.2-3.5 -6.7,4.7 1.8-7 12.7-3.1 -8.3,7 3.3-2.4 -3.6,2.8 14.9-1.2 -7.5,2.1 8.3-5.3 -8.5,0 -4.1,2 6.1-0.8 2.9,0.9 1.8-4.1 4.8-2.8 3.3,3.7 -3.7,0.3 -3.8-2.8 6.1-1.9 -6.3,4.7 12.5-6 -5.4-1.9 -1.5,7 14.1-7.4 -8.9,4.7 0.3-4.8 5.9-3.2 -2.6,6.4 2.2,0.3 4.4-1.7 -3.3-1.9 -2-4.1 12.5,3.7 -4.1-2.1 1.5-0.5 1.2-1.4 -6.8-0.8 7-2.3 2.7,0.8 1.9,2.5 3.5-8 -21.2,2.1 18.8-1.4 -0.1,3.2 7.7-1.9 -1.4-1.7 9.6,0.8 -2.7-3.2 -5.1,4.1 7.9-9.1 -15.8,1.8 7.8,4.6 -1.8,0.1 4.6-9.9 3.9,2.1 -4.1,2.7 -1.5-3.5 3.4-1.4 -3,1.7 1.5,1 -1.4-2.4 6.9-1.4 -12.5-1.9 4.8,3.9 -1-6.6 -0.2,5.9 7.3-1.6 2.9-5.5 -2.6,1.3 1.2-0.5 6.8,1.3 -9.5-5.9 6.7,3.9 -15.1,0.4 10.3-4.1 -4.9,7 -1.9-4.1 13.7-7.1 1.2,1 -11.9,0.2 6-0.3 -0.8-1.4 -4.6-4.5 3.7,5 -2.9-1.2 10.2,1.2 -8-4.9 11.9,2 -11.5-2 13.7-0.2 -10.4,1.3 1.8-2.8 0.1,0.9 -0.4,0.1 7.4-4.8 -2.3,2.8 -10.9-1.7 -1.7-4 -8.9-0.2 13.7-1.4 5.5,0.1 -1.4-1.5 -6.4,3.2 -0.1-3.1 3.2-5.1 -3.6,3.8 6.2-2.9 -9.2-3.7 3.8,8 -3.8-8.5 4.3,1.7 -2.2-1.5 2.7-2 -6.3,1 -1.8-0.1 4.9-0.7 -6.5,0.2 17.1,1.7 -19,1 7.3-8.4 -5.4,3.9 -0.3-3.4 -7.1-1.8 8.5,2.2 1.9,0 -8.6-2.7 1.9,4.5 -3.3-4.3 8.6-2.8 -4.2,4.2 -0.2-0.4 6.5-7 -7.7-0.2 7,0.5 -10.2,1 3.3-0.3 2-1.3 -5.7-1.3 -6.5-0.5 4.1,4.3 -6.6-4 -1.6,1.1 5.4-6.9 3,5.5 -4.8-2.2 -8.8-3.8 11.4,3.3 6-0.1 -4.8,1.3 -13.3-1.4 9.6-6.3 -4.9,4.8 1.2-0.6 -5.5-0.9 -5.3-2.3 8.3,0.4 0.1-2.1 -13.7,0.8 6.3-2.1 -0.6,2.1 2.1-4.5 -4.5,4.8 3.2-2.8 -0.8-1.9 -8.8,2.8 -3-4.7 7.4,1.6 0,2.2 2.6-1 -6.9-5 -3,1 3.6,2.5 -0.8-0.9 -4.3-2.9 2.2-1.6 -8.6-1.1 4.3,1.1 -5.2-3.5 -5.7,6.3 -1-0.6 -4.7,0.8 -0.9-8.1 -3.3,7 9-3.4 -1.2-2.3 -7.8,3.3 3.9-0.8 0.7-0.9 1.7-2 -13.7,2.1 6.5-2.9 -2-1.4 -5,0.1 -4-1 7.1-0.8 -7.1,0.8 10.8,3.4 -11.6-2.1 0.3-2.3 -4.3,1.4 10.3,0.4 -14.6-2.3 4.3-1.3 -8.5,2.7 3.3-1.2 -0.5-0.6 3.5,0.9 -10.3-4.3 2.6,2.7 6.6,0.6 -7.9-4.4 -2.7,2.2 -9,2.7 -9.6-1.4 14-1.4 1.4,3.2 -6.8-3.1 -8.4-0.8 10.9-0.6 -2.6-0.1 -3.2,5.2 1.5-2.8 -7.8-0.3 -1.2,2.5 -6-6.1 8.8,4.5 -4-2.1 7-2.9 -4.3,2.1 -7.7-1.1 -4.6,2.9 -6.4,0.6 -0.6-5.8 2.8,5 0.5-0.4 -7.7-0.5 7.1,1 1.4-4.9 -6.6,5.4 -6.5-1.3 -4.5-1.9 9.2,2.6 -5.8,2.6 -5.9,0.4 0.1-2.5 -0.1-0.4 -2.3,1.3 -3.6,0.1 -7.6-1.7 11.4,2.1 -10.3-2.8 -0.4,4.2 1.3-1.9 3-0.9 -10.4-1 7.2,5.5 -1.4-2.3 -0.1-0.3 2.5-0.8 -15.9,2.4 -5.5-6.6 10,6 4.3,0.1 -0.9-0.9 -12.3,1.3 0.5,0.6 1.8-0.7 -8-3.5 0.1,3.8 -3.4,1.9 9.5,1.3 -8-4.1 9.7,1.2 -12,1.7 -7.9-1.9 15.1,4.3 -14.5-3.2 3.2,3.5 4.4,0.6 -9.1-3.4 -4.5-0.2 7.9,3 -8,1.2 -5.5-1.9 -1.2,0.8 6-2.2 5.2,1.1 -9.2,1.1 5.7-1 -1.8,5.1 -2.9-0.1 -3.1,2.5 1.7-2.7 -14.7-1.4 11.8,2.5 -3.9-1.3 -4.9,1.3 -7.4,1.1 -0.6-2.2 0.7,1.1 3.6,1.4 -4.3-2 -2,2.6 -0.4,0.7 9.2-1.8 -6.8,0.6 -3.4,2.9 2.8,3.7 -6.6-2.2 4.8-0.1 -6.8-2.1 8.7-0.9 -8.7,5.3 0.2-0.2 -4.9,0.8 -2.3-0.9 0.9,2.2 -3.5,1.7 10.6-1.8 -3.7,2.1 -6.8-3.9 2.1,6 -3.5-2.1 3.9,0.8 -11.2,4.4 -3.6-1.6 14.8-0.5 -4.9,1.2 -12.8,2.4 -0.8-2.2 4.1,2.7 -2.1-1.2 7.8-2.3 -2.1,5.8 9.5-3.4 -14.2,2.9 5.2,3.5 4.4-4 -9,0.1 -4.7-1.6 11.3,2.4 -3.9,2.1 7,2.3 -12,5.3 -1-1.8 6.5-0.7 -12.7-2 6,1.1 -5.6,2.4 12-0.1 -3-2.4 -19.4-0.6 18.7,5.2 -10.8-1.2 7.7,1.8 -7.6,0.6 0.8,3 3.1-0.3 -2.5,0.4 -9.5,2.6 14.2,0 -5.1,0 -1.6-0.1 0.8,3 -2.8-2.7 10.3,3.2 -10.7,1.4 3-1.1 0.9-0.2 -5.5-0.6 -5.7,3.7 5.4,2.5 3.2-1.2 1.2,4.1 5.5-7.3 -15.4,5.5 6.8,2.6 5-1.8 -2.2,3.2 -7.8,3.7 -0.8-5.5 7.9,5.2 -6.8-2.3 2.7,4.4 -7.2-3.2 11.9,2 -6.2-1.2 5.3,5 4.1,0.8 -2.8,0.3 -7.1-4 0.3,1.6 -2.4,3 11.8-1.2 -4.7,3.1 2.4-1.7 -2.6,3.5 4.7-1.4 -0.5,1.7 5.2,1.6 -5.9-2.2 1.3,1.1 -9.1-1.1 2.6,1.3 -0.7,4.4 1.6-2.3 0.8,6.8 3.8,1.8 -0.7-5 0.6,0.4 5-2.8 1.1,3.2 -1.2-1.1 1,4.8 2-1 2.8-0.7 0.7,2.5 -3,0.1 0.5,1.4 5,4.7 -7.1-1.5 2.9,2.8 2.5-4.1 -3.3,1.5 -0.3,1.5 2-1.9 1.9,3.6 2.5-3.5 3.9-0.9 4.1,5.7 -8.1,1.3 4.3,3.9 6.4-7.7 -0.6,4.6 -9.9,2.2 10.3-3.2 4.5,9.4 -3.6-4.2 2.3,0.4 -2.7,0 1.6,3 1.7-9.3 -5.1,6.8 8.8,0.5 1.8,1.8 -8.6,2.5 4.9-1.4 2.3-1.3 3.9-0.7 -6.7,2 2-1.3 5.2,3.7 -3.6-3.5 -3.7,8 10.9-5.7 -3.8,2.7 7,2 -7.8,4.4 7.6-2.8 1.7-4.3 7-2.8 -1.2,8.5 0.7,0.2 0.8-3.1 4.4,1.9 -1.7,2.1 2.3-0.5 7.2,2.7 -4.8-4.2 5.5,1.1 3.9-1.7 -3.7,1.4 -3.4-0.3 8.3,3.8 1.7-1.8 -4.7,4.2 9.7-6.4 -3.5,4.4 0.4-3.3 0.9,6.6 -3-6.2 7.8,3.9 -6.6-0.3 5.3,2.8 5.7,2.1 4.3-6.7 -1,1.2 3.1,3.9 -1.8-0.9 -1.5,2.1 -1.3,2.7 10.3,2.5 0.9-3.4 1.9-1 -8.6,0.3 15-1.8 -7.8-1.6 8.7,3.2 -10.7,2.3 19.5,0.7 -14.2-4.8 11.4,6.5 -2.7,1.6 0.9-12 5.1,4.9 6.6,4.4 5.4-4.6 -12.2-2.4 5,3 -1.8-0.3 3.7-0.9 5.2-0.9 9.2,6.2 -6.8-1.5 2.1-2.2 -7.7,7.4 13.8-5.1 0.5,1.1 -4.6-2.9 12,3.4 -8.5-4.4 4.7,1.5 4.8,1 6.9,2 -6.2-4 2,2.9 10.1-2 -8.3,4.9 8.8-3.6 1.9-0.8 -6.3,2.7 5.5-1.5 7.4-3.6 -6.4,1.9 7.1,3.5 -20-0.1 15-6 11.7,3.3 -1.7-2.6 0.5-4.6 1,5.5 5.1,0.4 -7.9-0.5 9.2,0.1 -2.4-1.4 3.6-1.9 1.3,0.2 3.6,4.2 -7.9-3.8 9.7-3.3 0.3,6.1 -2.7-6.4 2.1-2.6 8.8,4.5 -2.1-0.2 3.7-2.9 0.2,2.3 -4.4-1 18.6,5 -12.8-8.2 2.8,1.3 -0.9-3.4 1.3,4.9 10.3,2.1 -5.7-2.1 5.8-1.2 -5.9,0.4 15.8-1.1 -7.5-1.2 -8.4,0.7 5.6,6.4 -1-4.4 13.9-6.2 -4.5,2.2 2.4-0.8 -0.7,0.6 -1.4-3.5 -7.2,3.7 12.4,2.8 -2.9-2.6 7.4-3.7 -0.7-2.8 -6.4-1.9 3.1,1.7 10.5,5.2 -3.6-7.7 0.3,2.3 -3.1-2.4 5.3,0.7 0.8,0.5 1.2,0.1 2.1-0.6 -3.2,0.2 5.1-3.8 2.6,1 5.4-2.7 -7.9,4.9 16.8-4.7 -9,0.2 0.5-0.5 -4.3-0.2 8.6,1.4 -10-1.7 4-6.4 1.1,2.5 10.4-0.6 -6.9-3 8.7,5.1 -4.5-2.8 -6.2-2.3 9.9-2 7.8,3.7 -11.1-3.9" fill="none" stroke="#a9a9a9" stroke-width="6" stroke-linejoin="bevel"/>
<path d="M1689.2,188.9l-0.1-1.9 -0.3-1.9 -0.6-1.8 -0.9-1.8 -1.1-1.7 -1.4-1.7 -1.7-1.6 -1.9-1.6 -2.2-1.5 -2.4-1.4 -2.6-1.4 -2.9-1.4 -3.1-1.2 -3.3-1.2 -3.6-1.2 -3.7-1 -3.9-1 -4.2-0.9 -4.3-0.9 -4.4-0.7 -4.7-0.7 -4.7-0.6 -5-0.5 -5-0.5 -5.1-0.3 -5.3-0.3 -5.3-0.1 -5.5-0.1 -5.5,0 -5.5,0.1 -5.6,0.2 -5.7,0.2 -5.6,0.4 -5.7,0.5 -5.7,0.5 -5.6,0.7 -5.6,0.7 -5.6,0.9 -5.6,0.9 -5.5,1.1 -5.4,1.1 -5.3,1.2 -5.3,1.4 -5.1,1.4 -5,1.5 -4.9,1.6 -4.8,1.7 -4.7,1.8 -4.5,1.9 -4.3,2 -4.2,2.1 -4,2.1 -3.8,2.3 -3.7,2.3 -3.4,2.5 -3.3,2.5 -3,2.6 -2.9,2.7 -2.6,2.7 -2.4,2.9 -2.2,2.9 -1.9,3 -1.8,3 -1.5,3.2 -1.2,3.2 -1,3.2 -0.8,3.4 -0.6,3.3 -0.3,3.5 0,3.5 0.1,3.6 0.5,3.6 0.6,3.6 0.9,3.7 1.1,3.7 1.4,3.8 1.6,3.8 1.8,3.9 2,3.8 2.3,3.9 2.4,3.9 2.7,4 2.9,3.9 3.1,4 3.3,3.9 3.4,4 3.7,3.9 3.8,4 4,3.9 4.1,3.9 4.3,3.9 4.5,3.9 4.6,3.9 4.7,3.8 4.8,3.7 4.9,3.8 5,3.7 5.2,3.6 5.1,3.6 5.3,3.5 5.3,3.5 5.4,3.4 5.4,3.3 5.5,3.2 5.4,3.2 5.5,3 5.4,3 5.5,2.9 5.4,2.8 5.3,2.7 5.4,2.5 5.2,2.5 5.2,2.4 5.1,2.2 5.1,2.1 4.9,2 4.8,1.8 4.7,1.7 4.5,1.6 4.4,1.4 4.3,1.3 4.1,1.2 3.9,1 3.7,0.8 3.6,0.7 3.4,0.6 3.1,0.3 3,0.3 2.7,0 2.6,0 2.3-0.3 2-0.4 1.9-0.6 1.6-0.7 1.3-0.9 1.1-1.1 0.9-1.2 0.6-1.4 0.3-1.5 0.1-1.7 -0.2-1.9 -0.4-2 -0.6-2.1 -1-2.3 -1.1-2.5 -1.4-2.6 -1.7-2.7 -1.9-2.9 -2.1-3 -2.4-3.2 -2.6-3.3 -2.8-3.4 -3-3.5 -3.3-3.6 -3.4-3.8 -3.7-3.8 -3.8-4 -4-4.1 -4.2-4.1 -4.3-4.2 -4.5-4.4 -4.6-4.3 -4.8-4.5 -4.8-4.5 -5-4.6 -5.1-4.7 -5.2-4.6 -5.3-4.8 -5.3-4.7 -5.4-4.8 -5.4-4.8 -5.5-4.9 -5.5-4.8 -5.5-4.9 -5.5-4.8 -5.5-4.9 -5.5-4.8 -5.4-4.9 -5.5-4.8 -5.3-4.7 -5.3-4.8 -5.2-4.7 -5.1-4.6 -5.1-4.6 -4.9-4.6 -4.8-4.5 -4.7-4.4 -4.6-4.4 -4.4-4.3 -4.3-4.2 -4.1-4.1 -3.9-4 -3.8-4 -3.5-3.8 -3.4-3.8 -3.2-3.6 -3-3.5 -2.8-3.4 -2.6-3.4 -2.4-3.1 -2.1-3.1 -1.9-3 -1.7-2.8 -1.5-2.7 -1.2-2.5 -0.9-2.4 -0.8-2.3 -0.5-2.1 -0.2-2 0-1.9 0.2-1.7 0.5-1.6 0.7-1.4 1-1.3 1.2-1.1 1.4-1 1.7-0.8 1.9-0.6 2.1-0.6 2.4-0.3 2.6-0.2 2.8-0.1 3,0.1 3.2,0.3 3.4,0.3 3.6,0.6 3.8,0.7 4,0.8 4.2,1 4.3,1.1 4.4,1.3 4.7,1.4 4.7,1.6 4.9,1.7 5,1.8 5.1,1.9 5.2,2.1 5.3,2.2 5.4,2.3 5.4,2.5 5.5,2.6 5.6,2.7 5.6,2.7 5.6,2.9 5.6,3 5.6,3.1 5.6,3.2 5.6,3.3 5.5,3.4 5.5,3.4 5.5,3.6 5.4,3.6 5.3,3.6 5.1,3.7 5.1,3.8 5,3.9 4.9,3.9 4.7,3.9 4.6,4 4.4,4 4.2,4 4.1,4.1 3.9,4 3.7,4.1 3.5,4.1 3.3,4.1 3,4.1 2.9,4.1 2.6,4 2.4,4.1 2.1,4 1.9,4 1.7,4 1.4,3.9 1.1,3.9 0.9,3.9 0.6,3.8 0.4,3.7 0.1,3.7 -0.1,3.6 -0.5,3.6 -0.6,3.5 -1,3.4 -1.1,3.4 -1.5,3.3 -1.7,3.2 -1.9,3.1 -2.2,3 -2.4,3 -2.6,2.8 -2.8,2.8 -3.1,2.6 -3.3,2.6 -3.5,2.5 -3.7,2.4 -3.8,2.2 -4.1,2.2 -4.2,2.1 -4.3,2 -4.6,1.9 -4.6,1.7 -4.8,1.7 -4.9,1.6 -5,1.5 -5.1,1.3 -5.2,1.3 -5.3,1.2 -5.4,1.1 -5.3,0.9 -5.5,0.9 -5.5,0.8 -5.5,0.7 -5.5,0.6 -5.5,0.5 -5.5,0.4 -5.5,0.3 -5.4,0.2 -5.4,0.2 -5.3,0.1 -5.3-0.1 -5.2-0.1 -5.1-0.2 -5.1-0.2 -4.9-0.3 -4.8-0.5 -4.7-0.4 -4.6-0.6 -4.4-0.6 -4.3-0.7 -4.1-0.7 -4-0.9 -3.7-0.8 -3.7-1 -3.4-1 -3.2-1 -3.1-1.1 -2.8-1.1 -2.7-1.3 -2.4-1.2 -2.2-1.3 -2.1-1.3 -1.7-1.4 -1.6-1.4 -1.3-1.5 -1.1-1.5 -0.9-1.6 -0.6-1.5 -0.4-1.6 -0.2-1.7 0.1-1.7 0.3-1.7 0.5-1.7 0.8-1.8 1-1.8 1.3-1.8 1.4-1.9 1.7-1.8 2-1.9 2.1-1.9 2.4-2 2.6-2 2.8-1.9 3-2 3.2-2.1 3.4-2 3.5-2.1 3.8-2 3.9-2.1 4.2-2.2 4.2-2.1 4.5-2.1 4.5-2.2 4.7-2.1 4.9-2.2 4.9-2.2 5.1-2.2 5.2-2.3 5.2-2.2 5.4-2.2 5.4-2.3 5.4-2.3 5.6-2.2 5.5-2.3 5.6-2.3 5.6-2.3 5.6-2.3 5.6-2.4 5.6-2.3 5.6-2.3 5.5-2.3 5.5-2.4 5.4-2.3 5.3-2.4 5.3-2.3 5.1-2.4 5-2.3 5-2.3 4.7-2.4 4.7-2.3 4.5-2.4 4.3-2.3 4.2-2.3 4-2.3 3.8-2.3 3.6-2.3 3.4-2.3 3.2-2.2 2.9-2.3 2.8-2.2 2.5-2.2 2.2-2.2 2-2.1 1.8-2.2 1.5-2.1 1.2-2.1 1-2 0.8-2 0.4-2 0.2-1.9Z" fill="none" stroke="#a9a9a9" stroke-width="15" stroke-linejoin="round"/>
<path d="M1689.5,185.1l5.9,5 -0.3-11.9 -8.4,13.7 1.3-11.9 -1.1-1.5 4.5,14.2 -2.6-11.7 3.5,3.4 -11.9-6.1 15.1,13.9 -7.5-9.8 3.2,6.8 -3.9-4.6 -1-10.1 3.4,8.7 1.1,11.2 -4.8-6 0-1.7 3.8-11.1 -7.6,7.2 -3.4,3.5 8.8-12.8 -5.4,3.2 -6-2.1 4.5,6.7 1.5-11.9 -4,7.2 -2,9.1 6.6-3.3 3.5-1.2 -5.5-5.1 -2.7-5.8 4.4,8.7 1.1-0.8 -4.8-16.3 3,11.8 1.6,3.4 -6.2-4.6 -3.5,5.9 4.9-8.8 -1-2.7 3,8.7 -11.2-11.1 1.9,7.2 -1.4-3.6 -4.9,4.3 7.8,1.8 1,3.7 -6.3-10.6 8.8,4.4 -3.3-1.1 -1.8,4.2 -1.8-0.3 1.8-2.6 -11-8.4 7.9,2.5 -1,4.9 -11.4-7.7 8.9-6.1 -3.9,8 4.1-9.6 -6.7,7.1 1.1-4.7 0.5,10.1 -6.2-10.5 5.4,13.7 -4-8.5 1.7,3.4 -5.8,7.6 6.3-2.1 -2.8-13.9 -4.7,2.4 2.7-3.7 1.7,6.2 0.9,16.8 -15.8-20.2 9.9,6.5 -3-0.9 -3.6-1 -5.2,0.6 9,3 -12.2-14.2 7,5.7 2,6.4 -14.1-4.1 4.8-6.4 -5.7,2.1 5.7,2.3 4.4,8.6 1.1-3.9 -18.3,0 4.1,5.2 4.8-13.8 2.6,7.2 -6.5-0.8 -6.5,1.7 3.6-8.2 -2.5-7.5 -2.3,7.7 -3.6-2.4 3.5,12.5 -1.5-7.7 -3-0.6 -1.8-6.9 -6.1,6.8 2.1,5.7 6.3-3.1 -7.6,0.6 -6.7-11.2 11,6.7 -5,1 5.7,2.3 -10.4-5.5 -3.8,6.6 -5.7,1.3 10.8,7.7 4.4-15.1 -16.4,0.5 -0.6-0.5 4.1,4.3 -7.6-9.8 0.9,14.5 -1.5-11.6 0.8,11.4 2.6-1.2 -6.1,3.1 2.6-6 -7.3,0.8 2-3 -12.3,3.1 1.5,5 8.7-8.1 -7.5-5 3.7,4.1 -1.6,4.2 2.1-1.5 -3.8,10.6 -0.4-6.8 -6.3-8.8 -4,3.3 -1.6,7 -0.2-8.6 -4.3,4.8 1.2-3.9 0.5,11.8 0.1-4.1 -3.9-4.8 -8.3-1.2 6.7,0.6 -0.1,3.4 2.3,2 -3.5-3.8 -6.7-2.9 -1.8,12.5 10.5-3.5 -6.8-1.5 3.3-0.7 0-3.9 -14.2,9.7 3.9-8.3 -1.1,12.1 -0.9-4.7 -1.4-1 -2.8-1.3 -1.5,2 -8.5-1.8 4.4,0.6 -3.8-0.6 2.4,9.3 -3.9-2.5 3.4-3.7 -0.4-4.5 -3.4-2.6 -1.2-9.2 -2.4,14.3 -3.6,4.5 0-4.4 -2.7-2.5 2.5,3.9 -2.8,6.2 1.2-4 -9.4-1.7 8.2,9.5 -8.3-2.2 -1-11.9 1,18.4 -2.7-12.2 2.4,3.4 -4.8-8.8 -3.3,4 -0.2,8.1 8-8.4 -6.5,8.6 -6.3-13.7 3.9,3.2 -7.8,7.9 13.1-0.8 -15.2,0.4 7.4,7.9 -0.8-9.5 -9.5,1.9 6.4-0.1 1.9,0.1 -3.3-1.8 -1.9,2.3 1.8,6.8 -4.3-1.1 -0.3-0.9 -2.9,2.8 2.2,1.8 -7.6-11.6 6.3,9.1 -6.4-7.7 -3.4,13.5 5.2-1.8 4.7,3.8 -4-0.3 -7.1-1.3 4.2,0.9 -5.7,1 0.5-10.4 0.1,6.5 -10.9,5.6 9.7,1.9 -6-7 0.6,1.9 -4,5.8 -0.9-7.2 1.6,13 6.7-2.5 2.8-9.7 -7.8,20.9 3.9-10.3 -6.4-6.6 -7.5,4.8 7.9,5.8 0.6,1.5 -4.3,5.8 2.4-2.4 0.5-6 -6.5,2.5 -3.2-2.7 4.7,2.6 -0.6-1.5 -1.1,10.4 5-4.8 2.6,1.5 -9.4-1.4 4.1,4.7 0.6,7.5 -1.5-13.6 1,0.1 -6.5-8.4 4.3,10.1 4.9-2.6 -5.4,4.8 -6.3,4.3 4.7-2.4 2.4,9.7 -4.1-7.1 -4.2,1.6 8.5,7.5 -12-13.2 7,3 -2.4,3.6 -5.1-2.1 9.7-1 -3.8,8.8 -6.4,5.5 7.1,0.5 -4.5-8.4 -6.2,1.8 4.9,10.5 3.7-12.3 1.4,6.7 -2-6.5 -0.6,3.1 1.7,9 -2.9-2.4 5.7,6.3 -4.3,0.4 0.6-1.7 1-2.8 -6.6-5 1.5,12.4 9.2-4.9 -4.8,3 -2.5,1.6 2.6-5.2 -3.3,7.4 3.3-6.9 -3.8,8.4 4.1,4.7 -7.6-9.2 12.3,14.7 -7.5-2.2 -4.2-5.1 5.8,1.3 -0.4,2.1 2.4,9.8 -5.1-3.5 6.6-6.7 13.7,3.9 -20,3.9 7-3.9 -2.4,0.6 2.4-2.6 -7.8,7.7 3-9.3 7.1,11.2 -1.7-8.2 7.3,5.2 -9.2,8.2 4.1-1.6 11.7,0.6 -14.7-6.2 -0.1,12.7 4.1-2.6 0.4-4.6 4.2,2.5 -2.4,7.8 -3.1-0.6 4.5-4.7 10.7,10.5 -5.1-6.6 -16.2-6.3 11.5,8 -2.3,13.5 6.8-16.6 -2.7,0.3 9.4,1.7 -3.5,2.8 0.6,13.5 -2.3-15.1 -0.2,6.1 2.3-1.6 4.7,7.3 -2.4,0.7 -2.9,0 7.5-6.4 -3.7,6.4 -0.3,3.1 -2.2,5.6 1.8-7.5 0.5,3.2 -8.1-1.9 16.7,0.7 -1,1.8 -2.4,3.7 6.1,1.2 -1.6,1 0.6-2.2 -10.9-1.7 10.2,5.9 4.2,6.7 5.4-6.4 1.9,1 -0.7,10.2 -9.8-8.8 -3.3,3.8 12.5,12.6 -1.3-10.1 4.9-3 -3.5,8.2 2.5,1.1 -6.1-9.2 9.2,13.4 -2.7-0.8 4.4-1.3 1.5-3.5 -1.3,0.3 2.9,7.1 -0.2-0.5 4.3-0.2 0,3.1 -3.2,2.2 1,2 10.9-5.6 -6.6,3.7 5.8-13.2 -1.4,11.4 -2.8,6.8 0.4-3 4.8,0.1 1.8,0.8 2.7,1.1 -6.7-1 4.1,4.5 3.3-2.5 8.4-4.9 -15.4,9.8 12.9,3.5 -2.8-5.5 5.3-0.7 -2.6,2 4.9-0.2 6.2,8.4 -3.8,0.6 1.7-3.4 1,0.7 -3.4-5.2 6.7,2.7 -2,16.8 -1.1-12.5 4.5,8.7 0.4,7.8 5.6-10.4 -2.1,2.8 -0.7,1.2 9.6,7.5 -0.6-1 2.5-2.8 -1.5,6.5 -1.6-6.8 0-0.5 1.9,2.2 6.6-0.1 -2.2,1.8 -5.5,4.5 7.4,1.7 -4.4-6.4 8.1-1.7 -4.5,3.4 1,3.9 7.3-1 0.4,10.2 -5.3-4.9 11.6,0.3 7.4,0.7 -14.2-1.8 15.4,4 -9.4,2.6 2.2-2.1 2.7-3 -4.1,9.7 13,0.4 -2-4.3 -3.8-9.7 3.3,5.2 -3.9-5 6.3,3 6.7,10.9 -10-4 6.7,7.5 4-10.4 5.1,3.9 2.6,1.6 -6.4-1.6 0.1,1.3 6.4,3.1 -2.2-0.5 1.6-4 7.1,12 3.9,2.5 -4.7-6.1 -0.6-5.7 4.5,6 -9.4,0.1 9.4-2.6 -3.3,3.1 16,14.1 -5.9-5.6 -1.3,5.2 -0.1-9 -8.7-0.9 15.2-0.4 5.4-6.8 -9.3,11.4 7.4-1 1.3,2.4 -8.8,10 12.1-6.9 3,0.7 -3.6-5.7 -0.2,5.6 4.8,3.6 -8.7-11.4 8.1,5.4 5.2,5.6 -8.8-2.8 10.9,0.5 -4.9-6.6 -6-4.5 9.3,16.1 -2.4-12.9 6.6,7.3 -5.4-2.8 10.8-0.3 -7,8 6.1-7.6 -3.4,10 2.3-3.6 7.6,3.9 -3-13.4 -1.7-0.2 -2.8,3.7 11.4,4.1 -1,5 -3.4-12.2 3.4,2.5 -4.7,1.3 0.9,5.3 1.7,1.5 6,0.2 0.9-6.9 -4,10.3 7.5-3.5 1.2-7.4 -1.9,3.2 4.7-3.2 -5.2,5.3 1.6,0.2 3.5-4 -1.6,3.2 4.4,2.5 -8.3,2 12.3,7.8 -8.5-17.1 3.1,10.2 -4.7,0.3 9.6-5.8 3.4,9.5 -0.3,2 -0.3-4.1 -9.8-5.2 4.1-0.8 2-0.9 -1.4-2.8 9.5,7.6 -3.5-3.5 -0.5,2 2.8,3.1 -5.7-6.8 0.7,0.2 0.8-7.6 6.4,7.6 -0.4,6.2 1.6-6.3 2.6,4.6 -10.1-11.9 3.5,16.9 3.6-4.6 -6.2-1.8 4.1-3.2 7.1,2.7 0.5,7.2 0.2,1.1 -4-11.6 -0.6-6.9 5.9,1.2 -6.4,7.4 3.5-3.8 4.4,7.4 -7.4,0.7 -0.4-13.8 2.7,3 2.7,5.4 -0.4-0.3 -1.1-7.1 1.8,3 -9.5,0.6 3.5-2.7 4.5,2.2 -4.8,0.4 -1.9,0.7 0.9-8.5 1.1,6.9 3.1,3.8 -3.3-16.1 5.5,3.6 6.3,4.8 -8.3,0.4 6.2-0.2 -4.7,6.6 -6.1-9.2 3.7-1 -3.4,1.1 7.7-1.8 -8.9,3.3 10.9-2.5 -3.7,7.3 -11.5-11 12.1,5.4 3,3.7 -10.5-7.7 7.6-0.7 -12.6-0.6 8.9-6 -9,5.4 9.4-6.4 -10.5-2.1 -4.2,5.1 13.2-7.5 7.6,15.2 -12.9-13.2 5.8,3.2 -3.5-4.9 -2.7,10.3 3.7-1.5 4.1-1.4 -13.1-8 7.5,0.9 -1.6-0.7 -8.4-1.3 12.8,4.8 0.9,2.8 -13.3-8.5 11.4-2.6 -8-5.1 -1.8,6.5 7-6.8 -6.7,9.8 0.1-11.2 4.3,9.6 -1.5-7.6 -2.7,4.6 -10.8-3.2 -1.4-3.1 11.4-7.8 -10.1,7.3 4.1-6.1 -6.2,0.1 3.1-0.7 -5.6-2.1 12,0.6 -12.7,5.3 3.2-6.1 -1.1-2.5 5.2,5.2 -12.3-8.4 5,7.3 -1.5-9.8 2.2,6.9 -1.2-3.1 -4.9-7.3 2.2-1.7 -3.9,6.6 2.7,0.2 -3.2-9.6 -3.9,17.5 2.2-21.2 0.7-0.4 7.1,12.7 -12.9-15.1 2.3,3.9 4.1-0.3 -16.9,8.9 0.6-9.7 1.3-1.9 3.6,1.1 10.1,1.5 -10.1-3.7 2.2,12.6 -7.1-15.8 -11-1 -0.4-3.9 13.4,4.4 -4.8-4.4 -7.6-4 9.5-6.1 -13,9.1 10.7-10.8 0,8.8 -10.9-0.2 -2.8,1.3 7.5-10.6 -9.9,8.7 7.5-11.2 -10.2-0.4 7.4,5.4 -4.4-1.3 -3.5-7.5 -3.3,0.1 3.8-2.9 -10.6,0.3 5.7,3.1 -1.8-6.5 3.3,8.5 -9.5-13.3 11.5,5.8 -10.2,2.6 -4.9-2.5 9.7-2 -0.3,6.5 -9-19 -4.4,0.2 2.4,10 -4.3-6.8 0.4-9.8 6.7,7.1 -6.5,4.7 -2.5,4.3 -0.4-3.6 -2.9-15.7 2.5,4.1 -1.3,7 -6.6-12.6 0.6,4.7 8.6,2.6 -10-3.9 -4-2.1 8.5-9.7 -10.4,9.9 -6-5 6.3-8.1 -8.1-3.7 0.2,11.7 2.4-15.7 -3.4,3.2 -4.2,11.2 -0.3-17.5 -1.7,15.2 6.3-10.3 -9.5,6.2 -0.8,2.1 10-11.9 -12.5-1.5 7.4,3.3 -2.1-2.7 -7.6-1.2 -6.8-1.6 6.6,4.7 -0.3-9.3 -0.1,1.9 -5.2-0.7 3.5,1.6 -0.5-2.5 -11.8,2.7 9.4-4.8 -6.8,1 -4.3-13.4 -0.4,10.4 8.1-1.6 -5.1-4.4 -13.1-7.7 6.7,2.3 -2.2,0.9 -1.4-12.1 -2.8,9.6 -5.3-3.8 8.7-11.2 -9,15.5 1.2-9.9 -2.2,1.2 -1.8,7.7 5-3.3 -2.7-8.8 -5.8,9.4 -2.3-7.8 0.8-6.3 4.9,6.2 -4.8-4.5 -0.7,3.8 -3.6-1.9 -0.9-1.1 0.9-2 -9.9-8 13.5,5 -11.3-12.9 -0.2,6.3 7,2.1 -5.8-12.1 -1.9,10.7 -3.8,1.9 -5.2-6.8 6.3,6.8 3.2-8.2 -9.9-7.3 8.5,4.8 -11.6,1.9 0.7-2 4.2-3 -3.2-5.1 1.9,7.7 -7-2.3 -2.2-8.9 -4.5,2.7 1.8-1.1 -0.4-1.5 -2.4,5 6.4-2.5 -5-8 -6.5,4 18,3.4 -14.9-6.6 -2.7-1.7 9.7-9.6 -1.2,16 -10.6-7.9 -2.2-10.7 1.2,9.6 8.2-0.7 -6.9,7 -2.9-13.6 2.6,0.3 4.4,0.5 -11.7,1.9 3.5-2.8 -4.9,0.5 14.3-2.3 -2.2,3.2 -4.4-5.7 -5.2,9 2.7-5.2 -12.2,9.4 9.3-12.3 -7.4-7 -0.5,4.5 2-13.6 0.9,16.6 3.3-3.3 0,2.4 -2.4-3.3 -5.5-2 6.3,5.8 -3.9-4 5-14.9 -9.3,9.1 -8.2-8.4 9.2,12.5 10.6-4.2 -7.5-5.5 -3.2,2.3 4.2,2 -2-2.6 -0.5-1.8 -4.5-5.7 2.2-2 0.2,12.4 -3.8,2.3 -2.3-10.5 5-0.5 3.2-3.5 -1.6-2.6 -0.8,8.1 -0.2-14.5 8.6,10.5 -9.9,7.7 3-13.8 3.7,3.8 -8.1-2.3 0.8,9.2 3.1-6.4 2.6-2.3 -5.8-0.1 0.1-4.7 -1.2-3.7 -5.4-3 9.7,3 -5.7,5.5 -6.2-11.3 6.7,8.4 -6.6-4.9 3.1,5.9 4.4,6.4 -3.9,3.2 8.4-11.2 -10.5,1.8 7.4-2.3 1.4-4.7 4,12.8 -2.1,0.4 -2.7-11.3 -0.5-1 -0.3,2.8 5.2,2.1 -7.2,3.5 5.2-6.9 -2.3,2.5 1.6-6 -1.8-3.4 10.5,9.6 -11.5-7.7 4.2,1.7 0.5-2.8 1.7-4.2 -0.2,4.1 0.3-0.5 2.8-0.1 -10,3.9 6.8-1 -4.8-3.1 6.6-3.5 -5.4-1.6 1.4-5 4.4,17.9 6.6-4.2 -2.9,7.8 -0.6-6.4 5.3,6.5 -9.4-16.6 -4.2,1.1 7.6,10.8 1.3-7.2 7-0.8 4.5-4.4 -14,1.6 16.8,7 -3.2,0.3 -2.3-4.4 -1.3,1.3 9.4,5.9 -9.1,1.7 -1.6-12.2 3.3,9.8 -5.6-3.6 8.6-3.9 -1.6,4 2.6-5.7 1,11.8 -5.2-10.9 11,13 -9-1 8.9-0.6 -9.6-8 9.2,5.9 -4.1,2.8 4.6-12.4 -2.1,10.7 -5.5-5.6 5.5-0.7 6,5 3.3-3.6 -7.9-3 -1.8,3.4 6.4-4.6 3.8,9.3 -0.8,2.3 0.3-6.5 8.2,7.9 1.5-6.6 0.1,2.5 -6.1,0.7 5.5-4.2 -0.1,0.3 -4.2,17.3 11-11.2 -2.2-2.8 -1.3-2 9.2,7.5 -1.6,2.9 1.6-6.2 2.6-2.2 -0.9,14.2 -7.3-4.3 4.9-3.5 7.2,12 -6.4-11.5 4.7-6.2 2.8,10.6 5.7-4.9 0.6,5.7 -0.4-6.8 -3.5-1.6 6.1-2 -0.5,6.6 -1.6-5.3 7.8,5.3 -2.5,4.3 -4-10.8 9.9,13.2 -5.2-4.9 5-10.5 -7.9,6.8 7.8,10.8 -2.7-6.1 1.2,4.9 -2.7-2.4 18.8,11.4 -8.5-10.5 2.9,10.2 5.2-8.6 -4-0.5 4.2-1.3 -6.7-8.3 7.9,22.3 -1.3-2.3 5.4,0.5 0-1.9 -5.4-8.4 -0.7,6.6 5,2.8 8.9,5.1 0.1-2.2 1.3-0.3 -9.2-3.3 -1.6,7 10.5-4.4 2.6-2.4 0.2,1.6 5.5,10 -0.8-10.6 -3-0.1 2.7,3.7 5.7,9.7 1.1,2 0.8-7.3 11.6,8.5 -9.7,0.1 3.2-10.5 -3.5-0.4 4.1,2.8 5.3-1.9 1.6,3 -2,10.9 4-10.7 -0.2,5.9 -7.2-2.7 -4.6-6.3 25.8,11.9 -5-6.5 -2.7,8 -6.1,1.6 3.3,3 13,0.3 -17,5.1 12.3-5.3 6.6,2.3 -1.9,2.4 3.9,10.3 -2.6-0.4 12.8-11.6 -14,6.3 0-11.6 8.3,13.4 6.6-3.6 -5.5,9 6.3-2.3 -5.7-2.8 -1.6-3.9 12.9-2.4 1.9,4.9 0.8,13.6 -7.3-8.6 -2,1.2 1.2,3.3 5.5-4.5 4.9-3.5 0.7,11.6 -7.3-9.2 8.5,1.1 0.1,13.6 1.8-13.8 0.7,1.3 0.2,8.1 4.8-5.7 -1.1,8.2 1.7-3.6 -3,2.7 5.8,10 -1.1-5.5 -7.8,1.3 12.6,5.3 -2.3,3.7 6.4,0.2 -3.9,2.3 1.7-11.4 2,17.5 0.3-9.8 -1.1,4.1 -5,3 17.5-5.7 -14.6,5.6 6.8-8.3 5.2,9.3 -0.2-2 1.7,3.6 2-2.9 3.1,0 -3.6,7.4 12.7,1.2 -16.5-12.1 6.1,14.5 -1.5-12.1 -0.3,12.4 4.6,2.7 5.9,8 -8.8-5.5 0.6,5.7 7.4-3.7 0.1-5.8 7,6.4 -3.5,2.9 -2.9,2.4 -1.8-1.3 3,5.6 -1-0.4 -4.2-17 6.5,11.3 -0.3,6.9 0.6-7.4 -0.2-3.5 9.8,14.3 -3.8-2.8 1.5,7.3 -6.4,1.2 -0.9-15 4.1-8.9 2.3,23.2 -2.3,5 1.6-14.7 5.6,4.1 -2.6,3.3 -5.2-5.5 2.6,11 -0.5-2.5 4.2-0.8 -5.8,5.3 4.9-2.1 4.1,5.6 -2.5-3.3 -4,1.5 1.3,12.4 3.9-9.1 1.6,9.3 2-1.7 -4.3,4.1 -4.7-13.1 12.3,9.7 -4.9,0.1 0.9-7.4 -0.3,3.6 -6.1,4.3 3.1,11.4 3.1-12.7 3.4,6.5 -4.3,0.5 -14-8.1 12.7,11 2.8-1.4 4.4-3.1 -2.7,1.9 7.8,8.9 -4.5-10.9 -0.5,2.4 -1.8-3.4 -10.8,8.6 10,1.7 -1.1-3.7 -5.3,2.9 4.8,3.6 -1,1.9 -4.2,1 1.3,3 -0.8,0.7 2.1-4.1 -3.3,3.8 3.9,7.6 -11-9.3 7.2-5.8 -6.6,1 4.6,19.3 4.3-4.1 -2.4-8 -1,4.2 0.4,1.1 6.3,3.3 -12.4-2.9 8.4,8.4 -10.9-13.1 3.9,13.3 2.5-3.2 -4.8-8.9 4.2,4.2 1.6,6.9 -9.1-1.3 4.4,5 -1.9-0.1 -7.5-2.3 7.4-5.5 -3.5,9.2 9-2.2 -10.5-0.9 10.8,3.5 -10.7,1.9 10.5-1.9 -7,2.1 -1.1,0.9 0.8,4 -0.6,9.3 1.9-13.5 0.8,0.9 -10.2,4.9 -4.8-2 -7-3.2 9.2,9.4 4.5-6.7 -2.6,0.2 -1.9-0.3 -2.9-0.3 -2.6,14.6 1.1-11.3 1.9,6.2 -10.2-9.5 10.1,3.5 -10.6-0.5 4.7,6.4 -2.7-14.5 -0.1,15.3 -4.1,4.8 -1.2-9.7 2.8,13.7 -4.4-17.4 14.5,8.9 -13.7-4.1 -2.1,1.7 -0.6,3.8 -3.6,8.6 -7-4.6 8.7-3 1.3,4.9 -8.9-4.3 5.3,7.4 -6.4-0.3 4.2-3.8 0.6-1.3 -0.7,4.3 -1.4,5.3 -6.2,2.6 6.1-16.3 -7.3,14.8 2.4,0 0.3,0.1 -5.4-8.8 -5.6,7.6 7.2-4.1 -8.8-0.2 -0.3,7.8 -2.1-6.3 7.1,9.3 -5.5-6 -10.2-6.3 11.6,8.4 4.5,5.1 -2.4-2.4 -11.5-3.3 1.6-1.6 0.3,13.8 0.4-1.4 -4.7-12.2 -6.3,2.1 6.7,1.7 -1.9-0.9 -9.7,0.1 2.8,2.8 1.5-1.9 -2.4-2.7 0.9,2.4 -0.2,2.1 -2.5,5.2 -4.1-6.7 -6.7,5.8 7.1-0.1 2.1-3 1.2,1 -9.9-6.7 -1.4,1.3 5,3.6 -1.5,4.2 -6-2.5 0.2,1.7 -7.5-11 4.3,7.8 -7.5,4.1 1.6,1.9 -1.1-10.1 -3,10.1 -8.3-7.6 4.1,2.4 3.6-3 -3.1,9.2 -2.7-6.7 2.1,2.2 -0.2-2.5 -0.7-2.5 -8.4,4.5 2.1,2.6 -2.8-5.7 -3.7,10.7 -3.9-8.4 4.5,7.2 -4.7,0.4 11.5,5 -10.9-1.9 -1.7-12.2 -2.1-0.3 8.2,6.1 -13.2-7.4 2,5.7 -3.9,2 1.3,3.5 -0.8-8.9 3.4,1 -11.8-4.8 4.4,11.4 5.6-0.8 -10.2,3 0.2-11.8 -4.3,1.4 -8.6-0.9 9.3,5.1 4,2 -8.1-0.7 -7-8.6 7.5,10.5 -2-7.6 2.6,3.8 -1.6,6.1 -6.2,0.9 1.6-2.6 -10.4-6 10.9,9 -5-10.3 2.5-1.7 -1.3,2.8 -6.8,9.3 -0.7,3.2 -4.1-16.4 -6.1-4.3 6.8,11 0.1-4.3 -6.3,2.4 6.3,3.5 -3.6-8.6 0.3,7.7 -6.2-8.2 -5.2-5.4 9.4,11.4 -1.7-10 -4.1,14.5 -2.4-11.3 -0.4,4.4 -0.5-12.4 -2.6,11.7 -7.2,2.3 10.5-9 -10.4,12.7 3.8-8.5 -0.9,5.6 1.4-9.9 -8.7,5 10.6-2 -3.2,3.6 -0.5,5.1 1.1,5.3 -9.4-21.4 -10.5,5 13.4,10 3.1-3.3 -1.5-6.7 -7.8,10 0.9-18 0.8,12.4 -9.5-1.8 3.9-7.1 -0.7,5 8.3,7.9 -9.9-11.9 8.3,4.3 -7.1-5.1 -7.7,7.9 15.2,4.7 -13.8-12 5.8,6.4 3.8,9.2 -9.9-10.2 -3.5-6.8 8.6,8.5 -4.6-11 -5.9,7.1 -0.1-2.1 2.2,7.7 5-2.9 -5.7-4.5 3.2-3.1 3.5,2.6 -2.1-4.9 0.2,15.5 -1.4-11.2 -12.1-2.4 11.1,6.9 -4.2-6.1 -2.3,2.7 -4.4-7 -2.5,2.9 1.5-4 4.1,7.6 -5.1-12.1 1,4.2 0.5-6.8 4.9,10.2 -4.3,0.5 0.3-3.3 5.7,4 -7.1,0.8 3.5-4.6 -7-1.6 5.4,3.8 -1.1-1.9 0,2.6 -2.9-6.5 -2.5,6.3 2.7-14.4 -0.8,7.5 6-3.3 -0.7,9.9 -8.7-10 7.3,3.8 -4.6-7 3.7,1.1 -3.9,10.9 -4.1-15 10.1,15 -2.4-14.8 -6.8,4.7 -2.7,4.5 5.5-8.3 -2.6,2.2 3.4,5.4 4.1-0.7 3.5-5.5 -7.4,6.8 7.2-1.2 -0.8-13.9 -6.4,10.8 -4.9-7.2 10.5,1.7 -0.9-3.2 7.3,1.7 -3.5,15.3 -2.5-11.1 3.9-7.7 -10.9,6.5 5.3-12 -1.6,6.8 8.5,8.8 -4.5-10.4 -14.5-10.8 18.4,16.8 -9-8.8 7.3,8.3 -4.8-3.2 3.4-3.1 2-2.1 -1.4-0.1 -4.3-0.9 10-8.9 -3.6,15.7 -1.2,2.9 3.4-11.6 -4.6,0.1 10.5,10 -6.4-17.8 1.2,11.7 0.4,3 -4.6-10.8 -0.5-1.8 6.3-7.6 1.2,18.9 4.7-0.8 -3.1-6.3 -5.7-1.2 7.3-0.7 1.9,3 1.4,3.9 -2.1-6.7 -5.7-7.7 10.5,1.4 -7,4.8 6.1-5.1 -8.1-2 10.4,6.3 -5.7-2.7 8.5-0.6 3.6-13.6 -1.6,12.1 -8.8,2.4 1.7-3.9 1.2,1.5 7.1-7.4 -0.4,15.6 0.1-6 1.5-10 2,1.8 1.2,1.5 5.3-2.9 -6.3,8 2-8.7 -7.6,4.9 3.2,0.8 3.5-8.8 -1,5.4 6.8-1.3 4.4-4.6 -5.1,6.4 0.8-8.9 1-8.8 3.7,12.4 -1.8-7 5.1,1.4 0.5,9.6 1.3,0 2.9-7 -2,9.5 1.6-11.4 7.9,0 -6.5-3.4 4.7,0.4 -2-5.7 -1,7.3 1.2-9 -0.4,3.2 4.7,0.3 -1.4,2.3 2-6 8,9.8 -4.4-9.4 6.6-1.3 -2.5,7.7 3.7,1.5 -5-3 4.5-3.5 11.8-0.1 -6.4-4.9 2-5.6 -2,0.1 3.9,6.9 -7.3,0.8 2.6,3.9 6.8-9.6 2.9,1.4 -3.9,2.3 2.2-0.9 0.6-1 1.9,12.2 -2.8-14.4 0.3-2.8 7.1,3.1 -5.8,2.6 4.6-5.5 2.7-2.4 -0.3-7.7 6.9,4.5 -1.6,1.1 2.8,3.1 -2.6,5.1 2.5-4.7 6.7,5.3 0.8-7.2 -2.1-7.4 4.9,0.3 0.6,0 1.2,4 7.6-4.2 -7.3,4 4.8,8.9 1.5-11.3 -1.4-0.7 -2.8,7.6 9.5-4.9 -0.6,8.9 0.6-11 1.3-9.3 1.3,9 -2.5-11.6 6.5,6.3 -7.8,2.3 9,6.6 -4.8-15.1 6.3,1 5.9,11.6 -2.8-7.1 0.5-8.7 5.6,10 -2-7.2 0.6,11.4 1.5-5.9 9.8-7.2 -2.5,8.5 0.5,0.6 -5.9-2.5 9.3-4.1 -7.1,3.8 9.3-6.4 -5.6-5.7 14.9-2.6 -14.8,5.9 14.2-8.2 -0.6,4.5 -10,0.9 8.1-2.9 8.8-4.2 -0.1-0.7 -11,0.5 6.2,5 -1.5-6.1 1.9,2.8 2.9,0.1 12.3,1.4 -6.1-10.5 -0.7,14.9 0.9-6.5 5.6,5.7 1.6-10.8 -5.9-3.5 11.8,0.5 -10.2,5.9 4.8-2 4.5-3.6 6.7,3.8 -7.9-3.2 4,0.5 5.7,0.1 -1.9,0.7 3.5-3 0.5,9.4 -2.2-6.8 2.7,4.5 2.5-6.8 -3.2,1.9 8.6-5.7 -14.8-7.9 5.5,13.7 11.7-0.7 -3.4-7.4 -3.6-7.6 5.6,4 4.1,1.9 -6.4,0.4 6.9,2.8 -2.8-5.8 1-1.2 1.1,1.3 6.2,4.5 -9.2,2.7 4.4-3.8 5.6-2.1 -7.6,1.7 -0.5-8.8 10.3,10.9 -1.5-7.1 0.3-4.2 2.2-2.7 -4.2,1.4 18.5-1.9 -17,5.2 3.2,0.9 -3.4-11.4 5.1,10.9 9.6-2.5 -6.3,6.3 3.8-15.2 -4.2,0.6 10.8,9.5 -6.9,3.2 -5.3-12.6 9.7,1.3 -4.3-6.4 5.2-3.3 -1.8,7.6 1.1,2 0.1-0.5 -4.2-1.2 -2.3,4.5 11.9-0.6 -4.4-5.9 2.2,8.2 -2.8-3.1 -6.2-15.6 3.6,10.4 12.8-5.9 -9.4-4.2 2.1,5.7 -4.4-6 4.5,5.8 1,3.4 1.2-4.5 1-1.3 -2.2-1.4 0.6-0.2 2.8,2.6 2.1-8 -2.1,5.7 8.8,2.5 -6.5-9.2 -0.3,9.8 -3.3-6.6 8.1-6.8 -9.4,5.1 -2.3-8.4 2.8,9.1 7.3,2.4 -7.8-4 11.1,4 -5.9-2.9 -6.7-1.5 6.1-5.9 9.2,3.7 -12.2,0.2" fill="none" stroke="#a9a9a9" stroke-width="6" stroke-linejoin="bevel"/>
<path d="M1330.6,185.1l3.4-4 3.5-3.9 3.4-3.8 3.4-3.6 3.3-3.6 3.4-3.4 3.2-3.2 3.2-3.1 3.2-3 3.1-2.8 3-2.7 2.9-2.5 2.9-2.3 2.7-2.2 2.7-2 2.5-1.8 2.5-1.7 2.4-1.5 2.2-1.3 2.1-1.1 2-0.9 1.9-0.8 1.8-0.6 1.6-0.3 1.5-0.2 1.3,0 1.3,0.1 1,0.4 1,0.6 0.8,0.7 0.6,1 0.6,1.1 0.3,1.3 0.2,1.5 0.1,1.7 0,1.9 -0.3,2.1 -0.3,2.2 -0.5,2.4 -0.7,2.6 -0.8,2.8 -0.9,2.9 -1.1,3.1 -1.2,3.3 -1.3,3.5 -1.5,3.6 -1.6,3.7 -1.7,3.9 -1.9,4.1 -2,4.2 -2.1,4.3 -2.2,4.5 -2.3,4.6 -2.4,4.8 -2.5,4.8 -2.6,5 -2.7,5.1 -2.8,5.1 -2.9,5.3 -3,5.4 -3,5.5 -3.1,5.5 -3.1,5.6 -3.2,5.7 -3.2,5.7 -3.3,5.8 -3.3,5.8 -3.4,5.9 -3.3,5.9 -3.4,5.9 -3.4,5.9 -3.4,5.9 -3.3,6 -3.4,5.9 -3.3,5.9 -3.3,5.8 -3.3,5.9 -3.2,5.8 -3.2,5.7 -3.1,5.7 -3.1,5.6 -3,5.5 -2.9,5.5 -2.8,5.3 -2.7,5.3 -2.7,5.1 -2.5,5.1 -2.4,4.9 -2.3,4.8 -2.2,4.6 -2.1,4.5 -2,4.3 -1.8,4.2 -1.6,4.1 -1.6,3.8 -1.4,3.7 -1.2,3.5 -1.1,3.3 -0.9,3.1 -0.8,3 -0.6,2.7 -0.5,2.5 -0.3,2.3 -0.2,2.2 0.1,1.9 0.1,1.7 0.4,1.5 0.5,1.2 0.6,1.1 0.8,0.8 1,0.6 1.1,0.5 1.3,0.2 1.4-0.1 1.6-0.2 1.7-0.4 1.8-0.7 2-0.8 2-1.1 2.3-1.2 2.3-1.4 2.4-1.7 2.6-1.8 2.6-2 2.7-2.1 2.9-2.4 2.9-2.5 3-2.7 3-2.8 3.1-2.9 3.2-3.2 3.2-3.2 3.3-3.4 3.3-3.5 3.3-3.6 3.3-3.8 3.4-3.8 3.4-4 3.3-4 3.4-4.1 3.3-4.2 3.4-4.3 3.3-4.4 3.2-4.4 3.3-4.4 3.1-4.5 3.2-4.5 3.1-4.6 3-4.6 2.9-4.6 2.9-4.7 2.8-4.6 2.7-4.7 2.6-4.6 2.6-4.7 2.4-4.6 2.3-4.6 2.2-4.6 2.1-4.6 2-4.5 1.9-4.5 1.8-4.4 1.6-4.4 1.5-4.4 1.4-4.3 1.3-4.2 1.1-4.2 0.9-4.1 0.9-4 0.7-3.9 0.5-3.9 0.4-3.8 0.3-3.7 0.1-3.6 0-3.6 -0.1-3.4 -0.4-3.4 -0.4-3.2 -0.6-3.2 -0.7-3 -0.9-2.9 -1-2.9 -1.2-2.7 -1.3-2.6 -1.4-2.6 -1.6-2.4 -1.7-2.3 -1.8-2.1 -2-2.1 -2.1-2 -2.2-1.8 -2.3-1.7 -2.4-1.7 -2.5-1.4 -2.7-1.4 -2.7-1.3 -2.8-1.2 -3-1 -3-0.9 -3-0.8 -3.2-0.7 -3.2-0.6 -3.3-0.5 -3.3-0.4 -3.4-0.3 -3.5-0.1 -3.4-0.1 -3.5,0.1 -3.5,0.1 -3.6,0.3 -3.5,0.3 -3.6,0.4 -3.5,0.5 -3.5,0.7 -3.5,0.7 -3.5,0.7 -3.4,0.9 -3.4,0.9 -3.3,1.1 -3.3,1.1 -3.2,1.1 -3.2,1.2 -3,1.3 -3,1.4 -2.9,1.4 -2.7,1.4 -2.7,1.5 -2.5,1.6 -2.5,1.6 -2.3,1.6 -2.1,1.7 -2.1,1.7 -1.9,1.8 -1.7,1.7 -1.6,1.8 -1.4,1.8 -1.3,1.9 -1.1,1.8 -1,1.9 -0.7,1.8 -0.7,1.9 -0.4,1.9 -0.3,1.9 -0.1,1.9 0.1,1.8 0.2,1.9 0.4,1.9 0.6,1.8 0.8,1.8 0.9,1.9 1.1,1.8 1.2,1.8 1.4,1.8 1.6,1.7 1.7,1.8 1.9,1.7 2,1.7 2.1,1.7 2.3,1.6 2.4,1.7 2.5,1.6 2.6,1.6 2.8,1.6 2.8,1.5 2.9,1.6 3.1,1.5 3.1,1.5 3.1,1.4 3.3,1.5 3.3,1.4 3.4,1.5 3.4,1.4 3.4,1.4 3.5,1.4 3.5,1.3 3.5,1.4 3.5,1.4 3.6,1.3 3.5,1.3 3.5,1.4 3.5,1.3 3.4,1.4 3.5,1.3 3.4,1.3 3.3,1.4 3.3,1.3 3.3,1.4 3.1,1.3 3.1,1.4 3.1,1.3 2.9,1.4 2.9,1.4 2.7,1.4 2.7,1.4 2.6,1.4 2.5,1.5 2.3,1.5 2.3,1.4 2.1,1.5 2.1,1.5 1.9,1.6 1.7,1.5 1.7,1.6 1.5,1.5 1.4,1.6 1.2,1.7 1.1,1.6 1,1.7 0.8,1.6 0.7,1.7 0.6,1.7 0.4,1.7 0.3,1.8 0.1,1.7 0,1.8 -0.2,1.8 -0.3,1.8 -0.5,1.7 -0.5,1.8 -0.8,1.9 -0.8,1.8 -1.1,1.8 -1.1,1.8 -1.3,1.8 -1.4,1.8 -1.5,1.8 -1.7,1.8 -1.8,1.8 -1.9,1.7 -2,1.8 -2.2,1.7 -2.2,1.7 -2.4,1.6 -2.4,1.7 -2.6,1.6 -2.7,1.6 -2.7,1.5 -2.9,1.5 -2.9,1.4 -3,1.4 -3,1.4 -3.2,1.2 -3.1,1.3 -3.3,1.1 -3.3,1.1 -3.3,1 -3.4,0.9 -3.4,0.9 -3.4,0.7 -3.4,0.7 -3.4,0.6 -3.5,0.5 -3.4,0.4 -3.4,0.2 -3.4,0.2 -3.4,0.1 -3.3-0.1 -3.3-0.2 -3.3-0.2 -3.2-0.5 -3.1-0.5 -3.1-0.7 -3-0.8 -2.9-0.9 -2.8-1.1 -2.8-1.2 -2.6-1.3 -2.5-1.5 -2.4-1.6 -2.3-1.8 -2.2-1.9 -2.1-2.1 -1.9-2.2 -1.7-2.3 -1.7-2.5 -1.4-2.6 -1.4-2.7 -1.2-2.9 -1-3 -0.8-3.2 -0.7-3.3 -0.6-3.4 -0.4-3.5 -0.2-3.7 0-3.8 0.1-3.9 0.3-4 0.5-4.1 0.6-4.2 0.8-4.3 0.9-4.3 1.1-4.5 1.3-4.6 1.4-4.6 1.5-4.6 1.7-4.8 1.9-4.7 2-4.9 2.1-4.8 2.3-4.9 2.3-5 2.5-4.9 2.6-4.9 2.7-5 2.8-4.9 2.9-4.9 3-4.9 3.1-4.9 3.1-4.9 3.2-4.8 3.3-4.7 3.3-4.7 3.4-4.6 3.3-4.6 3.5-4.5 3.4-4.4 3.5-4.3 3.4-4.3 3.5-4.1Z" fill="none" stroke="#a9a9a9" stroke-width="9.5" stroke-linejoin="round"/>
<path d="M1326.8,183.6l5.8,0.2 2.8-13.6 0.4,15.3 -3-10.3 2.2-2.6 1.5,12.3 2.9-13 3.5,0.5 -5.2-0.3 4.8,7.7 -3.7-5.9 3.4,4 -3.3-1.8 1.2-10.5 4.1,5.4 -2.5,12.5 5.5-8.4 -3,0.1 2.3-13.3 0.6,8.5 0.2,4.1 1.8-15.7 3.4,2.2 6.2-4.6 -10.5,12.2 4.6-15 -0.3,8.1 -1,10.2 3.9-7.2 -2.3-0.4 2.8-5.7 4.2-7.7 -7.7,12.4 6.8-5.1 1-15.9 -2.7,12.8 4.7,0.1 0.3-3.4 -1,7.2 4.7-12.6 -5.9,1.1 6,4.3 -1.7-7.5 -1.3,7.4 3-5.1 0.3,5.1 3.8-2.2 -5.3,6.8 4-11.7 0.1,2.4 6-3.9 -6.3,8.3 6.4-3.8 -6.7,1.1 6.1-9.7 -0.6,1.1 2.1,3.9 -2.2-3.9 -2.7-6.2 1.8,7.5 8-15 -2.1,9.6 -2.3-3.5 5.3,6.5 -3.7-6.7 0.8,11.9 -0.7-7.2 6.8-1.1 2.7,7 -7,1 3.7-15.4 2.4,1.9 3.4-6.3 -11,12.5 7.3,11.8 1.6-17.5 -4.8,7.3 5.3-3.6 0-0.3 1.9,0.6 -2.8,2.8 2.9-13.3 -2,5.5 3.6,3.6 -0.7-0.7 -0.9-6.6 -2.2,4.5 8.3-4 -0.8,8.1 -0.2-4 -3.5,5.9 1.3,3.5 5.4-17.9 -1.9,7.7 -3.6,2.8 2.7,1.4 0.5-9.2 -0.5-6.5 -1.5,9 6-5.3 -1.2,12.3 -1.7-6.2 -3.2,1.9 2.8-8.1 1.9,6.8 2.5,3.6 -2.8-2.6 4-0.3 -2.2-8.2 -1.9,5.5 -5,4.9 4.4-1.6 -0.5-2.8 3.7,4.9 1.5,1.6 2.9,3.5 -3.4-13.6 -2.7,5.5 9.1-6 -4.9,6.5 -1.4-7.3 0.3,13.9 -2.7-9.4 5.3,7.7 -0.5-1.4 3.3,2.4 -1.2-5.8 -0.4,2.6 1.1-4 -3.8,7.9 -0.2,4.8 1-10.4 -3-1.6 2.9,1.5 -0.4,4.7 2.6-3.5 -1.6,12.3 -4.8-3.7 4.9-10.3 3.5,1.8 -8.1,12.3 2.6-10.1 2,4.4 -3.4-1.9 2,10.3 1.5-5.1 -3.6-1.7 4.1-1.9 0.2-1 -4.3,6.1 3.2-0.5 2.6-4.6 -3.3,0.5 1.5,11.9 0.4-5.9 -2.3,1.3 2.9-3.1 -1.7-2.9 -3.5,14.8 3.6-11.3 0.8,11.7 -0.4-4.2 -3.8,1.7 2.6-2.3 2.1,1 -3.1,2 2.2-1.7 0.1,0.1 -3.6,10.9 1.5-2.6 -2.7-2.7 3.2-6.3 -3.2,0.1 -1.6-8 1.2,14.1 -0.4,5.4 0.9-4.8 -0.2-1.9 -4.4,6.2 1.1,6.2 2.1-5.7 0,0.3 -1.3,8.5 6.1-4.2 -4.3-9 -3.2,20.3 1.5-12.6 1.2,2.1 -2.9-5.9 -5.8,8.3 4.4,5.5 -0.7-9.8 5,6.9 -10.7-5.7 8.2-2.7 -4.6,12.5 2.2-5.1 -3.5,6 0.8,5.8 1.8-10.5 -3.1,5.9 2-2.7 -3.4,1.8 -1.4-0.2 0,2.7 -1.2,7.3 0.4-0.5 3.3-2.9 -7,7.9 -1.8,2.5 3.5-12.3 3.9,5.4 -2.3-5 0.3,14.3 -0.8-2.5 -5.6,6.4 1.6-0.5 -7.8,5.3 4.7-3.1 2.5,0.8 -6.3-6.7 -1.9,7.8 1.4,7.2 3.3-2.3 1.7-6.9 3-0.1 -3.5,9 -8.4-1.7 -2.5,14.6 5.6-7.7 1.6-11.5 -7.4,27.8 2-12.8 -0.5-4.9 0.6,6.2 -1.2,4.9 1.1,0.7 0.8,6.4 -3.3-0.8 0.9-6.9 2.6,2.4 -8.6,3.6 -0.8,2.1 3.3-3.6 2.9,9 -5.2-2.7 1.6,0 -4.4,3.5 2.5,2.3 -4.7,10.6 2.4-15.2 -1.5,0.9 -0.9-6.6 2,8.1 -1.7-2.8 -5,9.6 3.2,3.8 -7.7,1.4 6.4,5.2 3.7-8.7 -6.5,7 -0.8,6.2 -2.2-9.4 1.3,0.6 -4.2,7 2.2-2.3 -3.4-1.2 -1,10.8 0.7,6.6 -1.3-0.2 -5.4-4.1 9.3-2.8 -5.8,13.5 -6-9.6 6.7,2.2 -3.9-3.8 -0.2,3.5 0.7,8.6 -5.1,1.6 -6.3,9.3 6.8-3.1 0-1.9 1.1-3.9 -5.6,0.1 0.7,12.1 0.8-7.8 -2.7,6.1 -0.6,2.6 0.4-6.3 -4,11.3 5.9-12 -7.4,14.6 1.8,2.8 -2-6.5 -1.6,13.5 2.5-2.2 0.3-4.5 0.4-0.3 -3.2,4.4 -3.4,12.1 2.6-4.2 -7.2-3.9 3.2-1.4 0.6,8.6 -0.8-5.2 -5.5,4.9 -1.8-2.1 7.9,4.7 -6.9-5.9 -3.7,12.6 0-8.3 2.7,1.8 2.6,9.2 -4.1,0.1 2.4-3.9 -3.5-0.5 0.1,13.3 0.5-4.1 -4.6-1.8 1.1,0.9 -2.5,10.5 -1.5,1.1 2.6-7.8 -4.6,11.6 1.6-6.8 -3.3-0.5 1.3,4.8 -1.6,16 3.2-21.5 -3.5,3.4 -0.8,0 3.6,1.3 -12.9,23 3.8-17.9 -5.1,9.9 6.8-6.9 0.6,6.2 -0.1,1.4 -1.8,1.9 -4-5.9 6.7,3.1 -4.6,6.5 -2.1,8 -3.3-6.1 3.6,0.7 -3.2,2.3 -0.6-3.1 1.2,1.4 -0.5,4.9 -3.6,2.2 5.2-2.1 -7,2.3 -1,1.6 3.5,1.3 -1,6.7 -1-7.4 -1.9,1.8 0.9,10.5 -2.4-5.2 -3.5,7.3 6.3,5.8 -5.7-6.5 1.5-5.5 2.4,8 -2.5,2.4 6.8-13.1 -11.8,20.1 1.3-1 1.7-3.7 2.9-6.2 -4.9,4.1 -3.7,9.4 6.8-5.1 -6.3,3 1.6,2.1 2.6,1.4 -4.7,5.2 -0.1-8.7 2.4,4 -2.8-13.6 1.3,11.6 -3.7,10.5 1.8-4.6 -3.1,1.1 -1.7,1.6 8.9-5.9 -4,3.5 1.1,3 -5.8,0.6 2.1-8.9 -0.4,14.8 -3.7,2.9 5-8.6 -3.9,0.5 1.2,2 -4,1.4 7,2.4 -0.9,2.1 -1.4-3 -3.9,3.3 0.7-5.2 4.8-2.1 -3.9,21.1 0.9-13.8 -0.3,8.5 -3.5,10.6 6.9-17.5 -10,10.6 6.1-2.8 -0.8,6 -4.5,2.4 5.2-7.4 0.7,6.8 -1.7-5.6 -2.6,1.2 3.6-0.6 1.7-3.1 -2.5,4.3 4.4,3.1 -2.5,1.6 -0.5-5.3 1.6-5 -5.6,8.8 0.5,3.5 2.8-5 0.3,10.5 2.7-5.7 -1.1-2 -2.7,0.8 0.2,1.6 -1.3,1.1 0,5.3 -0.3-2.6 3.8-6.6 -3.4,13.8 0.3-3.2 1.5-5.1 -2-7.8 1,3.9 -5.5-0.4 7.5-3.7 -1.5,10.8 1.5-2.8 0.9,5.5 -6.4-7.3 12.3-6.1 -6.1,5.4 0.3-0.3 -5.2,5.1 7.1-3.4 -0.3,0.2 -2-3.2 2.3,9.1 3.2-0.7 -4.3-2.1 -1.5-4.7 6.7,0.3 -2.5,4.4 -1.1-4.4 7.4-1.3 -5.3,14.5 -0.7-3.9 1.7,4.6 -1.7-8.2 2.1-0.1 0.1-4.5 -2.1-7 1.9,12.9 1.9-4.3 0.7,1.7 1.3,11.8 0.8-11 -1.1,0.8 1.1-5.8 -1.9,7.3 0.9,1.8 3.8-12.3 -7.8,9.1 7.1-0.7 8.2-6.5 -13.4,7.4 9.6-12.6 -8.6,3.1 6.8,9.4 3.7-15.4 0.3,5.6 -6.1,2.9 -0.7-2.6 0.5,9.7 6.3-13.8 -2.2,12.8 1.5-5.5 1.4,1.1 0.7-13.6 0.9-0.4 -0.4,4.8 -4.1,4.3 9.2-1.3 -11.3-3.6 11.7-6.6 -4.3,5.6 1.9,3.9 -0.2,1.3 1-2.2 1.5-8.3 0.2,11.4 -1.7-4.3 5.9-12.1 -3.2,6.1 5.9-8.7 -3.2,9 -0.8,0.4 3.7-7.7 2,2.2 -4.2,4.5 2.6,2.3 5.5,0.9 -6.2-10.8 1.4,8.6 3.5-1.1 -3.2-6 -2.4,10.5 3,0 6.2-8.6 1.5-3.8 0.5-2.3 0.2-1.6 -3.7,0.1 6.1,1 2-4.1 -4.1,5.2 5.2-1.3 -2.8-3.5 2.3-1.6 1.1-8.7 -4,9 8.8,0 -5.5-2.9 2.9,2 -0.5-9.2 3.8,13.6 0.6-6 -0.3-0.1 4.5-7.4 -2.2,2.5 -0.9,7.7 -5.7,5.2 7.5-16.1 0.7-7.3 -0.7,0.3 1,8.2 4.6-7.9 2.2,4.7 3.1,0.3 -1.4-12.7 -4,5.3 3.4,2.2 -3.4,2.3 6.2-11.4 -0.1,2.7 -1.6,4.1 2.1-5 0.4,0.7 -0.1,1.7 6-3.2 5.3-12.4 -5,10.1 1.5,2 -1.8-14.1 -0.4,2.7 7.5-2.2 -5.8,6.6 2.8-3.7 -0.4,8 2.6-9.4 -0.9-1.3 2.5,0 -4.1-0.7 4,2.7 4.5-8.5 -5.3,12 1.7-9.3 6.1-2 -1.6,4.2 2.4-6.9 -7.8,3 7-2.5 -3-6 0.6,7.1 5.4-12.4 2.8-1.5 -6.1,10.3 1.6-11.8 2.4,11.6 1.8-11.2 -2.3,3.4 9.9-11.1 -3.3,13.3 -1.7-1.2 0.3-2.6 8-10.4 0.5-1.3 -6.3,4.1 2.9-1.3 3.1-0.6 -5.5,6.6 2.2-6.8 5.7-9.3 -4.6,0.1 1.5,5.8 -1.8-7.2 2.4,9.7 4.3-14.1 -3.1,10.6 -0.6-6.7 2.5,3.4 6.8-5.3 -3.5-0.4 -1.3-9.4 2.6,7.8 1.3-8 -0.1,1.7 -4.3,1.6 6-5 -0.7-1.7 3.4,5.9 -5-3.3 6.7-6.9 -3.2,6.1 -2.6-3.6 8.4,0.2 -4.2-6.4 2.9,4.3 -0.8-2.3 3.7-8.5 0.6-2.6 0.7,6.9 -0.5-0.1 -5.4-5 0.6,17.8 5-24.9 -2.3,1.1 4.2,7.9 -0.4-11.6 -3.4,5.7 1.4-2.3 0.4,12.6 1-10.4 2.2-3.8 2.8-1.6 2.1-2.3 -5.4,2.4 1.6,10.7 5.7-17.7 -1.2,2.4 -1.3-2.9 -6.1,5.4 3.8-5.8 3.3-4.5 -1.5-7.1 7,7.2 -4.5-10.1 0.9,8 -3.1,4.5 0.6,1.6 1.1-13 0.6,10.5 1.2-13.6 1.9,0.7 0,3.6 2.3-1.9 -5.7-2.6 4.2-2.1 0.4-3.9 3.7,0.3 -4.3,4.5 1.6-7.1 -2.5,9.4 3.2-13.1 0.2,2.9 -2.3,6.5 0.7-1.8 1.2-5.1 1.9,5.3 -4.3-13.8 5.3-2.3 -2.8,11.1 5.7-9.5 -1-9.1 -4.5,8.5 -0.3,6.4 7.9-0.6 -4.5-0.4 -0.1-14.7 -2.4,5 0.9,6.6 2.4-12.4 -0.4,4.6 -3.5,3 5.3-5.1 -2.3,0.4 -3.2-9.3 5,8.7 -2.9-1.6 2.3-11 -3.3,0.4 2.4,9.9 -5.2-12.6 5.1,0.6 -4.7,15.1 4.1-20 -6.7,20 6.1-15.7 2,6.9 -0.6,2.7 1.6-15.1 -5.8,5.1 6.6-2.7 -0.1-2.2 -7.1,5.3 0.9-0.7 0.5,2.9 1.1-9.9 0.4,1.6 -6.8,5 7.6-4.2 -2.3-0.8 -2.1,6.7 4.7-10.1 -3.4,4.8 3.4-14.5 -1.6,11.4 -2.4-1.8 3.5-5.5 -1.2-4 -3.5,3.1 -3.1,3.4 2.4-13.2 2.7,8.3 -2.4-1 4.6-16.1 -3.9,20 -0.6-9.8 0.3,1.6 -3.5,10.3 1.5-5.3 -1.7-7.1 -4.6,13.7 1-8 6-10.4 -3.3,7.3 0.4-3.7 -3.8,6.4 1.9-2.3 3.1-2.9 -2.2-0.8 -2-4.5 4.8-1.1 -4.6-7.5 -1.1,7.1 3.4-1.6 -8-5.8 5.5,7.7 -4.7,5.7 0.3-5.9 -0.1,5.6 1.5-9.9 -0.6-4.8 0,2.9 -0.7,5 2.5-3.8 0.2-4.1 -3.1-2.4 -0.3,7.5 -3.5,1.5 -2.5-6.9 3.8,1.2 -2-0.1 1.5-2.5 -7.4,10.4 11-11 -10.9-0.1 2.8,3.7 1.9-1.7 -6.8,1 1.5-2.2 -4.6-9 1.1,15.9 -2-4.4 4.5-13.3 0,9.5 -2.3-1.1 3.6,6.5 -0.5-13 -4.4,2.5 -1.2,0.4 -0.8,4.9 -1.2-2.8 3.9-0.9 -3.5-3.3 -2.2,5.2 -0.5-4.6 1.5,9.4 -3.3-3.8 1.3,11.5 -1.9-13.5 2.9-7.3 -1.2,5.4 -7.8-9.4 2.9,15 1.4-5 -3.8,4.8 2.6-4.5 -2.1,0.5 0,4.6 -2.6-1.6 0-16.4 0,11.4 -6.2-3 0.8,10.3 -1.2-5.9 6.4-8 -4.5,5.9 -0.6,1.5 -1.3-1.4 -2.7-0.1 -1.5-3.9 3.4-4.7 -3.9,15.2 4.4,0.5 -4.7-7.5 -1.1-0.9 -1.8-3.2 -0.4-2.2 -0.4,8.9 2.9-16.8 1.5,8.1 -10.1,16.4 2.7-16.7 0.4,2.9 -5.2,2.6 0,9.4 -0.5-7 -6.2,0.9 7.5-3.5 -2.8-3.2 -1.1-2.9 -0.4-1.7 -0.4,1.2 4.9,4 -6.9-6.2 1.1,6.7 -4.7-0.8 1.7,4.4 -2.6,7.3 -0.3,4.4 -3.2-11.6 -0.6,4.6 2.6-5.6 -0.2-5.2 -1.4,13.5 -3.9,3.3 1.6-12.3 -8.8,4.4 8.8-2.4 -3.5,3.2 0.1,5.3 1.4-9.4 -5.1,6.4 2.8-8.4 -4.8-0.2 2,6.5 -3.6-3.4 1.2,0.2 2.2-4.5 -6.7-0.7 -0.7,4.8 0-0.5 0.9-1.3 6.1,2.6 -10.2,3.6 -5,0.9 3-7 -3.5,1.6 2-6.8 1.2,17.3 -3.7-3.7 0.2,8.8 -4.3-4.1 5.1,2.7 -3.8-13.2 4.4-0.6 -0.7,10.1 -6.4-4 0.6-2.7 0.3-5.9 1.3,4 -7.5,8.3 3.8-1.3 4.6-6.9 -6.3,5.4 0.3,4 -1.3,4.7 -4.5-9.9 5.6,6.2 -2.7-0.9 -1.2-5.2 1,3.9 -0.7-6.2 -8,17.2 5.8-13.9 -3.5,13.5 1.5-0.1 -3.3-0.6 -1.2-5.6 4.6,1.5 -3.3,5.8 -1.8-13.1 -0.4,12.1 0.3-4.9 -1-1.4 -7.3,8.4 3.6-6.7 1.2-2.1 2.3,2.5 1-6.8 -7,13.2 7.8-2.1 -6.1-3.2 0.7,6 -3.7-5.1 -0.7,3.2 5.4-1.2 -5.4-2.4 -0.2,0.4 3.6,17.2 0.7-14.9 -9.9,3.6 3.3-3.8 0.2,5.8 4.9,0.4 1.2-7.6 -7.8,1.8 1.2,14.6 0.8-3.5 0.3-5 -4.4,13.9 2.7-12.5 -5.2-4.5 -5.8,14.2 3.2-8.4 4.4,3.2 1.1-7.7 -9.3,4.6 0.9-3.9 5,4 -10.3,1 11.3-2.9 1.2,4.3 -12.3-3 11,5.1 -3.2-2.1 4-14.8 -3.3,11.1 -1.5,10.6 0.6-6.3 2.3,3.6 -2.5-0.4 -0.4,8.1 -4.8-6.3 5.7,6.7 -1.8-9.2 5.1-2.8 -5.7,1.2 -0.6-7 -1,22.7 3.7-4.5 -2.9,1 -1.6-0.9 6.4-11.6 0.6,6.8 -6.6,5.8 -1.6,4.4 6.1-6.1 -5.8,3 10.6-8 -8.5,13 3-8.9 -6.7,1.1 3.7-0.7 3.6,7.2 -2.3-9.7 -2.8,2.3 8.9-2.1 -4.7,11.8 -2.8,3.6 -1.2-7.1 1.2,5.7 4.9-0.8 -6.5-7.9 2.5-1.1 -2.4,3.5 6.1-6.9 -3.9,5.2 3.5,9.8 -1.1-11.5 -3,8.1 3.9-3.6 0.7-6.2 -5.7,10.4 5.4-9.1 8.8,3.6 -10.9,9.8 3,0.5 -5.6,0.9 5.8,5.6 -3.1-6.4 4.3-1.7 -2.1,4.2 -2.7,11.7 7-4.2 -4-12.7 -1.7,11 3.1-14.2 -2.3,13.6 4.1-7.8 -0.7,11 -0.6-3.4 3.3-3.7 -5.3-0.3 6.7-9.7 -8.1,9.8 11.3,6.9 -3.9-4.9 -0.8,2.2 -0.9,3.8 4-8.5 -1.7-3.7 0.7,11.5 3.8-10.3 -3.8,1.6 1.4,13.3 2-16.1 2.4-0.3 -2.8,10.2 1.3-7.8 0.4,8.5 2.4-5.7 2.8,1.7 -6.2,13 2.7-7.1 0.9,2.6 2.5,1 3.3,2.2 -3.8,1.2 1.4,2.4 2.9-14 -5.8,21.4 1.7-11.4 1.7,3.5 2,3 1.1-10.6 -1.3,9.9 6.9-14.5 -6.2,12.3 2.1-3.3 4.4,0.5 -0.3-3.2 -1.6,0.3 2,7.1 1.9-2.8 -1.9-7.5 2.9,11.6 -4-9.5 3.8,10.3 -4.1,4.4 3.1,5 -0.1-3.6 7.6,0.7 -4.2-2.7 2.7-7.7 -2.6,6.6 2.9,1.9 0.6,2.8 -0.9-0.4 5.8,1.3 -6.4,4 6.9-20.9 6.7,5.7 -8.9,12.8 3-9.5 -3.7-1.2 5.4,8.9 -4.1,0.7 7.6,2.1 -2.3,4.1 -3.3-12.8 2.1-11.5 0.5,22.9 4.6,2.6 3.6-17.7 -2.6,4.6 -1.3,4.8 1.7-5.5 3.7,8.1 -6.3,1.8 9.2-7.9 0.4,6.5 -7.2,1.4 11.1-2.5 -7.1,1.8 4.9-0.7 4.9,9 -7.2-5.3 0.5,8.6 2.8-4 1.1,4.5 3.2-14.2 -0.1,6.9 0.9,0.6 0.8-8.1 1.7,2.5 -0.9,6.4 4.3,7.8 -0.3-13.2 -1.8,7 8.7-4.3 -7.8,0.2 6.6,3.8 -3.3,0.1 3.8-6.6 1.4,1.6 1.9,5.9 2.2-11.4 -5.3,6 10.8-10.1 -5.6,14.7 -2.4,1.1 -0.7-3 10.9-3.2 -1,3.2 -3.6,4.5 3,0 2.4,1.1 -2.5,2.5 -0.6-4.2 2,3.3 3.2,4.4 -1.4-5.7 -2.7-5.6 6.2-1.7 -5.5,22 3.3-7.4 6-11.5 -1.8,5.7 0.8,0.4 0.5,1.5 3.3-2.3 -2,7.8 -4.4-7.4 6.8,7.6 -8.1,1.8 3.4-10.1 10.5-3.9 -0.6,6.9 -3.2,3 1.8,2.6 1.2-0.4 3.2-2.7 -4-4.4 0.6,9.5 1.3-5.2 2.8-0.3 1.1,0.2 -1,5 3.7-6.9 -3.9,6.4 3.3-1 -0.9,4.3 0,9.3 6.4-18.1 -3.4,3 -1,7.9 3.5-3.2 -2.1-0.1 4.9,3.7 1.3-8.4 1.1,0 -4.8,3.3 3.1-1.6 6,10.8 -4.9-8 4.6,2.5 1.2-7.8 -6.9,5.8 7.4-3.1 -0.6,5.6 0.8-14.1 2.9,13 -2.5,7.5 -0.5-9 2.1,11.4 -2.1-14.6 2.8,3.3 -5.9,3.3 10.2-4.9 -5.2,7.6 3.4,6.9 -0.1-2.8 -0.1-5 0.6,4.2 0.4-2.4 -3.8,8.6 3.3-1.1 4.9-8 -5.2,2.1 0.4,4 8.6-0.4 -1.8,5.3 1.2-18.3 -3.4,18.7 1.1-1.4 1.7-1.2 -0.2-7.2 -1.1,9.6 -3.2-3.5 2.3,0.3 -1.5,8.8 8.2-11.4 -4.6,10.6 0.9-5.2 1.5-4.8 -0.3,5.7 1.7,2.7 -2.6,0.1 -2,0.9 8.6-8 -5.8,17.6 0.9-2.2 -0.6-10.4 0.9,3 1.7-1.3 2.1-1.8 -4.2,5.4 3.6-0.5 -2.2-0.6 5-5.7 -5.9,6.4 3.6-0.4 1.8,4.4 -5.1-2.1 4,4.6 0.2-2 -2.2-1.9 1.6-0.4 3.2-6.5 -1.7,2.8 -1.5,3.5 0.7,4 1.7-2.3 2.2,0.1 -1.1-8.3 0,6.7 2.2,4.3 -7.7,6.9 0.3-9.9 -1.9,12.2 7.7-11.1 -7.7,6.9 5.6-7.8 2.1,8.3 -5.4-2.2 1.9,0.4 0.9-3.1 2.5-4.1 -5.6,10.5 4.6-1.2 0.9-5.6 -1.4,12.4 0-7.2 2.7,4.1 -2.6,3.3 -0.7,2.7 -0.8,1.4 2.2-13.3 -2.4,1.9 2.3,2.5 -1.6-3.1 2.5,3.5 -4.8,6.3 2,1.7 0.4-8.9 0,0.1 1.6-3 -1.9,11.7 1.1-2.9 2.4,3.6 -3-9.5 -4.9,5.9 -1.1,2 5-0.7 -2.8,2.9 1.4,0.3 -1.5-5.7 3.5,6.1 -0.6-6.7 -6,7.5 3.2,4.2 -1.6,3.6 -2.9-1 4.5-6.6 -2.2,7.9 1.1-9.9 4.6-5.6 -3.1,5.4 -0.8,11.5 -4.1,6.3 -2.4-13.6 5.6-6.9 -4.1,12.3 0.4-4.6 -1.4,5 0.8,1.4 5.2-11.5 -7,12.7 -0.4-6.4 0.7-4.6 -0.2,9.2 -4.2-6.6 -1.7,16.9 2.4-12.5 0.5,4.2 -2.1-11 -0.9,13.1 -0.3,4.4 0.8-12.3 0.3,15.2 -4.4-6.4 2.3,4.4 1.6-11.7 -1.7,8.5 -3.7-2 2,3 0.4,5 1.4,4.1 -6.7-14.4 5.3,3.8 -3.4,9.2 1-4.9 0.6-6.7 -4.4,15.2 -0.7-18 1.3,11.4 1.5-0.5 -3.9-5.4 -2.7,7.3 1.2,5 2-10.9 1.3,1.2 -4.9,0.1 -0.1,10.1 -0.3,1.1 -0.6-8.2 -2.7,7 0.7,7.9 0.9-8.5 -1.1-5.3 -0.8,7.1 -3.4-7.6 0.6,8.3 -1.2-1.3 3.9,4.6 0.2-4.4 -3.6-0.6 2.4-5.7 -5.5,5.7 -0.8-4 -3,18.2 3-13.3 -2.5,2.4 0.7,3.7 0.2-5.3 -2.6,5.1 -3.1-3.8 2,2.1 -0.9-3.8 -0.4,7.1 0.7-11.6 -3,6.2 -1-6.5 4.5,6.2 -2.5,3.3 -3.8-0.8 -2.9,4.9 0.5,2.2 1.2-6.5 0.4-0.2 3.2,0.3 -7.6,3.8 0.3,2.5 -2.2-4.4 0.4,6.8 -2.3-14 -2.4,9.8 4.5-8.2 -3,12.6 2-9.7 -5.4,5.9 1.1-6.7 0.2,0 -7.2,17.4 0.3-14.8 4.8,9.6 -2.8-12.8 -5.7,10.8 2.1,3.8 -1.8-8.8 0.7,2.5 4.5,1.6 -6.4,2.8 5.8-10.8 -6.6,13.7 -2.1-1.6 4.9-17.8 -2.2,14.5 0.2-6.4 0.6-1.4 -3.2-0.8 -0.4,0.2 -8.2,22.8 1.3-11.9 2.3-10.8 -1.3,10.5 0.3-14.1 -3.9,10.3 3.6,4.5 1.3-10.7 -4.7-4.3 0.1,12.8 -1.9-5.6 0.5,6.6 -2.8-0.2 -2.8-2.2 1-3.3 -1,1 -5.2,3.7 3.6-14.5 -0.9,18.2 -0.3,3.6 -3.1-11 2-0.1 -0.2,8 -4.8-13.8 2.3,10.5 0.5,2.6 -1.2-9.4 -5.3,2 -1.2-8.8 2.5,18 -3.7,0.6 8.6-12 -9.7,7 -0.8-2.1 3.2,0.4 -3.7,6.4 -6-2.3 5.1-10.4 -3.1,1.1 0.7,6.4 -3.9-4.3 1.2-0.9 1.4,3.1 -0.5-1.1 -3.6-0.3 0-15.3 -0.8,13.7 2.2,3.3 -1.6-3.5 -3.7,3.9 4.3-12.7 -3.9,19.5 2.1-7.9 -4.5-7.9 2.7-0.4 -1.8,2.5 -0.2-4.3 0.8,9.5 -1-9.1 -1.2,8.1 -0.6,0.4 -4.8-7 2.9,4.1 -6.6,1.4 -0.9-5.5 5,4.7 -0.6-9.2 4-12.3 -2.5,14 0.5-7.4 -4.5,3.2 1.8,8.8 1.5-1.3 -2.5-6.4 -0.7,11 -1.5-11.4 -3.4,0.3 -0.4-1.7 -2,0.6 4.5-8.7 -2.1,9.6 -1.9-8.7 2.6,1.8 -3.1,1.2 4.2,0 1.8-8.1 -4.2,11.2 -3.9-6.3 -2.7-1.1 9.7,2.2 -4.7,3.8 -5,1.5 5.8-8.8 -8.1,2.5 3-5.7 0.1-6.5 -0.6,1 -2.4,8 9.7-3.9 -8,8.9 1.6-12.9 -1.2,1.5 -4.8,6.7 2.7-3.4 1.9-2.4 2.1,11 -4.2-11.8 1.7-4.1 -2.1,3 2.5,2.4 -9.1-0.8 8.5-9 -3.9-5.6 0.1,3.1 -6.5,6 5-0.8 4.8,2.9 4.5-8.7 -8.5,9.7 -0.2-7.7 3-9.3 -0.7-0.4 -2.5,1.5 1.2,3.1 -0.8-5.7 3,4 0.7,7.7 2.4-13.9 -2.4,1.2 -0.5,9.1 -1.6-6.5 2.5,7.9 -5.8-7.9 8.7-15.9 -5,12.5 3-13.6 -6.1,9 5.5,0.8 -1.6,5.7 -2-13.4 -1.3,0.3 -0.1,11 7.6-11.8 -1.8-8.1 -2.7,11 0.2-7.3 -2.1,13.3 -3.2-4.5 0-10 3.9,7 1.5-0.5 -2.7,0.6 5.7-10.3 -0.4,5.9 -1-8.3 -5.4-1.1 4.6-9.2 1.1,9 -3.6-9.7 -2.2,6.3 12.1-4.5 -3.5-2.7 -2.7-4.7 6-4.7 -1,3.8 -1.4,4.7 -0.4-5.7 2,1.1 2.3-2.1 -3.6,0.9 -0.7-9 3.2,13.6 -9.5-0.9 8.9-1 -1.3-10.9 1.5-3.2 -0.1-2.2 2.2,7.1 -0.3-2.9 0.3-5 0,2.3 2.1-2.8 -2.2,1 4.7-4.3 -7,5.8 5.8-7.7 1.5,8.7 -4.5-3.7 3,2.2 5.4-11.1 -3.5,4.9 -1.8-6.7 -5.5-1.3 10.4,6.2 -0.2-3.2 1.9-8.2 4.5-9.8 -5.1,6.1 1,0.3 -1.6,3 2.5-0.3 0.6-5.7 2.8-3.3 0.1,1 -2.9,5.2 1.6,3.8 5.8-8.7 -6,0.5 5.6-0.1 2.9-10.8 -1.8,10 -0.6-6.6 3.8-6.7 -2.2-1.9 -0.3,2.5 0.1-6.1 4.7,6.1 -0.5,0.6 2.9-12.8 -4.3,12.8 0.7-5.2 0.6,7.5 2.4-17.8 -1.9,2.7 5.5,3.8 -0.8,5.2 -3.2-9.6 -4.7,2.2 3.8-8.1 9.8-10.5 -3.2,10.1 1.5,0.9 -0.8-0.1 3-2.2 -5.5,8.6 0.6-3.6 1.7-6.2 5.7,4.3 2.5-4.1 -0.1-14.4 -0.6,10.1 -2.5-7.1 6.5-6.3 -2,6.6 1.4-6 0.8,4.4 -0.1,3.2 0-4.8 1.2-2.3 -1.1-0.2 5.1-3.5 -0.3,2.1 4-10.9 -6.8,10.5 9-5 -2.7-6.2 0.8,9.4 -1-5.3 0.7-9 -0.9,7.6 7.3-12.4 -2,9.8 3.4-1.3 1.1-3 -2.7,3.3 1.5-2.6 0.6-0.4 4.5-9.9 -1.6,2.6 1,2.2" fill="none" stroke="#a9a9a9" stroke-width="4.5" stroke-linejoin="bevel"/>
<path d="M1261,526L1445.6,387.8M1445.6,387.8L1444.6,74M1250.8,502.2L1566,591.7M1250.8,502.2L1240.4,169.7M1229.2,484.6L1416.3,349.8M1416.3,349.8L1717.1,424.9M1384.6,561.6L1562.5,417.6M1562.5,417.6L1566.7,98.7M1327.4,445.9L1635.5,529.1M1327.4,445.9L1320.9,122.5M1224.7,353.6L1415.4,227.5M1415.4,227.5L1721.5,297.6M1513.6,598.7L1684.2,448.6M1684.2,448.6L1694,124.3M1399,393.2L1700.2,470.9M1399,393.2L1395.9,78.6M1220.1,217.7L1414.5,100.9M1414.5,100.9L1726.2,165.5" fill="none" stroke="#9a9a9a" stroke-opacity="0.8" stroke-width="2"/>
<path d="M1416.5,380.3L1414.2,67.9M1230.3,517.2L1416.5,380.3M1416.5,380.3L1716,456.7" fill="none" stroke="#e4e4e4" stroke-width="1.2"/>
<path d="M1620,240.6l-18.1,4.2 30.3,1 -20.8-0.6 16.2-0.2 -1.8-11.5 2.2,1.8 -7.3,0.3 -2.7-7.8 9.5-4.3 -1.3-9.3 -10.5,2.2 29,5.7 -7.6-9 5.8-12.1 -16.7,20.7 9.8-2.3 -0.8-10.5 3.3-2.7 -9.2-9.8 -7.3-3.3 6.2-5.5 -14.9,14.8 10-15.2 2.5,9.9 -5.2-11.1 6.5,1.8 -5.9-2 15.7,6 -4.3-7.7 -11.5,3.2 3.5-0.2 -10.6-3.6 -2.6,4.9 13-18.1 -16.4,3.5 1.4-3.4 -8,10.3 9,3.7 8.2-8.6 -21.3-1.7 4.6-6.5 -11.1-1.6 2.2-6.1 -4.2-1.7 16.4,3.6 -3.8,8.1 -13.4,3.1 -9.6-9.8 8.2,5.6 -14.4,4.5 8.7-11 -7,2.3 -5-2.6 -2.6,10.2 -4.5-15.4 -0.5,3.7 -15.7,5.7 5.4,3.4 -5.5-0.8 -2.8,7.4 -6.7-17.1 -0.7,19.7 0.9-12.7 -13.1,3.7 -1.5,3.9 -5.2,0.6 2.7,2 1.7-4.2 -7.2,1.5 -5.9,0.4 2.3,12.9 -19.6,0.9 15.1-18.9 -15,15.7 -17.8,4.6 23.6-8.3 -6.1,13.4 -17.7-13.6 -1,3.9 -3,3.5 -3-1.5 -8.9,11.7 -4.9,5.3 6.3-5.6 -6.2,1.5 -2.7,6.1 -4-5.7 7.1,12 -24.6,10.6 9.5-16.6 -22.5,9 0.2-3.1 10.7-2.9 -11.9,9.6 3.2,1.8 -8.1,11.7 -4.5-11.2 -2.5,8.5 -1.5,1.5 0.6-3.3 -4,20.6 -11.1-1.9 -3.5-1.5 -6.5-2.6 6.3,21.8 -4.9-7 -1.1-6.2 5.7,20 -9.3-0.3 -6.9-10.4 -9.9,3.4 4.1,9.8 -5.2,9.9 -2.9,2.7 1.6,2.6 -5.9,8.5 6.4,3 -4.7-5.4 -0.8,4.5 -8.6,1.1 10.4,11.1 -8.6,10.4 10.6-9.9 -8.5,6.9 -0.5,11.1 -14.8,3.2 7.3-0.9 5.9,9.7 -11.4-6 7.9,3.7 -0.7,4.6 -5.5,9.2 9.3-3.1 -1.7,13.4 -17.4,1 8.7-0.9 -9.8,2.1 -0.4,9 5.9,1.5 9.2,3.5" fill="none" stroke="#d51020" stroke-width="2.3" stroke-linejoin="miter"/>
<path d="M1335.5,379.7l-0.7,0.5 -2.2,14.7 -10.4-4.9 19.8,7.7 -0.9,6.2 -8.7,1.1 -5.7,6.2 13.2-8.6 0,14 4.4-4.9 -13.5-2.8 17.8,12.2 6.9,7.3 -19.7,2.7 19.6,3.4 -2.7,12.4 -5-4.2 13.9,8 -15.7-4.2 7.3,19.2 14.8-6.3 -3.8-6.7 -0.1,2.1 -0.5,20.1 5.9-9.9 12.6-11.2 -13.3,12 6.6,13.4 2.3,8.5 12.8-5 -2.1-6.2 -16.3,5.4 17.7,4.3 5.1-7.9 6.2,8.5 13.2,1.3 -12.5,15 5.6-24.3 14.5,23.9 -2.6,1.2 9.8-7.4 0.6,2.4 -4.5-0.9 12.3,8.7 10.2-1.4 -1.9,1.8 6.5,4.4 -4.1,2.6 7.7-2.8 3.4-1 18.2,6.4 -16.1,9.2 7-18.3 8.3,2 11.3-3.6 -6.7,15.8 4.3-1 2.8,2.5 6.9-7 -0.1-4.4 0.5-8.4 20.8-3.1 -4.8,3.4 3,19.9 9.8,2.5 2.3-9.3 2,0.8 18-13.1 -7.5,7.3 1.1-2 2.9,4 -2-5.5 3.9,3.4 10.9-10 -0.2,10.5 -8.1-9 17,0.4 6.8-10.8 -3.1,3.6 -5.1-8.1 9.8,3.3 12.1-0.4 -1.7,6.8 -2.2-8.2 14-3.2 -7.8-5.7 2.7,6.7 15.9-14.9 -8.8-4.1 2.2,5.5 12.1-0.2 -9.9-2.6 3.8-4.7 3.5-1.1 9.5,4.7 -19.5-11.1 11.6,5 -3.1-10.7 3.6-8.9 1.7,7.8 2-10.5 7.8,2.4 -6.3-3.7 6.6-16.8 -2.6,7.3 2.6-9.2 0.6,6.8 9.6-6.9 -8.3-0.4 -0.2-12.2 -1.8,9.1 -0.9-12.2 7.9-1.3 3.9,2.1 -10-22.3 1.3,3.5 1.7,11.2 -3-7 2.7-6.5 -8.1-3.8 0.1-4.4 -1.4,3.4 11.4-2.7 -10.5-15 -1.4-6 -7.7,14.5 5.7-18 0.8,4.4 -2.6-5.1 6.4-4 -9.3-5.3 4.2-9.6 -8.4-4.6 -6.3,7 -7.2-8.3 2.7-14 -5-1.5 1.1,1.3 -17.6,1.4 18.6-10.6" fill="none" stroke="#da141e" stroke-width="2.3" stroke-linejoin="miter"/>
<path d="M1592,304.9l-7.1-8.8 -8.7,12 1.8-18.9 -4.1,8.8 0.8-9.9 -16.7,7.7 3.7-9.7 1.7,2.2 -2.4-7 -7.6-7.9 -1.7,5.6 -6.7-5.1 1.5-7.5 4.4,3 -17.6-17.4 11.3,18.5 -8.8-24.8 -9.5,13.4 -0.1-8.6 -11.5-11.2 -3.9,2.5 -5,11.3 2.9-9.1 -4.3-4 -8.7-2.6 3-6.7 -12.4-7.3 4.5,2 -16.8,11.8 5.1-15.9 -4.9,15.3 -0.9-18.1 -10,8.1 -2,2.5 -0.6-15.1 1.4,2.8 -6.1-6.2 -12.4,12 -0.6-5 -6.5-6.9 8.7-0.5 -22.7-4.1 15.4,4.4 -13.9-3.9 -7,4.3 10-19.4 -10.3,15.5 2.6-3.2 -7.8-6 -4-3.5 7.9-2 -15.3,6.8 -7.9-0.1 11.6-5.3 -12.5,12 -5.6-3.3 -6.7-4.5 -2.7-7.1 5.2-6.7 -9.4,3 1.7,5.8 -3-9.8 0,6.6 -12.8-10.3 0.6,8 3.9,9.6 -12.1-9.8 1.7,1.8 -13.7,4.9 12.3,3.4 -11.9,2 4.7-13.3 -12-9.4 13.5,10.1 -3.4-7.7 -1.1,22.2 -9.5-18.6 2.5-3.9 13.3,5.8 -18.9,14.1 -0.6-11.4 6.9,5 -11.3-3.2 10.2,14.1 -1.4-0.3 -6.9-2.1 -7.8-5.2 20.7,3.9 -7.3-2.2 1.8,0.4 2,3.9 -8.1,0.3 -5,9.2 2.6-7.3 -4.5-0.4 12.5,8.2 -8.5-1.1 15.7,7.2 -10.4-1 -8.6,8.1 17.1,5.4 4.8-11.5 -8.5,2.1 -4.7,7.4 16.5-18.7 1.4,25.6 -10.5-12.5 6.7,2.1 3.8,8.3 -0.7-5.6 -5.6,2.5 7.1,7.7 3.3,6.2 7.6,4.5 -2.5-4.5 9.8-6.7 1.1,5.4 -10.6,5.8 14.4,1.4 3.5,1.7 0.6-5 8.7,16.7 -8.5-7.2 5.5,1.5 11.7,12 -9.3,2.6 -1.6-14.3 21.1,11.6 -4.7,2.6 6.7,0 -3.1-4.3 2.4,9 11.4-11.9 6.7,15.8 5.7,7.8 -8-7.4 18.7,12.3 -8-3 5.7-8.5 20.9-4.1" fill="none" stroke="#dd161d" stroke-width="2.3" stroke-linejoin="miter"/>
<path d="M1456.5,277.5l-4.6,11.1 -3.6,2.6 18.5,16.1 -7.7-3.1 15-8.7 -1.2,6.8 12.6,6.7 -5.3-1.9 10.5-7.6 -2.7,1.1 10.6,12.8 -5.3-2.5 3.3-2 25.5,3.6 -10.9,5.1 2.4,13 19.2,2.5 -11.3,4.2 -1.1,1.1 10.4-8.7 -4.3-4.9 15.3,12.8 6.9-8.6 -7.7,0.4 2.1,5.5 8.8,10.4 3.4-17.3 -2.9,1.1 15.6,12.4 -11.3-17.2 10.6,16 -0.2,9 8.4-4.5 1.4,14.4 -1.3-13.2 12.3,11.3 -2.7-15.4 -0.5,5.8 -1,10.1 10.9-16.3 4.6,21.5 -4.4-12.4 10.9-2.1 6.1,5.7 3.4,6.6 -0.8,0 -7.8-1.6 8.7-10.7 4.7,1.7 -2.9-1.1 7,1.5 -2.8,10.8 2.1,7.2 3.1-7.5 -0.4-1.5 1.2,13.7 -0.8-7.2 -1.6-12.6 -0.7,19.1 0.8,1.6 0.8-8.6 6.3,1.1 -7-0.8 10.8-0.8 -10.9,10.1 1.8-14.4 9.6,8.5 -10.6-0.6 -7-3.7 1.1-2.3 5.6,10.3 8.2,7 -13.6-3.2 5.3-1.7 -9.3,8.6 2.1-8.9 5.1-13 4.2,10 -10.9-13.3 -2,29.6 0.2-18.6 -14-5.5 6.4-2.1 -2.2,10.8 -11.8-1.1 11.8-2.2 -2.8,9.3 -8.4-4.9 -6.6,6.1 13.8-7.6 -8-1.4 1.5-8.3 0.1,7.2 -12.1,3.2 -3.2,4.4 -5.2,3.1 -1-7.7 -4.3,2.5 1.5-6.5 1.8-0.7 -10.4,17.1 -3.9-13.6 -1-4.4 -4.3,14.9 -9.2-18.7 1.3,13.1 -2-16.2 -3.8,7.2 -3.9,1.8 -5.1,2.8 6.2,1.8 -8,11.6 -5.7-3.8 -12.7,11.1 14.9-16.6 -11.5,3.9 -7.9-6.6 -2.6,2.2 -0.5,8.6 -1.2-7.5 -8.2-0.8 9.5,1 -21.9-2 4.4,4.6 -13.2-1 9.3-1.5 -14.1,9.1 -3,2.3 3.5-2.7 -9-4.1 -11.8,2.5 2.3-12.8 -12.5,29.8 5.5-12.2 -6.3-0.2 -2-6 -4.2-6.6 -0.6,8.2 -7.6,6.4 -0.6-5.9" fill="none" stroke="#e2191c" stroke-width="2.3" stroke-linejoin="miter"/>
<path d="M1420.3,384.9l3.7-4.1 -19,18.4 7.3-16.2 -14,8.4 7.7,3.2 -16,0.9 7.2-7.6 -8.1,1.4 5.4,4.1 -4.9,4.2 -5.6-7 -3,8.5 -3.3-6.4 -6.8,1 4.1,1.3 -3.9-3.2 -8,5.2 9.3-5 -5.6,15.5 -14.3-12.4 0,1.3 8,9.4 -1.2-3.5 -8.1,9.6 -5.7-15.4 2.5,2.7 -0.8,11 -13.7-12.1 10.1,6.3 -5.2-8.5 1.1,1.9 -1.1,6.2 -9.1,0.6 7.1-0.5 0.1-1.7 -1.9-0.1 -2.4,13.8 -2.3-10.1 -9,5.7 18.5,2 -5.7-15.5 -7.6-1.1 6.4,12.5 1.3,3 -2.6-10.6 5.8,11.1 -4.8-0.3 -5.7,4.6 6.5-13 -6.5-8.4 12.4,8.5 -6,2.2 8.9-4.5 -4.7-3.8 -9.4-6.7 2.2,10.7 3.9-1.7 -0.2,11.2 4.9-6 -0.9,9 7.1-24.2 -1.8,11.9 -2.9,1.2 10.2,5.7 -0.5-3.8 1.1,11.1 -3.5-31.4 0.1,18 22.3-8.7 -16.6,10.5 12.8-8.5 4-0.4 1.5-2.8 0.8-0.5 0.6,2.6 14.9-4.3 5.2-7.1 -7,3.8 -5.8-3.7 8.4,1.8 20.7,1.9 -2.7-2.3 1.2-1.2 6,5.1 -3.4-16.4 7,12.8 3.4-6.7 6.4-9.5 -6.4-5.4 14.8,11.5 7.1-4.7 -13.3-5.1 6.7-1 12.1,5.6 0.2-11.8 -2.3-4.7 20.3,3.4 0.9-9.4 2.5,0.8 8.6,13.2 1.4-14.5 -1.9-13.5 8.7,15.6 -5.3-4.2 10.8-2.4 12.1-9.2 -1.3,6.7 1.8-10.6 17.7-3.1 0.4,5.5 6.2-4 0.9,2.3 1-9.9 9.1,6.1 -3.9-7.8 14.3-1.5 -13.4-3.2 11.1-13.8 -6.3-5.9 8.9,22.1 11.5-12.1 6.3-6.3 -7.3,2 2.3-1.4 9-13.5 -0.8-9 0.4-1.8 11.4,6.9 -7.4-7.1 10.6,4.4 9.5-9.3 -7.4,7.4 4.4-2.2 2.9-13.5 14.2-2.4 -13.4-6.7 15.5,19 2-17.8 -6.8,1.4 -4.1-7.8" fill="none" stroke="#e51e1d" stroke-width="2.3" stroke-linejoin="miter"/>
<path d="M1603.4,247.1l19.9,4.1 4.8-13.5 -17.6,4.5 10.4-10.5 6.4-0.9 3.4,9.3 8-9.2 -18.2-12.1 7.6,7.6 -10.2-9.7 21.4,3.6 -14.9,0.1 -5.6-10 10.2-3.4 -3.5-0.9 13-1.9 -6.9,6.9 1.4-13.1 -0.3,14.5 5.3-8.5 -9.2-3.4 6.1-6.1 -7.6,2.5 1.5-13 -2.8,12.7 1.1-12 -12.7,4.7 17.1-1.7 -12.4,0.9 3.7-3.1 6.7-6.7 -9.6-3.6 -8.1,5 -1,2.1 8.8-9.1 -2.6,0.3 -3.5-3.5 -0.3-6.1 -11.9,13.4 6.3-18.7 -16.6,30.1 14.7-24.9 -12.2,13.7 -3.3-19.5 4,19.4 1.8-17.4 -28.6,13.1 13.4,2.6 -6-16.5 8.9,2.8 9,7.4 -19.2-21.2 -3.3,18.8 -4.6-11.6 -6.6,20.2 0.5-1.4 1.3-6.3 -14.7,4.1 6.7-3.5 -15.4,12.3 2.9-12 5.6,2.7 -7.5,3.5 -13.9-6.7 -2.4,3.5 -1.1,1.5 -4.1-4.4 3.3,4.6 -19.8,0.3 11.1-6.5 -2.5,9 -5.6-3.1 -4.1,8.4 1.2-3.3 -4.9-2 -6.7,11.3 -9.3,9.5 3,1.1 -17.8-7.3 12.8-4 -12.3,4.6 -3.8,2.8 -9-2.2 -12.6,2.4 5.5-1.5 -8.2,15.3 5.8-5.6 -16.1,0.9 14.5,12.7 -10.2-4.7 -10.8,11 1-6.7 -3.9-1.3 -10.8,18.2 3.3-4.1 0.8,1.9 -7.1-0.8 -6.3,4.2 0.4-1.1 -3.9,7.8 -0.4,3.7 4.2-0.8 -7.4,2.1 -6.9,2.5 -10.8,3.7 -3.9-1.4 -5.1,1.4 10.3,15.5 -10.5,3.9 3.5,4.8 -6.2-13.4 0.6,19.9 4.3,7.4 -12.3-8.5 3.2-3.2 -5.2,16.9 1.2,2.5 -8.4,7 -4.6,0.6 -2.6-10.5 -2.1,12.4 6.7,9.2 6.8,5.8 -22.2,0.2 15.8,3.3 -1.8,7.3 -13.7,6.1 6.7-16.4 -2.9,21.6 -1.5-9.4 9.5,20.3 -18.3-13.8 11.3,9.9 -6.9,13.5 2.2-15.3 2.8,22.5 -3.2,5.3 5.4,0.3 -0.5,5 2.3,1.2" fill="none" stroke="#e7231e" stroke-width="2.3" stroke-linejoin="miter"/>
<path d="M1333.3,383.8l-12.7,3.4 15.7,6.2 2.5-5 -3.7,20.1 1,0.8 -3.8-6.7 6.4,3.3 -9.2-1.2 2.6,5.4 11.3,5.5 -6.8,2.3 1.1-5.9 -7.9,22.3 19-0.3 0.5-1 -9.6,6.4 1.4,6.2 18.2,8.4 -10.5-0.6 3.9-3.4 1.2,7.8 9.1,7.2 12.5,3.7 -5.5-14.6 -4.2,7.9 2.8-4 13.8,16.4 -9-2.1 12.3,10 6.5-1.8 -7.7,5.2 12.7-2.3 2.6,14.1 3.4-3.4 -6.6-9.9 18.2,18.4 -14.1-2.1 7.2-8.5 13.3-5 -6.8,16.3 3.7-5.7 -3-4.1 11.2,2 10,20.4 8.9,1.2 0.1-12.7 8.8,5.1 -4.2,2.5 6.5-0.3 8-3.5 -4.3,2.8 4.7,1.1 5.1,5.9 4.2,5.4 9.4-27.1 9.3,7.4 -3.3,0.8 10.6,11.9 -0.6-3.5 -1.3,0 12.8-6.3 -4,20.1 2.3-14.5 11.4,2.7 -1.3,5.5 9.9-2.9 1.8-8.9 -9.2-0.7 12.2,3.1 3.1-8.8 8.1,7.2 -2.2,3.9 5.1-5.9 7.5,4 2.4-6.4 -6.3-5.8 22,3 -3.7,2 0.2-14.7 7.6,6.9 -4.9-8.2 16.6,2.2 -7.1,6.8 -5.5,0.6 11.2-3.8 -8.1-11.5 15.8-3.7 0.6,4.2 -1,2.6 3.1-14.4 -15.3-3.1 27.9-5.1 -14.9,6.7 19.2-3.4 5.4-15.8 -8.2,14.9 -2.4-8.7 8.2-15.1 -2.4,18.6 0.1-18.8 -0.1,1.4 -3.2-0.2 14.2-4.5 -7.1,4.9 4.3,5.3 -2.1-31.2 7.1,5.3 -1.1-10 -0.5-0.2 2.5,1.4 -2.1-5.8 -2.6-7.8 -3.2-6.4 10.4,7.6 -10.1-10.5 3.1,2.3 12.2-3.5 -10.6-0.3 -7.1-3.1 1.4-11.3 11.3-6.3 -10.8,0 2.3-1.1 -7.7-13.1 -11.4,7.2 -2.7-2.3 12.3-5.9 -4.6,3.4 -1.4-2.9 -10.4-8.5 -1-3.1 0.8,3.3 -5-12.6 9.7,1.4 1.5-2.9 8,3.9 -16-12 -11.5-14.8 3-4.1 -19.7-4.4" fill="none" stroke="#ea2920" stroke-width="2.3" stroke-linejoin="miter"/>
<path d="M1568.3,300l12.3,5.9 -0.6-8.9 4.9,6.4 -5.8-4.1 -3.9-8.1 -4.8,7.3 -4.9-7.9 1.5-4 -14.6-14.9 0.2,10.9 -8.2-10.3 12.4,6.1 -5.7-3.3 -7.5,9.6 -16.3-12.9 9.7-17.6 -6.3,0.8 -5.8,2.4 -1.4-18.6 -0.5,9.4 -9.2,7.1 -2.4-3.5 -5.2-5.2 -4.9-13.6 2.8,8.1 -11.9-5.8 3.8-4.9 -11.3,8.1 0.6-7.7 -5.1,7.5 -15.7-10.9 5.9,15.2 -4.3-20.9 3.1-10.9 -6.9,6.5 -9.9-4.9 -0.4-1.5 -10-7.3 -0.1,3.8 -2.2-7 1,12.3 -7.7-3.2 2.9,0.5 -11.1-5.1 -2.6,4.3 -7.6-13.1 -1.7,2.8 4.6,0.6 -12.5,4.8 1.7,7.2 -14-10.2 7.5-7.7 -6.8,0 -2.8,18.2 -2.1-7.6 3.5-14.2 7.1,8.2 -20.9-5.9 0.7,1.4 -2.4-6.8 -16.2,9.9 7.5-3 -2.7-12.7 5.6,7.9 -8.3,2.6 -7.1-7 1,1.3 -4.4,9.9 -5.2-10.6 -2.1,2.4 -5.7,1.7 3.9-5 6.3,12.1 -2.1-5.9 5.1-3.5 -13.5,10.5 7.1-2.9 -3.1-9.8 -8.4,18.3 2.5-5.4 -2-2 -10.7,9.3 8-15.7 -5.4-3.5 0.3,5.3 -3.5,3.6 -13.5,1.9 13.2,5.5 -9.6,2 10.2,7.9 3.7-17.4 0.1,4.8 2.8,12.3 1.9,0.6 -5.5-3.4 6.6,9 4.6-3.6 -11.3-5.5 8.3-0.4 0.3,15.2 -2.6-5.7 12.2,3 -19.9,6.1 8.6-15.1 0.3,7.6 1.2,8.6 0.9-0.2 -5.3,3.3 6.7-6.4 11.7,13 -5.3-2.4 5.1,6.4 -4.6-5.5 9.7,3.4 -1.1,8.2 5.2-1.6 -0.7-4.2 20.7,7.3 -8.3,3.4 1.6-1.5 6.4,6.7 10.6-9.8 -6.4,3.8 4.2,27.9 3.8-11.7 0.9,4.9 3-10.1 3.5,3.7 8.9,14.2 1.3,0.2 4.9-5.4 5.7,5 -4.6-2.7 9.2,2.4 0.7,0.2 -3.6-6.1 22,7.6 -4.2,7.8 -12.4,9.3 17.8-0.8" fill="none" stroke="#ed2e21" stroke-width="2.3" stroke-linejoin="miter"/>
<path d="M1443,298.4l-0.3-8.1 21.6,4.4 -7.1,0.9 -4.6,5.9 15,5.4 9-10.5 11,2.9 -14.5,5.3 -1.8,0.7 16.6,11.4 2.9-7.3 2.1,2.3 -4.1,7.7 21.2-13.9 10.3,20.2 -16.8-13.4 23.8,10.4 -8.6-0.6 16.5,13.7 -8.6-0.8 3.6-9.3 12.7,7.2 1.9,0.6 -0.3-9.1 6.2,7.7 -3.7,3.5 1.1-4.1 25.6-3.7 -14.2,13.1 4.2-4.3 11.4,0 -10.1,11.9 3.2,5.4 2.4-5.9 12.2-10.7 4.3,7.3 7,7.9 -7.5,0.8 6-4.9 6.1,5.3 -6.8,6.5 12.9-13.7 -10.2,6.8 20-3 -4.8-1 2.7-3.9 -11.2,8 13,4.2 -1,9.1 6.8-9.3 -7.1,5.5 0.8-11.3 12.8,1.3 -5.1,9 -6-6.3 14.4,7.7 -10,0.9 4.7,1.8 -1.8,1.7 -5.8-2.3 4.9-6.3 7.3,6.4 3.3-1.4 2.2-10.4 -9.1,18.9 6.7-1.1 -3.7-7.6 -0.4-2.9 2.9-5.2 -9.1,8.2 10,10.4 -14.8,4.2 -1.8-11.3 11.9,3.4 -7.6-5.5 1.2,5.3 -19.3-13.4 18.9,18 -0.5-9.4 1,0.7 -6.8,12.5 5.6-8.4 -12.9,0.1 2.8,2.7 -7.6-9.8 -4.3,11.1 4.6-14.5 -1.5,3.9 -13,10.9 5.4,11.5 -4.6-21.6 -4.3,3.7 1.4,4.4 -4.1,2.8 -9.6,2 2.1,1 11.3-20.4 -20.5,2.3 2.8,16.4 -0.2-13.4 -5.1,22.3 -3.6-22.9 -6.5,7.3 0.8,7.9 2-2.8 -17.5,7.1 -4.5-7.4 8.3-5 -4.5,3.4 -7.9,3.1 -6.5-6.3 5.8,13.9 -6.3-19.9 -2,14 -13.9,4.7 -1.4,0.2 1-3.2 -9.1-4.4 -1.2,3.8 -1.4,12.1 -6.9-19.1 -0.7-0.6 -13.9,14.2 3.7-12.3 -2.2,2.7 -0.8-1.2 -0.2-1.8 -14.9,14.3 -6.7-10.6 4.2,12.6 3.6-22.7 -5.9,28.5 -2.9-6 -13.1-12.7 3.7,5.9 -13.2,2.8 -5.9-1.4 13.6,4.8 -15.2-8.1 1.8,11.9" fill="none" stroke="#f03523" stroke-width="2.3" stroke-linejoin="miter"/>
<path d="M1422.2,392.7l-8.3,2.6 9.3-2.9 -10.1-4.7 -11.2,10.3 -8.9,1.1 -0.2-12.3 10.3,12.8 -3.2-4.5 -6.9-1.7 -3.6-0.5 -3-9.4 -4.6-3.3 3.1,10 -4.8-5.1 -10.2,15.7 0.7-12.1 -2.2,11.7 2.1-7 1.3-1.4 -16.5,10.7 0.7,2.3 9.2-2.3 -14.9-6.2 0.3,3.3 5.6,4 -1.9,2.6 -13.7,0.8 -1.1-4 3.4,6.9 -10-7.7 5.9-4.8 0.7,11.3 -8.4,6.9 4.2-10.1 14.4-2.6 -10,2.5 0.6-1.2 -13.3,12.8 -0.6-17.4 3.7,6.8 -4.1-5.2 2.7,3 -1.7,0.6 2.1,1 -5.1,9.3 -1-28 -1.2,26.8 8.6-6.9 0.1,3.7 3.9-1.1 3.3-11.5 -6.4,17.5 4.7-8.2 -9.5-6.8 19.8,6.9 1.5-7.5 -10.9,8.3 -5,4.9 10.1-0.8 -7-10.8 4.5-4 9.9,5.4 -2-10.3 0.5,6.7 10.2,0.3 -7.8-3.5 3.1,17.1 -0.2-16.8 -3.8,12.3 19.6-10.9 -4.2-19.8 18.7,24 -13.6-9.9 19.3-0.8 -16.5-1.6 11.7,2.1 -10.4,2.9 4.6-18.5 12.1,24.7 10.5-9.8 -4.7-20.8 10.3,12.2 -4.3,2.1 8.3,0.8 1.9-2.8 2-17 -5.9,6.3 20.1,13.9 1.6-13.4 -0.8,1.9 0.7-15.6 0.5,4.7 7.8-8.8 10.2,10.5 4.7-18.6 -7.6,12.5 12.5-4.2 16.5,8.1 -9.4-5.8 0.5-5.8 21.1,1.1 -4.3-19.1 6.2,9.6 0.6,1.6 -3.1-12.8 6.3,7.6 10.7-9.4 3.9,2.3 3.5,5 8.4-17.7 3.4,4.4 3.1-8 -2.8,4.7 -3.2,3.5 12.9-1.7 -0.7-6 4.1-3.3 13-8.9 -6.4-3.1 6.7,6.6 4.5-7 9.2,3.2 -3.4-5 20.4-29.3 -11.6,12.6 -1.1,6.3 14.5-18.7 13.7,1.5 -19.9,3.9 19.6-8.8 5.5,7 -2.2,0.9 -5-4.9 15.1-5.7 -9.4,7.2 2.2-9.1 2.3-8.4 4.1,6.2 8.9-15.8 -6.2-6.8" fill="none" stroke="#f23924" stroke-width="2.3" stroke-linejoin="miter"/>
<path d="M1610.7,237.3l8.7,17.2 -4.6-23 -2.8,11.7 15.3-1.5 -3.1-6.7 5.2-8.2 -11.4,6.2 13,0.1 -3.2-4.2 8.1,0.6 -10.7-14.9 2.4,9.4 -1.7-5.9 -6-8 7.3,1.9 10-9.4 -7.4,6.3 -7.2,2.4 13-20.4 -0.8,2.2 -0.8,7.1 -8.7-9.5 -2.1,6 10.8,0.5 -9.9-10.7 -5.5,3.3 11-8.3 6.6,15.3 -20.1-17.2 -6.5-1 2.5,6.5 -0.6-1.4 2.7-0.3 3.6,4.2 -1.4-9.7 -5.8-9 -1.6,16.4 -3.5-12.2 -0.4,14 -6.5-11.3 18-4.9 -15.6,2.2 -12.8-2 3.8,1.1 -7.5-4.6 -3,2.8 -3.2-6.6 0.9,1.1 5,5.4 -10.2-12.5 -9.6,13.7 -0.5-12.8 -2.2,5.5 0.3,3.4 -1.9-7.5 6.3,3.2 -16.8,3.9 7.6,1.1 -11.2,0 -0.9-1.8 -13.1,0.3 4.7,2.4 2.5,14.7 -1.4-12.3 -7.2-1.5 -7.1-3 -4.4,0.6 -7.8-0.2 -5.4-2.7 8.8,10.8 -9.3,6.3 -3.9-11 -11.6,14.4 5-2.7 -7.1-7.3 -9,5 4.5,4 -3.8,9.4 -7-5.3 0.3-0.9 -7.2,16 -8.1-8.7 5.2-2.5 -15.7,18.6 -2.4-19.7 -9.6,12.3 12.2,3.6 -18.7-12.1 10.5,24.4 -12.4-11.6 -2.9,6.6 -5.3,4.2 2.1,5.9 -3.1-9 3.6,17.6 -10.9-7.2 -2.5,3.4 -9.9,4.3 6.7,3.1 -10.1,5 -8.3-4 3.8,3.4 -1.9,5.6 -5.1,11.5 -0.9-4.6 -10.1,1.7 -2.2,5.1 8.1-5.9 -15.3,20.5 0.5-19.8 7.2,22.3 -27.1,6.5 12.9,5.7 4.7-10.3 -12,1.4 21.5,11.4 -32.2-0.5 19.5,6 -7,11.2 1.4-10.7 -8.2,6 2.7,7.8 -9.4,12.3 6.1-11.3 -7.8,10.2 -3,12.2 8.6-10.7 -10.1,4.9 -2.2,23 0.7,3.2 -3.8-8.6 11.1,12.6 -3.3-4.7 -9.9-14.8 3,6.3 -0.3,18.4 2.7-2.6 -0.5,7.2 -3.5,8.5 6.4,15.6" fill="none" stroke="#f54026" stroke-width="2.3" stroke-linejoin="miter"/>
<path d="M1331.1,393.7l-2.7-17.3 12.3,11 -14.1,5.4 11.3-1 -5.7,10.5 -3.4-8 -1.5,11.9 7.9,6.4 3.9,7.4 9.9-3.6 -1.3-0.4 -5.1,12.4 1.3-5.5 3,11.6 -4.1,10.3 17-5.5 -1.5-2.4 -12.4,5.1 10.1-5.1 9.3,19.1 -4,0.1 4.9-3.8 -2.9,11.2 -2.7,3.1 10,2.9 -0.7,8.1 -7.1-14 24.7,1.8 -10.4,12.2 1.3-5.5 4.2,10 15.2-2 1.9-5.7 -6.8,21 1.2-3.5 10.1,11.4 -7.6-9.1 17.4,0.1 0,2.6 4.8,0.3 20.7,2.8 -7.2-4.4 5.1,13.9 1.1-7.3 1.5,0.6 11.8,5.3 -1.2-4.9 -6.3,3.4 19.8-3.8 -3.1,6.3 7.3,7.2 6.1-16.3 -4,2.2 -1.4,11.9 19.4,6.1 -0.4,0.2 -5.5-6.7 10.9,5.3 3.8-6.5 -3.9,1.6 0.4-5.6 15.4-1.9 9.6,14.8 0.9-6 3.4,1 11.9-2 0.7-2 -15.4-7.6 16.1,11.4 0.2,4.1 0-11.1 9.6-20.7 5.6,20.6 2-5.9 -4,1.9 12.1-10.5 10.4,4 -6.9-2 -2.2-8.7 14.1,13.8 -2.1-3.1 12.7-2.5 -14.2-5.3 16.2,3.8 -2.8-13.1 -2.6,8.1 6-10 0.4,3.1 11.3-1.2 3.4-2.7 -0.1-2.2 4.7-3.8 -1.1-9.6 6.7,1.1 -13.2-5.3 0.7-9.4 20.6,3.9 -16.9-3.5 12.4-9 -0.6,1.6 2.6-5.8 -4.1,3.2 13.8-13.9 -20.5,3.7 17.2,4.4 9.5-8.2 -14-10.1 1.9-3.5 3.2,6.4 8.9-9 -17.8-3.6 3.3,3.4 1.1-9.2 4.3-2.9 -4.5,0.5 7.9-16.5 -8.7,9.2 3-14.1 -8.3-5.2 0-4.3 5,5 -7.1,4 -2.2-0.2 12.4-8.4 -11.4-19 -6.8,16.9 8.3,1.8 -7.7-22.1 1.2,2.1 -5,10.1 6.2-18.5 -7.5-1.8 -9.6,9.1 8.8-23 3.4,15.6 -30.7-17.5 17.8-1.9 1.7,0.4 -11.6,1.2 -0.7-13.5" fill="none" stroke="#f84528" stroke-width="2.3" stroke-linejoin="miter"/>
<path d="M1582,307.4l10.6,3 -13.9-7.5 5.6,5.4 -7.8-9.4 -1.9-12.5 -3.7,9.5 -3.1-6.4 -5.8-2.3 -3-4.1 -7-6.8 2.1-10.7 -1.4,12.2 -3.3-8.8 -16.3,15.7 5.8-22.6 -6.4-1.9 -5.1,4.1 4-21.1 -12.8,19.6 -2.9-18.5 3.4,6.3 0,0.4 -8.9-6.4 -0.8,3.8 -9-4.5 6.4,7.8 -4.3-17 -11.1-8 -10.2,0.8 -12.4-12.2 8.8,12.6 -6.6-0.1 12.1-5.2 -25.1-5 8.4,2.7 -6.2-17.4 1.3,5.3 -20.7-1.7 7.5-4.4 -10,13 6.2-0.6 -4.2-15.2 -12.6,2 8.7-0.2 -11.4-2.1 0.8,2.9 -1.8-1.9 -9.7,0.4 -9.5-3.6 -7.7-6.1 -1.3,2.8 11.2,0.6 -8.3,15.5 -6-23.2 -5.9,15.3 -0.4-9.5 -1.9-16.8 -4.9,16.2 -6.3,7.6 12-16.8 -14.4,11.7 -3.4-5.8 -9.9,1.3 6.2-8.7 -0.1,4.2 -1.3,4.8 -10.4-6.6 0.4,11.7 -2.7-10.7 -6.5,7.3 8-3.8 -8.1,8.4 12.2-0.8 -17.9-15 2.8,16 5.5,0.7 -11.9-8.4 -12,7.4 6.4-1.2 -1,3.3 1.5-13.8 3.9,15.2 3.2-1.7 -4.4,0.5 -4,6.9 -0.5-5.9 -7,0.6 10.6,6.4 -1.1-9.3 2.3,9.9 -6.9,1 2.3-6.5 -10.8-14.3 8.1,28.9 3.2-5.2 3.8-16.1 3.4,24.3 -8.6-10 7.2,6.6 5.4,11 -1-9.9 -3.4,5.4 1.1-2.5 -7.2,18.6 2.2-17.8 4.8,26.1 9.2-14.6 -3.1-11.1 8.9,13.4 -9.2,4.1 6.6-1.3 0.8,3.8 5.2-22 4.9,23.1 1,0.8 15.1,6 -9.7,3.5 3.9-5.9 -4,10.6 0.5-0.8 12.4,0.5 0.2-0.9 8.5,3.8 -3.9,6.3 12.3,2.4 -3.3,5.6 8.5-13.4 4.1,5.9 -7.6,12.2 6.7-1.7 16-2.8 -13.9,15.6 16.1-9.2 10.7-3.5 -4.6,1.5 3.1-2.5 0,14.3 2,4.7 16,2 -0.5-13.5" fill="none" stroke="#fa4a29" stroke-width="2.3" stroke-linejoin="miter"/>
<path d="M1448.2,283.5l9.2,14.4 10.5,4.1 2.7-5.6 -14.6,6.3 16.4,2.9 2-2.4 3.9,2.7 2.7,5.7 5.2-5 11.2,11.2 -0.1-4.5 1.7-2.3 10.8,12.3 -2.8-0.3 9.6,1 0-7.7 12.2,4 -2.3-2.5 2.1-0.8 -1.2,1.2 5.3,5.1 -1.2,10.7 6.2-4.6 9.6,9 -10.1-20.6 14.8,16.7 14.6-5.5 -11,20.9 2.8-18.6 18.7,1.1 -8.3,15.9 1.2-6.3 -2.8,6 9.7,3 12.9-13.5 1.5-1.6 2.7,15.3 -8.6-10.7 5.3,9.7 2.1-9.8 4,26.5 -4.9-14.3 10.5-5.1 6.5,12.2 -3.2-11.2 7,10.3 -9.8-7.5 -1.3,3.5 11.1,3.7 10.5,5.5 -2.3-0.6 -4.5-10.8 7.8,11.4 0.9-4 2-13.4 3.2,21.6 -10.5-3.5 10.6-5 -9.7,9.2 -0.5-5.6 0.9-0.5 8.8,9 -4-9.1 -1.9,11 5.8-8.5 8.1-7.6 -13.6,14.3 -2.9-9.2 11.4-1.8 -0.2,2.1 -3.7-0.3 -17.1,6.1 7.3,6.5 3.5-5.6 1-6.5 7.9,6.7 -21.2,3.1 10.9-9.1 -6.3,7.9 4.4-2.5 -10.6,5 8.7,4.5 -11.4-19.7 -7.8,6.4 3.7-2.4 -2.8,14.4 -9.3-3.6 14.4-3.6 -2.8,7 -2.8-18.6 -14.2,23.1 1.8-13.7 -4.1,12.9 7.5,1.4 -12.6,0.5 2-13.1 -8.6,7.2 -6.7-5.4 5.6,1.1 -13.7,9.9 4.7-1.5 -4.3,0.1 -7.2-4.9 -1.3,1.1 8,12.5 -13.1-14.7 -9.2-5.4 -0.8,11.1 -6.6-2 5.2-1.6 1.7,0.9 -4.9,4 -21.2,3.3 9.5-7.6 -1,6.8 -4.5-10.7 -6.4,12.4 -3.2-13.2 1.9,0.7 -13.2,14.9 4.2-16.8 -8.1,10.3 -6.2-6 -3.5,8.2 -0.9,2.6 -4.6-3.9 -0.1-10 -11,22.4 -2.2-20.4 -0.4,2.5 -9.2,6.8 -1.8,3.6 -7.3-7.8 -4-0.4 0-0.9 -2.1,13.8 -11.9,2.6 13.2-2.8 -9.5-5.1 -9,5.3" fill="none" stroke="#fc512b" stroke-width="2.3" stroke-linejoin="miter"/>
<path d="M1415.3,392.8l10.3-13.4 -10.4-5 -7,10.5 6.1,19.1 -12.8-24 -4.1,15.3 7.2-6.5 -14.5-4.8 -3.7,8.3 0.5,2.6 13.1-3.6 -21.2-4.4 -2,4.6 1.5-7.5 -5.1,28.2 -11.7-11.5 6.7,0.3 -5.3-6.9 -0.1,3.8 3.4-4 -6.7,16.1 -0.5-10.5 -4.4-3.3 -7,1.2 3.2,3.4 0.8-3.6 -6.7-6.9 1.3,22.1 -9-19.9 12.3,9.3 -2.4,10.7 -12.1-12.9 5.6,2.8 -6.6-5.5 7.9,12.7 -9.5-7.8 4.7,5.5 -8-3.2 3.9-3.5 -7.2,4.1 10.6-3.8 -10.9,8.2 4-6.5 -4.6,10.5 9.5-0.8 -8-2.9 10.5-2.7 -6.7,0.1 -2.8,0.2 -0.8,2.3 7.4-7.2 3.1,10 2.5,1.9 -13.9-10.3 13.5,6.8 -7.9-7.9 18.1-3.1 -17.8-5.6 0.8,2.7 0.6,1.1 20.8,11.4 -16.3-9.7 10.9,6.5 -2.2-7.2 -4.7,7.6 13.6-16 4.4,8.5 -4,3.9 9.6,6.3 -2.1-14 10.9-0.1 -4.8-2.1 10.4,3.2 8.1,2.2 -13-4.4 9.8-12 -4.5,17 0.9-6.7 15.8-2.4 -1.5-7.7 -5.5,8 10.6-18.2 7.3,12.6 14.8-4.5 -26.2,3 23-3.7 4.6,13.1 -5-24.2 9.3,3.6 5.8,7.2 11.2-16.9 -4.3,2.9 -9.2,6.5 22.1-0.3 9.6-14.8 -10.8,5.7 -4.1-3.8 21.9,10.6 -0.4-10.1 9.1-6.4 2.1-4.6 3,9.2 1.1-7.3 13.4-5.6 6-19.1 -15.9,14.7 7,11.1 25.6-22.3 -10,4.3 0.3,0.3 5.4-7.9 9.8-2.5 7.6-0.5 -2.4,2.2 -0.9-5.4 7.3-7.2 7.8,10.2 -1.5-22 5.2,13.1 6.7-20.7 8.8,7.9 0.3-2.2 -1.7-4.6 9.1,2.2 5.2-8 3-9.5 3,8 6.1-6.6 1.8,6.3 -4.2-10.2 5-12.4 4.1,16.5 6.3-16.8 -8.4,17.4 -1.4-13.3 3.5-9.8 13.7-7.6 -0.1,2.3 1.5,7.9 -3.7-14.3" fill="none" stroke="#fc572c" stroke-width="2.3" stroke-linejoin="miter"/>
<path d="M1612.3,248.5l3.1-4.4 2.9-4.3 2.5-4.3 2.3-4.2 1.9-4.1 1.6-4 1.4-3.9 1-3.9 0.7-3.7 0.4-3.6 0-3.5 -0.2-3.4 -0.6-3.3 -0.8-3.1 -1.2-3 -1.4-2.8 -1.8-2.7 -2-2.5 -2.4-2.4 -2.6-2.3 -2.8-2 -3.2-1.9 -3.3-1.7 -3.7-1.6 -3.9-1.4 -4.1-1.2 -4.3-1 -4.5-0.8 -4.8-0.7 -4.9-0.4 -5.1-0.3 -5.3-0.1 -5.5,0.1 -5.6,0.3 -5.7,0.5 -5.9,0.7 -6,0.9 -6,1 -6.2,1.3 -6.3,1.4 -6.4,1.7 -6.4,1.8 -6.4,2 -6.5,2.2 -6.5,2.4 -6.5,2.6 -6.6,2.8 -6.5,2.9 -6.5,3.1 -6.4,3.3 -6.4,3.5 -6.4,3.6 -6.3,3.8 -6.2,4 -6.1,4.1 -6,4.3 -5.9,4.5 -5.8,4.5 -5.7,4.8 -5.5,4.8 -5.3,5 -5.2,5.2 -5,5.2 -4.8,5.4 -4.6,5.5 -4.4,5.6 -4.2,5.7 -4,5.8 -3.8,5.9 -3.5,5.9 -3.3,6.1 -3,6.1 -2.7,6.1 -2.5,6.2 -2.3,6.3 -1.9,6.3 -1.7,6.3 -1.4,6.4 -1.1,6.3 -0.8,6.4 -0.5,6.4 -0.2,6.3 0.1,6.3 0.4,6.3 0.7,6.3 1,6.2 1.3,6.1 1.6,6.1 1.9,6 2.2,5.9 2.5,5.8 2.8,5.7 3,5.6 3.4,5.5 3.6,5.4 3.9,5.2 4.1,5 4.4,4.9 4.6,4.7 4.9,4.6 5,4.3 5.3,4.2 5.5,4 5.7,3.8 5.9,3.5 6,3.4 6.2,3.1 6.3,2.9 6.4,2.6 6.6,2.5 6.6,2.1 6.7,2 6.8,1.7 6.9,1.4 6.9,1.2 6.9,0.9 6.9,0.7 6.9,0.4 6.8,0.2 6.9-0.1 6.7-0.4 6.7-0.6 6.6-0.9 6.6-1.1 6.4-1.3 6.2-1.6 6.2-1.9 5.9-2.1 5.8-2.3 5.6-2.5 5.5-2.8 5.2-3 5-3.2 4.8-3.4 4.5-3.5 4.3-3.8 4.1-4 3.8-4.1 3.5-4.3 3.2-4.5 3-4.6 2.7-4.7 2.4-4.9 2.1-5 1.8-5.2 1.5-5.2 1.2-5.3 1-5.5 0.6-5.5 0.3-5.6 0-5.6 -0.3-5.7 -0.6-5.8 -0.8-5.8 -1.2-5.8 -1.4-5.8 -1.8-5.9 -2-5.9 -2.3-5.8 -2.5-5.9 -2.8-5.8 -3.1-5.9 -3.3-5.7 -3.6-5.8 -3.7-5.7 -4.1-5.7 -4.2-5.5 -4.4-5.6 -4.7-5.4 -4.8-5.4 -5-5.3 -5.2-5.2 -5.3-5.2 -5.5-5 -5.7-4.9 -5.7-4.8 -5.9-4.7 -6-4.6 -6.1-4.5 -6.2-4.3 -6.3-4.2 -6.3-4.1 -6.4-3.9 -6.4-3.8 -6.5-3.7 -6.5-3.5 -6.4-3.4 -6.5-3.2 -6.5-3.1 -6.4-2.9 -6.4-2.8 -6.4-2.6 -6.3-2.4 -6.2-2.3 -6.1-2.1 -6.1-2 -5.9-1.8 -5.8-1.6 -5.7-1.5 -5.5-1.3 -5.4-1.2 -5.3-1 -5-0.8 -4.9-0.7 -4.7-0.5 -4.5-0.3 -4.2-0.2 -4.1,0 -3.8,0.2 -3.6,0.2 -3.3,0.5 -3.1,0.6 -2.8,0.7 -2.6,0.9 -2.2,1.1 -2,1.2 -1.7,1.3 -1.4,1.4 -1.2,1.6 -0.8,1.8 -0.5,1.8 -0.2,2 0.1,2 0.5,2.2 0.7,2.3 1.1,2.4 1.3,2.6 1.7,2.6 2,2.6 2.3,2.8 2.6,2.9 2.9,2.9 3.2,3 3.5,3 3.7,3.1 4.1,3.2 4.3,3.2 4.6,3.2 4.8,3.3 5,3.3 5.3,3.3 5.6,3.4 5.7,3.3 5.9,3.4 6.1,3.3 6.3,3.4 6.4,3.3 6.5,3.3 6.7,3.3 6.8,3.3 6.9,3.2 7,3.2 7,3.1 7.1,3.1 7.1,3.1 7.1,3 7.1,2.9 7.1,2.9 7,2.8 7,2.8 6.9,2.6 6.9,2.7 6.7,2.5 6.6,2.4 6.5,2.4 6.3,2.3 6.2,2.2 6,2.1 5.9,2.1 5.6,2 5.4,1.8 5.2,1.9 4.9,1.7 4.7,1.6 4.5,1.6 4.2,1.5 3.9,1.4 3.7,1.3 3.4,1.3 3.1,1.2 2.8,1.1 2.5,1.1 2.2,1 1.9,0.9 1.6,0.9 1.3,0.8 1,0.7 0.7,0.8 0.3,0.6 0.1,0.6 -0.2,0.6 -0.5,0.6 -0.8,0.5 -1.1,0.4 -1.4,0.5 -1.7,0.4 -2,0.4 -2.2,0.4 -2.5,0.3 -2.8,0.4 -3,0.3 -3.2,0.3 -3.5,0.3 -3.7,0.3 -4,0.3 -4.1,0.3 -4.4,0.3 -4.6,0.3 -4.7,0.4 -4.9,0.3 -5.1,0.3 -5.3,0.4 -5.4,0.4 -5.5,0.4 -5.7,0.4 -5.7,0.4 -5.9,0.4 -6,0.5 -6.1,0.5 -6.1,0.5 -6.2,0.5 -6.3,0.5 -6.3,0.6 -6.3,0.6 -6.3,0.6 -6.4,0.7 -6.3,0.6 -6.4,0.7 -6.3,0.7 -6.2,0.8 -6.3,0.7 -6.1,0.8 -6.1,0.8 -6.1,0.8 -5.9,0.8 -5.8,0.8 -5.7,0.8 -5.6,0.9 -5.5,0.8 -5.3,0.9 -5.2,0.9 -5,0.8 -4.8,0.9 -4.7,0.8 -4.5,0.9 -4.2,0.8 -4.1,0.8 -3.9,0.8 -3.6,0.8 -3.4,0.8 -3.1,0.7 -2.9,0.7 -2.7,0.7 -2.4,0.6 -2.1,0.6 -1.9,0.5 -1.5,0.5 -1.3,0.4 -1,0.4 -0.7,0.3 -0.5,0.2 -0.1,0.2 0.2,0.1 0.4,0 0.8-0.1 1.1-0.1 1.4-0.3 1.7-0.3 1.9-0.4 2.3-0.6 2.6-0.6 2.8-0.8 3.2-0.8 3.4-1 3.7-1.1 4-1.2 4.2-1.3 4.5-1.4 4.8-1.6 5-1.7 5.2-1.8 5.4-2 5.6-2.1 5.8-2.2 6.1-2.3 6.1-2.4 6.4-2.6 6.4-2.7 6.6-2.9 6.8-2.9 6.8-3.1 6.9-3.2 6.9-3.3 7.1-3.4 7-3.6 7.1-3.6 7.1-3.8 7-3.8 7.1-3.9 7-4 6.9-4.1 6.8-4.2 6.8-4.2 6.6-4.3 6.5-4.4 6.4-4.4 6.2-4.5 6.1-4.5 5.9-4.5 5.6-4.5 5.5-4.6 5.3-4.6 5-4.6 4.8-4.5 4.5-4.6 4.3-4.5 4-4.5 3.7-4.5 3.5-4.4Z" fill="none" stroke="#fdbd5a" stroke-width="8.5" stroke-linejoin="round"/>
<path d="M1608.4,245.5l8.9,2.6 -2.1,2.6 4-11.6 3.2-9.3 1-7.8 0.3,10.5 -8.7-3.9 1.4,6.5 0.8-9.5 12.4-0.7 -1.5-8.3 9-0.4 -10.7,9.2 0.7-18.1 5.2-1.1 -6.3,7.9 12.1-8 -9.4,2.4 -3.9,3.4 5.4-11.8 -5.9-0.9 -0.2-11.6 6.9,9.4 8.2-1.2 -11.4-5.3 -1.6-5.6 -12-4.3 3.6,15.4 3.7-12.8 -12.3-4.8 15.6,14.3 1-21.8 -6.4,5.2 -3.6-4.7 -4.8,3.5 2.4,5.4 -11-6.7 0.9,0.5 15.3-5.8 -17.7,7.6 2.3,3 -7.1-2.9 -7-0.8 6-11.4 -3.2,12 -7.8-18.3 1,11.6 8-2.4 -9-5.2 -12.5,3.9 3-1.9 -18.3,0.9 14.4,0.6 -3.7,8.4 1.1-22.8 -15.9,12.7 -2.7,9.1 0-2.7 0.1-8.4 -13.1,6.7 6.9-5.8 -11.1-1 -3,6.7 -0.2-13.5 -13.5,10.3 2.7,12.7 6.7-16.9 -9.1,15.5 -4.4-9 -9.3,5.4 5.9,9.7 -8-0.2 -8.8,2.3 -3.3-7.2 -4.2-2.3 3.9,7.1 -9.6-10.4 -10.5,10.9 0.8,11.5 5.9,1.9 -7.6-4.2 -0.5,8.8 -11-2.9 -2.7-4.5 -9.7,4.3 2.2-2.5 3.7,15.8 -12.4,4.1 -4.1,7.6 3.3-0.2 -10.4-4 -4.7-0.7 -1.8,4.4 -4.5,4.4 -1.3-11.6 -9.4,25.2 1.1-6.5 -9.3,4 6.9,0.7 -10.7-8.3 4.6,14.5 -17.4-8.7 7.9,17.9 5.4-8.5 -15-3.2 -6.9,20.7 10.7-5.8 -3.2,10.1 -15.8,1.5 9.4,9.8 -0.1-11 -15,8.2 27.9,6.8 -27.6,16.4 -2.2-8.5 -6.5,5 3-2.7 -4.5,13.7 0.5,6.8 -8.3-5.2 0.3-3.4 1.3,8.6 -1.1,3.6 -1.5-2 -10.1,7.4 5.7,16.9 -2.5-7.7 1.1,2.1 -6.2,5.2 6.5-2.6 -3.3,17.3 -7.7-3.9 3.5,14.7 1.3-5.7 12.4,6.6 -16.9,1.9 7.3,10.8 -4.8-8.2 3.8,5.9 9.8,9.5" fill="none" stroke="#fc5f2f" stroke-width="2.1" stroke-linejoin="miter"/>
<path d="M1337.2,384.4l-9.9,7.5 5.1,2 -6.6-5.7 15.8,18.3 1.1-15.5 -7.1,27.1 -7.8-13.7 0.4,2.9 16.9-0.2 -2.3,9.6 -5.3,10.1 -2.9,13.7 3.7-20.1 12.1,12.3 -8.9,9.4 8.7,0.4 -3.3-2.7 1.3,11.3 5.1-12.1 10.4,25.5 2.4-13.9 -2.4,13.8 1.6-1.1 3.6,4.3 -10.9-5.8 16.5,6.1 4.7-1.4 1.8,15.5 -6.8-0.1 9.3-8 3,4.4 7.4,7.7 9.3,2.5 -13.1-2.7 8.4,9.4 7.6-7.7 -4,11.5 26.2,3.3 -7.1-11.7 -5.9,2.5 11.7,4.7 13.3-3.2 -15.4,5.2 20.5,7.5 -4.5-4.3 8.3,10.1 -0.2-2.9 -11-6.4 25.7-5.9 -2.6,19.5 13.1,1.5 2,1.8 2.8,2.7 -0.7-6.9 1.5,0 5.8-2.8 1.1,5.4 5.4,7.6 -13.2-14 17.4-1.5 2.9,22.3 24.4-13.7 -6.1-8.4 -2.4,9.5 10.6,1.7 -6.9-10.8 5,3.6 -4.3,0.9 20.3-8.6 8.1-8.8 -6.6,2.1 3.1,10.1 12-0.8 3.2-10.9 6,2.3 -9.2-8.2 6.6-1.6 9.8,7.9 -0.4-1.7 -3.3-11.4 3.3,1.4 13,12.3 -0.3-15.6 10,4 -3.5-4.4 2.8,1.9 12.1-3.2 -3.7-10.3 -0.2-2.6 -6.8,6.2 0.5,5.5 13.1-14.8 9.2-1.5 1.5-5.6 5.4,5.9 -8.2-11.9 -2.9,7.3 6.2-13.8 0.7-11.6 -1.5,13.8 -7.6,8.1 15.5-15.5 -9-6.4 8.9-5 -11.1-3.4 12.2-1.3 -7.9-21 13.2,15.3 -16.5-4.2 4.1-4.7 10.9,9.8 -14.2-17.8 8.1,2.7 -4.6,1.7 -6.5-12 11.1-6 2.6-7.3 -5.4-10.5 1.3,8.7 -9.7,2.8 1.5-13.9 2.6,2.6 -3.8-18.9 11.6,27.2 -17.8-31.9 9,5.2 -6.2,3.5 -11.9-8.3 1-1.7 12-0.1 -11.9,2.3 2.2-22.7 6.8-0.1 -14.6-0.2 -3.9-3.9 -10.1,6.9 13.3-9.7 -10.1-5.6 0.9-5.6 2.2,4.8" fill="none" stroke="#fc6430" stroke-width="2.1" stroke-linejoin="miter"/>
<path d="M1588,313.6l-14.5-9.7 12.6,3.6 0.6-10.6 -7.2,3.4 -18.3-8.3 2.4-1.7 -3.4,7.4 -3.6-19.6 -9.9-7.3 11.6,11.2 -4.3-14.8 -4.3,10.5 -9.5-5.3 7.3-15.1 -8,4.1 -22.6-10.5 8.7,5.3 -1.3-5.7 4.8,2.9 -11.2-12.4 -7.7-1.6 -4,2.1 9.3,1.7 -16.8,0.4 -1.5-1.4 -6.7-9.9 7.8-3.9 -12.9,6.1 -10.6-12.1 5.5,10.5 -7.9-19.2 4.4,3 -4.3-6.1 -5.2,16.1 3.3-5.8 -16.9,4.6 -4.1-14.1 -6.1,5.1 8.7-11.2 -9.8,3.9 0.8-3.9 -10.7,7.5 -13.4-6.6 10.5,0.4 -4.5-10.2 -6.3,12.5 0.8-13.9 -2.4,7.6 -4-10.9 -15.1,3.5 13,0.4 -16.1-3.9 -5-3.8 11.5,7.4 -16.2-4.5 -2.5,6.7 -9-10.9 5.2,11.2 3.7-11 -7.5,6.5 -10.5-6.1 -2.1-2.3 -0.4,5.9 -0.6,9.4 1.1-9.2 2-6.2 -11.6,0.1 6.9,5.2 -7.5-5.7 -12.4,8.8 7.3-10.4 11.3,11.5 -15.9-7 6.8-6.5 -7.5,9.5 -6.6,3.5 -9.9-7.3 4.7,4.5 10.3-0.3 4,4.3 -5.8,8.6 -9.4-5.7 -2.5,7.1 -6.3-6.9 1.2,16.5 3.7-21.6 -8.3-2.9 12.9,9.2 -8,5.6 -3.6-3.4 1.7-3.9 -5.3,3.1 4,8.6 14.7-8.4 -9.1,4.4 3.8,2.4 4.5,8.7 0.6-0.1 -6.4,2.6 6.7,0.5 3.1,1.4 -9.2-4.9 10.1,5.1 -14,2 13.8-4 3.2,3.9 0.4,16.7 -2.4-16.8 1.2,10.8 11.3,5 6,4 5.5-5 -7.2,10 1.7-9.3 -2.5,11.1 8.5-5 1.4-0.3 0.8,7.6 13.7-13.2 -8.6,15.5 -0.4-2.2 11.5,4.9 13.7,3.2 -14.4,0.1 12.6-2.9 -7.7,10.5 4.2,6.3 2.9-7.4 12.7,15.5 17.4-12 -14.6,2 11,7.7 -6.4,7.4 4.3-1.1 14.7,3.6 5.4-3 0-4.1 -5.4,3.8 11.9,9.1 -8.9-7" fill="none" stroke="#fc6a32" stroke-width="2.1" stroke-linejoin="miter"/>
<path d="M1435,288.4l23.7,13.9 -5.2,6.9 8.4-5.2 -0.9-10.3 3,6 1.1,1.2 17.2,4.1 -0.1,5.6 5.3,0.3 -5.6,9.1 11.7-4.9 12,6 -8.2-1.7 -5.2,1 19.9,1.1 -9.4,6.8 7.2-8.4 16.5,8.9 -5.9-12.6 16.2,4.9 -2.2,11 11.6-5.3 8,11.2 -12.7-13.2 9,5.6 -5.6,13 13.1,6.8 7.5-7.4 -10.4,3.4 18.7-12.3 -16,17.8 11.4-8.7 -4.4-2.5 26.8,7.1 -7.3-3.7 1.7,6 -2.1-6.1 9.9,14.9 -9.7-15.9 10.6,16.9 17.4-6.9 -16.9,9.3 12.1-10.2 -0.7,2.1 0.1-9.7 1.8,23.3 9.6-6.3 -4.2,2.4 5.1-13.9 -4.4,13.5 8.5-10.5 -1.8,8.7 8.6,7.8 0-11.6 -10.6,11.7 -5.2-17.5 14.3,6.6 -3.1,0.8 -3.5,7.9 -6.7-14.6 9.8,1.1 5.1,23.7 -8.5-26.6 3.6,3.8 -2.4,21.5 11.5-11.3 -10.9,11.5 5.5-11.8 -2.1-2.6 6.5,4 -8,11.2 -2.2-9.5 -7.8,3.8 3.7-7.6 3.4,2.4 -10.4,3.9 9.9-6.1 -6.2,3.4 5-3.2 -6.1,1.3 -2.6,13.5 -7-9.6 -2.5,13.1 13.9-8 -19.4-2.4 0.8-5.4 6.1,8.7 -4.7-3.3 -7.7-2 -9.6,3.4 9.3-3 2.7,6.1 -4.4,7 -7.6-2.4 2.1-13.7 -12.1,9.9 1.3-1.3 -7.1,2.7 -0.5-8.4 2.8,6.5 -4.8-6.7 -6.8,3 3.5,1 -12.4-4 -3.5-3.7 -1.6,15 -9.3-6.2 3.4,0.7 -4,11.6 -6.3-13.9 0.6,2.5 -3.1-5.1 -6.7,14.7 -10.1-10.6 3.4,0.8 -5-6.3 1.5,6.7 -9.6,0.1 1.5-9.4 -13.9,12.2 -4.5,1.1 4.5-0.1 -4.8,11.3 1.3-10.2 -2.8-8.7 -5.1,17.4 -0.8-9.8 -8.3-6.4 -7.8,2.1 -10.4,7.6 1.8,1.7 -0.9,0.7 -0.8-2.6 -2.8-5 -13.3,10.2 5.4-7.2 -6,15.6 -0.1-16.4 -6.3,10 -11.1-1" fill="none" stroke="#fd7234" stroke-width="2.1" stroke-linejoin="miter"/>
<path d="M1412.2,389.6l-2.8,0.1 1.5-1.8 -3,4.1 -4.2-6 -5.6,9.2 11.8-3.2 -22.9-5.3 10.2-6 -3.7,11.3 -11.4-2.8 -2.4,9 2.7,3 -3.4-4 -2.5-7.8 4.1-1.1 -7.7-3 -3.7,4.9 -2.7,11 -3.8-8.6 -3.2,7.8 5.2,5.5 -7.6-1.4 -3.3-0.2 -16.9-14 16.9,11.2 7,1 -13.5,3.2 -10.4,2.9 2-10 -5.5,10.2 5.9-2.2 0.3,1.2 -4.3-25.7 9.8,15.2 -8.7,12 -16.5-9.3 20.5,5.5 -13.1-1.7 -3.8-5.5 4.8,14.6 3.9-6 6.7-0.7 -16.5-1.3 11.4,5.7 5.7-3.7 -6.1-6.9 3.1,1.7 -6-2.1 -0.3-5.3 1.3,17.3 4-8.3 6.3,1.4 8.6-2.7 -11,5.3 -4.1,1.1 7.3-10.1 -11.6,5.5 4.1,6.9 3.5-7.9 -3.5,0.9 10.9,4.4 0.4-8 13.4-4 -5.7,13 1.4-5.8 -7.6,3.7 10.8-7.9 15.9-6.8 -17.6,9 8.6-2.5 3.7-11.6 -1.4,20.6 8,0.5 6.5-15.7 -8.2,6.9 13.2-23.5 -11,24.9 17-5 -1.6-9.9 2.8-1 8.6-6.2 -0.2,5.8 4.2-6 -0.4-11.3 16.5,24.7 -5.7-17.4 9.1-4.2 1.9,9.8 7.8-11.5 6.2-2.7 -3.8-4.1 11.3,6.8 -10.1-18.7 9.5,14.8 3.2-10.6 2.6,12.7 8.4-6.3 7.7-2.8 9.1-14 -11.8,15.7 7.7,2.4 1.9-20.4 12.7,5.5 -1.4,12 9.2-16.7 -1.3-3.4 7.1-8 9.2,14.5 -4.5-11.9 9.7-13.8 -6.5-0.7 17.5,6.8 4.4-3.6 -9.8,7.3 18.1-21.3 -17.3,6.8 12.1-17.8 7.6-0.1 4.4,11.8 7.8-7.5 -2.2-3.7 1.3,0.3 12.7-11.9 -2.3-2.4 -4.6,3.7 7.9-8.3 22.1,9.6 -20.4-9.8 17.5-9.1 9.8,2.5 -5.9,7.2 -3-11.6 8.5,1.6 2.8,0.3 11.1-18.3 -10.6,9 8.3,0 -1.5-9.9 18.7-7.6 -4.5,3.1" fill="none" stroke="#fd7836" stroke-width="2.1" stroke-linejoin="miter"/>
<path d="M1623,246.1l-7.5,4.8 -1.7-14.2 9.4,3.4 6.9,3.3 -3.1-6.4 -5.5-1.4 17.6-9.9 -23.5-8.4 16.6,6.7 -6.6-12.6 -1.7,10.7 10,0.4 0.3-3.8 -6.8-16.7 -1.7,0.6 -3.5,8.6 9.1-16.4 2.9,8.5 0.7,1.7 -6.1-6.4 1-10.9 6.7,6.1 -8.4-5.2 2.1,18.3 1.3-16.2 -6.8-1.5 -8.1-7.2 9.1,10.4 -2.5-14.2 5.1,8.8 -20.1,1.3 2.5-1.1 -5.1-17.9 2.6,4.8 8.5,9.7 -3.8-13 -4,4.9 -1.2-1.2 4.7,5 -13.5-3.3 -1.2-2.2 3.5-6.6 -17.6,3.3 7.8-8.3 13.4-6 -14.8,12.5 -3.7-5.5 -4.5,9.5 -4.3-9.8 7.4,7.9 -14.3-3.5 -7.2-2.6 -13.3-0.4 15.3-8.2 -10.6,9 -8.4,2.5 14.8-4.6 -7.5,4.6 -13.5-6.3 6.8,8.6 -2.2,1.2 -12.7-7.2 3.5,5.9 -14.9-6.9 -1.1-1.6 -7,11.5 -4.2,4.9 14.5-3.9 -20.6,3.5 -6.8,11.5 -4.1-18.4 0.4,10.5 -0.5-14.1 7.4,15.6 -19.9-1.4 -3.2,0.3 -4.2,7.2 6.9-9 -10.8,7.5 2,3.7 6.6,0.3 -14.9,12.2 -2.5-4.7 -1.8,6.5 -15.9-12.1 -4,7.4 -7,2.1 13.6-1.7 -8.7,10.8 -6.2-9.3 -2.5,13 7.6,7.3 -12.9-4.6 -9.8-6.2 0.9,11.9 -4.2,2.3 -5.5,3.4 0-6.7 -10.1,10.8 -1.6-3.5 -7.6,8 5-4.9 -2.7,19.9 -3.2-5.2 -7.8,3.5 0.3,4.6 -6.1,11 -1.4-11.3 3.3,14.3 -4,3.7 -3.7,6.1 -12.3,0.8 7.7,0.3 -7.4,4.7 -1.2,8.4 -2.7-3.8 4.2,7.1 -2.7-9.3 -4.3,17.3 4.5-2.7 -11,1.4 9.9,8.6 -3.2-0.8 -9.7,9.4 4.3,0.4 -1.1-2.3 -1.4,15.3 -5,8.1 11.3,5.3 -7-2.4 -13.3,0.4 3.6,3.8 2.3,1.5 -2.6,14.1 8-7 -12.6,12.7 8.5,0.7 2.1-5.2 -5.8,11.6 6.9-2.7" fill="none" stroke="#fd8038" stroke-width="2.1" stroke-linejoin="miter"/>
<path d="M1332.7,375.5l5.6,11.7 -2.8,1.6 -4.5,6.5 1.8,8.8 -2.1-8.8 3.5,8.1 -2.8,4.5 8,3 -5.3-7.1 3.9,18.7 6.9-6.2 -5.9,11 11.7,9.1 -9.6,6.9 -4.1-13.2 8.2,2.2 0.6,4.2 -0.9,19.5 15.4-7.2 1.3,0 -5.4,1.6 14.8-4.9 -10,11.2 -3.5,1.1 6.8-4.1 -0.9,31.4 24.8-20.9 -12.8,8.1 12.2,4.2 6.7,1.8 -4.7,7.4 8.2-1.4 -7.2-0.2 4.5,8.1 4.8-0.3 5.5,3.3 4.8-8 9,12.5 1-14 1.3,19.8 0.3-5.3 12.3-6.1 -7.7,16.4 13.1,0.6 5.1-8.5 -8.3,0.8 21,3.3 -2.3-7 -3.1,4.6 7.5,17.1 -5.2-8.5 9.2-7.6 -1.6,12.4 9.4-2.4 9.7,9.1 6.5-7.8 9.8,7.9 -3.9-5.9 6.8-6.4 7.5,0.2 -5.1,2 17.1,1.3 -7-5.9 -1.6,12.9 20.8-5.8 -4.2-12.9 4.2,15.1 9.5-6.5 6.8,1.8 -14.1-13.8 12.5,7.2 -3.3,4.1 11.8-0.7 -9.8-7.9 20.2-1.1 0.8-5 -3.3,1 4.2-3.1 1.2-9.4 10.5,2.9 2.6,14 0.6,0.4 -9-7.6 12.7-10.7 9.8,6.5 2.4-5.6 1.9-2.8 -11.9,0.4 12.3,2 1-20.7 4.5,3 3.5-4.2 3.9-3.4 -5.1-7.1 4.3,7.7 -7.9-1.8 1.2,4.6 13.9-10.3 -1.2-2.4 -8.8-12.6 5,0.1 10.4-10.3 4.2,5.1 -0.1-5.9 -2.1,1.4 -14.4-3.4 7.5,3.4 6-6.7 -1,2.3 4.8-14.4 -8.6,2.8 12,8.4 1.1-2.4 -10.2-14.7 -3.4-7.4 16.2-1.1 -20.4-10.5 11.4,6.8 1.5,2.2 -9.6-21.2 1.7-2.3 -2.7-9.1 6,9.8 -7.5-3.7 8.1-1.4 -7.4-16.6 -6.5,1.6 8-1.5 -10-8.2 -1.9,2 8.9,0.9 -18.6-7.4 -0.5-0.4 0.5-4.2 -11.1-5.5 -2.6-8 14.9-7.3 -14-0.5 -2.7,3 -0.6,7.5" fill="none" stroke="#fd863a" stroke-width="2.1" stroke-linejoin="miter"/>
<path d="M1581.8,321.2l-5.3-8.2 -2.9-9 7.1-5.2 1.5,9.7 -8.2-12.7 -2.1-6.4 -16.1-0.5 3.4-3.4 -11.1-3.1 7.6,1.8 -5-5.8 -0.1-8 -9.5-1.2 -3.1,1.6 -8.1,1.5 8.2-7.2 -15.3-11.5 -2.2,8.8 2-16.4 -11.2,9.1 4.3-7.6 -4.8,6.6 -8.1-10.4 -1.1-1.6 -6.6-3 5.7,7.6 -15.9-20.9 3.6,15.9 -9.8-11.3 -5.6-7 2.1,3.3 -4.7-6.9 1.5,0.5 -3.5,0.6 -21.7-0.1 8-9.7 9.8-2.6 -12.6,8.6 4.2-2.4 -15.1-6.1 -7-0.8 -9.3-1.4 6.8-4 0.7-2.3 -12-7.7 -3.1,6.1 5.1,3.8 -18.9-0.8 3.9-7.6 3.8-4.9 5.7,8.3 -16.9,1.2 4.9-10.8 -20.7,8.8 1-9.1 -12.6-2.9 15.3,12.9 -8.2-6.4 5.8,6.7 -10.3-10.5 -1.6-2.3 -14.7,5.2 12.3-1.6 -13.9,12.3 -0.6-12.6 -14.4-1.2 19.8,1.3 -4.4,10 -14.2-6.9 5,4.2 -4.6-11.3 -4.8,14.5 7-9.4 6.2,1.8 -19.4-0.7 -1.1,1.4 1.9-3.6 -13.4,7.6 5.7-8 9.2,11.2 -4.2-7.7 -7.3,3.1 7.2-4 -13.9,5.6 6.6,11.9 5.9-1.4 -4.8-0.8 1.4-15.7 -1.1,19.4 9.8-3.6 -10.6-9.1 6.5,12.9 -12.1-6.1 1.3-0.9 6.4,14.1 0.8-6.1 2-3.5 -5.2,1.7 2.2,10.1 12.1-19.6 0,21.4 -8,2.5 -5.5,2.1 16.9,6.7 -1-10.4 1.3,24.1 0.7-15.9 12.4,12 -8.8-8.6 7-0.2 -16.8,10.8 16.5-3.4 -4.8-7.3 9.5,11.1 3,0.2 -4.5,3.3 10.7,1.6 -1.1-10.9 -1,9.2 6.6,5.1 0.8-3.7 10,16.6 9-16.3 -2.2,12.3 12.3,8.6 -7.7-2.3 6.2,3.6 -9.4-2.4 4.3-3.8 9.3,0.1 3.7,11.8 5.3,3.3 5.3,5.2 -5.9-1.7 11.8,0.2 -7.5-9.7 25.6,19.4 -2.1-5.3 1.1-2.1 -3.3,6.4" fill="none" stroke="#fd8c3c" stroke-width="2.1" stroke-linejoin="miter"/>
<path d="M1437.8,293l15.2,1.4 2.5,6 10.5,1.8 -16.6-9.1 25,15.5 -2.3-1 6.5-0.8 9.7,13.5 -4.5-9.1 2.5,5.8 17-9.8 -3.8,10.9 0.4,12.1 9.5-18.4 -2,22.7 10.2-8.9 8.5,1.1 -6.6,4 19.3-3.3 -13.9-9.2 10,14.5 12.1,4.3 -7.3-9.7 -7.4,4.7 24.5,0.8 0.2,1.5 -4.4,1.1 12.3,6.8 -7.8-0.1 0.5-6.3 12-2.3 2-2.5 2.4,15.4 3.9,0 -1.8-0.2 9.7,2.6 1.2,7.2 7.9-17.6 -9.2,7.3 -0.7,8.1 3.6,1.7 12.5-3.7 10.4,11.1 -0.9-5.6 -3.2-9.6 4.8,2.4 -3.9-2.2 11.5,2.8 -9,14.4 13.2,9.8 -6.4-19.5 -2.8,5.5 6.7,1 -4.5-12.4 4.4,17.9 2.1,6 21.6-0.6 -16.6-17.6 3.8-2 -8.7,16.6 8.6-13.5 -17.4,8.5 8.3-3.7 2.2,11.6 -4.6-19.1 14.5,11.5 -4.5-3.6 -7.8,9.7 -1.7-7.9 -5.3,3.1 4.1-2.3 6.3,7.8 -2.2,1.6 -3.6,3.4 0.8-4.5 -4.5-5.1 4.2-2.5 -9.6,8.3 3.7,1.3 2,2.9 5.2-0.8 -13-7.6 -2,0.9 8,0.9 -6.8,3.1 -16.2-9 2.9,2.5 5.2,0.5 -3.2,4.4 -10.9,3.4 9.5-0.8 -9.4-7.8 8.3,6 -6.9-15.4 -13.8,18.7 0.5,0.5 2.4-3.5 -3.1,2.2 -13.9,1.9 2.2-9.1 -8.3-6.7 -4.2,12.2 -1.5,1.4 -5.5-3 2.9,0.3 -8.4,9.6 3.6-9.3 0.5,1.1 -6.5-7.4 -16.3,15.2 11.4-4.5 -16.3-3.6 -8.4,12.8 10.9-19.9 -0.3,21.7 -5.9-1.5 -9.1-5.6 -2.9,0.8 -6.8-4 1.7,6.2 -14-1.4 -0.4-2.7 -7.5,0.6 4.8-5.1 4.7,5.1 -12,1.7 -3.4-9.9 -6.4,8.5 -3.7,3.9 4.2-0.4 -13.2-4.6 -1.9,7.5 -15.9,0 2.9,5.9 6.7-17.5 -2.1,18.5 -14.7-16.7 2.8,2.3 -1.3,5.2 -4.1-0.8" fill="none" stroke="#fd913e" stroke-width="2.1" stroke-linejoin="miter"/>
<path d="M1418.2,384.2l-7.8,1.8 3.3,1.7 -8.3,0.9 4.1-1.9 -7-2 -12.3,14.1 3.6-10.2 -3-5.4 -7-1.6 -2.5,15 2.8-1.7 -14.2-3.3 4.6,7.7 -2.3,10.3 1.5-21.6 1.5,14.2 -5.2-18.5 -0.1,10.6 -9.4,1.9 -1.8-3 -8.5,7.5 10.6,5.1 -1-7.2 -11.1-4.3 -1.6,9.3 -5.4-7.2 1.6-0.7 -1.2,1.2 7.6,3.2 -24.6-3.5 18.6,3 -6-2.5 -6,5.3 7.1-4.9 -6-3.4 -2,0.7 7.9,11.6 -19.1,7.3 20.4-21.3 -11,5.1 7.6-0.2 -3.4,2.3 6.5,3.1 -8.8,8.1 1.1,3.6 3.8-21.3 -10.2,5.8 12.2,2.7 -5.5,12.6 10.6-3.8 -22.9-2.8 13.6-2.2 4.9,18.1 -12.2-20.2 12.7-11.1 9.8,17.4 -9.3,0.5 -4.9-8.7 11.4,11.5 -0.6-8.3 1.6,4.8 0.1-3.4 2.7-5.8 -6,1.4 0.8,1.3 12.7,4.1 3.3-14.1 4.8,16.9 -3-19.2 -8.4,4.4 10.7,8 8.2-8.2 0.4,7.2 2.3-5.3 -3.4-3.2 19.6-6.6 -5.5-6.1 4.5,6.9 3.7-2.1 -11,12 20.8-8.2 -17.4-5.8 20.3-6.2 3.8,7.6 3.6-5.6 1.3-1.9 5.8,5.4 3.3-11.2 16.1-4.3 -16.5,13 12.8-6.7 1-9 7.3-1.8 9-1.7 -2.4-4.2 5.5,3.1 3.6-9.5 6.7,10.3 -4.6-8.8 8.5-2.8 6.4,2.5 2.9-15.7 5.4,11.9 10-12.5 -4.2,8.6 18.9-3 -4.7,2 9-6.7 -3.1,4.6 5.8-9.5 3-13.3 11.3,16.3 9.6-22.3 -17.5,10.7 8-9.1 7.2,4.7 -14.2-26.2 17.1,17.6 6.4-3 12.2-15.7 -5.7,14.9 12.3,6.4 5.5-17.1 -2.9-3 12.2,1.8 6-3.4 -8.3,2.2 -3.4-22.9 14.1,3.2 -4.7,9.8 2.2-11 5.3,0.2 2.4-15.5 10.4,11.8 2-18.8 3,9 1.2-0.5 -7.9-6.7 7.8-0.6 6.7-17.8" fill="none" stroke="#fd953f" stroke-width="2.1" stroke-linejoin="miter"/>
<path d="M1619.7,233.2l-4.7,8.3 17.7,6.9 -18.7-7.7 -0.7-11 19.6,7.8 -5.1,4.5 -2.5-21.8 -1.7,2.7 3.7,5.5 11.8-10.6 -9.9-2 -2.8,17.7 5.1-25.7 -0.4,9.1 -0.4-7.2 -19.1-3.3 13.2-19.4 -0.2,20.9 6.4-14.3 -3.7,24.8 8.1-20.1 0.7-8.8 -6.3,12.5 -5.2,5.1 4.1-9.3 -3.6-16.9 3-1 2.6,13.1 -2.8-12.6 -18.5,9.5 13.1-18.6 -8.8,13.8 3.6-14.6 2.3,10.8 -5.1-1.4 -1.4-16.5 1.6,16.7 -8.7-11.4 1.6,4.7 -0.9,2.2 -6.9,1.9 -4.1-14 -2.1,5.6 -0.9,2.1 -6.9,4.6 -2.7-17.8 7.5,5.2 -4.3-2.3 -8.9,2.2 -3.5,23.3 4.4-20.6 -2-4.9 -9,4.5 -8.3,3.5 3.3-1.2 -6,0.2 2.9,3.4 -21.2,2.4 4.2-9 9.4,6 -11.2-0.8 -2.2-13.7 -1.1,12 -12.8,0.4 0.7,11.7 -13.8-8.6 6.9-7.1 -5.7,3.9 2.6,5 -4.3,4.3 -11.1-3.1 9.7,1.3 -18.6,5.6 -14.3,14.4 2.6-30.2 12.6,12.7 -14.7,9.2 -4.9-9.3 -5.7,18.3 -9.6-11.1 12.4,8.3 -14.4-1.5 9.9,8.3 -14.6-2.4 -11.1-5 8.6,5.2 -8.4,3.1 -5,4.1 5,10.5 -15.6-11.2 10,8.6 -11.6,5.2 -9.4,3.7 4.9,7.7 -10.7-0.1 4.7,9.9 -2.1-9.3 -5.1,1.7 -4.7,4.5 -6.6,13.6 -5.2-4.3 9.4,1.2 -16-2.9 6.9,14.8 -14.6,4.2 4.8-13.6 -3.6,10.5 -12.7,15.9 2.3-15.4 3.9-2.3 -2.6,11.1 -7.3,19 0.6-6.1 3.7,10.2 -6.7-2.2 -11.2,8.5 11.2-16.9 -3.6,23.1 -8.9-3.2 3.7,3.2 -6,5.5 -3.4,5.2 1.8,3.1 -10,4.9 9.6,0.2 -1,17.1 -2.5-12.4 -3.8,14.9 -1-0.1 1,3.7 4.3,7.6 -16,4.1 4.9,7.6 0.2-10.2 2,0.9 -1.4,10.9 -3,13.2 -3.1-11.5 11,13.3 -0.2,9.7" fill="none" stroke="#fd9941" stroke-width="2.1" stroke-linejoin="miter"/>
<path d="M1330.4,393l-5.5,0.4 12.3-8.9 -6.9-3.9 11.2,20.8 -5.6-0.8 -4.6,5.8 2.3,8.5 8.1-4.6 -8.1,6.2 11.5,10.1 -4.9-8.4 9.9,11.8 -3-1.7 -4.8-0.3 12,13.9 -5.6,3.1 7.8,0.6 -7.5-11 7.2,23.1 1-9.9 -2.2,2.6 22.3,10.9 -7.8-9.9 -1.7,25.8 5.6-12.6 3.7,6.6 6.9,1.5 -3-0.6 4.4,12.4 6.4,0.2 -8.2-11.4 7,11.1 3.9,4.8 0.8,0.4 14.8,4.6 1.3,2.3 -9.2-4 11.2,8 8.8,6.4 -6.5-3.1 12.7-3.4 -1.3,6.5 -0.2,0.2 13.4-8.9 0.2,8 5.4,4.6 -3.7-2 4.9,17.7 8.2-21.7 2.4,18.5 12-15.8 3.3,11.7 14.5-11.2 -5.1,14.3 -10.4-1.4 9.3-13.9 18,5.8 -5.4,10 10.8,0.3 6.5-6 -6.7-1.3 0.8-2.1 15.1,1.1 -9.1,12 7.2-9.6 9.2-6 5.5,1.1 -1-5.7 9.6-7.3 -2.9,9 2.4-2.8 16.8-0.9 -17-1.7 13.8,2.1 7.3,2.5 -6.8-12.5 17.1-4.7 4.8,1.8 -7.6,11.9 4.4-12.3 -0.9,6.5 14.7-6.9 -0.1-7.4 1.8,10.6 6.6,0.8 -2.4-6.1 10.2-17.8 1.1-1.9 -11.2,9.6 13.4-9.3 -0.8,1.3 -4.3-9.6 10.8,12 -1.5-19.7 -0.2,11 -0.4-15.3 6.1,13.2 -1-11.4 -1.5-2.8 4.3-10.2 -13.6,19.2 21.2-17.9 -12-8.1 -0.7-1.9 8.8-12 -3.3-3.8 8,5.4 -6-5.9 4.7-3.3 -5.8-0.3 19.5-6.1 -10.4-0.7 6.2,6.6 -17-4.2 13.8-18.4 -14.2,2.1 9,4.3 -3-5 -11.3-15.6 2.9,14 -2.3-7.2 -0.3-15.1 1.6-2.3 -6.4,10.6 -6.2-3.2 14.9-14.9 -3.1-7 -6.2-1.9 -1.8,13.8 -0.6-20.5 0.1-0.3 -6.6,0.1 6.2,1.9 -4.1-15.1 0.7-1.4 -5.8-6.1 4.7,2.7 2-8.6 -19.4-3.6 0.9-9.6" fill="none" stroke="#fd9d43" stroke-width="2.1" stroke-linejoin="miter"/>
<path d="M1583.9,299l-1.1,17.9 -13.6-10.8 13.4-7.3 -6.3-14.6 -7.6,7.8 -8.1,10.4 -4.8-17.4 2.4,1.8 -11.4-4 18.7-0.1 -10.4,3.3 -2.9-1 -10.4-24.5 1.9,8.4 -0.3,0.8 -7.8-9.9 -2.7-7.8 -13.4,13.2 4.2-9.4 -6.1-9.5 -8.8,4.4 -3.1-10.1 -0.8,12.4 2.1-7 -12.7-10.4 7.2,1.1 -4.1-1.1 -14.5,0.9 1.8-8.2 -6.7,11.6 0.7-24.9 -7.1,8.8 -6.2-4.3 1.7-2.4 -14.5-7.2 5,3.4 0.3,6 -8.9,3.6 -1.7-9.6 -5.4,2 0-4.4 -8-4.5 -8-4.2 0.7-7.7 -4.7,8.5 -0.6,11.9 -0.3-15.4 -10.4-3.8 -11.4,14.2 2.1-17.8 -4.4,4.5 4.3,5.3 -8.1-6.5 0.3-6 -10.1-0.5 8.6-4.4 -9,7.6 -5.7-0.4 0.4-16.4 5.3,22 -13.4-6.2 3.2,4.3 -3.4-8.4 -10.7-2.2 4.5,13.6 -6.7-17 -1.7,11.2 -0.1-21.9 -7.2,20.3 5.6-9.3 -6.5,9.2 8.1-9.6 -4,11.7 -18.3-11.4 8.9,9.1 -12.1-2.4 10.2-2.6 -9.1,8.5 4,0.8 1.5,10.6 -11-13.4 6.2,6.6 -0.4-9.1 -13,2 7.8,15.3 3-11.1 -1.3-6.1 -8.6,14.7 20.9,11.1 -17-26.6 -6.7,11.2 0.1,4 13.3-15.6 -1.6,23.1 -3-2 -7.8,16.1 15.1-15.5 0.5-2.2 -7,9.9 4.8,2 -3.1,2 11.2,1.1 -6.1-6.7 8,5.4 -0.9,4.3 -5.4,7.3 12.2,12.4 -5-13 6.7,9.2 1.9-6.2 -3.5,12.4 12.4-6.1 -2.9-3.5 -7.2,20.1 13-3.4 1.4-11.2 5,15.7 -0.8-10.3 3.4,1.5 12,15.1 -12.1-0.5 7.6-15 11.1,13.2 -3-4.1 8.1,9.4 -1.2-4.3 9.9,11.2 3.8,4.9 -4-2.2 4.3,1 4.6,0.2 -3.8,3.6 19.2-11.4 -12,13.5 16.4-6.5 7.6,14.5 4-6.4 4.4-4.5 -10.7-1.8 18,28.4" fill="none" stroke="#fea145" stroke-width="2.1" stroke-linejoin="miter"/>
<path d="M1454.5,309.3l-10.8-22.4 9.2,23.8 13.8-15.2 -2.9,0.9 5.4,8.6 2,8.6 5.6-13.2 3.9-0.2 2.3,17.8 -0.2,0.6 17.3-9.1 5.8,0.4 -15,3.6 7.8,10.8 7.6-2.3 4.3-9 2.2,3.9 12.9-0.4 -0.1,9.1 -3.7,4.7 11.8-4.7 7.6,3.4 -4.6,4.4 2.1-1.9 18.2,12 5.2-8.1 -14.4,4.2 3.8-14.2 16.6,6.3 -5.5,5.1 6.7,13.2 0.1,1.9 13.3-12.9 -9.4-1.1 -4.2,5.6 6.1,15.4 17,1.8 -3.9-10.1 -6.7,1.5 14.6,10.5 9-6.4 -2.6-10 3.3,6.8 4.4-2.8 3.1-2.2 0.2,4.1 -0.6,6 -0.8,3.7 -2.1-9 4.6,10.9 7.2,0.5 -5.4-3.5 1.7,9 8.6-13.2 -1.2,9.1 4.7-7.2 -14.3,4 12.8,2.1 -10.4,1.4 2.1,9.3 -3.6-1.7 20.3-8 -2.5-15.1 -10.1,8 -1.3-0.4 7.8,10.2 -5.2-9.3 4.3,6.1 -13.4-3.6 -7.8-6.7 10.9,22.2 -0.5-0.1 2.9-6.8 3,4.3 2.5-1.3 -12-6.9 -1.1,1.9 -8.7-1 8.7,1 -4,3.3 -2.7,3.1 8.6-0.4 -8.9-10.9 1.1,14.4 -5.2-1 -7.7-9 -3.3,6.8 -2.7-6.9 -7.1,4 8.9-2.2 1.1-1.2 8.5,6.8 -19.2,4.9 -4.1-15.4 -4.1,9.4 4.5,10.1 -4.3,0 -13.9-6.6 9.7,0.2 -4.7,7.3 -18.3-5.2 16.3-1.2 -10.1-8.9 -5.9,3.8 -6.4,3.8 6.5,10.6 -1.8-8.2 -4.5-2.2 -13.1-4.6 -0.1-4.8 0.2,10.6 -16.5-3.8 1.8-0.2 -10.7,6 17.4-8.2 -7.6,4.7 -8.2-1.8 -3.7,9.6 -4.4-2.3 -2-5.9 -4.6,9.4 -7-11.5 3.1,5.8 -14.3-4.7 0.5-1.1 4.4,14.3 -11.4-12.4 0.1,9.7 -9.8,0.8 -15-4.5 17.2-1.3 -15.2-5.9 6.4-5.3 -14.5,9.2 -4.4-6.3 3,15.3 -1-3.9 -7.5,6.6 -7.3-3.6 4.1-4.9" fill="none" stroke="#fea546" stroke-width="2.1" stroke-linejoin="miter"/>
<path d="M1421,382.2l-7.5-2.8 -6.1,7.3 -2.6,5.3 -1.6-12.9 0.6,14.2 -6.9-1.3 -0.3,0.6 -3.4-2.6 -13.6-3.7 -2.5-1.3 6.3,11.7 -5.5-2.1 2.4-10.2 -20.1-1.7 14.8,16.9 -5.4-0.4 -4.5,5.7 -5.1-7.4 1.5,4.6 -6.3-3.7 6.8,5.4 -5.8-12.1 4.3,5.3 -18.1,7.7 13.3-8.3 -22.1,3.9 3.3,8.5 8.4-6.9 -15.2-11.7 6.7,17.2 -7.2-7.3 7,4.8 0-5.2 -6.3,2.2 1.1,20 -4.7-6.4 2.4-7.2 12.2,1.4 -10.3-13.3 -10.1-3.5 11.3,11.7 -5.2,4.5 8.9-6.1 -2.4-0.3 -16.7,13.5 21.5-8.5 -1.3-2.2 -5.8-2 2,13 -20-15 19.3,10.4 6.2-6.2 -8.4-11.7 2.7,23.2 -1.2-10.9 10.8-3.9 10.1,3.5 -22.5-9.3 14.5-7 2.2,12.2 -10.4,7 2.6,7.5 23.1-7.8 -5.8,1.4 0.4-16.2 -18.3,3.3 15.8,4 11-9.8 -5.4,6.6 3.9-0.6 16.6,10.6 -10-9.9 0.7-7.2 5.7,10.5 0.7-19.4 0.2,10.4 12.3-2.5 1.7-4.9 2.1,9.3 1.2-20 3.5,10.1 2.8-8.6 0.6,10.7 14-1.4 8.1-4 -10.1,1.9 9.4-8 15.9,6.3 3.1-11.7 -10.7,6.4 15.6-15.6 -5.9,19.4 -1.4-20.2 6.6,9.1 10.1-7.6 9.1-0.4 -3.6-13.8 13.6,6.1 -6.8-3.6 6.4,5.8 10.9-4.6 -1.5-5.5 10.6-5.9 -12.9,7.6 14-8.3 10.9,10.4 8-14.6 -8.1,6.3 3.5-4.6 0.7-14.8 10.5,5.6 7-5 -7.7-2.7 16.4-4.3 5-1.8 3.6,4.8 -4-13.4 10.6,4.7 -9.5-4.4 17.1,0.1 -0.4-1.9 -4.9-0.3 14.6-11.3 12-14.2 -16.4,15.8 25.2-13 -14-2.5 8,7 15.5-6.3 -22.9-5.2 18.5,3.9 3.8-9.8 -4,1.2 -5.1,3.5 11.6-14.2 -4.8,7.1 4.9-4.2 6-15 -7.2,1.1 22.4-7.2" fill="none" stroke="#fea848" stroke-width="2.1" stroke-linejoin="miter"/>
<path d="M1623.2,239.1l-9.1-1.7 -3.1,8.8 5.8-14.3 5.3,3.9 7.1-2.4 -3.7,5.7 -5.5-11 0.2,14.6 9.2-23.8 4.3,14.4 -7.7-14.2 -6.1,11.2 -5.1-19.6 22.7-7.8 -1.5,9.6 -4.2,2.8 5.5-24.3 -8,13.7 -4.6,2.8 6.4-17.7 -5.7,27.2 -3.8-9.7 -1.2-6.6 7.8-5.9 -2.9,12.2 0.4-25 1.6-2.2 -15.9,5.2 10.4,1.5 -2.2,6.4 -6-15.6 -2.4,3.8 5.6-3.9 -3.3-8.4 4.5,6.4 -6.9,10.8 -3.8-1.7 -6.6-16.1 -1.7-0.3 1.9-3.9 -4.2,21.1 2.7-12.3 -9.8-0.5 0.3,6.2 2.8-4.2 -0.8-10 -2-0.3 -5.9,9.4 0.2-10.2 -10.1,0.9 9.6,5.1 -15.5-1.9 0.2-8.3 -2.1,9.8 6-7.6 -13.8,4.6 -6.8-5.6 -8.5,4.2 3.7,0.9 -0.1,2.6 -15.1,4.3 -10.9-3.2 10.8,1 -10.8-10 5.6,11.6 -2.2-3.2 -0.1-4.9 -1.4,9.7 -17.1,3.4 2.9-14.2 -12.9,13.4 0.2-1.6 -2.9,2.3 -14,3.9 7.4,9.3 -0.2,0.8 -0.8-4.9 -11.2-5.6 2,0.6 -14.6,1.4 0,4.8 -13,11.3 10.3,5.6 -0.2,0.5 -8.1-2.6 -0.7,3.8 -21-2 19.9,7.2 -19.7-4.7 2.3,4.2 -11.5,19.3 -4.4-9.3 0.5-1.3 -1.8-0.4 -3.4,7.5 3.6,6.5 -11.8,3.9 -1.2-4.7 1.1-3.2 -5,4.8 -7.4,11.2 -3.9-1.5 -13.7,3.2 2.4,18.1 0.3-2.7 0.3-2.6 -0.6,0.1 -14.6-0.8 9.7,14.1 -17.5-1.8 4.1,8.6 -1.9,3.5 -4.4-6.1 0.9,6.1 3.1,10.2 -3.3,7.6 2.3,2.3 -8.9-3 9.3,7.3 -15.2-0.2 -2.7,9.6 19.1,0.7 -15.1-3.5 4.2,0.4 -2.1,8.8 -6.8,11.4 5.9,2.1 -7.6,9 -5.5-11.5 5.2,21.6 -5.2,6.7 -5-4.4 3.4-9.6 5.7,15 -10.7,3.7 9.3-0.1 1.1,6.8 -2.9,4.1 -8.9,9.6 5.8-7.9" fill="none" stroke="#fead4a" stroke-width="2.1" stroke-linejoin="miter"/>
<path d="M1325.6,379.3l13.8,6.6 -6.2,0 7.7,18.8 -3.1-12.1 2.3,14.8 2.2,7.4 -9.1-7.6 12.2,1.1 3.1,0.3 -4.4,3.2 3.9,16.6 -0.8-6.1 -7.2,9.3 13,5.1 -3.8-1.3 6,2.9 -2.8-0.2 10.6,19 -4.6-13.5 -5.7,12.9 7.2-6.6 6.2,3.4 -2.5,12.8 6.3-4.8 -1.1,1.6 0.6,12.1 8,3.7 11.8-3.2 4.1,0.3 -2.2,1.9 6.2,7.1 -2.3-0.1 8.7-4.6 -5.8,3.3 8.9,13.6 -1.4,4.5 7.6-10.3 4.1-3.5 -5.4,11.1 9.4,3.4 0.3,2.2 17.8-12.7 -6.8,15.3 3-9.1 8.1,17.1 12-7.9 -8.6,5.6 7.2-13.4 0.6-1.2 -10.6,19.3 5.6,9.7 31.4-19.8 -14,2 10,16.3 14.9-0.5 -7.4-12.6 15.6,6.3 2.4,0.8 0.3-3.7 10.4,7.5 -2.5-5.5 -3.9-7.1 16,1.4 -4.1,1.6 -6.9-1.9 9.6,9.9 26-16.8 -14.7,2.5 8.7,5 -2.7-2.7 10.1-10 -3,6.1 7.2,8.1 -6.7-1.8 9.9-15 -0.7-3.4 7.1,7.3 19.9,0.3 -4.1-6.1 7.9,1.9 -3.3-2.7 -1.3-5.7 -6.2,12.8 13-21.1 -8.3-2.7 12.6,5.7 16.7-0.7 -11.8,4.1 8.9-11.7 -4.5-5 -5.8-1.9 4.9-8.5 3.6,18.6 14.8-12.7 2.3,1.6 -10.2-18.6 -0.1,7.6 5.5-1.3 -2.5-7.4 -3.9-5 10.8-10.3 2.1,5.2 4.6-2.2 -15.7,1.9 12-4.7 -4.9-15.3 13.7-1.1 -14.4,4 3.4-2.3 -0.1-12.7 1.2,2.1 -2.8-6 -3.6,4.4 18.6-2.2 -12.6,7 -0.5-7.8 9-10.8 -12.4-11.2 5.6,3.4 -2.7,0.3 10.9-14 -9.7-6.3 -3.7,4.8 -0.5-13.3 -4.3,7.3 5.7,2 -16.6-10.7 7.9-4.4 -3.9-17.5 -3.4,7.8 -12.9,1 14.6-5.3 -11.3-4.1 4.2-1.5 -5.8-4 -6.6-5.3 -1.7-3.3 -2.9-14.8 -2.8,2.7 -1.5,8.2" fill="none" stroke="#feb04b" stroke-width="2.1" stroke-linejoin="miter"/>
<path d="M1577.8,313.6l-0.6-8.2 -0.7,2.6 0.7-4.8 7.6-6.3 -16.6-4.6 -8.2-3.7 -0.5-7.1 -7.2-0.3 0.6-3.1 -8.2,3.7 -1.7,1.3 4.7-14.6 -6.8,4.7 -5.7-9.9 -2.7-1.6 -3.6,2.1 9.8-17 -12.3,5.7 1.1,0.9 -23.5-6.1 13.8,4.3 -0.7,0.5 -2.5-9.6 -15,2.2 -11.6-4.9 8.4-5.7 -8.4,0.4 -10.1-9.1 5.2,4.4 1.2,1.3 2-13.6 -8.4,8 -16.7-8.5 17.4,0.3 -32.4,3.8 13.3,1.1 -13.3-3.4 9.8,0.2 -13.9,2.4 10-21.1 -15.3,12.6 -4.3,0.3 1-7.6 -17.5-3.5 8.8,12.2 0.1-17.2 -14.8-0.2 3.4,3.7 -3.8-7.7 5.8,12.3 -15.8-3.6 1.7-8.1 -8.8-1 -3.4-11.1 -6.2,13.7 7.4-0.5 -8.1-6 -1.1,0.1 -4.1,1.4 -0.6,1.4 -3.4-3.6 -5.1,7.3 -6.1-6.8 -2.5,6.1 6.5-3.9 -17.4-10.6 15,13.2 -17-6 7.9-0.5 -5.9,4.3 1.5-4.6 -2.3,4.8 -10.1-8.2 8.8,17.8 -11,1.3 3.1-11.2 -4.8-5.7 3.8,0.2 2.7,12.3 -10.7-0.9 -7.3-0.2 7.6,10.4 2.9-16.6 2.9,12.6 -5.4-12.7 -3,7.1 1.9,10.1 -10.1,2.5 0.8-2.2 8.6-7.4 -9.8,6 7.8-13.1 0,15.1 -2.4,8.2 -4-7.1 8.4-4 13.8,2.8 -18.8,9.5 1.6,1.3 5.9,5.9 -8.8,1.3 -2.9-2.7 12.5-2.3 -0.8,7.1 6.3-13 0,9.4 3,10 7.7-7 -9.7-1.7 7.9,18.4 13.3-12.3 -5.1-7 8.6,8 1.9,13.2 -21.9-7.1 8,11.4 16.3-22.5 1.8,26.6 -8.7-1.4 24.8,2.4 -8.9,11.4 3.9,8.7 2.3-12.6 3.9-5.5 -3.7,10.7 12.3-3.5 -3.1,0.2 -0.9,0.7 10.8,16 5.2-16.5 -0.2,4.1 19.8,3 -13,6.8 14,9.4 4.2,0.9 -4.8-7.1 12.7-1.8 9.9,12.5 -3.6-8.2 -4.7,11" fill="none" stroke="#feb54f" stroke-width="2.1" stroke-linejoin="miter"/>
<path d="M1441.2,296l13.8-4.8 8.2,13.3 -6.5-14.7 12.8-0.3 1.5,11.5 0.9,8 4.1,0.1 2.5-3.1 15.3,7.8 -3.8-3.9 2.4-1.1 16.9,2.2 -7.1,3.7 8.8,11.1 1.4-0.2 10.5-4.7 -1,8 7.5-6.3 -4.9,19 9.5-5.7 2-3.6 14.4,13.4 -14.1-7.9 14,9.2 2.4-10.3 4.9-0.2 -3-3.7 11.3,10.3 -6.2,2.8 3.4-4.8 11.4,2.4 -9.1-1.7 15.4,7.7 -2.9-10.1 8.8,8.8 -2.3,3.2 11.3,0 -0.9-1.7 -2.6-5.1 7.3,2.5 2.1,25.3 4.2-22.7 4.4,18.6 -1.5-10.7 -1.4-7.8 -7.9,5.3 21.9-4.8 -1.7,2.6 -5.1,2.5 8.8,10.5 2.9-7.3 -6.4,6.2 5.3,12.6 -5.5-10.6 -1.6-13.7 1.2,9.8 -0.9,2.8 8.1-10.3 -9.1,8.9 12.1-10.3 -6.7,6.5 7.9-8.2 0.5,12.1 2.7-5.6 -1-3.6 -7.2,14.9 1.9-9.1 -2.8,15.1 1.4-10.7 4.9,1.3 -16.8,0 9.7,9.7 -0.5-7.8 -0.8,6.7 -6.6-10.4 6.7,1 -1.1-0.3 -11.2-3.1 -4.8,1.3 7.7,12 -13.4-7.2 14-1 -15.7,4.6 16.4-8.5 -6.3,2.1 -11.3,5.9 0.4-4.8 -7.6,12.6 6.2-12.9 8.9,1.7 -13.5-8.9 -1.2,10.5 -12.3-0.2 4.5,1.9 12.6,5.9 -26.4-6.5 12.5-0.5 -7-0.7 -20.7,1.4 5.8-5.9 -4.5,3.6 4.5,10.7 -9.9-6.2 -2.1,3.3 1.1,6.9 -8.8,2.8 4.3-17.9 -8.3-2.1 5.1,0.9 -16.4,13 10.3-11 -14-2.1 -3.4,10.4 2.5-4 -5.8-5.7 -18.3,8.2 5.6-1.8 -10.4,7.4 -0.8-0.9 4.4-4.5 -13.7,5.5 9.7-5.5 -11,2.4 1.4,13.9 -11.2-17.7 -9.7,8.5 0.7-1.6 -0.6-0.4 -4.3,3 -0.1,2.5 -1.4-6.4 -3.8,3.2 -3.3-6.2 -5.6,11.9 -4.7-0.1 -3.5,1.9 -2.3-4.4 -5.7,10.5 -6-15.9 -10.4,6.2" fill="none" stroke="#feb953" stroke-width="2.1" stroke-linejoin="miter"/>
<path d="M1408.8,387.6l0.3-4.4 2.7,8.2 -17.1-9.2 4.1,14.7 2.6,1.1 -3.6-13.4 -9.6,8.9 15.1-8.1 -11.8,14.9 -11.6-7.8 8.9,6.8 -1.1,4.3 -18.8-17.1 19.4,11.7 -19.4-11.2 1,5.5 -9.7,12.3 3.2-9.8 -13.8-1.8 8.7-2.5 3.8-0.6 -3.1,4 -12,8.1 8,0.9 -14.1,4.6 12.5-11.8 -17.8,6 5.1,0.2 6.7-0.1 -5.2-4.6 -7.9,11 -1.3-13.3 2.7,9.1 3,1.8 -5.9,0 -7.7,4.2 6.2-3.4 -3.1-1.4 5.2,11.7 -1-24 -3.2,11.1 1.7-4.4 -2.4,11.8 -4.3-9.8 -10.6,1.5 15.4,2.3 -7.6,7 2.5-6 2.1,7.8 12.8-9.6 -6.8,0.2 6.9,1.1 -7.7,0.7 2-11.5 -3.7-0.7 15.8,6.4 -8.1,12.6 11.4-20.7 1,22.4 -1.1-11.3 -3.1,1.1 4-1 -0.6-9.8 -5,7.7 2.1-7.3 19.4,9.8 -16.8-13.4 6.7,13 6.7-2.8 2.5-4.9 -1.5-4.1 8.1-1.9 -1.6,5.6 -2.1,7.4 13.8-10.8 -0.5,14 5.9-18.4 5.6,6.7 -2.3-15.9 6.9,25.3 1.2-33.7 8.7,14.6 2.8,4.8 0.4-10.4 -0.2-5.4 2.7,0.7 5.4-13.9 11.8,16.3 14-12.9 -2.9,6 -2.4-0.3 5.4-5.7 -2-12.3 -1,11.6 13-9.3 3.2-3.7 5.5-5.4 0,13.5 7.6-3.9 2.9-4.1 -1.2-12.8 19.3,16.3 -3.5-20.9 2.7,15.9 8.8-11.1 -1.1,2.3 11.5-11.5 -5.5-10.7 5.3,13.1 9.3-10.3 -1.3,3 16.8,9.4 -13.7-9.1 13.3-11.9 7.4-2.6 9.8,0.2 -0.4-1.3 5.3-7.4 8.2,4.1 -9.9,2.1 4.8-8.2 11.6-7.5 -4.7,9.5 5.6-22.9 4.8-4.2 -2.2,8.2 1.9-16.1 7.4,14.8 -5.1-1.2 12.2-1.3 -5.5-6.5 23.3-14.2 1.2,7.3 -0.6-2.9 -8.7-3.9 3.4-12.9 14.1,6.7 -8.2,2.8 6.4-7.8 -7.5-8.4" fill="none" stroke="#febd57" stroke-width="2.1" stroke-linejoin="miter"/>
<path d="M1608.1,238.9l13.5,7 -4-17.8 2.2,8.4 -11.5,0.4 10.8-7.9 7.4-10 -1.9,8.3 -5.2-7.5 8.7,3.1 -1.6-2.5 3.9,2.7 -11.9-16.4 8.3,8.5 3.1-3.1 -12.3-5.1 3.4,5.8 15.6-3.6 -11-1.9 3-6.1 5.6-0.7 -12.3,2.9 10.1-10.8 -13.6,9.6 9.1-7.3 3.8-7.7 -5.2-7.2 -11.9,3.5 10.7-2.9 2.2-7.8 -9.6,13.8 12.3-7.4 -19.2,3.6 17.8-1.4 -17.2-7.1 14.6,7.6 -17.9-8.2 -4.8-1.2 4.1,2 -1.4-4.8 0,6.4 -2.5,6.9 -8.2-16 4.4,5.4 -3.1-2.2 -6.3,2.5 -10.7,1 -4.9,1.5 9,0.8 -1.7-3.5 -4.4-7 -12.6-0.7 13.6-17.9 -18.3,19.5 8.7,5.3 -13.3-10 -6.9,8.8 4,1.8 -6.8-2 4.4,0.2 1.3,0.8 -10.3-7 -0.5,6 -4.7-5.6 -11.2,0.3 -7,9.5 10.1,0.7 -13.8,5.4 -0.2-11.4 -4.5,5.3 -9.8-6.3 -1.3,12.3 6-11.9 -7.8,20.2 -10,2.6 -7.8-5 5.7-5.4 -12.8-3.1 -1.9,14.9 7.3-8 2.9,10.6 -15.2,0.9 -7.1-3.5 1.4-4.6 -22.7,9.8 4.5,2.7 8.9,13.8 -7.8-8 -12-2.2 -5.8-5.2 12.4,17 -10.5,2.2 -4.4,1.9 -4.9,6.3 -7.5-6.6 -6.9,7.5 8.2-4.9 -9,7.3 -6.1,8.5 -7.4,2.7 11,4.6 -9.8,3.2 -3.9-5.1 -4.8,1.9 5.6,14.1 -8.3-2.7 -6.5-7.4 -12.7,17.4 7.7-5.2 3.3,5.8 12.9,7.5 -26.2,0 0.7,3.2 3.8,2.8 -1.2,13.2 -12-4.3 6,0.7 -12.5,11.8 0.2-2.1 6.6,11.3 2.3,14.1 -8.3-4 -1.5-8.4 -3.2,5.5 7.3,6.6 -6.5,10.4 -10.3-3.1 9.8-4.8 -2.5,13.2 -10.2,10.7 1.7-11.9 8.9,9.6 -5.8,6.7 7.6-0.3 -4.9,0 -8.2,9.8 8.3,3.7 -9,2.4 1.3,1.9 -5.7,3.7 9.9,11.4" fill="none" stroke="#fec15d" stroke-width="2.1" stroke-linejoin="miter"/>
<path d="M1328.9,388.9l4.6,2.2 -7.9,2.7 0,3.2 6.6,1.6 12.4,20.2 -4.3-22 -16.2,22.4 17.6,0 -3.1,5.5 -11.3,7.5 18.4,2.6 -0.8-5.7 11.3-0.2 -7.7,8.8 3-2 -1.9,9.9 -2.9-7.7 9.1,11.4 2.8-3.7 5.7,2.7 -7.8,12.9 6.3-12.8 -4.4,9.2 12.9,11.1 9.8-12 -8.1,3.3 8.4,21.1 8.5,7.5 -8.9-9.5 2.4-0.6 -2-0.5 20,3.4 -1,4.7 -1.5-3.7 -4.2,3.1 14.3,8.4 7.2,2 -6.9-2 8,7.6 9.9,2.6 -5-0.5 5.6-6.1 7.3,6.4 -0.1-4.1 1.5,10 10.7-0.2 5.1-8.9 1.9,10.7 10.4-10.3 -0.1,11.3 2.1-4.2 3.7-0.8 14.1-3.1 0.6,2.1 5,13 -3.5-17.9 9.2,21.3 2.5,0 1.9,5.1 7.3-17.4 0.9,0.7 13.6,12.7 -12.5-8.2 13.5,0.8 0.5,5.4 2.6-9.3 14.5-3 0.4,4.6 -7.7,1 8.3-7.2 9-5.3 -5.8,8.6 16.9-6.6 -5.1-3.3 5.1,17.5 9.5-23.4 5.8-2.9 -1.9,9.1 -0.9-15.2 10.7,13.2 -11.3-8.1 8.1-2.2 -5.3,5.4 15.6,4.6 -3.8-24.5 10.9,12.8 -1.9-6.4 0.8-12.4 -0.2,2.3 1.8-1.5 7.8,11.9 1.7-11.9 7.7,5.2 -16.7,1.7 11.9-22 -1.9-5.5 12.8,10.3 -8.2-10.5 4.3,0 0.9-1.5 3.8-3.6 3-12.3 -19.2-1.2 12.9,1.8 -3.5-0.8 5.7-6.4 4-8 0.4-13.6 7,13.8 -6.2-13.5 -3.9,5.7 -3.1-5.7 -2.5-3.3 5.2-1.9 10-7 -16.2,5.8 13.5-17.3 -10.4,5.2 3.4-0.8 -1.4-1.4 0.4-13.3 -8.9,6.6 -0.2-7.2 9.6-10.2 -7-5.7 -0.5,13.9 -9.2-6 -8.2-9.6 12.6-15.5 -4.6,10.9 -7.8-5.9 1.6-4 4.1-8 -7.4,2.9 0.3-7.1 0.2-9.4 -20-4 10.2,8.8 -8-11.4 1.6-13.5" fill="none" stroke="#fec561" stroke-width="2.1" stroke-linejoin="miter"/>
<path d="M1581.1,295.2l1.1,6.3 -11.2-0.7 4.1,14 6.7-28.9 -10.4-5.5 -13.1,0 2.7,0.5 -1.2,1.6 -7-18.1 -7.6,18.3 1.5-4.8 0.8-11.6 -2.4,0 -0.5,10.4 -10.8-17.9 3.5-6 -11.7,10.4 -1.2-10.7 -12.6-5.1 2,13.5 -7.8-17.9 11.6-10 -6.4,2.4 0.3,11.7 -6.2-3.6 -16.3-7.4 0.2,0.2 -3.4,1.5 -2.8-2.6 -8.1-17.9 -4,5.8 3.3-6.7 4.7,4.1 -13.5-9.3 4.2,11.7 -3.6,0.2 -27.2-1.3 3.2,4.7 -4.7-13.8 2.6,3.3 -7.8-5.7 -1.3-4.5 -1.4,1.4 -4-2.6 -7.1,2.7 1.5-7.5 -10.2-3.5 3.8,1.9 -5.7,1.2 -2.2,10.2 -1.8-7.6 -11-16.5 8.3,12.2 -4,5.1 -11.6-14.1 -9.3,9.6 9.3-9.9 -7.1,1.5 -18.2,1.1 11.1,10.9 2.2-20 -6.2,19.6 6-5.5 -14.2-7.5 1.1,7.7 -12.2-13.2 -1.7,6.5 4.3,2.8 4.9,2.5 -14.1-1.9 -4.7-2 5.2,8 -6.9-16.2 -7.4,6.2 13.2-3.4 1,2.8 -9.7,0.6 -8.2-1.7 6.2,3.1 -6.6,1.1 8,3.9 -0.8,5.1 -4.5,9.6 4.4-11.5 -6.1-6.2 7.9,13.2 -6.1,10.5 -3.7-6.9 7.1-5 -8.1-5.3 9.1,9.5 -2.9,5.7 -0.8-10.4 0.8,0.4 -1.9,5.5 -2.9-3.1 7.9,9.1 5.4-5.6 -6.3-4.8 1.3,19.8 -4.8-2.5 11.8-7.6 -0.5-8 -4.2,20.2 9-1.2 -3.9-7.5 -3.3,11.8 6,12.6 5.2-10 -7.4-6.1 11.6,24.8 -5.2-3.4 19.3-10.7 -17.6,4.4 12.9-2.9 -3.4,12.7 7.6,3.1 -1.9-3.1 8.2,9.2 -1.1-2.5 5-1 4.5-0.8 14.9,5 -13.3,5.1 13.3-3.2 -5.5,0.4 7.1-0.5 13.1,11.2 -11.2-4.9 6.8,7.7 -0.2,4.5 4.9-0.1 5.9,1.6 28.8-5.5 -18.1,8.9 19.2-4.6 -3.1,1 -3.5,18.4 9.5-4.8 9.2,1.8" fill="none" stroke="#feca66" stroke-width="2.1" stroke-linejoin="miter"/>
<path d="M1456.8,298.4l-1.1-4.2 0.2,12.8 8.8-12.4 -4.1-2.7 5.1,7.2 10.2,2.4 4,14.1 -2.5-14.9 9.2,12.1 2.7,11.9 0-7.9 14-2.9 0.1,8.4 6.2,6.4 -5.6-2.7 10.4-7.3 3.6,23.9 -5.5-23.6 18.6,0.7 -5.8,11.1 7-9.2 10.7,11.5 -8.8,9.8 10.1-15.3 6.6,0.5 4.3,13.8 13.8,11.2 -16.9-12.4 10-5.4 4.5,8 11.4-17.6 -7.4,23.2 -10.5-7.5 27.6,4.5 -9.8,1 6.3-2.4 -4.2,9.4 8.3-6.7 3.5,10.2 8.6,9.5 2.3-12.5 -3.6,4.7 7.9,3.3 -3-11.1 1.3,8.4 4.9-4.7 3.8-6.2 -3.3,7 7-2.6 2.6,11.3 0.2-11 -4.8,0.4 13.2,16 -8.6-13.7 5.3,5.7 -1.9,2.7 4.9,1 -15-19.3 22.4,24.1 -6.7-8.2 -8.2-0.9 4.9,5.7 13.9,10.4 -12-13.9 -5.5-6.4 3.3-3 13.9,11.8 -24.5,8.8 8.5-11.3 -1.6,10 13.1-3.4 -12.6-1.3 3.3,2.2 -10.9,0.9 0.9-8.6 9.4,10.5 -8-15.2 -14.8,7.4 17,6 -2.4,2.7 -7.5-6.3 -2.6,6.9 0.2,0.7 -4.6-14.2 -2.1,2.1 -4.2,12.8 0.1-8.8 -5.1-0.1 0.6,0.3 -10.2,6.7 5.9-13.9 -3.8,11.8 -5.8-13.1 5.6,17.1 2.2-8.3 -1.6,4.1 -18.9-10.9 8.4,15 -4.5,0.8 -8.9,3.4 -4.5-3.9 -0.5-5.9 2.4,4.2 -7,0.2 -7-7 -8.3-0.5 0.2,13.4 3-11 2.9-5.5 -18,13 6.5-2.5 -9.5-2.5 -7.4,2.4 1.9,5.9 -2.7-2.3 -12.1-12.2 -3.7,6 11.4,9.2 -14.5,9.2 1.5-6 -9-7.8 -7.3,9 4.6-1.6 -8.5-9.3 -9.7,7.4 8.8-3.2 -3.4,1.2 -15.7-6.8 5.9,9.6 -6.1-1.7 -8.7,0.1 -0.1-6.3 -7.6,18.6 0.5,0 -2.7-3.5 -12.4-16.6 -3.7,3 7.1,18.7 -4.6-6.7 -1.3-5.3" fill="none" stroke="#fece6a" stroke-width="2.1" stroke-linejoin="miter"/>
<path d="M1420.9,383.7l-6,4.7 -3.6,1.7 -11.1,1 9.5,8.4 -14.2-13.2 5.1-1.8 -0.6,17.1 -20.2,2.1 2.7-3.2 2,1.5 -6.1-10.1 1.2,8 -10.1-10.1 -1.9,6.4 9.1-3.1 -8.5,2.7 -6.1,1.3 -9.5,6 18.6-7.9 -6.9,11.7 -5.6-17 -9.9,11 -4.1,3.5 6.3-6.8 -6-2.5 10.8,3 -5.5,7.5 -4.7,0.5 -12.8-5.3 0.5-0.6 0.9,1.9 6.3-8.1 -9.6,12.4 4.3-10.2 1.3,0.8 -5.4,7.3 9.5,2.1 -12.8-4.6 -2.4-0.7 3.6,1.1 8.5,9.6 -14.1-7.4 7.4-9 -9.3,15.8 8.6-4.9 -0.9,2.3 0.9-12.1 0.7,19.9 3-17.8 0.4,7.3 2.5,2.1 -1.4-1.8 3-12.5 -13.1,14.2 15.6-6.1 -16.4-1 16.9,0.1 -12.8-2.3 15.7-7.7 -5.9,8.8 4,2.6 8.2-4.6 -2-11.8 0.9,16.2 -5.8,1 6.2-5.7 11,1.1 -0.1-0.7 4.9-1.4 -6.7-13.6 8.4,6.9 3,7.6 0.7-7.8 8.8-2.3 1.9-5.4 9.4,20.6 -9.1-11.1 5.6-8.3 4,10.7 18.1-0.2 -2.2-9.4 -0.6-1 1.4,3 -0.5-9.4 2.4,12.8 7.6-5.9 3.7-17.6 3.4,8.2 3.2-7.4 9.7,3.7 -0.5-5.1 -6.5-3.3 19-1.9 11.6-6 -13.5,6.3 11.8,9.4 -3.3-11.8 17-12.4 -7-1.7 5.3,4.2 3.4,11.7 26.7-10.2 -19-17.9 4.1-0.1 14.7-1.2 4.6,13.4 11.1-1.5 -11.5-10.9 3.4,1 7.2-7 10.1,4 6.1-13.8 1.8,7.3 -11.6-2.5 8.6-10.1 14-5.2 8.6,0.9 -2.5,3.1 0.5-7 0.9,7.7 15.3-1.3 -3.7-4.7 16.5-8.1 -11.2-17 14.4,6.8 -12.8,2.8 5.8-4.3 3.8,0.7 -3.2-4.4 15.3-13.9 -1.2,1.7 5.6-4.1 -3.4-5 11.2-1.2 2.4,4.5 2.4-14.3 5.5,13.8 -7.3-10.2 4.8-3.7 0-11.7" fill="none" stroke="#fed36f" stroke-width="2.1" stroke-linejoin="miter"/>
<path d="M1613.1,236.3l5,6.2 -1,2 -3-5.2 13.2-8 1.8,2.7 2.8-2.3 -13-7 -4.8-11.3 9.2,0.2 7-3 1.2,12.9 -5.4-5.7 3.4-6.5 8.3,12.3 -12.7-24.1 10.5,17.7 -1.4-12.7 -10,3.7 7.4-7.5 -7-5.5 -1.6-1.1 -5.2,5.3 2.8-4.2 9.9-9 -8.2,5.5 4.2-3.2 -6.7-8.9 4.3,18.5 -2.8-16.5 -3.6-11.8 -6.7-1.3 10.9,6.3 -5.9,8.7 -8.7-11.4 5.2-7.5 2.7,14 3.6,1 -16.5-7.1 4.4,3.1 4,11.2 -11.6-2 6.7-6.7 -21.9-9.9 7.6,4.7 -0.6-3.1 -11-7.4 11.2-4.8 -3.5-8.2 -1.7,11.9 -6,12.5 -8.2-13.6 -5.4,4 -5.7,1 -0.3-3.6 1.3,0.1 -11.8,14 2.7-2.5 -3.1-4.4 -2-5.5 5.9-5.3 -5.9,10.1 -21.1,3.4 0.3,1.3 -11.7,4.2 1.6,1.2 6,1.9 -8.7-6.8 -8.3,0.1 0.8,6.3 5.4-4.8 -8.7,1.1 -9.5,4.8 6.2,1.3 -5.7-3.4 -5.7,4.1 -5.3,20 -13.4-17.3 6,1.4 -3.6,2 -2.2,3.4 -0.4,3.6 -12.1-5.3 -0.3,15.7 -14.4-10.7 13,3 -9.8,12.3 -10.2-2.4 -6.4-5 1.9,3.8 -5.6,6.5 1.3,3.5 -7.1,7.8 -14.8-3.3 8.3,0.1 0,2.2 -17.5,8.7 8.2,1 -13.5,4.4 -6.7,3.6 3.4,6.4 -1.3,1.8 1.1,9.1 -7.4-11.3 12.9-0.6 -8.2,5.9 -3.8,11.8 3.8-0.3 -15.2,1.7 -8,7.1 7.4,1.1 -5.7,7 -1.6,7.1 -2.7-14.9 -14.5,21.4 10.3,6 2.2-14.4 -17.4,17.5 5.7-7.7 3.8,6.8 -7.3,3.7 1.3,9.9 5.2,5 -18.3,3.8 6.8-3.8 0.5,7.3 1.6,10.2 -1.8,6.2 -10.8-6.3 4.3,4.2 7.8-1.4 -5,6.5 3.8,10.4 -10.8-11.7 1.5,9.3 -5.8,0.1 10.9,18.6 -14-4.9 16.2,1.4 -8.3,25.2 5.8-17.9" fill="none" stroke="#fed673" stroke-width="2.1" stroke-linejoin="miter"/>
<path d="M1332.1,379.1l-9.2,0.9 6.5,3.7 7.7,9.8 -13.7-2.1 9.5,12.3 -0.9,6.2 6.8-2.8 -1.9,2.8 -7.8,22.1 9.8-20.9 2.4,5.2 2,3.3 1.2,18.3 1.7-12.7 7.5,9.7 -19.5,2.9 18.1,11.8 0.6-0.4 6.8,8 -1-0.3 4.4-3.2 12.1,8.8 -17.4,6.5 7.4-2.9 2.8,5 3.8,14.3 -4.1-9.5 11.9,1.7 -1.1-6.1 5.4,3.4 9.1,10.7 -4.1,1.4 21,0.7 -3.9-1.2 7.8,12.4 -5.6-12.8 -0.7,14.4 14.3-8.7 -12.1-1.4 8.4,30.7 1.6-16.9 9.5-2.6 8,0.3 0.9,4.7 16.7,2.1 -8.3,2.2 -4.7-1.7 20.6,0.6 -10.6-8.9 11.7,5.9 0.8-3.6 5.4,10.8 10.2,7 -3-13.3 -1.5,16.5 9.2-15.3 6.5,13.1 7.6-12.5 -0.8-6.1 4.9,9.1 9.6,5.2 -6.3,4.6 12-11.3 7.4-1.7 1.2-1.6 -0.4,5.1 -2.3-10 4.3,6 6.4-0.4 11.8,0.4 7-2.4 4.6-15.2 -8.5,12.1 0.4,12.3 19.7-17.6 -8-16.1 4.4,9.6 2.2,9.4 2.6-10.8 -2.3,13.7 12.5-14 -10.9,6.5 11.7-7.2 3.5-1 4.8,1.1 -5.4-17.4 13.1,4.1 -3.3,4.2 7.7-9 -2.1-8.2 4.3,4.7 -4.9,2.4 14.9,0.8 -3.8-16.9 0.4,4.3 9.9-2.7 -14.4,3.2 15.2-4.3 -1.8-14.2 -5.4,7 9.8-2.5 -11.6,1 14.3-5.4 -8.6-7.2 5.1,0.2 7.9,1.7 -1.7-11 -7.1-6.3 2,12 -0.8-22.1 -5.9,1.8 0.2,2.6 2.4-5.1 6.4-10.2 -9.4-6.2 4.8,1.1 1.1-1.5 1.6-11.1 -8.5,7.7 9.5-5.2 -11.6-12.3 8.9,0.3 1.6,5.2 -21.6-10.8 16.4-3.4 -5.2-4.2 -4.3,7.4 -4.4-6.8 3-5.8 -13.5-7.1 12.5-21.3 -3.7,8 -3-10.2 -6.9,5.5 -1.7-10.2 3.1,1.5 -2.2-1.7 -7.1-6.2 -0.6,8.6 -11.5,1.9" fill="none" stroke="#fed977" stroke-width="2.1" stroke-linejoin="miter"/>
<path d="M1574.3,319.9l-6.2-13.1 8.3-9.5 4.1-1.7 -21.9,1 7.3-4.9 -5.2,2.8 3-7.6 -1.6,1.2 -1.6-10.3 -10.2,5.3 -2.2-14.4 -2.4,5.6 -10.8,1.7 9.7-8.2 -5.2-0.7 -2-6.7 -12.3,6.5 6.4-10.6 -15.7-6.8 4.6-3.5 -19.8-0.6 3.2-9 2.6,17.1 -14.2-8.7 7.4-5.8 -14.5-5.6 16.8-1 -18.4-5.6 0.2,0.1 -6.3,6.7 -1.9-23 -0.8,14.6 -6.6-4.3 -13-8.9 4.3,6.3 1.7-0.9 -6.4-9.2 -6.6,7.5 -0.7-3.3 -7.9-8.9 2.1-8.1 -17.8,9.1 1-1.3 1.9-5.2 -8.8,13 -7-1 13.9-5.2 -19.3,6.8 4.2,1.2 -4.6-17.8 -12.1-3.2 5.1-2.6 -12.6-4 -4.6,20.5 9-8.9 -7.1-12.8 3.3,13.3 -4.4-1.3 -1-11.1 -5.2,5.2 -4.5-2.7 -5-3 2.6-0.8 -13,0.5 3.6,3.5 10.1,5.6 -13.8-9.4 2,12 -10.9-12.3 8.1-3.3 -5.5,1.3 -3.1,15.7 -8.7-10.8 -3.5,1.6 8-3.2 -14.9,15.3 3.7-5.3 4.3,0.2 -8.1-9.1 -0.4,11 -2.4-8.2 3.7,7.6 -2.1-11.2 2.4,10.8 -3.6,13.1 8.9-4.3 -10.4-5.6 -5.5-8.1 11.3,6.3 -3.1,8.4 -0.4,8.1 -8.1-9 19.5,1.9 -8.5-6.9 -4.9,7.2 -4.2,12 9.7,10.3 -1.6-10.9 4.2,1.4 -2.8,3.9 -7,0.5 10.1-8.6 2.3-0.7 7,19.2 -11.7-9.2 6.1,4.3 1.7,3.6 0-0.8 2.2-0.6 2.5-11.5 4,18 5,3.8 3.8,2.8 -1.2-5.1 -1-12.2 11,14.6 8.5,5.4 2.4-1.1 3,7.7 -3.5,2.5 1.4,6.8 -3.6-9.7 11.6,8.2 14.2-2.3 -0.1,8.6 -5.3,3.5 8.6,0.5 -4.8,0.2 13.1,0.7 -0.8-0.1 4.7-0.7 1.7-4.6 2.1,18.9 9.4-0.3 2.7,3.2 -10.3-12.6 20.7,15.7 -11-12.9 28.5,16.9 -2.7-8.6" fill="none" stroke="#fedc7c" stroke-width="2.1" stroke-linejoin="miter"/>
<path d="M1453.9,287.7l4.5,11.2 -7.9,1.8 9.9-6.6 3.3,7.3 10.9-0.3 -6.5,0.5 10.1-1 7,4.5 7.7,7 -8.7,11.2 0.7-13.4 10,26.5 3.8-22.9 11.9,1.9 9.4,15 -0.6-5.8 3.4,2.6 4.4-6.3 14.6,8.7 -10.2,4.2 11.7-4.4 2.6,0 -1.4,8.4 -1-17.3 3.2,16.2 9.2-11.8 -6.2,17.7 18.7-2.8 -8.2,6.6 15.1,1.8 -4.5-1.3 -1.1-13 15.9,9.9 -6,6.1 12.4-3.4 -3.5,7.3 1,10.5 9.4-17 -8.2,13.8 9.6-6.5 3.4-3.6 -3,4.8 6.2-0.3 -4.9-11.6 8.2,7.6 0.3-10.6 3.8,16.4 6.3-3.9 1.4-6.8 -13.1,19.3 25.6-5.1 -13.5-3.9 2.6,0.5 -7.8,1.1 14.8,3.7 -12.3-2.9 8.3,11.6 -7-11.3 7.7,10 0.8-15.5 3.7,5.1 -4.4,4.3 -8.4,5.9 6.7-0.8 -6.6-6.4 6.2,8 0.7,5.7 -13.9-13.5 16,7 -3.5,2.5 -10.3,10.5 8.4-11.1 -1.9,10.3 0-17.4 -1,3.4 2.7-8.6 -2.8,18.2 -5.6-10.9 -4.4,8.8 -4.4,0.6 -0.5-3.5 3.7,5.7 0.6-16.9 -5.5,11.9 7.2,2 -17.3-13 3.6,12.2 -2.4-2.1 10.2,0.6 -25.1,1.5 5.7-2.2 -0.4-4 0.2,9.4 4.6,1.3 -8.6-1.6 -5.3,5.7 -9.6-3.3 3.2-3 -10.4,4.7 1.2-7.8 1.5-5.4 -5.4,2 -1.9,4 0.3,8.7 -1.6-5.7 -10.9-3.2 -16-1.3 13.1,5.4 -1.5-4.8 -7.4,1.5 -10,8.8 4.2-8.3 -12.6,4.2 7.3,6.2 -14.4-13.8 -3,3 -2.6,1.9 -8.9,3.8 3-8.5 -9.7,12.7 -1-13 4.3,13.4 -11.1-2.8 0.9-6.6 -4.4,6.3 -6.3-1 -8-4.6 -5.5-1.9 0.8,6.6 -4.4-8.5 3.4,24.3 -3.1-10.5 -17.5,2.5 10.4-11 -3.8-2.6 -7.5,11.7 -2.9,0.4 -2.6-3 -9.8,1.2 0.3,0.4" fill="none" stroke="#fede80" stroke-width="2.1" stroke-linejoin="miter"/>
<path d="M1416.1,385.8l-4.2-0.9 -8.3-6.2 -3.2,15.5 -0.1,3.5 -5.8-5.6 -3.4-0.6 6.7,0.3 -7.4,0.4 -5.5-0.3 -3.2-5.6 0.1,7.8 -3.3-0.6 0.1,7.2 -0.6-2.2 -14.2,2.5 5.4-8.3 -3,1.2 -10.5,4.6 12.6-0.6 -3.8,1.3 -17.7-7.8 5.6,4.7 -4.8,8.9 9-12.2 -11.6,11.7 0.5-0.3 0.1-1.6 -3.3,7.9 0-11.2 -2.4-4.8 0.3,14.5 1.3-9.3 -15.4,2.4 10.7-3.5 -2.3,0.8 -1.4,0.2 -0.2,10.3 -5.2-13.2 2.3,5.5 -7.1,0.1 13.1-0.4 -10.7,6.2 1.6,0.1 5.5-6 -12-2.7 12.8,16.9 -7.1-3.8 4.2,1.5 2.6-7.1 2.6,3.6 2.9-6.9 5.6,4 -11.5-7.8 3.1,6.3 0.3,0.8 5.4,2.8 8.7-4.2 -3-5.6 -5.3,4 -0.6,7.7 7.2-2 -0.9-8.3 -2.1,2.9 -4.6-1.7 9.7-0.8 15.5-6.2 -5.6-8.7 -9.9-0.9 15.6,14.7 -6.2-5.7 22.5,11.8 -7.4-2.1 -5.8-1.9 13.1-14.7 -11.2,7.8 11.8,6.8 7.8-11.8 -6.5-0.8 18.6-2.5 -6.5-16.1 8.2,28.1 1.7-14.9 5.6-12.2 -10.7,3.8 24.2,15.8 1.2-14.2 -9.5,3.4 18.2-1.9 -2.6,1.7 4.2-17.6 0.2-12.2 7,7.6 9.2,10.4 1.2,2.4 -6.4-19.4 20.8,3.3 0.7,8 -8.1-14.8 7.6,15.2 7.1-10.1 0.6-3.2 12.7,2.3 3.9-15.4 -3.7-4.7 7.9,2 12.1-2.5 -6.8-5.6 21.2,3.1 -11.6-10.8 9,1.2 3.8,8.6 0.5-23.1 10.8,9 -5.9,4.6 5.3-12.8 3.6,3.4 8,1.5 -4.1-0.8 11.6,1 5.7-8.1 3.7-16 0.1,11.6 14.4-8.5 -6.3,1.8 2.6-12.5 10.2,22.3 5.5-15.4 -10.9-15.4 4.5,7.8 1.6-8 4.2-10.3 1.3-2.4 8.4,18.2 2.7-14.3 2.2,2.9 3.2-6.2 0.2-14.3 1.6,7.7 9.7-11.1" fill="none" stroke="#fee085" stroke-width="2.1" stroke-linejoin="miter"/>
<path d="M1612.3,248.5l3.1-4.4 2.9-4.3 2.5-4.3 2.3-4.2 1.9-4.1 1.6-4 1.4-3.9 1-3.9 0.7-3.7 0.4-3.6 0-3.5 -0.2-3.4 -0.6-3.3 -0.8-3.1 -1.2-3 -1.4-2.8 -1.8-2.7 -2-2.5 -2.4-2.4 -2.6-2.3 -2.8-2 -3.2-1.9 -3.3-1.7 -3.7-1.6 -3.9-1.4 -4.1-1.2 -4.3-1 -4.5-0.8 -4.8-0.7 -4.9-0.4 -5.1-0.3 -5.3-0.1 -5.5,0.1 -5.6,0.3 -5.7,0.5 -5.9,0.7 -6,0.9 -6,1 -6.2,1.3 -6.3,1.4 -6.4,1.7 -6.4,1.8 -6.4,2 -6.5,2.2 -6.5,2.4 -6.5,2.6 -6.6,2.8 -6.5,2.9 -6.5,3.1 -6.4,3.3 -6.4,3.5 -6.4,3.6 -6.3,3.8 -6.2,4 -6.1,4.1 -6,4.3 -5.9,4.5 -5.8,4.5 -5.7,4.8 -5.5,4.8 -5.3,5 -5.2,5.2 -5,5.2 -4.8,5.4 -4.6,5.5 -4.4,5.6 -4.2,5.7 -4,5.8 -3.8,5.9 -3.5,5.9 -3.3,6.1 -3,6.1 -2.7,6.1 -2.5,6.2 -2.3,6.3 -1.9,6.3 -1.7,6.3 -1.4,6.4 -1.1,6.3 -0.8,6.4 -0.5,6.4 -0.2,6.3 0.1,6.3 0.4,6.3 0.7,6.3 1,6.2 1.3,6.1 1.6,6.1 1.9,6 2.2,5.9 2.5,5.8 2.8,5.7 3,5.6 3.4,5.5 3.6,5.4 3.9,5.2 4.1,5 4.4,4.9 4.6,4.7 4.9,4.6 5,4.3 5.3,4.2 5.5,4 5.7,3.8 5.9,3.5 6,3.4 6.2,3.1 6.3,2.9 6.4,2.6 6.6,2.5 6.6,2.1 6.7,2 6.8,1.7 6.9,1.4 6.9,1.2 6.9,0.9 6.9,0.7 6.9,0.4 6.8,0.2 6.9-0.1 6.7-0.4 6.7-0.6 6.6-0.9 6.6-1.1 6.4-1.3 6.2-1.6 6.2-1.9 5.9-2.1 5.8-2.3 5.6-2.5 5.5-2.8 5.2-3 5-3.2 4.8-3.4 4.5-3.5 4.3-3.8 4.1-4 3.8-4.1 3.5-4.3 3.2-4.5 3-4.6 2.7-4.7 2.4-4.9 2.1-5 1.8-5.2 1.5-5.2 1.2-5.3 1-5.5 0.6-5.5 0.3-5.6 0-5.6 -0.3-5.7 -0.6-5.8 -0.8-5.8 -1.2-5.8 -1.4-5.8 -1.8-5.9 -2-5.9 -2.3-5.8 -2.5-5.9 -2.8-5.8 -3.1-5.9 -3.3-5.7 -3.6-5.8 -3.7-5.7 -4.1-5.7 -4.2-5.5 -4.4-5.6 -4.7-5.4 -4.8-5.4 -5-5.3 -5.2-5.2 -5.3-5.2 -5.5-5 -5.7-4.9 -5.7-4.8 -5.9-4.7 -6-4.6 -6.1-4.5 -6.2-4.3 -6.3-4.2 -6.3-4.1 -6.4-3.9 -6.4-3.8 -6.5-3.7 -6.5-3.5 -6.4-3.4 -6.5-3.2 -6.5-3.1 -6.4-2.9 -6.4-2.8 -6.4-2.6 -6.3-2.4 -6.2-2.3 -6.1-2.1 -6.1-2 -5.9-1.8 -5.8-1.6 -5.7-1.5 -5.5-1.3 -5.4-1.2 -5.3-1 -5-0.8 -4.9-0.7 -4.7-0.5 -4.5-0.3 -4.2-0.2 -4.1,0 -3.8,0.2 -3.6,0.2 -3.3,0.5 -3.1,0.6 -2.8,0.7 -2.6,0.9 -2.2,1.1 -2,1.2 -1.7,1.3 -1.4,1.4 -1.2,1.6 -0.8,1.8 -0.5,1.8 -0.2,2 0.1,2 0.5,2.2 0.7,2.3 1.1,2.4 1.3,2.6 1.7,2.6 2,2.6 2.3,2.8 2.6,2.9 2.9,2.9 3.2,3 3.5,3 3.7,3.1 4.1,3.2 4.3,3.2 4.6,3.2 4.8,3.3 5,3.3 5.3,3.3 5.6,3.4 5.7,3.3 5.9,3.4 6.1,3.3 6.3,3.4 6.4,3.3 6.5,3.3 6.7,3.3 6.8,3.3 6.9,3.2 7,3.2 7,3.1 7.1,3.1 7.1,3.1 7.1,3 7.1,2.9 7.1,2.9 7,2.8 7,2.8 6.9,2.6 6.9,2.7 6.7,2.5 6.6,2.4 6.5,2.4 6.3,2.3 6.2,2.2 6,2.1 5.9,2.1 5.6,2 5.4,1.8 5.2,1.9 4.9,1.7 4.7,1.6 4.5,1.6 4.2,1.5 3.9,1.4 3.7,1.3 3.4,1.3 3.1,1.2 2.8,1.1 2.5,1.1 2.2,1 1.9,0.9 1.6,0.9 1.3,0.8 1,0.7 0.7,0.8 0.3,0.6 0.1,0.6 -0.2,0.6 -0.5,0.6 -0.8,0.5 -1.1,0.4 -1.4,0.5 -1.7,0.4 -2,0.4 -2.2,0.4 -2.5,0.3 -2.8,0.4 -3,0.3 -3.2,0.3 -3.5,0.3 -3.7,0.3 -4,0.3 -4.1,0.3 -4.4,0.3 -4.6,0.3 -4.7,0.4 -4.9,0.3 -5.1,0.3 -5.3,0.4 -5.4,0.4 -5.5,0.4 -5.7,0.4 -5.7,0.4 -5.9,0.4 -6,0.5 -6.1,0.5 -6.1,0.5 -6.2,0.5 -6.3,0.5 -6.3,0.6 -6.3,0.6 -6.3,0.6 -6.4,0.7 -6.3,0.6 -6.4,0.7 -6.3,0.7 -6.2,0.8 -6.3,0.7 -6.1,0.8 -6.1,0.8 -6.1,0.8 -5.9,0.8 -5.8,0.8 -5.7,0.8 -5.6,0.9 -5.5,0.8 -5.3,0.9 -5.2,0.9 -5,0.8 -4.8,0.9 -4.7,0.8 -4.5,0.9 -4.2,0.8 -4.1,0.8 -3.9,0.8 -3.6,0.8 -3.4,0.8 -3.1,0.7 -2.9,0.7 -2.7,0.7 -2.4,0.6 -2.1,0.6 -1.9,0.5 -1.5,0.5 -1.3,0.4 -1,0.4 -0.7,0.3 -0.5,0.2 -0.1,0.2 0.2,0.1 0.4,0 0.8-0.1 1.1-0.1 1.4-0.3 1.7-0.3 1.9-0.4 2.3-0.6 2.6-0.6 2.8-0.8 3.2-0.8 3.4-1 3.7-1.1 4-1.2 4.2-1.3 4.5-1.4 4.8-1.6 5-1.7 5.2-1.8 5.4-2 5.6-2.1 5.8-2.2 6.1-2.3 6.1-2.4 6.4-2.6 6.4-2.7 6.6-2.9 6.8-2.9 6.8-3.1 6.9-3.2 6.9-3.3 7.1-3.4 7-3.6 7.1-3.6 7.1-3.8 7-3.8 7.1-3.9 7-4 6.9-4.1 6.8-4.2 6.8-4.2 6.6-4.3 6.5-4.4 6.4-4.4 6.2-4.5 6.1-4.5 5.9-4.5 5.6-4.5 5.5-4.6 5.3-4.6 5-4.6 4.8-4.5 4.5-4.6 4.3-4.5 4-4.5 3.7-4.5 3.5-4.4Z" fill="none" stroke="#000" stroke-width="4" stroke-linejoin="round"/>
<path d="M1230.3,517.2L1547.5,608.4M1547.5,608.4L1716,456.7M1716,456.7L1727.4,131.1" fill="none" stroke="#000" stroke-width="4.2" stroke-linecap="square" stroke-linejoin="round"/>
<path d="M1257,529L1265,523M1572,593.4L1560.1,590M1722.8,426.3L1711.4,423.5M1380.7,564.7L1388.4,558.4M1641.3,530.7L1629.7,527.6M1727.3,298.9L1715.8,296.2M1509.9,601.9L1517.3,595.4M1705.9,472.4L1694.5,469.4M1732,166.7L1720.3,164.3" fill="none" stroke="#000" stroke-width="3.8"/>
<text x="1258.7" y="563.7" font-size="34.5" text-anchor="middle" fill="#000">−1</text>
<text x="1380.5" y="597.2" font-size="34.5" text-anchor="middle" fill="#000">0</text>
<text x="1509.5" y="634.9" font-size="34.5" text-anchor="middle" fill="#000">1</text>
<text x="1585" y="626.2" font-size="34.5" text-anchor="middle" fill="#000">−1</text>
<text x="1652.5" y="563.7" font-size="34.5" text-anchor="middle" fill="#000">0</text>
<text x="1719" y="501.2" font-size="34.5" text-anchor="middle" fill="#000">1</text>
<text x="1751" y="177.8" font-size="34.5" text-anchor="middle" fill="#000">1</text>
<text x="1745.7" y="310.8" font-size="34.5" text-anchor="middle" fill="#000">0</text>
<text x="1744.7" y="439.6" font-size="34.5" text-anchor="middle" fill="#000">−1</text>
<text font-size="34.5" text-anchor="middle" transform="translate(1376,630) rotate(16)" y="10.3"><tspan font-style="italic">x</tspan><tspan font-size="20.7" dy="8">s</tspan><tspan dy="-8"> (µm)</tspan></text>
<text font-size="34.5" text-anchor="middle" transform="translate(1711,552) rotate(-42)" y="10.3"><tspan font-style="italic">y</tspan><tspan font-size="20.7" dy="8">s</tspan><tspan dy="-8"> (µm)</tspan></text>
<text font-size="34.5" text-anchor="middle" transform="translate(1796,305) rotate(-90)" y="10.3"><tspan font-style="italic">z</tspan><tspan font-size="20.7" dy="8">s</tspan><tspan dy="-8"> (µm)</tspan></text>
<rect x="1387.6" y="32.5" width="212.6" height="43.2" rx="5" ry="5" fill="#fff" fill-opacity="0.8" stroke="#ccc" stroke-width="2"/>
<path d="M1394,53H1444" stroke="#000" stroke-width="7"/>
<text x="1457.8" y="64.7" font-size="36.1" text-anchor="start" fill="#000">Imposed</text>
<rect x="1852" y="54.5" width="30" height="560.5" fill="url(#gy)" stroke="#000" stroke-width="2.3"/>
<path d="M1852,67.2H1882M1852,145.4H1882M1852,223.7H1882M1852,301.9H1882M1852,380.2H1882M1852,458.4H1882M1852,536.7H1882" stroke="#000" stroke-width="4.2"/>
<path d="M1882,54.4H1886M1882,615.2H1886" stroke="#000" stroke-width="2"/>
<text x="1891.6" y="64.8" font-size="35.6" text-anchor="start" fill="#000">27.0</text>
<text x="0" y="0" font-size="35" text-anchor="middle" fill="#000" transform="translate(1952.5,335) rotate(-90)">time (s)</text>
<g>
<path d="M1210,1074.6V1071.7H1220.8V1074.6M1220.8,1074.6V1070H1231.6V1074.6M1231.6,1074.6V1065.1H1242.4V1074.6M1242.4,1074.6V1053.9H1253.2V1074.6M1253.2,1074.6V1038.1H1263.9V1074.6M1263.9,1074.6V1014.8H1274.7V1074.6M1274.7,1074.6V970.3H1285.5V1074.6M1285.5,1074.6V925.2H1296.3V1074.6M1296.3,1074.6V877.8H1307.1V1074.6M1307.1,1074.6V827.2H1317.9V1074.6M1317.9,1074.6V806H1328.7V1074.6M1328.7,1074.6V791.9H1339.5V1074.6M1339.5,1074.6V792.8H1350.3V1074.6M1350.3,1074.6V835.6H1361V1074.6M1361,1074.6V876.4H1371.8V1074.6M1371.8,1074.6V922.9H1382.6V1074.6M1382.6,1074.6V976.6H1393.4V1074.6M1393.4,1074.6V1011.4H1404.2V1074.6M1404.2,1074.6V1042.1H1415V1074.6M1415,1074.6V1057.4H1425.8V1074.6M1425.8,1074.6V1067.1H1436.6V1074.6M1436.6,1074.6V1071.4H1447.4V1074.6M1447.4,1074.6V1073.5H1458.2V1074.6" fill="#85bffb" stroke="#000" stroke-width="2.1" stroke-linejoin="miter"/>
<path d="M1334.1,787.3l-1.6,0.2 -1.5,0.8 -1.6,1.2 -1.6,1.7 -1.5,2.1 -1.6,2.7 -1.5,3 -1.6,3.5 -1.5,3.9 -1.6,4.3 -1.6,4.7 -1.5,5 -1.6,5.3 -1.5,5.7 -1.6,5.9 -1.5,6.2 -1.6,6.4 -1.6,6.6 -1.5,6.7 -1.6,6.9 -1.5,7 -1.6,7.1 -1.5,7.1 -1.6,7.2 -1.6,7.2 -1.5,7.2 -1.6,7.1 -1.5,7 -1.6,7 -1.5,6.9 -1.6,6.8 -1.6,6.6 -1.5,6.4 -1.6,6.3 -1.5,6.2 -1.6,5.9 -1.5,5.8 -1.6,5.5 -1.5,5.3 -1.6,5.2 -1.6,4.9 -1.5,4.6 -1.6,4.5 -1.5,4.3 -1.6,4 -1.5,3.8 -1.6,3.7 -1.6,3.4 -1.5,3.2 -1.6,3 -1.5,2.8 -1.6,2.6 -1.5,2.5 -1.6,2.3 -1.6,2.1 -1.5,2 -1.6,1.8 -1.5,1.7 -1.6,1.6 -1.5,1.4 -1.6,1.3 -1.6,1.2 -1.5,1.2 -1.6,1 -1.5,0.9 -1.6,0.8 -1.5,0.8 -1.6,0.7 -1.6,0.6 -1.5,0.5 -1.6,0.5 -1.5,0.5 -1.6,0.4 -1.5,0.4 -1.6,0.3 -1.6,0.3 -1.5,0.2 -1.6,0.3 -1.5,0.2" fill="none" stroke="#000" stroke-width="6.6" stroke-dasharray="23,10" stroke-dashoffset="11.5"/>
<path d="M1334.1,787.3l1.5,0.2 1.6,0.8 1.5,1.2 1.6,1.7 1.6,2.1 1.5,2.7 1.6,3 1.5,3.5 1.6,3.9 1.5,4.3 1.6,4.7 1.6,5 1.5,5.3 1.6,5.7 1.5,5.9 1.6,6.2 1.5,6.4 1.6,6.6 1.6,6.7 1.5,6.9 1.6,7 1.5,7.1 1.6,7.1 1.5,7.2 1.6,7.2 1.6,7.2 1.5,7.1 1.6,7 1.5,7 1.6,6.9 1.5,6.8 1.6,6.6 1.6,6.4 1.5,6.3 1.6,6.2 1.5,5.9 1.6,5.8 1.5,5.5 1.6,5.3 1.6,5.2 1.5,4.9 1.6,4.6 1.5,4.5 1.6,4.3 1.5,4 1.6,3.8 1.6,3.7 1.5,3.4 1.6,3.2 1.5,3 1.6,2.8 1.5,2.6 1.6,2.5 1.6,2.3 1.5,2.1 1.6,2 1.5,1.8 1.6,1.7 1.5,1.6 1.6,1.4 1.6,1.3 1.5,1.2 1.6,1.2 1.5,1 1.6,0.9 1.5,0.8 1.6,0.8 1.6,0.7 1.5,0.6 1.6,0.5 1.5,0.5 1.6,0.5 1.5,0.4 1.6,0.4 1.6,0.3 1.5,0.3 1.6,0.2 1.5,0.3 1.6,0.2" fill="none" stroke="#000" stroke-width="6.6" stroke-dasharray="23,10" stroke-dashoffset="11.5"/>
<rect x="1204.4" y="735.7" width="259.3" height="338.9" fill="none" stroke="#000" stroke-width="2.3"/>
<path d="M1199.9,1017.1h9M1199.9,959.7h9M1199.9,902.2h9M1199.9,844.8h9M1199.9,787.3h9M1226.2,1074.6v4.5M1334.1,1074.6v4.5M1442,1074.6v4.5" stroke="#000" stroke-width="2.3" fill="none"/>
<text x="1209.6" y="768" font-size="36" text-anchor="start" fill="#000">σ ≈ 35 nm</text>
<text x="1237.5" y="1111.4" font-size="36" text-anchor="middle" fill="#000">−100</text>
<text x="1334.1" y="1111.4" font-size="36" text-anchor="middle" fill="#000">0</text>
<text x="1429.6" y="1111.4" font-size="36" text-anchor="middle" fill="#000">100</text>
<text x="1348.5" y="1139.5" font-size="36" text-anchor="middle" fill="#000">Δx (nm)</text>
</g>
<g>
<path d="M1489.4,1074.6V1073.5H1500.2V1074.6M1500.2,1074.6V1071.7H1511V1074.6M1511,1074.6V1067.7H1521.8V1074.6M1521.8,1074.6V1055.6H1532.6V1074.6M1532.6,1074.6V1040.1H1543.4V1074.6M1543.4,1074.6V1002.8H1554.1V1074.6M1554.1,1074.6V954.5H1564.9V1074.6M1564.9,1074.6V894.5H1575.7V1074.6M1575.7,1074.6V843H1586.5V1074.6M1586.5,1074.6V795.6H1597.3V1074.6M1597.3,1074.6V787.9H1608.1V1074.6M1608.1,1074.6V812.9H1618.9V1074.6M1618.9,1074.6V849.9H1629.7V1074.6M1629.7,1074.6V889H1640.5V1074.6M1640.5,1074.6V950.2H1651.3V1074.6M1651.3,1074.6V1002.8H1662V1074.6M1662,1074.6V1037.3H1672.8V1074.6M1672.8,1074.6V1055.1H1683.6V1074.6M1683.6,1074.6V1066H1694.4V1074.6M1694.4,1074.6V1070.9H1705.2V1074.6M1705.2,1074.6V1073.5H1716V1074.6" fill="#85bffb" stroke="#000" stroke-width="2.1" stroke-linejoin="miter"/>
<path d="M1602.7,787.3l-1.6,0.3 -1.5,1 -1.6,1.7 -1.5,2.3 -1.6,2.9 -1.5,3.5 -1.6,4.1 -1.6,4.7 -1.5,5.2 -1.6,5.7 -1.5,6.1 -1.6,6.6 -1.5,6.9 -1.6,7.3 -1.6,7.5 -1.5,7.8 -1.6,8 -1.5,8.2 -1.6,8.3 -1.5,8.3 -1.6,8.4 -1.6,8.4 -1.5,8.3 -1.6,8.2 -1.5,8.2 -1.6,8 -1.5,7.8 -1.6,7.6 -1.6,7.4 -1.5,7.2 -1.6,6.9 -1.5,6.6 -1.6,6.4 -1.5,6.1 -1.6,5.8 -1.6,5.4 -1.5,5.2 -1.6,4.9 -1.5,4.7 -1.6,4.3 -1.5,4 -1.6,3.8 -1.6,3.5 -1.5,3.2 -1.6,3 -1.5,2.8 -1.6,2.5 -1.5,2.3 -1.6,2.1 -1.6,2 -1.5,1.7 -1.6,1.6 -1.5,1.5 -1.6,1.3 -1.5,1.1 -1.6,1.1 -1.6,0.9 -1.5,0.8 -1.6,0.8 -1.5,0.6 -1.6,0.6 -1.5,0.5 -1.6,0.5 -1.6,0.4 -1.5,0.3 -1.6,0.3 -1.5,0.3 -1.6,0.2 -1.5,0.2 -1.6,0.2 -1.5,0.2 -1.6,0.1 -1.6,0.1 -1.5,0.1 -1.6,0.1 -1.5,0 -1.6,0.1 -1.5,0 -1.6,0.1" fill="none" stroke="#000" stroke-width="6.6" stroke-dasharray="23,10" stroke-dashoffset="11.5"/>
<path d="M1602.7,787.3l1.6,0.3 1.5,1 1.6,1.7 1.5,2.3 1.6,2.9 1.5,3.5 1.6,4.1 1.6,4.7 1.5,5.2 1.6,5.7 1.5,6.1 1.6,6.6 1.5,6.9 1.6,7.3 1.6,7.5 1.5,7.8 1.6,8 1.5,8.2 1.6,8.3 1.5,8.3 1.6,8.4 1.6,8.4 1.5,8.3 1.6,8.2 1.5,8.2 1.6,8 1.5,7.8 1.6,7.6 1.6,7.4 1.5,7.2 1.6,6.9 1.5,6.6 1.6,6.4 1.5,6.1 1.6,5.8 1.6,5.4 1.5,5.2 1.6,4.9 1.5,4.7 1.6,4.3 1.5,4 1.6,3.8 1.6,3.5 1.5,3.2 1.6,3 1.5,2.8 1.6,2.5 1.5,2.3 1.6,2.1 1.6,2 1.5,1.7 1.6,1.6 1.5,1.5 1.6,1.3 1.5,1.1 1.6,1.1 1.6,0.9 1.5,0.8 1.6,0.8 1.5,0.6 1.6,0.6 1.5,0.5 1.6,0.5 1.6,0.4 1.5,0.3 1.6,0.3 1.5,0.3 1.6,0.2 1.5,0.2 1.6,0.2 1.5,0.2 1.6,0.1 1.6,0.1 1.5,0.1 1.6,0.1 1.5,0 1.6,0.1 1.5,0 1.6,0.1" fill="none" stroke="#000" stroke-width="6.6" stroke-dasharray="23,10" stroke-dashoffset="11.5"/>
<rect x="1473" y="735.7" width="259.4" height="338.9" fill="none" stroke="#000" stroke-width="2.3"/>
<path d="M1473,1017.1h5M1473,959.7h5M1473,902.2h5M1473,844.8h5M1473,787.3h5M1494.8,1074.6v4.5M1602.7,1074.6v4.5M1710.6,1074.6v4.5" stroke="#000" stroke-width="2.3" fill="none"/>
<text x="1478.2" y="768" font-size="36" text-anchor="start" fill="#000">σ ≈ 30 nm</text>
<text x="1506.1" y="1111.4" font-size="36" text-anchor="middle" fill="#000">−100</text>
<text x="1602.7" y="1111.4" font-size="36" text-anchor="middle" fill="#000">0</text>
<text x="1698.2" y="1111.4" font-size="36" text-anchor="middle" fill="#000">100</text>
<text x="1617.1" y="1139.5" font-size="36" text-anchor="middle" fill="#000">Δy (nm)</text>
</g>
<g>
<path d="M1747.2,1074.6V1070.6H1758V1074.6M1758,1074.6V1067.1H1768.7V1074.6M1768.7,1074.6V1053.1H1779.5V1074.6M1779.5,1074.6V1042.1H1790.3V1074.6M1790.3,1074.6V1025.5H1801.1V1074.6M1801.1,1074.6V992.4H1811.9V1074.6M1811.9,1074.6V945.6H1822.7V1074.6M1822.7,1074.6V906.5H1833.5V1074.6M1833.5,1074.6V859.7H1844.3V1074.6M1844.3,1074.6V810H1855.1V1074.6M1855.1,1074.6V792.8H1865.9V1074.6M1865.9,1074.6V792.8H1876.6V1074.6M1876.6,1074.6V792.5H1887.4V1074.6M1887.4,1074.6V829.5H1898.2V1074.6M1898.2,1074.6V859.1H1909V1074.6M1909,1074.6V910.8H1919.8V1074.6M1919.8,1074.6V941H1930.6V1074.6M1930.6,1074.6V983.2H1941.4V1074.6M1941.4,1074.6V1017.1H1952.2V1074.6M1952.2,1074.6V1036.1H1963V1074.6M1963,1074.6V1051H1973.8V1074.6M1973.8,1074.6V1062.5H1984.5V1074.6M1984.5,1074.6V1069.1H1995.3V1074.6" fill="#85bffb" stroke="#000" stroke-width="2.1" stroke-linejoin="miter"/>
<path d="M1871.2,787.3l-1.5,0.2 -1.6,0.6 -1.5,1 -1.6,1.3 -1.5,1.8 -1.6,2.1 -1.5,2.5 -1.6,2.8 -1.6,3.2 -1.5,3.5 -1.6,3.8 -1.5,4.2 -1.6,4.4 -1.5,4.7 -1.6,4.9 -1.6,5.2 -1.5,5.4 -1.6,5.5 -1.5,5.8 -1.6,5.9 -1.5,6.1 -1.6,6.1 -1.6,6.3 -1.5,6.3 -1.6,6.4 -1.5,6.4 -1.6,6.5 -1.5,6.4 -1.6,6.4 -1.6,6.4 -1.5,6.4 -1.6,6.3 -1.5,6.2 -1.6,6.1 -1.5,6 -1.6,5.9 -1.6,5.8 -1.5,5.6 -1.6,5.5 -1.5,5.3 -1.6,5.2 -1.5,5 -1.6,4.9 -1.6,4.7 -1.5,4.5 -1.6,4.3 -1.5,4.2 -1.6,4 -1.5,3.8 -1.6,3.6 -1.6,3.5 -1.5,3.3 -1.6,3.1 -1.5,3 -1.6,2.8 -1.5,2.6 -1.6,2.5 -1.6,2.4 -1.5,2.2 -1.6,2.1 -1.5,1.9 -1.6,1.8 -1.5,1.7 -1.6,1.6 -1.6,1.5 -1.5,1.3 -1.6,1.3 -1.5,1.2 -1.6,1.1 -1.5,1 -1.6,0.9 -1.6,0.8 -1.5,0.8 -1.6,0.7 -1.5,0.7 -1.6,0.6 -1.5,0.5 -1.6,0.5 -1.6,0.5" fill="none" stroke="#000" stroke-width="6.6" stroke-dasharray="23,10" stroke-dashoffset="11.5"/>
<path d="M1871.2,787.3l1.6,0.2 1.6,0.6 1.5,1 1.6,1.3 1.5,1.8 1.6,2.1 1.5,2.5 1.6,2.8 1.6,3.2 1.5,3.5 1.6,3.8 1.5,4.2 1.6,4.4 1.5,4.7 1.6,4.9 1.6,5.2 1.5,5.4 1.6,5.5 1.5,5.8 1.6,5.9 1.5,6.1 1.6,6.1 1.6,6.3 1.5,6.3 1.6,6.4 1.5,6.4 1.6,6.5 1.5,6.4 1.6,6.4 1.6,6.4 1.5,6.4 1.6,6.3 1.5,6.2 1.6,6.1 1.5,6 1.6,5.9 1.6,5.8 1.5,5.6 1.6,5.5 1.5,5.3 1.6,5.2 1.5,5 1.6,4.9 1.6,4.7 1.5,4.5 1.6,4.3 1.5,4.2 1.6,4 1.5,3.8 1.6,3.6 1.6,3.5 1.5,3.3 1.6,3.1 1.5,3 1.6,2.8 1.5,2.6 1.6,2.5 1.6,2.4 1.5,2.2 1.6,2.1 1.5,1.9 1.6,1.8 1.5,1.7 1.6,1.6 1.6,1.5 1.5,1.3 1.6,1.3 1.5,1.2 1.6,1.1 1.5,1 1.6,0.9 1.6,0.8 1.5,0.8 1.6,0.7 1.5,0.7 1.6,0.6 1.5,0.5 1.6,0.5 1.6,0.5" fill="none" stroke="#000" stroke-width="6.6" stroke-dasharray="23,10" stroke-dashoffset="11.5"/>
<rect x="1741.6" y="735.7" width="259.3" height="338.9" fill="none" stroke="#000" stroke-width="2.3"/>
<path d="M1741.6,1017.1h5M1741.6,959.7h5M1741.6,902.2h5M1741.6,844.8h5M1741.6,787.3h5M1763.3,1074.6v4.5M1871.2,1074.6v4.5M1979.2,1074.6v4.5" stroke="#000" stroke-width="2.3" fill="none"/>
<text x="1746.8" y="768" font-size="36" text-anchor="start" fill="#000">σ ≈ 39 nm</text>
<text x="1774.7" y="1111.4" font-size="36" text-anchor="middle" fill="#000">−100</text>
<text x="1871.2" y="1111.4" font-size="36" text-anchor="middle" fill="#000">0</text>
<text x="1966.8" y="1111.4" font-size="36" text-anchor="middle" fill="#000">100</text>
<text x="1885.7" y="1139.5" font-size="36" text-anchor="middle" fill="#000">Δz (nm)</text>
</g>
<text x="1196.5" y="1086.9" font-size="31.5" text-anchor="end" fill="#000">0.0</text>
<text x="1196.5" y="1029.4" font-size="31.5" text-anchor="end" fill="#000">0.2</text>
<text x="1196.5" y="972" font-size="31.5" text-anchor="end" fill="#000">0.4</text>
<text x="1196.5" y="914.5" font-size="31.5" text-anchor="end" fill="#000">0.6</text>
<text x="1196.5" y="857.1" font-size="31.5" text-anchor="end" fill="#000">0.8</text>
<text x="1196.5" y="799.6" font-size="31.5" text-anchor="end" fill="#000">1.0</text>
<text x="0" y="0" font-size="31.5" text-anchor="start" fill="#000" transform="translate(1142.4,1078.3) rotate(-90)">occurences (arb.units)</text>
</svg></body></html>
